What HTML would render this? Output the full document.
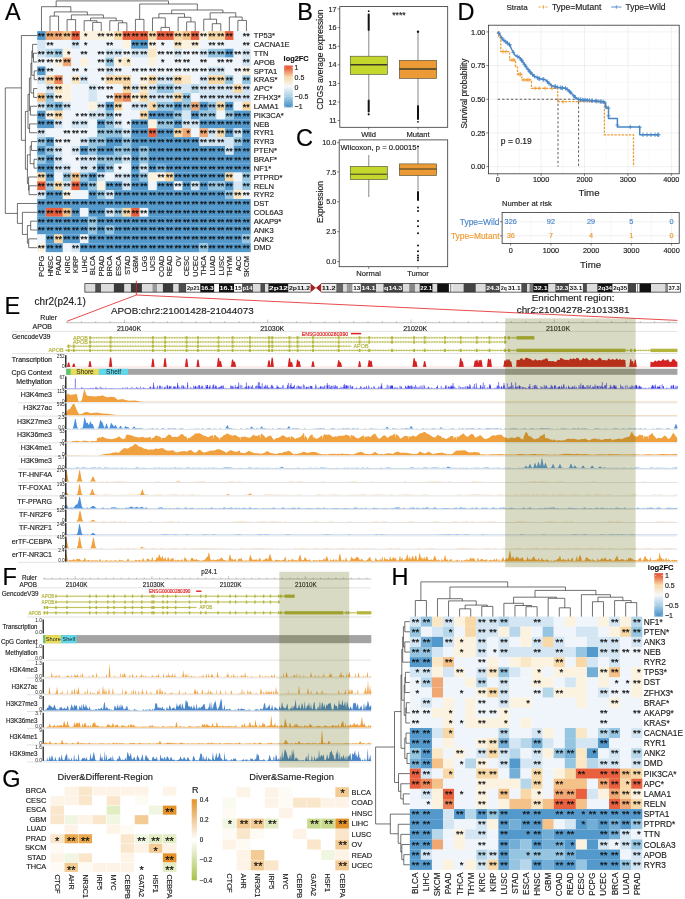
<!DOCTYPE html>
<html lang="en"><head><meta charset="utf-8"><title>Figure</title>
<style>html,body{margin:0;padding:0;background:#fff}svg{display:block}text{font-family:"Liberation Sans", Arial, sans-serif;stroke:#222;stroke-width:.16px}.st text{stroke:#111;stroke-width:.22px}.ns text,text.n{stroke:none}</style>
</head><body>
<svg width="685" height="899" viewBox="0 0 685 899" fill="#222">
<defs>
<linearGradient id="gRB" x1="0" y1="0" x2="0" y2="1"><stop offset="0" stop-color="#e8563a"/><stop offset="0.06" stop-color="#e9603f"/><stop offset="0.27" stop-color="#f7d8a6"/><stop offset="0.5" stop-color="#f6f8fb"/><stop offset="0.75" stop-color="#a6cde5"/><stop offset="0.96" stop-color="#5499cc"/><stop offset="1" stop-color="#4f95ca"/></linearGradient>
<linearGradient id="gOG" x1="0" y1="0" x2="0" y2="1"><stop offset="0" stop-color="#e3922a"/><stop offset="0.5" stop-color="#ffffff"/><stop offset="1" stop-color="#a8c24a"/></linearGradient>
</defs>
<rect x="0" y="0" width="685" height="899" fill="#fff"/>
<g id="pA">
<text x="5" y="19.8" font-size="23.5" fill="#000" style="stroke:#000">A</text>
<rect x="37.2" y="31.1" width="8.59" height="8.89" fill="#5499cc"/>
<rect x="45.74" y="31.1" width="17.13" height="8.89" fill="#f0a773"/>
<rect x="62.82" y="31.1" width="8.59" height="8.89" fill="#f4c189"/>
<rect x="71.36" y="31.1" width="8.59" height="8.89" fill="#e9603f"/>
<rect x="79.9" y="31.1" width="34.21" height="8.89" fill="#fbf3e0"/>
<rect x="114.06" y="31.1" width="8.59" height="8.89" fill="#f7d8a6"/>
<rect x="122.6" y="31.1" width="25.67" height="8.89" fill="#e9603f"/>
<rect x="148.22" y="31.1" width="8.59" height="8.89" fill="#f7d8a6"/>
<rect x="156.76" y="31.1" width="17.13" height="8.89" fill="#e9603f"/>
<rect x="173.84" y="31.1" width="8.59" height="8.89" fill="#f7d8a6"/>
<rect x="182.38" y="31.1" width="8.59" height="8.89" fill="#f4c189"/>
<rect x="190.92" y="31.1" width="8.59" height="8.89" fill="#e9603f"/>
<rect x="199.46" y="31.1" width="8.59" height="8.89" fill="#fbf3e0"/>
<rect x="208" y="31.1" width="17.13" height="8.89" fill="#f7d8a6"/>
<rect x="225.08" y="31.1" width="8.59" height="8.89" fill="#e9603f"/>
<rect x="233.62" y="31.1" width="17.13" height="8.89" fill="#eff5fa"/>
<rect x="37.2" y="39.94" width="8.59" height="8.89" fill="#d4e6f3"/>
<rect x="45.74" y="39.94" width="25.67" height="8.89" fill="#eff5fa"/>
<rect x="71.36" y="39.94" width="8.59" height="8.89" fill="#d4e6f3"/>
<rect x="79.9" y="39.94" width="42.75" height="8.89" fill="#eff5fa"/>
<rect x="122.6" y="39.94" width="8.59" height="8.89" fill="#fbf3e0"/>
<rect x="131.14" y="39.94" width="17.13" height="8.89" fill="#5499cc"/>
<rect x="148.22" y="39.94" width="8.59" height="8.89" fill="#fbf3e0"/>
<rect x="156.76" y="39.94" width="17.13" height="8.89" fill="#eff5fa"/>
<rect x="173.84" y="39.94" width="8.59" height="8.89" fill="#f9e7c6"/>
<rect x="182.38" y="39.94" width="17.13" height="8.89" fill="#fbf3e0"/>
<rect x="199.46" y="39.94" width="51.29" height="8.89" fill="#eff5fa"/>
<rect x="37.2" y="48.78" width="8.59" height="8.89" fill="#d4e6f3"/>
<rect x="45.74" y="48.78" width="8.59" height="8.89" fill="#b6d6ea"/>
<rect x="54.28" y="48.78" width="8.59" height="8.89" fill="#95c5e0"/>
<rect x="62.82" y="48.78" width="8.59" height="8.89" fill="#fbf3e0"/>
<rect x="71.36" y="48.78" width="34.21" height="8.89" fill="#eff5fa"/>
<rect x="105.52" y="48.78" width="17.13" height="8.89" fill="#d4e6f3"/>
<rect x="122.6" y="48.78" width="8.59" height="8.89" fill="#eff5fa"/>
<rect x="131.14" y="48.78" width="17.13" height="8.89" fill="#d4e6f3"/>
<rect x="148.22" y="48.78" width="8.59" height="8.89" fill="#f9e7c6"/>
<rect x="156.76" y="48.78" width="17.13" height="8.89" fill="#eff5fa"/>
<rect x="173.84" y="48.78" width="8.59" height="8.89" fill="#d4e6f3"/>
<rect x="182.38" y="48.78" width="17.13" height="8.89" fill="#eff5fa"/>
<rect x="199.46" y="48.78" width="8.59" height="8.89" fill="#d4e6f3"/>
<rect x="208" y="48.78" width="17.13" height="8.89" fill="#95c5e0"/>
<rect x="225.08" y="48.78" width="8.59" height="8.89" fill="#5499cc"/>
<rect x="233.62" y="48.78" width="8.59" height="8.89" fill="#eff5fa"/>
<rect x="242.16" y="48.78" width="8.59" height="8.89" fill="#d4e6f3"/>
<rect x="37.2" y="57.62" width="17.13" height="8.89" fill="#eff5fa"/>
<rect x="54.28" y="57.62" width="8.59" height="8.89" fill="#fbf3e0"/>
<rect x="62.82" y="57.62" width="8.59" height="8.89" fill="#f0a773"/>
<rect x="71.36" y="57.62" width="8.59" height="8.89" fill="#eff5fa"/>
<rect x="79.9" y="57.62" width="8.59" height="8.89" fill="#fbf3e0"/>
<rect x="88.44" y="57.62" width="17.13" height="8.89" fill="#eff5fa"/>
<rect x="105.52" y="57.62" width="8.59" height="8.89" fill="#95c5e0"/>
<rect x="114.06" y="57.62" width="8.59" height="8.89" fill="#fbf3e0"/>
<rect x="122.6" y="57.62" width="8.59" height="8.89" fill="#f9e7c6"/>
<rect x="131.14" y="57.62" width="17.13" height="8.89" fill="#eff5fa"/>
<rect x="148.22" y="57.62" width="8.59" height="8.89" fill="#fbf3e0"/>
<rect x="156.76" y="57.62" width="85.45" height="8.89" fill="#eff5fa"/>
<rect x="242.16" y="57.62" width="8.59" height="8.89" fill="#d4e6f3"/>
<rect x="37.2" y="66.46" width="8.59" height="8.89" fill="#5499cc"/>
<rect x="45.74" y="66.46" width="59.83" height="8.89" fill="#eff5fa"/>
<rect x="105.52" y="66.46" width="8.59" height="8.89" fill="#d4e6f3"/>
<rect x="114.06" y="66.46" width="93.99" height="8.89" fill="#eff5fa"/>
<rect x="208" y="66.46" width="17.13" height="8.89" fill="#d4e6f3"/>
<rect x="225.08" y="66.46" width="17.13" height="8.89" fill="#eff5fa"/>
<rect x="242.16" y="66.46" width="8.59" height="8.89" fill="#fbf3e0"/>
<rect x="37.2" y="75.3" width="8.59" height="8.89" fill="#d4e6f3"/>
<rect x="45.74" y="75.3" width="8.59" height="8.89" fill="#f7d8a6"/>
<rect x="54.28" y="75.3" width="8.59" height="8.89" fill="#ec8558"/>
<rect x="62.82" y="75.3" width="8.59" height="8.89" fill="#eff5fa"/>
<rect x="71.36" y="75.3" width="8.59" height="8.89" fill="#f9e7c6"/>
<rect x="79.9" y="75.3" width="8.59" height="8.89" fill="#d4e6f3"/>
<rect x="88.44" y="75.3" width="17.13" height="8.89" fill="#eff5fa"/>
<rect x="105.52" y="75.3" width="25.67" height="8.89" fill="#f7d8a6"/>
<rect x="131.14" y="75.3" width="8.59" height="8.89" fill="#eff5fa"/>
<rect x="139.68" y="75.3" width="8.59" height="8.89" fill="#fbf3e0"/>
<rect x="148.22" y="75.3" width="8.59" height="8.89" fill="#f7d8a6"/>
<rect x="156.76" y="75.3" width="17.13" height="8.89" fill="#d4e6f3"/>
<rect x="173.84" y="75.3" width="8.59" height="8.89" fill="#f7d8a6"/>
<rect x="182.38" y="75.3" width="8.59" height="8.89" fill="#f9e7c6"/>
<rect x="190.92" y="75.3" width="8.59" height="8.89" fill="#eff5fa"/>
<rect x="199.46" y="75.3" width="8.59" height="8.89" fill="#d4e6f3"/>
<rect x="208" y="75.3" width="17.13" height="8.89" fill="#f7d8a6"/>
<rect x="225.08" y="75.3" width="8.59" height="8.89" fill="#95c5e0"/>
<rect x="233.62" y="75.3" width="8.59" height="8.89" fill="#eff5fa"/>
<rect x="242.16" y="75.3" width="8.59" height="8.89" fill="#95c5e0"/>
<rect x="37.2" y="84.14" width="8.59" height="8.89" fill="#eff5fa"/>
<rect x="45.74" y="84.14" width="8.59" height="8.89" fill="#d4e6f3"/>
<rect x="54.28" y="84.14" width="8.59" height="8.89" fill="#f9e7c6"/>
<rect x="62.82" y="84.14" width="8.59" height="8.89" fill="#fbf3e0"/>
<rect x="71.36" y="84.14" width="17.13" height="8.89" fill="#eff5fa"/>
<rect x="88.44" y="84.14" width="8.59" height="8.89" fill="#d4e6f3"/>
<rect x="96.98" y="84.14" width="25.67" height="8.89" fill="#eff5fa"/>
<rect x="122.6" y="84.14" width="8.59" height="8.89" fill="#f7d8a6"/>
<rect x="131.14" y="84.14" width="8.59" height="8.89" fill="#d4e6f3"/>
<rect x="139.68" y="84.14" width="8.59" height="8.89" fill="#f9e7c6"/>
<rect x="148.22" y="84.14" width="8.59" height="8.89" fill="#d4e6f3"/>
<rect x="156.76" y="84.14" width="17.13" height="8.89" fill="#95c5e0"/>
<rect x="173.84" y="84.14" width="17.13" height="8.89" fill="#d4e6f3"/>
<rect x="190.92" y="84.14" width="8.59" height="8.89" fill="#b6d6ea"/>
<rect x="199.46" y="84.14" width="34.21" height="8.89" fill="#d4e6f3"/>
<rect x="233.62" y="84.14" width="8.59" height="8.89" fill="#f7d8a6"/>
<rect x="242.16" y="84.14" width="8.59" height="8.89" fill="#d4e6f3"/>
<rect x="37.2" y="92.98" width="8.59" height="8.89" fill="#f4c189"/>
<rect x="45.74" y="92.98" width="8.59" height="8.89" fill="#95c5e0"/>
<rect x="54.28" y="92.98" width="17.13" height="8.89" fill="#fbf3e0"/>
<rect x="71.36" y="92.98" width="17.13" height="8.89" fill="#eff5fa"/>
<rect x="88.44" y="92.98" width="8.59" height="8.89" fill="#d4e6f3"/>
<rect x="96.98" y="92.98" width="17.13" height="8.89" fill="#eff5fa"/>
<rect x="114.06" y="92.98" width="8.59" height="8.89" fill="#f0a773"/>
<rect x="122.6" y="92.98" width="8.59" height="8.89" fill="#ec8558"/>
<rect x="131.14" y="92.98" width="8.59" height="8.89" fill="#fbf3e0"/>
<rect x="139.68" y="92.98" width="8.59" height="8.89" fill="#f7d8a6"/>
<rect x="148.22" y="92.98" width="25.67" height="8.89" fill="#d4e6f3"/>
<rect x="173.84" y="92.98" width="8.59" height="8.89" fill="#f7d8a6"/>
<rect x="182.38" y="92.98" width="8.59" height="8.89" fill="#95c5e0"/>
<rect x="190.92" y="92.98" width="8.59" height="8.89" fill="#eff5fa"/>
<rect x="199.46" y="92.98" width="51.29" height="8.89" fill="#d4e6f3"/>
<rect x="37.2" y="101.82" width="8.59" height="8.89" fill="#d4e6f3"/>
<rect x="45.74" y="101.82" width="8.59" height="8.89" fill="#95c5e0"/>
<rect x="54.28" y="101.82" width="8.59" height="8.89" fill="#72aed6"/>
<rect x="62.82" y="101.82" width="8.59" height="8.89" fill="#d4e6f3"/>
<rect x="71.36" y="101.82" width="17.13" height="8.89" fill="#eff5fa"/>
<rect x="88.44" y="101.82" width="8.59" height="8.89" fill="#fbf3e0"/>
<rect x="96.98" y="101.82" width="8.59" height="8.89" fill="#d4e6f3"/>
<rect x="105.52" y="101.82" width="8.59" height="8.89" fill="#5499cc"/>
<rect x="114.06" y="101.82" width="8.59" height="8.89" fill="#f7d8a6"/>
<rect x="122.6" y="101.82" width="8.59" height="8.89" fill="#eff5fa"/>
<rect x="131.14" y="101.82" width="17.13" height="8.89" fill="#d4e6f3"/>
<rect x="148.22" y="101.82" width="8.59" height="8.89" fill="#f7d8a6"/>
<rect x="156.76" y="101.82" width="17.13" height="8.89" fill="#95c5e0"/>
<rect x="173.84" y="101.82" width="8.59" height="8.89" fill="#5499cc"/>
<rect x="182.38" y="101.82" width="8.59" height="8.89" fill="#95c5e0"/>
<rect x="190.92" y="101.82" width="8.59" height="8.89" fill="#f0a773"/>
<rect x="199.46" y="101.82" width="8.59" height="8.89" fill="#5499cc"/>
<rect x="208" y="101.82" width="8.59" height="8.89" fill="#95c5e0"/>
<rect x="216.54" y="101.82" width="8.59" height="8.89" fill="#f7d8a6"/>
<rect x="225.08" y="101.82" width="8.59" height="8.89" fill="#5499cc"/>
<rect x="233.62" y="101.82" width="8.59" height="8.89" fill="#eff5fa"/>
<rect x="242.16" y="101.82" width="8.59" height="8.89" fill="#f7d8a6"/>
<rect x="37.2" y="110.66" width="8.59" height="8.89" fill="#5499cc"/>
<rect x="45.74" y="110.66" width="8.59" height="8.89" fill="#fbf3e0"/>
<rect x="54.28" y="110.66" width="8.59" height="8.89" fill="#f7d8a6"/>
<rect x="62.82" y="110.66" width="25.67" height="8.89" fill="#eff5fa"/>
<rect x="88.44" y="110.66" width="17.13" height="8.89" fill="#d4e6f3"/>
<rect x="105.52" y="110.66" width="8.59" height="8.89" fill="#95c5e0"/>
<rect x="114.06" y="110.66" width="25.67" height="8.89" fill="#eff5fa"/>
<rect x="139.68" y="110.66" width="8.59" height="8.89" fill="#f7d8a6"/>
<rect x="148.22" y="110.66" width="25.67" height="8.89" fill="#5499cc"/>
<rect x="173.84" y="110.66" width="8.59" height="8.89" fill="#95c5e0"/>
<rect x="182.38" y="110.66" width="8.59" height="8.89" fill="#d4e6f3"/>
<rect x="190.92" y="110.66" width="8.59" height="8.89" fill="#5499cc"/>
<rect x="199.46" y="110.66" width="17.13" height="8.89" fill="#95c5e0"/>
<rect x="216.54" y="110.66" width="8.59" height="8.89" fill="#eff5fa"/>
<rect x="225.08" y="110.66" width="8.59" height="8.89" fill="#95c5e0"/>
<rect x="233.62" y="110.66" width="17.13" height="8.89" fill="#5499cc"/>
<rect x="37.2" y="119.5" width="17.13" height="8.89" fill="#5499cc"/>
<rect x="54.28" y="119.5" width="8.59" height="8.89" fill="#d4e6f3"/>
<rect x="62.82" y="119.5" width="8.59" height="8.89" fill="#eff5fa"/>
<rect x="71.36" y="119.5" width="17.13" height="8.89" fill="#d4e6f3"/>
<rect x="88.44" y="119.5" width="8.59" height="8.89" fill="#eff5fa"/>
<rect x="96.98" y="119.5" width="8.59" height="8.89" fill="#5499cc"/>
<rect x="105.52" y="119.5" width="8.59" height="8.89" fill="#95c5e0"/>
<rect x="114.06" y="119.5" width="8.59" height="8.89" fill="#d4e6f3"/>
<rect x="122.6" y="119.5" width="8.59" height="8.89" fill="#eff5fa"/>
<rect x="131.14" y="119.5" width="17.13" height="8.89" fill="#5499cc"/>
<rect x="148.22" y="119.5" width="8.59" height="8.89" fill="#fbf3e0"/>
<rect x="156.76" y="119.5" width="17.13" height="8.89" fill="#95c5e0"/>
<rect x="173.84" y="119.5" width="8.59" height="8.89" fill="#5499cc"/>
<rect x="182.38" y="119.5" width="17.13" height="8.89" fill="#d4e6f3"/>
<rect x="199.46" y="119.5" width="51.29" height="8.89" fill="#5499cc"/>
<rect x="37.2" y="128.34" width="8.59" height="8.89" fill="#d4e6f3"/>
<rect x="45.74" y="128.34" width="51.29" height="8.89" fill="#eff5fa"/>
<rect x="96.98" y="128.34" width="25.67" height="8.89" fill="#95c5e0"/>
<rect x="122.6" y="128.34" width="8.59" height="8.89" fill="#d4e6f3"/>
<rect x="131.14" y="128.34" width="17.13" height="8.89" fill="#5499cc"/>
<rect x="148.22" y="128.34" width="8.59" height="8.89" fill="#e9603f"/>
<rect x="156.76" y="128.34" width="17.13" height="8.89" fill="#5499cc"/>
<rect x="173.84" y="128.34" width="8.59" height="8.89" fill="#f7d8a6"/>
<rect x="182.38" y="128.34" width="8.59" height="8.89" fill="#f0a773"/>
<rect x="190.92" y="128.34" width="8.59" height="8.89" fill="#eff5fa"/>
<rect x="199.46" y="128.34" width="8.59" height="8.89" fill="#f0a773"/>
<rect x="208" y="128.34" width="8.59" height="8.89" fill="#d4e6f3"/>
<rect x="216.54" y="128.34" width="8.59" height="8.89" fill="#f7d8a6"/>
<rect x="225.08" y="128.34" width="8.59" height="8.89" fill="#5499cc"/>
<rect x="233.62" y="128.34" width="8.59" height="8.89" fill="#d4e6f3"/>
<rect x="242.16" y="128.34" width="8.59" height="8.89" fill="#5499cc"/>
<rect x="37.2" y="137.18" width="8.59" height="8.89" fill="#95c5e0"/>
<rect x="45.74" y="137.18" width="8.59" height="8.89" fill="#5499cc"/>
<rect x="54.28" y="137.18" width="25.67" height="8.89" fill="#eff5fa"/>
<rect x="79.9" y="137.18" width="8.59" height="8.89" fill="#d4e6f3"/>
<rect x="88.44" y="137.18" width="17.13" height="8.89" fill="#95c5e0"/>
<rect x="105.52" y="137.18" width="17.13" height="8.89" fill="#5499cc"/>
<rect x="122.6" y="137.18" width="8.59" height="8.89" fill="#95c5e0"/>
<rect x="131.14" y="137.18" width="68.37" height="8.89" fill="#5499cc"/>
<rect x="199.46" y="137.18" width="34.21" height="8.89" fill="#d4e6f3"/>
<rect x="233.62" y="137.18" width="8.59" height="8.89" fill="#95c5e0"/>
<rect x="242.16" y="137.18" width="8.59" height="8.89" fill="#5499cc"/>
<rect x="37.2" y="146.02" width="8.59" height="8.89" fill="#5499cc"/>
<rect x="45.74" y="146.02" width="8.59" height="8.89" fill="#95c5e0"/>
<rect x="54.28" y="146.02" width="8.59" height="8.89" fill="#d4e6f3"/>
<rect x="62.82" y="146.02" width="8.59" height="8.89" fill="#eff5fa"/>
<rect x="71.36" y="146.02" width="8.59" height="8.89" fill="#d4e6f3"/>
<rect x="79.9" y="146.02" width="8.59" height="8.89" fill="#5499cc"/>
<rect x="88.44" y="146.02" width="8.59" height="8.89" fill="#95c5e0"/>
<rect x="96.98" y="146.02" width="17.13" height="8.89" fill="#5499cc"/>
<rect x="114.06" y="146.02" width="17.13" height="8.89" fill="#95c5e0"/>
<rect x="131.14" y="146.02" width="8.59" height="8.89" fill="#5499cc"/>
<rect x="139.68" y="146.02" width="8.59" height="8.89" fill="#95c5e0"/>
<rect x="148.22" y="146.02" width="76.91" height="8.89" fill="#5499cc"/>
<rect x="225.08" y="146.02" width="8.59" height="8.89" fill="#d4e6f3"/>
<rect x="233.62" y="146.02" width="17.13" height="8.89" fill="#5499cc"/>
<rect x="37.2" y="154.86" width="8.59" height="8.89" fill="#95c5e0"/>
<rect x="45.74" y="154.86" width="8.59" height="8.89" fill="#5499cc"/>
<rect x="54.28" y="154.86" width="8.59" height="8.89" fill="#d4e6f3"/>
<rect x="62.82" y="154.86" width="17.13" height="8.89" fill="#eff5fa"/>
<rect x="79.9" y="154.86" width="17.13" height="8.89" fill="#d4e6f3"/>
<rect x="96.98" y="154.86" width="25.67" height="8.89" fill="#95c5e0"/>
<rect x="122.6" y="154.86" width="8.59" height="8.89" fill="#d4e6f3"/>
<rect x="131.14" y="154.86" width="8.59" height="8.89" fill="#5499cc"/>
<rect x="139.68" y="154.86" width="8.59" height="8.89" fill="#95c5e0"/>
<rect x="148.22" y="154.86" width="102.53" height="8.89" fill="#5499cc"/>
<rect x="37.2" y="163.7" width="17.13" height="8.89" fill="#5499cc"/>
<rect x="54.28" y="163.7" width="17.13" height="8.89" fill="#d4e6f3"/>
<rect x="71.36" y="163.7" width="8.59" height="8.89" fill="#eff5fa"/>
<rect x="79.9" y="163.7" width="17.13" height="8.89" fill="#d4e6f3"/>
<rect x="96.98" y="163.7" width="8.59" height="8.89" fill="#5499cc"/>
<rect x="105.52" y="163.7" width="8.59" height="8.89" fill="#95c5e0"/>
<rect x="114.06" y="163.7" width="17.13" height="8.89" fill="#eff5fa"/>
<rect x="131.14" y="163.7" width="8.59" height="8.89" fill="#5499cc"/>
<rect x="139.68" y="163.7" width="8.59" height="8.89" fill="#d4e6f3"/>
<rect x="148.22" y="163.7" width="8.59" height="8.89" fill="#5499cc"/>
<rect x="156.76" y="163.7" width="8.59" height="8.89" fill="#72aed6"/>
<rect x="165.3" y="163.7" width="85.45" height="8.89" fill="#5499cc"/>
<rect x="37.2" y="172.54" width="8.59" height="8.89" fill="#f7d8a6"/>
<rect x="45.74" y="172.54" width="8.59" height="8.89" fill="#5499cc"/>
<rect x="54.28" y="172.54" width="8.59" height="8.89" fill="#eff5fa"/>
<rect x="62.82" y="172.54" width="8.59" height="8.89" fill="#95c5e0"/>
<rect x="71.36" y="172.54" width="8.59" height="8.89" fill="#f4c189"/>
<rect x="79.9" y="172.54" width="8.59" height="8.89" fill="#95c5e0"/>
<rect x="88.44" y="172.54" width="8.59" height="8.89" fill="#5499cc"/>
<rect x="96.98" y="172.54" width="8.59" height="8.89" fill="#d4e6f3"/>
<rect x="105.52" y="172.54" width="8.59" height="8.89" fill="#eff5fa"/>
<rect x="114.06" y="172.54" width="17.13" height="8.89" fill="#d4e6f3"/>
<rect x="131.14" y="172.54" width="8.59" height="8.89" fill="#5499cc"/>
<rect x="139.68" y="172.54" width="8.59" height="8.89" fill="#95c5e0"/>
<rect x="148.22" y="172.54" width="17.13" height="8.89" fill="#fbf3e0"/>
<rect x="165.3" y="172.54" width="8.59" height="8.89" fill="#f7d8a6"/>
<rect x="173.84" y="172.54" width="51.29" height="8.89" fill="#5499cc"/>
<rect x="225.08" y="172.54" width="8.59" height="8.89" fill="#f7d8a6"/>
<rect x="233.62" y="172.54" width="8.59" height="8.89" fill="#eff5fa"/>
<rect x="242.16" y="172.54" width="8.59" height="8.89" fill="#95c5e0"/>
<rect x="37.2" y="181.38" width="8.59" height="8.89" fill="#e9603f"/>
<rect x="45.74" y="181.38" width="8.59" height="8.89" fill="#95c5e0"/>
<rect x="54.28" y="181.38" width="8.59" height="8.89" fill="#f7d8a6"/>
<rect x="62.82" y="181.38" width="8.59" height="8.89" fill="#d4e6f3"/>
<rect x="71.36" y="181.38" width="8.59" height="8.89" fill="#e9603f"/>
<rect x="79.9" y="181.38" width="8.59" height="8.89" fill="#5499cc"/>
<rect x="88.44" y="181.38" width="8.59" height="8.89" fill="#95c5e0"/>
<rect x="96.98" y="181.38" width="8.59" height="8.89" fill="#fbf3e0"/>
<rect x="105.52" y="181.38" width="17.13" height="8.89" fill="#5499cc"/>
<rect x="122.6" y="181.38" width="8.59" height="8.89" fill="#d4e6f3"/>
<rect x="131.14" y="181.38" width="17.13" height="8.89" fill="#5499cc"/>
<rect x="148.22" y="181.38" width="8.59" height="8.89" fill="#eff5fa"/>
<rect x="156.76" y="181.38" width="17.13" height="8.89" fill="#5499cc"/>
<rect x="173.84" y="181.38" width="8.59" height="8.89" fill="#eff5fa"/>
<rect x="182.38" y="181.38" width="8.59" height="8.89" fill="#5499cc"/>
<rect x="190.92" y="181.38" width="8.59" height="8.89" fill="#d4e6f3"/>
<rect x="199.46" y="181.38" width="8.59" height="8.89" fill="#5499cc"/>
<rect x="208" y="181.38" width="17.13" height="8.89" fill="#95c5e0"/>
<rect x="225.08" y="181.38" width="8.59" height="8.89" fill="#5499cc"/>
<rect x="233.62" y="181.38" width="8.59" height="8.89" fill="#d4e6f3"/>
<rect x="242.16" y="181.38" width="8.59" height="8.89" fill="#95c5e0"/>
<rect x="37.2" y="190.22" width="8.59" height="8.89" fill="#d4e6f3"/>
<rect x="45.74" y="190.22" width="17.13" height="8.89" fill="#5499cc"/>
<rect x="62.82" y="190.22" width="8.59" height="8.89" fill="#fbf3e0"/>
<rect x="71.36" y="190.22" width="17.13" height="8.89" fill="#eff5fa"/>
<rect x="88.44" y="190.22" width="8.59" height="8.89" fill="#5499cc"/>
<rect x="96.98" y="190.22" width="8.59" height="8.89" fill="#95c5e0"/>
<rect x="105.52" y="190.22" width="8.59" height="8.89" fill="#d4e6f3"/>
<rect x="114.06" y="190.22" width="111.07" height="8.89" fill="#5499cc"/>
<rect x="225.08" y="190.22" width="8.59" height="8.89" fill="#95c5e0"/>
<rect x="233.62" y="190.22" width="8.59" height="8.89" fill="#f9e7c6"/>
<rect x="242.16" y="190.22" width="8.59" height="8.89" fill="#eff5fa"/>
<rect x="37.2" y="199.06" width="213.55" height="8.89" fill="#5499cc"/>
<rect x="37.2" y="207.9" width="8.59" height="8.89" fill="#5499cc"/>
<rect x="45.74" y="207.9" width="17.13" height="8.89" fill="#e9603f"/>
<rect x="62.82" y="207.9" width="8.59" height="8.89" fill="#f4c189"/>
<rect x="71.36" y="207.9" width="8.59" height="8.89" fill="#5499cc"/>
<rect x="79.9" y="207.9" width="8.59" height="8.89" fill="#eff5fa"/>
<rect x="88.44" y="207.9" width="17.13" height="8.89" fill="#5499cc"/>
<rect x="105.52" y="207.9" width="8.59" height="8.89" fill="#d4e6f3"/>
<rect x="114.06" y="207.9" width="8.59" height="8.89" fill="#95c5e0"/>
<rect x="122.6" y="207.9" width="8.59" height="8.89" fill="#f7d8a6"/>
<rect x="131.14" y="207.9" width="8.59" height="8.89" fill="#e9603f"/>
<rect x="139.68" y="207.9" width="8.59" height="8.89" fill="#eff5fa"/>
<rect x="148.22" y="207.9" width="102.53" height="8.89" fill="#5499cc"/>
<rect x="37.2" y="216.74" width="51.29" height="8.89" fill="#5499cc"/>
<rect x="88.44" y="216.74" width="8.59" height="8.89" fill="#95c5e0"/>
<rect x="96.98" y="216.74" width="153.77" height="8.89" fill="#5499cc"/>
<rect x="37.2" y="225.58" width="51.29" height="8.89" fill="#5499cc"/>
<rect x="88.44" y="225.58" width="8.59" height="8.89" fill="#95c5e0"/>
<rect x="96.98" y="225.58" width="8.59" height="8.89" fill="#5499cc"/>
<rect x="105.52" y="225.58" width="8.59" height="8.89" fill="#95c5e0"/>
<rect x="114.06" y="225.58" width="136.69" height="8.89" fill="#5499cc"/>
<rect x="37.2" y="234.42" width="8.59" height="8.89" fill="#eff5fa"/>
<rect x="45.74" y="234.42" width="8.59" height="8.89" fill="#5499cc"/>
<rect x="54.28" y="234.42" width="8.59" height="8.89" fill="#f7d8a6"/>
<rect x="62.82" y="234.42" width="17.13" height="8.89" fill="#5499cc"/>
<rect x="79.9" y="234.42" width="8.59" height="8.89" fill="#eff5fa"/>
<rect x="88.44" y="234.42" width="153.77" height="8.89" fill="#5499cc"/>
<rect x="242.16" y="234.42" width="8.59" height="8.89" fill="#95c5e0"/>
<rect x="37.2" y="243.26" width="8.59" height="8.89" fill="#fbf3e0"/>
<rect x="45.74" y="243.26" width="17.13" height="8.89" fill="#5499cc"/>
<rect x="62.82" y="243.26" width="8.59" height="8.89" fill="#eff5fa"/>
<rect x="71.36" y="243.26" width="8.59" height="8.89" fill="#d4e6f3"/>
<rect x="79.9" y="243.26" width="119.61" height="8.89" fill="#5499cc"/>
<rect x="199.46" y="243.26" width="8.59" height="8.89" fill="#95c5e0"/>
<rect x="208" y="243.26" width="42.75" height="8.89" fill="#5499cc"/>
<g font-size="9" fill="#111" class="st">
<text y="38.9" x="37.8 41.3 46.4 49.9 54.9 58.4 63.5 67 72 75.5 84 97.6 101.1 106.2 109.7 114.7 118.2 123.2 126.7 131.8 135.3 140.3 143.8 148.9 152.4 157.4 160.9 165.9 169.4 174.5 178 183 186.5 191.6 195.1 200.1 203.6 208.6 212.1 217.2 220.7 225.7 229.2 242.8 246.3">*********************************************</text>
<text y="47.7" x="46.4 49.9 72 75.5 84 106.2 109.7 131.8 135.3 140.3 143.8 148.9 152.4 160.9 174.5 178 191.6 195.1 208.6 212.1 217.2 220.7 242.8 246.3">************************</text>
<text y="56.6" x="37.8 41.3 46.4 49.9 54.9 58.4 67 80.5 84 97.6 101.1 106.2 109.7 114.7 118.2 123.2 126.7 131.8 135.3 140.3 143.8 157.4 160.9 165.9 169.4 174.5 178 183 186.5 191.6 195.1 200.1 203.6 208.6 212.1 217.2 220.7 225.7 229.2 234.3 237.8 242.8 246.3">*******************************************</text>
<text y="65.4" x="37.8 41.3 46.4 49.9 54.9 58.4 63.5 67 97.6 101.1 106.2 109.7 118.2 126.7 160.9 174.5 178 183 186.5 200.1 203.6 217.2 220.7 225.7 229.2 242.8 246.3">***************************</text>
<text y="74.3" x="37.8 41.3 46.4 49.9 72 75.5 84 97.6 101.1 106.2 109.7 114.7 118.2 131.8 135.3 140.3 143.8 148.9 152.4 157.4 160.9 165.9 169.4 174.5 178 183 186.5 191.6 195.1 200.1 203.6 208.6 212.1 217.2 220.7 234.3 237.8 242.8 246.3">***************************************</text>
<text y="83.1" x="37.8 41.3 46.4 49.9 54.9 58.4 72 75.5 80.5 84 101.1 106.2 109.7 114.7 118.2 123.2 126.7 140.3 143.8 148.9 152.4 157.4 160.9 165.9 169.4 174.5 178 200.1 203.6 208.6 212.1 217.2 220.7 225.7 229.2 242.8 246.3">*************************************</text>
<text y="91.9" x="46.4 49.9 54.9 58.4 89.1 92.6 97.6 101.1 106.2 109.7 123.2 126.7 131.8 135.3 140.3 143.8 148.9 152.4 157.4 160.9 165.9 169.4 174.5 178 191.6 195.1 200.1 203.6 208.6 212.1 217.2 220.7 225.7 229.2 234.3 237.8 242.8 246.3">**************************************</text>
<text y="100.8" x="37.8 41.3 46.4 49.9 54.9 58.4 106.2 109.7 114.7 118.2 123.2 126.7 131.8 135.3 140.3 143.8 148.9 152.4 157.4 160.9 165.9 169.4 174.5 178 183 186.5 200.1 203.6 208.6 212.1 217.2 220.7 225.7 229.2 234.3 237.8 242.8 246.3">**************************************</text>
<text y="109.6" x="37.8 41.3 46.4 49.9 54.9 58.4 63.5 67 97.6 101.1 106.2 109.7 114.7 118.2 131.8 135.3 140.3 143.8 152.4 157.4 160.9 165.9 169.4 174.5 178 183 186.5 191.6 195.1 200.1 203.6 208.6 212.1 217.2 220.7 225.7 229.2 242.8 246.3">***************************************</text>
<text y="118.5" x="37.8 41.3 46.4 49.9 54.9 58.4 75.5 80.5 84 89.1 92.6 97.6 101.1 106.2 109.7 114.7 118.2 140.3 143.8 148.9 152.4 157.4 160.9 165.9 169.4 174.5 178 191.6 195.1 200.1 203.6 208.6 212.1 225.7 229.2 234.3 237.8 242.8 246.3">***************************************</text>
<text y="127.3" x="37.8 41.3 46.4 49.9 54.9 58.4 72 75.5 80.5 84 97.6 101.1 106.2 109.7 114.7 118.2 126.7 131.8 135.3 140.3 143.8 157.4 160.9 165.9 169.4 174.5 178 183 186.5 191.6 195.1 200.1 203.6 208.6 212.1 217.2 220.7 225.7 229.2 234.3 237.8 242.8 246.3">*******************************************</text>
<text y="136.1" x="37.8 41.3 63.5 67 72 75.5 80.5 84 97.6 101.1 106.2 109.7 114.7 118.2 123.2 126.7 131.8 135.3 140.3 143.8 148.9 152.4 157.4 160.9 165.9 169.4 174.5 178 186.5 200.1 203.6 208.6 212.1 217.2 220.7 225.7 229.2 234.3 237.8 242.8 246.3">*****************************************</text>
<text y="145" x="37.8 41.3 46.4 49.9 54.9 58.4 63.5 67 80.5 84 89.1 92.6 97.6 101.1 106.2 109.7 114.7 118.2 123.2 126.7 131.8 135.3 140.3 143.8 148.9 152.4 157.4 160.9 165.9 169.4 174.5 178 183 186.5 191.6 195.1 200.1 203.6 208.6 212.1 217.2 220.7 234.3 237.8 242.8 246.3">**********************************************</text>
<text y="153.8" x="37.8 41.3 46.4 49.9 54.9 58.4 72 75.5 80.5 84 89.1 92.6 97.6 101.1 106.2 109.7 114.7 118.2 123.2 126.7 131.8 135.3 140.3 143.8 148.9 152.4 157.4 160.9 165.9 169.4 174.5 178 183 186.5 191.6 195.1 200.1 203.6 208.6 212.1 217.2 220.7 225.7 229.2 234.3 237.8 242.8 246.3">************************************************</text>
<text y="162.7" x="37.8 41.3 46.4 49.9 54.9 58.4 75.5 80.5 84 89.1 92.6 97.6 101.1 106.2 109.7 114.7 118.2 123.2 126.7 131.8 135.3 140.3 143.8 148.9 152.4 157.4 160.9 165.9 169.4 174.5 178 183 186.5 191.6 195.1 200.1 203.6 208.6 212.1 217.2 220.7 225.7 229.2 234.3 237.8 242.8 246.3">***********************************************</text>
<text y="171.5" x="37.8 41.3 46.4 49.9 54.9 58.4 63.5 67 80.5 84 92.6 97.6 101.1 106.2 109.7 118.2 131.8 135.3 140.3 143.8 148.9 152.4 157.4 160.9 165.9 169.4 174.5 178 183 186.5 191.6 195.1 200.1 203.6 208.6 212.1 217.2 220.7 225.7 229.2 234.3 237.8 242.8 246.3">********************************************</text>
<text y="180.3" x="37.8 41.3 46.4 49.9 63.5 67 72 75.5 80.5 84 89.1 92.6 97.6 101.1 114.7 118.2 123.2 126.7 131.8 135.3 140.3 143.8 157.4 160.9 165.9 169.4 174.5 178 183 186.5 191.6 195.1 200.1 203.6 208.6 212.1 217.2 220.7 225.7 229.2 242.8 246.3">******************************************</text>
<text y="189.2" x="37.8 41.3 46.4 49.9 54.9 58.4 63.5 67 72 75.5 80.5 84 89.1 92.6 106.2 109.7 114.7 118.2 123.2 126.7 131.8 135.3 140.3 143.8 157.4 160.9 165.9 169.4 174.5 178 183 186.5 191.6 195.1 200.1 203.6 208.6 212.1 217.2 220.7 225.7 229.2 242.8 246.3">********************************************</text>
<text y="198" x="37.8 41.3 46.4 49.9 54.9 58.4 63.5 67 89.1 92.6 97.6 101.1 106.2 109.7 114.7 118.2 123.2 126.7 131.8 135.3 140.3 143.8 148.9 152.4 157.4 160.9 165.9 169.4 174.5 178 183 186.5 191.6 195.1 200.1 203.6 208.6 212.1 217.2 220.7 225.7 229.2 234.3 237.8 242.8 246.3">**********************************************</text>
<text y="206.9" x="37.8 41.3 46.4 49.9 54.9 58.4 63.5 67 72 75.5 80.5 84 89.1 92.6 97.6 101.1 106.2 109.7 114.7 118.2 123.2 126.7 131.8 135.3 140.3 143.8 148.9 152.4 157.4 160.9 165.9 169.4 174.5 178 183 186.5 191.6 195.1 200.1 203.6 208.6 212.1 217.2 220.7 225.7 229.2 234.3 237.8 242.8 246.3">**************************************************</text>
<text y="215.7" x="37.8 41.3 46.4 49.9 54.9 58.4 63.5 67 72 75.5 89.1 92.6 97.6 101.1 106.2 109.7 114.7 118.2 123.2 126.7 131.8 135.3 140.3 143.8 148.9 152.4 157.4 160.9 165.9 169.4 174.5 178 183 186.5 191.6 195.1 200.1 203.6 208.6 212.1 217.2 220.7 225.7 229.2 234.3 237.8 242.8 246.3">************************************************</text>
<text y="224.5" x="37.8 41.3 46.4 49.9 54.9 58.4 63.5 67 72 75.5 80.5 84 89.1 92.6 97.6 101.1 106.2 109.7 114.7 118.2 123.2 126.7 131.8 135.3 140.3 143.8 148.9 152.4 157.4 160.9 165.9 169.4 174.5 178 183 186.5 191.6 195.1 200.1 203.6 208.6 212.1 217.2 220.7 225.7 229.2 234.3 237.8 242.8 246.3">**************************************************</text>
<text y="233.4" x="37.8 41.3 46.4 49.9 54.9 58.4 63.5 67 72 75.5 80.5 84 89.1 92.6 97.6 101.1 106.2 109.7 114.7 118.2 123.2 126.7 131.8 135.3 140.3 143.8 148.9 152.4 157.4 160.9 165.9 169.4 174.5 178 183 186.5 191.6 195.1 200.1 203.6 208.6 212.1 217.2 220.7 225.7 229.2 234.3 237.8 242.8 246.3">**************************************************</text>
<text y="242.2" x="46.4 49.9 54.9 58.4 63.5 67 72 75.5 80.5 84 89.1 92.6 97.6 101.1 106.2 109.7 114.7 118.2 123.2 126.7 131.8 135.3 140.3 143.8 148.9 152.4 157.4 160.9 165.9 169.4 174.5 178 183 186.5 191.6 195.1 200.1 203.6 208.6 212.1 217.2 220.7 225.7 229.2 234.3 237.8 242.8 246.3">************************************************</text>
<text y="251.1" x="37.8 41.3 46.4 49.9 54.9 58.4 72 75.5 80.5 84 89.1 92.6 97.6 101.1 106.2 109.7 114.7 118.2 123.2 126.7 131.8 135.3 140.3 143.8 148.9 152.4 157.4 160.9 165.9 169.4 174.5 178 183 186.5 191.6 195.1 200.1 203.6 208.6 212.1 217.2 220.7 225.7 229.2 234.3 237.8 242.8 246.3">************************************************</text>
</g>
<path d="M50.01,31.1V16.1H58.55V31.1M67.09,31.1V19.6H75.63V31.1M92.71,31.1V22.4H101.25V31.1M84.17,31.1V20.7H96.98V22.4M118.33,31.1V22.8H126.87V31.1M109.79,31.1V20.7H122.6V22.8M90.57,20.7V18H116.19V20.7M71.36,19.6V14.9H103.38V18M54.28,16.1V11.9H87.37V14.9M41.47,31.1V6.7H70.83V11.9M135.41,31.1V19.4H143.95V31.1M161.03,31.1V27.4H169.57V31.1M152.49,31.1V17.9H165.3V27.4M186.65,31.1V21.9H195.19V31.1M178.11,31.1V17.3H190.92V21.9M158.89,17.9V13.7H184.51V17.3M212.27,31.1V23.7H220.81V31.1M203.73,31.1V19.2H216.54V23.7M237.89,31.1V20.4H246.43V31.1M229.35,31.1V17H242.16V20.4M210.13,19.2V12.8H235.75V17M171.7,13.7V10H222.94V12.8M139.68,19.4V4H197.32V10M56.15,6.7V0.9H168.5V4" stroke="#333" stroke-width="0.7" fill="none"/>
<path d="M37.2,53.2H33.5V62.04H37.2M37.2,44.36H32.6V57.62H33.5M37.2,70.88H34.2V79.72H37.2M32.6,50.99H31.8V75.3H34.2M37.2,88.56H33.6V97.4H37.2M31.8,63.14H30.9V92.98H33.6M37.2,106.24H30.4V115.08H37.2M30.9,78.06H29.4V110.66H30.4M37.2,123.92H29.6V132.76H37.2M29.4,94.36H28V128.34H29.6M37.2,141.6H31.4V150.44H37.2M37.2,159.28H34V168.12H37.2M31.4,146.02H30.2V163.7H34M37.2,185.8H29.1V194.64H37.2M37.2,176.96H28.6V190.22H29.1M30.2,154.86H27.4V183.59H28.6M28,111.35H25.4V169.22H27.4M37.2,35.52H21.4V140.29H25.4M37.2,221.16H30.7V230H37.2M37.2,238.84H28.7V247.68H37.2M30.7,225.58H27.4V243.26H28.7M37.2,212.32H22.4V234.42H27.4M37.2,203.48H17.4V223.37H22.4M21.4,87.9H5.3V213.43H17.4" stroke="#333" stroke-width="0.7" fill="none"/>
<g font-size="7.6">
<text x="253.8" y="38.22" font-size="7.6">TP53*</text>
<text x="253.8" y="47.06" font-size="7.6">CACNA1E</text>
<text x="253.8" y="55.9" font-size="7.6">TTN</text>
<text x="253.8" y="64.74" font-size="7.6">APOB</text>
<text x="253.8" y="73.58" font-size="7.6">SPTA1</text>
<text x="253.8" y="82.42" font-size="7.6">KRAS*</text>
<text x="253.8" y="91.26" font-size="7.6">APC*</text>
<text x="253.8" y="100.1" font-size="7.6">ZFHX3*</text>
<text x="253.8" y="108.94" font-size="7.6">LAMA1</text>
<text x="253.8" y="117.78" font-size="7.6">PIK3CA*</text>
<text x="253.8" y="126.62" font-size="7.6">NEB</text>
<text x="253.8" y="135.46" font-size="7.6">RYR1</text>
<text x="253.8" y="144.3" font-size="7.6">RYR3</text>
<text x="253.8" y="153.14" font-size="7.6">PTEN*</text>
<text x="253.8" y="161.98" font-size="7.6">BRAF*</text>
<text x="253.8" y="170.82" font-size="7.6">NF1*</text>
<text x="253.8" y="179.66" font-size="7.6">PTPRD*</text>
<text x="253.8" y="188.5" font-size="7.6">RELN</text>
<text x="253.8" y="197.34" font-size="7.6">RYR2</text>
<text x="253.8" y="206.18" font-size="7.6">DST</text>
<text x="253.8" y="215.02" font-size="7.6">COL6A3</text>
<text x="253.8" y="223.86" font-size="7.6">AKAP9*</text>
<text x="253.8" y="232.7" font-size="7.6">ANK3</text>
<text x="253.8" y="241.54" font-size="7.6">ANK2</text>
<text x="253.8" y="250.38" font-size="7.6">DMD</text>
</g>
<text x="44.17" y="255.8" font-size="7.35" text-anchor="end" transform="rotate(-90 44.17 255.8)">PCPG</text>
<text x="52.71" y="255.8" font-size="7.35" text-anchor="end" transform="rotate(-90 52.71 255.8)">HNSC</text>
<text x="61.25" y="255.8" font-size="7.35" text-anchor="end" transform="rotate(-90 61.25 255.8)">PAAD</text>
<text x="69.79" y="255.8" font-size="7.35" text-anchor="end" transform="rotate(-90 69.79 255.8)">KIRC</text>
<text x="78.33" y="255.8" font-size="7.35" text-anchor="end" transform="rotate(-90 78.33 255.8)">KIRP</text>
<text x="86.87" y="255.8" font-size="7.35" text-anchor="end" transform="rotate(-90 86.87 255.8)">LIHC</text>
<text x="95.41" y="255.8" font-size="7.35" text-anchor="end" transform="rotate(-90 95.41 255.8)">BLCA</text>
<text x="103.95" y="255.8" font-size="7.35" text-anchor="end" transform="rotate(-90 103.95 255.8)">PRAD</text>
<text x="112.49" y="255.8" font-size="7.35" text-anchor="end" transform="rotate(-90 112.49 255.8)">BRCA</text>
<text x="121.03" y="255.8" font-size="7.35" text-anchor="end" transform="rotate(-90 121.03 255.8)">ESCA</text>
<text x="129.57" y="255.8" font-size="7.35" text-anchor="end" transform="rotate(-90 129.57 255.8)">STAD</text>
<text x="138.11" y="255.8" font-size="7.35" text-anchor="end" transform="rotate(-90 138.11 255.8)">GBM</text>
<text x="146.65" y="255.8" font-size="7.35" text-anchor="end" transform="rotate(-90 146.65 255.8)">LGG</text>
<text x="155.19" y="255.8" font-size="7.35" text-anchor="end" transform="rotate(-90 155.19 255.8)">UCS</text>
<text x="163.73" y="255.8" font-size="7.35" text-anchor="end" transform="rotate(-90 163.73 255.8)">COAD</text>
<text x="172.27" y="255.8" font-size="7.35" text-anchor="end" transform="rotate(-90 172.27 255.8)">READ</text>
<text x="180.81" y="255.8" font-size="7.35" text-anchor="end" transform="rotate(-90 180.81 255.8)">OV</text>
<text x="189.35" y="255.8" font-size="7.35" text-anchor="end" transform="rotate(-90 189.35 255.8)">CESC</text>
<text x="197.89" y="255.8" font-size="7.35" text-anchor="end" transform="rotate(-90 197.89 255.8)">UCEC</text>
<text x="206.43" y="255.8" font-size="7.35" text-anchor="end" transform="rotate(-90 206.43 255.8)">THCA</text>
<text x="214.97" y="255.8" font-size="7.35" text-anchor="end" transform="rotate(-90 214.97 255.8)">LUAD</text>
<text x="223.51" y="255.8" font-size="7.35" text-anchor="end" transform="rotate(-90 223.51 255.8)">LUSC</text>
<text x="232.05" y="255.8" font-size="7.35" text-anchor="end" transform="rotate(-90 232.05 255.8)">THYM</text>
<text x="240.59" y="255.8" font-size="7.35" text-anchor="end" transform="rotate(-90 240.59 255.8)">ACC</text>
<text x="249.13" y="255.8" font-size="7.35" text-anchor="end" transform="rotate(-90 249.13 255.8)">SKCM</text>
<text x="283.6" y="60.6" font-size="7.4" font-weight="bold" fill="#111" style="stroke:#111">log2FC</text>
<rect x="284.1" y="65.5" width="8.7" height="41.9" fill="url(#gRB)"/>
<line x1="290.8" y1="67.3" x2="292.8" y2="67.3" stroke="#fff" stroke-width="0.4"/>
<line x1="284.1" y1="67.3" x2="286.1" y2="67.3" stroke="#fff" stroke-width="0.4"/>
<text x="294.6" y="69.8" font-size="7">1</text>
<line x1="290.8" y1="77.2" x2="292.8" y2="77.2" stroke="#fff" stroke-width="0.4"/>
<line x1="284.1" y1="77.2" x2="286.1" y2="77.2" stroke="#fff" stroke-width="0.4"/>
<text x="294.6" y="79.7" font-size="7">0.5</text>
<line x1="290.8" y1="87" x2="292.8" y2="87" stroke="#fff" stroke-width="0.4"/>
<line x1="284.1" y1="87" x2="286.1" y2="87" stroke="#fff" stroke-width="0.4"/>
<text x="294.6" y="89.5" font-size="7">0</text>
<line x1="290.8" y1="96.6" x2="292.8" y2="96.6" stroke="#fff" stroke-width="0.4"/>
<line x1="284.1" y1="96.6" x2="286.1" y2="96.6" stroke="#fff" stroke-width="0.4"/>
<text x="294.6" y="99.1" font-size="7">−0.5</text>
<line x1="290.8" y1="106.4" x2="292.8" y2="106.4" stroke="#fff" stroke-width="0.4"/>
<line x1="284.1" y1="106.4" x2="286.1" y2="106.4" stroke="#fff" stroke-width="0.4"/>
<text x="294.6" y="108.9" font-size="7">−1</text>
</g>
<g id="pB">
<text x="297.2" y="19.6" font-size="23.5" fill="#000" style="stroke:#000">B</text>
<rect x="339.8" y="6.6" width="107.9" height="120.7" fill="#fff" stroke="#333" stroke-width="0.8"/>
<line x1="337.6" y1="8.9" x2="339.8" y2="8.9" stroke="#333" stroke-width="0.6"/>
<text x="336.6" y="11.5" font-size="7.2" text-anchor="end">17</text>
<line x1="337.6" y1="27.6" x2="339.8" y2="27.6" stroke="#333" stroke-width="0.6"/>
<text x="336.6" y="30.2" font-size="7.2" text-anchor="end">16</text>
<line x1="337.6" y1="46.3" x2="339.8" y2="46.3" stroke="#333" stroke-width="0.6"/>
<text x="336.6" y="48.9" font-size="7.2" text-anchor="end">15</text>
<line x1="337.6" y1="64.8" x2="339.8" y2="64.8" stroke="#333" stroke-width="0.6"/>
<text x="336.6" y="67.4" font-size="7.2" text-anchor="end">14</text>
<line x1="337.6" y1="83.4" x2="339.8" y2="83.4" stroke="#333" stroke-width="0.6"/>
<text x="336.6" y="86" font-size="7.2" text-anchor="end">13</text>
<line x1="337.6" y1="102.1" x2="339.8" y2="102.1" stroke="#333" stroke-width="0.6"/>
<text x="336.6" y="104.7" font-size="7.2" text-anchor="end">12</text>
<line x1="337.6" y1="120.5" x2="339.8" y2="120.5" stroke="#333" stroke-width="0.6"/>
<text x="336.6" y="123.1" font-size="7.2" text-anchor="end">11</text>
<line x1="368.7" y1="14.5" x2="368.7" y2="30" stroke="#111" stroke-width="2" stroke-linecap="round"/>
<circle cx="368.7" cy="11.2" r="0.9" fill="#111"/>
<line x1="368.7" y1="100.6" x2="368.7" y2="111.5" stroke="#111" stroke-width="2" stroke-linecap="round"/>
<circle cx="368.7" cy="114.3" r="1.1" fill="#111"/>
<circle cx="418" cy="31.8" r="1.2" fill="#111"/>
<line x1="418" y1="106" x2="418" y2="119" stroke="#111" stroke-width="2" stroke-linecap="round"/>
<circle cx="418" cy="121.8" r="0.9" fill="#111"/>
<line x1="368.8" y1="30" x2="368.8" y2="101" stroke="#555" stroke-width="0.7"/>
<rect x="350.25" y="56.2" width="37.1" height="18.3" fill="#c3d72d" stroke="#4a4a3a" stroke-width="0.6"/>
<line x1="350.25" y1="64.8" x2="387.35" y2="64.8" stroke="#3c3c28" stroke-width="1.4"/>
<line x1="418" y1="33" x2="418" y2="106.5" stroke="#555" stroke-width="0.7"/>
<rect x="399.3" y="60.3" width="37.4" height="18.2" fill="#ec9a36" stroke="#4a4a3a" stroke-width="0.6"/>
<line x1="399.3" y1="69" x2="436.7" y2="69" stroke="#3c3c28" stroke-width="1.4"/>
<text x="398.9" y="17.6" font-size="8.6" text-anchor="middle">****</text>
<text x="368.6" y="137.2" font-size="7.6" text-anchor="middle">Wild</text>
<text x="418" y="137.2" font-size="7.6" text-anchor="middle">Mutant</text>
<line x1="368.7" y1="127.3" x2="368.7" y2="129.4" stroke="#333" stroke-width="0.6"/>
<line x1="418" y1="127.3" x2="418" y2="129.4" stroke="#333" stroke-width="0.6"/>
<text x="323.2" y="59.6" font-size="8.45" text-anchor="middle" transform="rotate(-90 323.2 59.6)">CDGS average expression</text>
</g>
<g id="pC">
<text x="296" y="145.6" font-size="23.5" fill="#000" style="stroke:#000">C</text>
<rect x="339.2" y="139.9" width="108.5" height="126.8" fill="#fff" stroke="#333" stroke-width="0.8"/>
<line x1="337" y1="142.7" x2="339.2" y2="142.7" stroke="#333" stroke-width="0.6"/>
<text x="336.2" y="145.3" font-size="7.2" text-anchor="end">10.0</text>
<line x1="337" y1="171.9" x2="339.2" y2="171.9" stroke="#333" stroke-width="0.6"/>
<text x="336.2" y="174.5" font-size="7.2" text-anchor="end">7.5</text>
<line x1="337" y1="201.8" x2="339.2" y2="201.8" stroke="#333" stroke-width="0.6"/>
<text x="336.2" y="204.4" font-size="7.2" text-anchor="end">5.0</text>
<line x1="337" y1="231.7" x2="339.2" y2="231.7" stroke="#333" stroke-width="0.6"/>
<text x="336.2" y="234.3" font-size="7.2" text-anchor="end">2.5</text>
<line x1="337" y1="261.6" x2="339.2" y2="261.6" stroke="#333" stroke-width="0.6"/>
<text x="336.2" y="264.2" font-size="7.2" text-anchor="end">0.0</text>
<line x1="418" y1="192" x2="418" y2="200" stroke="#111" stroke-width="2" stroke-linecap="round"/>
<circle cx="418" cy="146.4" r="1.0" fill="#111"/>
<circle cx="418" cy="207.6" r="1.0" fill="#111"/>
<circle cx="418" cy="211" r="1.0" fill="#111"/>
<circle cx="418" cy="221" r="1.0" fill="#111"/>
<circle cx="418" cy="226.3" r="1.0" fill="#111"/>
<circle cx="418" cy="233.3" r="1.0" fill="#111"/>
<circle cx="418" cy="245.4" r="1.0" fill="#111"/>
<circle cx="418" cy="251.3" r="1.0" fill="#111"/>
<circle cx="418" cy="255.5" r="1.0" fill="#111"/>
<circle cx="418" cy="257.8" r="1.0" fill="#111"/>
<circle cx="418" cy="260.2" r="1.0" fill="#111"/>
<line x1="368.8" y1="155" x2="368.8" y2="197.1" stroke="#555" stroke-width="0.7"/>
<rect x="350.25" y="166.3" width="37.1" height="13.3" fill="#c3d72d" stroke="#4a4a3a" stroke-width="0.6"/>
<line x1="350.25" y1="174.2" x2="387.35" y2="174.2" stroke="#3c3c28" stroke-width="1"/>
<line x1="418" y1="147.5" x2="418" y2="190.5" stroke="#555" stroke-width="0.7"/>
<rect x="399.3" y="163.9" width="37.4" height="11.7" fill="#ec9a36" stroke="#4a4a3a" stroke-width="0.6"/>
<line x1="399.3" y1="169" x2="436.7" y2="169" stroke="#3c3c28" stroke-width="1"/>
<text x="340.6" y="150.3" font-size="7.65">Wilcoxon, p = 0.00015</text>
<text x="368.6" y="276" font-size="7.6" text-anchor="middle">Normal</text>
<text x="418" y="276" font-size="7.6" text-anchor="middle">Tumor</text>
<line x1="368.7" y1="266.7" x2="368.7" y2="268.8" stroke="#333" stroke-width="0.6"/>
<line x1="418" y1="266.7" x2="418" y2="268.8" stroke="#333" stroke-width="0.6"/>
<text x="323.2" y="202" font-size="8.45" text-anchor="middle" transform="rotate(-90 323.2 202)">Expression</text>
</g>
<g id="pD">
<text x="457.6" y="19.9" font-size="23.5" fill="#000" style="stroke:#000">D</text>
<text x="506.4" y="9.8" font-size="8">Strata</text>
<line x1="538.5" y1="7" x2="548.8" y2="7" stroke="#ee9a30" stroke-width="0.9" stroke-dasharray="2.2 1.2"/>
<line x1="543.6" y1="5.2" x2="543.6" y2="8.8" stroke="#ee9a30" stroke-width="0.8"/>
<text x="551.9" y="9.9" font-size="8.5">Type=Mutant</text>
<line x1="611.2" y1="7" x2="621.5" y2="7" stroke="#4a86c6" stroke-width="0.9"/>
<line x1="616.3" y1="5.2" x2="616.3" y2="8.8" stroke="#4a86c6" stroke-width="0.8"/>
<text x="625.6" y="9.9" font-size="8.5">Type=Wild</text>
<rect x="488.5" y="25.2" width="190.7" height="148.6" fill="#fff"/>
<line x1="519.4" y1="25.2" x2="519.4" y2="173.8" stroke="#f0f0f0" stroke-width="0.4"/>
<line x1="562.8" y1="25.2" x2="562.8" y2="173.8" stroke="#f0f0f0" stroke-width="0.4"/>
<line x1="606.2" y1="25.2" x2="606.2" y2="173.8" stroke="#f0f0f0" stroke-width="0.4"/>
<line x1="649.6" y1="25.2" x2="649.6" y2="173.8" stroke="#f0f0f0" stroke-width="0.4"/>
<line x1="488.5" y1="149.76" x2="679.2" y2="149.76" stroke="#f0f0f0" stroke-width="0.4"/>
<line x1="488.5" y1="116.09" x2="679.2" y2="116.09" stroke="#f0f0f0" stroke-width="0.4"/>
<line x1="488.5" y1="82.41" x2="679.2" y2="82.41" stroke="#f0f0f0" stroke-width="0.4"/>
<line x1="488.5" y1="48.74" x2="679.2" y2="48.74" stroke="#f0f0f0" stroke-width="0.4"/>
<line x1="497.7" y1="25.2" x2="497.7" y2="173.8" stroke="#e6e6e6" stroke-width="0.6"/>
<line x1="497.7" y1="173.8" x2="497.7" y2="176" stroke="#333" stroke-width="0.6"/>
<text x="497.7" y="182.4" font-size="7.3" text-anchor="middle">0</text>
<line x1="541.1" y1="25.2" x2="541.1" y2="173.8" stroke="#e6e6e6" stroke-width="0.6"/>
<line x1="541.1" y1="173.8" x2="541.1" y2="176" stroke="#333" stroke-width="0.6"/>
<text x="541.1" y="182.4" font-size="7.3" text-anchor="middle">1000</text>
<line x1="584.5" y1="25.2" x2="584.5" y2="173.8" stroke="#e6e6e6" stroke-width="0.6"/>
<line x1="584.5" y1="173.8" x2="584.5" y2="176" stroke="#333" stroke-width="0.6"/>
<text x="584.5" y="182.4" font-size="7.3" text-anchor="middle">2000</text>
<line x1="627.9" y1="25.2" x2="627.9" y2="173.8" stroke="#e6e6e6" stroke-width="0.6"/>
<line x1="627.9" y1="173.8" x2="627.9" y2="176" stroke="#333" stroke-width="0.6"/>
<text x="627.9" y="182.4" font-size="7.3" text-anchor="middle">3000</text>
<line x1="671.3" y1="25.2" x2="671.3" y2="173.8" stroke="#e6e6e6" stroke-width="0.6"/>
<line x1="671.3" y1="173.8" x2="671.3" y2="176" stroke="#333" stroke-width="0.6"/>
<text x="671.3" y="182.4" font-size="7.3" text-anchor="middle">4000</text>
<line x1="488.5" y1="166.6" x2="679.2" y2="166.6" stroke="#e6e6e6" stroke-width="0.6"/>
<line x1="486.3" y1="166.6" x2="488.5" y2="166.6" stroke="#333" stroke-width="0.6"/>
<text x="485.3" y="169.2" font-size="7.3" text-anchor="end">0.00</text>
<line x1="488.5" y1="132.93" x2="679.2" y2="132.93" stroke="#e6e6e6" stroke-width="0.6"/>
<line x1="486.3" y1="132.93" x2="488.5" y2="132.93" stroke="#333" stroke-width="0.6"/>
<text x="485.3" y="135.53" font-size="7.3" text-anchor="end">0.25</text>
<line x1="488.5" y1="99.25" x2="679.2" y2="99.25" stroke="#e6e6e6" stroke-width="0.6"/>
<line x1="486.3" y1="99.25" x2="488.5" y2="99.25" stroke="#333" stroke-width="0.6"/>
<text x="485.3" y="101.85" font-size="7.3" text-anchor="end">0.50</text>
<line x1="488.5" y1="65.58" x2="679.2" y2="65.58" stroke="#e6e6e6" stroke-width="0.6"/>
<line x1="486.3" y1="65.58" x2="488.5" y2="65.58" stroke="#333" stroke-width="0.6"/>
<text x="485.3" y="68.17" font-size="7.3" text-anchor="end">0.75</text>
<line x1="488.5" y1="31.9" x2="679.2" y2="31.9" stroke="#e6e6e6" stroke-width="0.6"/>
<line x1="486.3" y1="31.9" x2="488.5" y2="31.9" stroke="#333" stroke-width="0.6"/>
<text x="485.3" y="34.5" font-size="7.3" text-anchor="end">1.00</text>
<rect x="488.5" y="25.2" width="190.7" height="148.6" fill="none" stroke="#333" stroke-width="0.8"/>
<path d="M497.7,99.25H578.6V166.6M558,99.25V166.6" stroke="#333" stroke-width="0.8" fill="none" stroke-dasharray="2.4 2"/>
<path d="M497.7,31.9L498.6,31.9L498.6,37.5L500.8,37.5L500.8,51.5L509.6,51.5L509.6,60L515.5,60L515.5,67L517.5,67L517.5,74.3L521.8,74.3L521.8,79.9L531.5,79.9L531.5,88.3L557.7,88.3L557.7,101.6L604.4,101.6L604.4,134.8L633.5,134.8L633.5,166.6" stroke="#ee9a30" stroke-width="1.25" fill="none" stroke-dasharray="2.4 1.2"/>
<path d="M498.6,31v4M496.8,33h3.6M503,49.5v4M501.2,51.5h3.6M506,49.5v4M504.2,51.5h3.6M512,58v4M510.2,60h3.6M514,58v4M512.2,60h3.6M519,72.3v4M517.2,74.3h3.6M520.5,72.3v4M518.7,74.3h3.6M524,77.9v4M522.2,79.9h3.6M527,77.9v4M525.2,79.9h3.6M529,77.9v4M527.2,79.9h3.6M535,86.3v4M533.2,88.3h3.6M539,86.3v4M537.2,88.3h3.6M545,86.3v4M543.2,88.3h3.6M552,86.3v4M550.2,88.3h3.6M563,99.6v4M561.2,101.6h3.6M600,99.6v4M598.2,101.6h3.6" stroke="#ee9a30" stroke-width="0.85" fill="none"/>
<path d="M497.7,31.9L499.5,34L502.6,39.3L506,42L509.6,44.8L512,50L514.8,55L517.5,56.6L520,58L523.5,63L527.1,68.2L530.5,72.5L534.1,76.1L539.3,78.7L545.5,79.8L548.5,82.8L551.6,85.7L558.6,87.5L565.6,88.3L568.4,90.2L572,94L576,98L578.6,99.6L590.7,100.5L604.4,101.9L605.5,104L606.1,108.1L608.5,108.1L608.5,118.4L617.4,118.4L617.4,126.9L639.7,126.9L639.7,134.8L658.6,134.8" stroke="#4a86c6" stroke-width="1.5" fill="none" stroke-linejoin="round"/>
<path d="M498.82,31.01v4.4M496.82,33.21h4M501.8,35.73v4.4M499.8,37.93h4M503.95,38.17v4.4M501.95,40.37h4M505.9,39.72v4.4M503.9,41.92h4M507.33,40.84v4.4M505.33,43.04h4M509.46,42.49v4.4M507.46,44.69h4M509.67,42.75v4.4M507.67,44.95h4M513.3,50.13v4.4M511.3,52.33h4M517.35,54.31v4.4M515.35,56.51h4M519.12,55.31v4.4M517.12,57.51h4M521.58,58.05v4.4M519.58,60.25h4M521.95,58.58v4.4M519.95,60.78h4M524.34,62.02v4.4M522.34,64.22h4M525.74,64.04v4.4M523.74,66.24h4M528.02,67.17v4.4M526.02,69.37h4M529.78,69.38v4.4M527.78,71.58h4M530.52,70.32v4.4M528.52,72.52h4M532.69,72.49v4.4M530.69,74.69h4M534.58,74.14v4.4M532.58,76.34h4M537.42,75.56v4.4M535.42,77.76h4M538.89,76.3v4.4M536.89,78.5h4M539.63,76.56v4.4M537.63,78.76h4M543.01,77.16v4.4M541.01,79.36h4M543.72,77.28v4.4M541.72,79.48h4M547.35,79.45v4.4M545.35,81.65h4M548.89,80.97v4.4M546.89,83.17h4M551.6,83.5v4.4M549.6,85.7h4M554.87,84.34v4.4M552.87,86.54h4M555.47,84.49v4.4M553.47,86.69h4M557.23,84.95v4.4M555.23,87.15h4M560.32,85.5v4.4M558.32,87.7h4M561.88,85.67v4.4M559.88,87.87h4M562.61,85.76v4.4M560.61,87.96h4M565.53,86.09v4.4M563.53,88.29h4M567.11,87.12v4.4M565.11,89.32h4M569.62,89.29v4.4M567.62,91.49h4M570.57,90.29v4.4M568.57,92.49h4M573.88,93.68v4.4M571.88,95.88h4M575.38,95.18v4.4M573.38,97.38h4M578.51,97.35v4.4M576.51,99.55h4M580.14,97.51v4.4M578.14,99.71h4M580.85,97.57v4.4M578.85,99.77h4M582.68,97.7v4.4M580.68,99.9h4M584.07,97.81v4.4M582.07,100.01h4M585.77,97.93v4.4M583.77,100.13h4M587.36,98.05v4.4M585.36,100.25h4M589.49,98.21v4.4M587.49,100.41h4M591.73,98.41v4.4M589.73,100.61h4M592.42,98.48v4.4M590.42,100.68h4M595.29,98.77v4.4M593.29,100.97h4M596.42,98.88v4.4M594.42,101.08h4M598.08,99.05v4.4M596.08,101.25h4M600.66,99.32v4.4M598.66,101.52h4M601.8,99.43v4.4M599.8,101.63h4M603.23,99.58v4.4M601.23,101.78h4M604.93,100.71v4.4M602.93,102.91h4M605.92,104.69v4.4M603.92,106.89h4M608.44,105.9v4.4M606.44,108.1h4M608.5,113.62v4.4M606.5,115.82h4M617.4,122.9v4.4M615.4,125.1h4M630.3,124.7v4.4M628.3,126.9h4M639.7,125.07v4.4M637.7,127.27h4M657.75,132.6v4.4M655.75,134.8h4M643,132.6v4.4M641,134.8h4M647,132.6v4.4M645,134.8h4M651,132.6v4.4M649,134.8h4M655,132.6v4.4M653,134.8h4M658.6,132.6v4.4M656.6,134.8h4" stroke="#4a86c6" stroke-width="0.85" fill="none"/>
<text x="500.8" y="143.6" font-size="8.5">p = 0.19</text>
<text x="467.4" y="93.5" font-size="8.35" text-anchor="middle" transform="rotate(-90 467.4 93.5)">Survival probability</text>
<text x="589" y="196" font-size="9.7" text-anchor="middle">Time</text>
<text x="502.1" y="205.6" font-size="7.65">Number at risk</text>
<rect x="502.1" y="212.5" width="177.1" height="30.9" fill="#fff"/>
<line x1="530.81" y1="212.5" x2="530.81" y2="243.4" stroke="#f0f0f0" stroke-width="0.4"/>
<line x1="571.03" y1="212.5" x2="571.03" y2="243.4" stroke="#f0f0f0" stroke-width="0.4"/>
<line x1="611.25" y1="212.5" x2="611.25" y2="243.4" stroke="#f0f0f0" stroke-width="0.4"/>
<line x1="651.47" y1="212.5" x2="651.47" y2="243.4" stroke="#f0f0f0" stroke-width="0.4"/>
<line x1="510.7" y1="212.5" x2="510.7" y2="243.4" stroke="#e6e6e6" stroke-width="0.6"/>
<line x1="510.7" y1="243.4" x2="510.7" y2="245.6" stroke="#333" stroke-width="0.6"/>
<text x="510.7" y="253" font-size="7.3" text-anchor="middle">0</text>
<line x1="550.92" y1="212.5" x2="550.92" y2="243.4" stroke="#e6e6e6" stroke-width="0.6"/>
<line x1="550.92" y1="243.4" x2="550.92" y2="245.6" stroke="#333" stroke-width="0.6"/>
<text x="550.92" y="253" font-size="7.3" text-anchor="middle">1000</text>
<line x1="591.14" y1="212.5" x2="591.14" y2="243.4" stroke="#e6e6e6" stroke-width="0.6"/>
<line x1="591.14" y1="243.4" x2="591.14" y2="245.6" stroke="#333" stroke-width="0.6"/>
<text x="591.14" y="253" font-size="7.3" text-anchor="middle">2000</text>
<line x1="631.36" y1="212.5" x2="631.36" y2="243.4" stroke="#e6e6e6" stroke-width="0.6"/>
<line x1="631.36" y1="243.4" x2="631.36" y2="245.6" stroke="#333" stroke-width="0.6"/>
<text x="631.36" y="253" font-size="7.3" text-anchor="middle">3000</text>
<line x1="671.58" y1="212.5" x2="671.58" y2="243.4" stroke="#e6e6e6" stroke-width="0.6"/>
<line x1="671.58" y1="243.4" x2="671.58" y2="245.6" stroke="#333" stroke-width="0.6"/>
<text x="671.58" y="253" font-size="7.3" text-anchor="middle">4000</text>
<line x1="502.1" y1="221.8" x2="679.2" y2="221.8" stroke="#e6e6e6" stroke-width="0.6"/>
<line x1="499.9" y1="221.8" x2="502.1" y2="221.8" stroke="#333" stroke-width="0.6"/>
<line x1="502.1" y1="235.8" x2="679.2" y2="235.8" stroke="#e6e6e6" stroke-width="0.6"/>
<line x1="499.9" y1="235.8" x2="502.1" y2="235.8" stroke="#333" stroke-width="0.6"/>
<rect x="502.1" y="212.5" width="177.1" height="30.9" fill="none" stroke="#333" stroke-width="0.8"/>
<text x="499.6" y="224.8" font-size="8.5" text-anchor="end" fill="#4a86c6" style="stroke:#4a86c6">Type=Wild</text>
<text x="499.6" y="238.8" font-size="8.4" text-anchor="end" fill="#ee9a30" style="stroke:#ee9a30">Type=Mutant</text>
<text x="510.7" y="224.4" font-size="7.3" text-anchor="middle" fill="#4a86c6" style="stroke:#4a86c6">326</text>
<text x="510.7" y="238.4" font-size="7.3" text-anchor="middle" fill="#ee9a30" style="stroke:#ee9a30">36</text>
<text x="550.92" y="224.4" font-size="7.3" text-anchor="middle" fill="#4a86c6" style="stroke:#4a86c6">92</text>
<text x="550.92" y="238.4" font-size="7.3" text-anchor="middle" fill="#ee9a30" style="stroke:#ee9a30">7</text>
<text x="591.14" y="224.4" font-size="7.3" text-anchor="middle" fill="#4a86c6" style="stroke:#4a86c6">29</text>
<text x="591.14" y="238.4" font-size="7.3" text-anchor="middle" fill="#ee9a30" style="stroke:#ee9a30">4</text>
<text x="631.36" y="224.4" font-size="7.3" text-anchor="middle" fill="#4a86c6" style="stroke:#4a86c6">5</text>
<text x="631.36" y="238.4" font-size="7.3" text-anchor="middle" fill="#ee9a30" style="stroke:#ee9a30">1</text>
<text x="671.58" y="224.4" font-size="7.3" text-anchor="middle" fill="#4a86c6" style="stroke:#4a86c6">0</text>
<text x="671.58" y="238.4" font-size="7.3" text-anchor="middle" fill="#ee9a30" style="stroke:#ee9a30">0</text>
<text x="590.6" y="267.8" font-size="9.7" text-anchor="middle">Time</text>
</g>
<g id="ideo">
<rect x="85" y="283.5" width="10.3" height="8.7" fill="#dcdcdc"/>
<rect x="95.2" y="283.5" width="5.9" height="8.7" fill="#4d4d4d"/>
<rect x="101" y="283.5" width="13" height="8.7" fill="#dcdcdc"/>
<rect x="113.9" y="283.5" width="10.6" height="8.7" fill="#3a3a3a"/>
<rect x="124.4" y="283.5" width="6.6" height="8.7" fill="#dcdcdc"/>
<rect x="130.9" y="283.5" width="11.1" height="8.7" fill="#3a3a3a"/>
<rect x="141.9" y="283.5" width="10.6" height="8.7" fill="#dcdcdc"/>
<rect x="152.4" y="283.5" width="4.8" height="8.7" fill="#999999"/>
<rect x="157.1" y="283.5" width="5.9" height="8.7" fill="#dcdcdc"/>
<rect x="162.9" y="283.5" width="10.6" height="8.7" fill="#3a3a3a"/>
<rect x="173.4" y="283.5" width="5.3" height="8.7" fill="#dcdcdc"/>
<rect x="178.6" y="283.5" width="7.8" height="8.7" fill="#4d4d4d"/>
<rect x="186.3" y="283.5" width="14.1" height="8.7" fill="#ffffff"/>
<rect x="200.3" y="283.5" width="14.1" height="8.7" fill="#111111"/>
<rect x="214.3" y="283.5" width="4.8" height="8.7" fill="#ffffff"/>
<rect x="219" y="283.5" width="15.3" height="8.7" fill="#111111"/>
<rect x="234.2" y="283.5" width="8" height="8.7" fill="#ffffff"/>
<rect x="242.1" y="283.5" width="10.9" height="8.7" fill="#4d4d4d"/>
<rect x="252.9" y="283.5" width="7.6" height="8.7" fill="#dcdcdc"/>
<rect x="260.4" y="283.5" width="4.7" height="8.7" fill="#4d4d4d"/>
<rect x="265" y="283.5" width="3.6" height="8.7" fill="#dcdcdc"/>
<rect x="268.5" y="283.5" width="20" height="8.7" fill="#111111"/>
<rect x="288.4" y="283.5" width="22.3" height="8.7" fill="#eeeeee"/>
<rect x="321.1" y="283.5" width="15.3" height="8.7" fill="#eeeeee"/>
<rect x="336.3" y="283.5" width="7.1" height="8.7" fill="#666"/>
<rect x="343.3" y="283.5" width="3.6" height="8.7" fill="#dcdcdc"/>
<rect x="346.8" y="283.5" width="5.9" height="8.7" fill="#999999"/>
<rect x="352.6" y="283.5" width="8.3" height="8.7" fill="#ffffff"/>
<rect x="360.8" y="283.5" width="15.3" height="8.7" fill="#4d4d4d"/>
<rect x="376" y="283.5" width="7.6" height="8.7" fill="#dcdcdc"/>
<rect x="383.5" y="283.5" width="19.5" height="8.7" fill="#444"/>
<rect x="402.9" y="283.5" width="6.4" height="8.7" fill="#dcdcdc"/>
<rect x="409.2" y="283.5" width="5.9" height="8.7" fill="#888"/>
<rect x="415" y="283.5" width="4.8" height="8.7" fill="#dcdcdc"/>
<rect x="419.7" y="283.5" width="13" height="8.7" fill="#111111"/>
<rect x="432.6" y="283.5" width="4.7" height="8.7" fill="#dcdcdc"/>
<rect x="437.2" y="283.5" width="11.8" height="8.7" fill="#111111"/>
<rect x="448.9" y="283.5" width="1.6" height="8.7" fill="#ffffff"/>
<rect x="450.4" y="283.5" width="1.1" height="8.7" fill="#4d4d4d"/>
<rect x="451.4" y="283.5" width="1.1" height="8.7" fill="#ffffff"/>
<rect x="452.4" y="283.5" width="11.3" height="8.7" fill="#dcdcdc"/>
<rect x="463.6" y="283.5" width="12.3" height="8.7" fill="#444"/>
<rect x="475.8" y="283.5" width="9.9" height="8.7" fill="#dcdcdc"/>
<rect x="485.6" y="283.5" width="14.8" height="8.7" fill="#4d4d4d"/>
<rect x="500.3" y="283.5" width="7.1" height="8.7" fill="#ffffff"/>
<rect x="507.3" y="283.5" width="14.1" height="8.7" fill="#ffffff"/>
<rect x="521.3" y="283.5" width="6" height="8.7" fill="#4d4d4d"/>
<rect x="527.2" y="283.5" width="2.4" height="8.7" fill="#dcdcdc"/>
<rect x="529.5" y="283.5" width="3.8" height="8.7" fill="#777"/>
<rect x="533.2" y="283.5" width="15.3" height="8.7" fill="#111111"/>
<rect x="548.4" y="283.5" width="7.1" height="8.7" fill="#dcdcdc"/>
<rect x="555.4" y="283.5" width="13.6" height="8.7" fill="#444"/>
<rect x="568.9" y="283.5" width="14.1" height="8.7" fill="#ffffff"/>
<rect x="582.9" y="283.5" width="4.1" height="8.7" fill="#4d4d4d"/>
<rect x="586.9" y="283.5" width="10.6" height="8.7" fill="#dcdcdc"/>
<rect x="597.4" y="283.5" width="15.3" height="8.7" fill="#111111"/>
<rect x="612.6" y="283.5" width="15.3" height="8.7" fill="#ffffff"/>
<rect x="627.8" y="283.5" width="8.3" height="8.7" fill="#444"/>
<rect x="636" y="283.5" width="1.5" height="8.7" fill="#ffffff"/>
<rect x="637.4" y="283.5" width="0.9" height="8.7" fill="#4d4d4d"/>
<rect x="638.2" y="283.5" width="1.4" height="8.7" fill="#ffffff"/>
<rect x="639.5" y="283.5" width="11.7" height="8.7" fill="#111111"/>
<rect x="651.1" y="283.5" width="14.2" height="8.7" fill="#dcdcdc"/>
<rect x="665.2" y="283.5" width="2.9" height="8.7" fill="#888"/>
<rect x="668" y="283.5" width="12.4" height="8.7" fill="#ffffff"/>
<path d="M310.6,283.5L321.1,292.2V283.5L310.6,292.2Z" stroke="none" stroke-width="0" fill="#a32020"/>
<path d="M84.7,283.5H310.6M321.1,283.5H680.6M84.7,292.2H310.6M321.1,292.2H680.6M84.8,283.5V292.2M680.5,283.5V292.2" stroke="#222" stroke-width="0.7" fill="none"/>
<g font-size="6" text-anchor="middle" font-weight="bold" class="ns">
<text x="193.3" y="290.1" fill="#111" textLength="12.8" lengthAdjust="spacingAndGlyphs">2p21</text>
<text x="207.3" y="290.1" fill="#fff" textLength="12.8" lengthAdjust="spacingAndGlyphs">16.3</text>
<text x="226.6" y="290.1" fill="#fff" textLength="14" lengthAdjust="spacingAndGlyphs">16.1</text>
<text x="238.15" y="290.1" fill="#111" textLength="6.7" lengthAdjust="spacingAndGlyphs">15</text>
<text x="247.5" y="290.1" fill="#fff" textLength="9.6" lengthAdjust="spacingAndGlyphs">p14</text>
<text x="278.45" y="290.1" fill="#fff" textLength="18.7" lengthAdjust="spacingAndGlyphs">2p12</text>
<text x="299.5" y="290.1" fill="#111" textLength="21" lengthAdjust="spacingAndGlyphs">2p11.2</text>
<text x="328.7" y="290.1" fill="#111" textLength="14" lengthAdjust="spacingAndGlyphs">11.2</text>
<text x="356.7" y="290.1" fill="#111" textLength="7" lengthAdjust="spacingAndGlyphs">13</text>
<text x="368.4" y="290.1" fill="#fff" textLength="14" lengthAdjust="spacingAndGlyphs">14.1</text>
<text x="393.2" y="290.1" fill="#fff" textLength="18.2" lengthAdjust="spacingAndGlyphs">q14.3</text>
<text x="426.15" y="290.1" fill="#fff" textLength="11.7" lengthAdjust="spacingAndGlyphs">22.1</text>
<text x="492.95" y="290.1" fill="#fff" textLength="13.5" lengthAdjust="spacingAndGlyphs">24.3</text>
<text x="503.8" y="290.1" fill="#111" textLength="5.8" lengthAdjust="spacingAndGlyphs">2q</text>
<text x="514.3" y="290.1" fill="#111" textLength="12.8" lengthAdjust="spacingAndGlyphs">31.1</text>
<text x="540.8" y="290.1" fill="#fff" textLength="14" lengthAdjust="spacingAndGlyphs">32.1</text>
<text x="562.15" y="290.1" fill="#fff" textLength="12.3" lengthAdjust="spacingAndGlyphs">32.3</text>
<text x="575.9" y="290.1" fill="#111" textLength="12.8" lengthAdjust="spacingAndGlyphs">33.1</text>
<text x="605" y="290.1" fill="#fff" textLength="14" lengthAdjust="spacingAndGlyphs">2q34</text>
<text x="620.2" y="290.1" fill="#111" textLength="14" lengthAdjust="spacingAndGlyphs">2q35</text>
<text x="674.15" y="290.1" fill="#111" textLength="11.1" lengthAdjust="spacingAndGlyphs">37.3</text>
</g>
<line x1="136.3" y1="280.8" x2="136.3" y2="295" stroke="#e02020" stroke-width="0.9"/>
<line x1="136.3" y1="295" x2="67.2" y2="321.2" stroke="#e02020" stroke-width="0.8"/>
<line x1="136.3" y1="295" x2="677.4" y2="320.4" stroke="#e02020" stroke-width="0.8"/>
</g>
<g id="pE">
<text x="4.6" y="314.3" font-size="23.5" fill="#000" style="stroke:#000">E</text>
<text x="34.6" y="305.3" font-size="10">chr2(p24.1)</text>
<text x="110.9" y="314.4" font-size="9.85">APOB:chr2:21001428-21044073</text>
<text x="573.1" y="301.1" font-size="9.85" text-anchor="middle">Enrichment region:</text>
<text x="573.1" y="312.7" font-size="9.85" text-anchor="middle">chr2:21004278-21013381</text>
<text x="57.1" y="320.3" font-size="7" text-anchor="end">Ruler</text>
<text x="52" y="328.7" font-size="7" text-anchor="end">APOB</text>
<line x1="66.2" y1="322.7" x2="677.4" y2="322.7" stroke="#999" stroke-width="0.6"/>
<path d="M67.08,322.7v-1.6M81.41,322.7v-1.6M95.74,322.7v-1.6M110.07,322.7v-1.6M124.4,322.7v-3.2M138.73,322.7v-1.6M153.06,322.7v-1.6M167.39,322.7v-1.6M181.72,322.7v-1.6M196.05,322.7v-1.6M210.38,322.7v-1.6M224.71,322.7v-1.6M239.04,322.7v-1.6M253.37,322.7v-1.6M267.7,322.7v-3.2M282.03,322.7v-1.6M296.36,322.7v-1.6M310.69,322.7v-1.6M325.02,322.7v-1.6M339.35,322.7v-1.6M353.68,322.7v-1.6M368.01,322.7v-1.6M382.34,322.7v-1.6M396.67,322.7v-1.6M411,322.7v-3.2M425.33,322.7v-1.6M439.66,322.7v-1.6M453.99,322.7v-1.6M468.32,322.7v-1.6M482.65,322.7v-1.6M496.98,322.7v-1.6M511.31,322.7v-1.6M525.64,322.7v-1.6M539.97,322.7v-1.6M554.3,322.7v-3.2M568.63,322.7v-1.6M582.96,322.7v-1.6M597.29,322.7v-1.6M611.62,322.7v-1.6M625.95,322.7v-1.6M640.28,322.7v-1.6M654.61,322.7v-1.6M668.94,322.7v-1.6" stroke="#888" stroke-width="0.5" fill="none"/>
<text x="129" y="330.6" font-size="7" text-anchor="middle">21040K</text>
<text x="272.2" y="330.6" font-size="7" text-anchor="middle">21030K</text>
<text x="415.2" y="330.6" font-size="7" text-anchor="middle">21020K</text>
<text x="558" y="330.6" font-size="7" text-anchor="middle">21010K</text>
<line x1="12" y1="331.4" x2="677.4" y2="331.4" stroke="#cfcfcf" stroke-width="0.6"/>
<text x="50.4" y="338.5" font-size="6.6" text-anchor="end">GencodeV39</text>
<line x1="90" y1="337.8" x2="534.3" y2="337.8" stroke="#b3b53c" stroke-width="0.8"/>
<path d="M92,337.8l-1.2,-1.1M92,337.8l-1.2,1.1M94.6,337.8l-1.2,-1.1M94.6,337.8l-1.2,1.1M97.2,337.8l-1.2,-1.1M97.2,337.8l-1.2,1.1M99.8,337.8l-1.2,-1.1M99.8,337.8l-1.2,1.1M102.4,337.8l-1.2,-1.1M102.4,337.8l-1.2,1.1M105,337.8l-1.2,-1.1M105,337.8l-1.2,1.1M107.6,337.8l-1.2,-1.1M107.6,337.8l-1.2,1.1M110.2,337.8l-1.2,-1.1M110.2,337.8l-1.2,1.1M112.8,337.8l-1.2,-1.1M112.8,337.8l-1.2,1.1M115.4,337.8l-1.2,-1.1M115.4,337.8l-1.2,1.1M118,337.8l-1.2,-1.1M118,337.8l-1.2,1.1M120.6,337.8l-1.2,-1.1M120.6,337.8l-1.2,1.1M123.2,337.8l-1.2,-1.1M123.2,337.8l-1.2,1.1M125.8,337.8l-1.2,-1.1M125.8,337.8l-1.2,1.1M128.4,337.8l-1.2,-1.1M128.4,337.8l-1.2,1.1M131,337.8l-1.2,-1.1M131,337.8l-1.2,1.1M133.6,337.8l-1.2,-1.1M133.6,337.8l-1.2,1.1M136.2,337.8l-1.2,-1.1M136.2,337.8l-1.2,1.1M138.8,337.8l-1.2,-1.1M138.8,337.8l-1.2,1.1M141.4,337.8l-1.2,-1.1M141.4,337.8l-1.2,1.1M144,337.8l-1.2,-1.1M144,337.8l-1.2,1.1M146.6,337.8l-1.2,-1.1M146.6,337.8l-1.2,1.1M149.2,337.8l-1.2,-1.1M149.2,337.8l-1.2,1.1M151.8,337.8l-1.2,-1.1M151.8,337.8l-1.2,1.1M154.4,337.8l-1.2,-1.1M154.4,337.8l-1.2,1.1M157,337.8l-1.2,-1.1M157,337.8l-1.2,1.1M159.6,337.8l-1.2,-1.1M159.6,337.8l-1.2,1.1M162.2,337.8l-1.2,-1.1M162.2,337.8l-1.2,1.1M164.8,337.8l-1.2,-1.1M164.8,337.8l-1.2,1.1M167.4,337.8l-1.2,-1.1M167.4,337.8l-1.2,1.1M170,337.8l-1.2,-1.1M170,337.8l-1.2,1.1M172.6,337.8l-1.2,-1.1M172.6,337.8l-1.2,1.1M175.2,337.8l-1.2,-1.1M175.2,337.8l-1.2,1.1M177.8,337.8l-1.2,-1.1M177.8,337.8l-1.2,1.1M180.4,337.8l-1.2,-1.1M180.4,337.8l-1.2,1.1M183,337.8l-1.2,-1.1M183,337.8l-1.2,1.1M185.6,337.8l-1.2,-1.1M185.6,337.8l-1.2,1.1M188.2,337.8l-1.2,-1.1M188.2,337.8l-1.2,1.1M190.8,337.8l-1.2,-1.1M190.8,337.8l-1.2,1.1M193.4,337.8l-1.2,-1.1M193.4,337.8l-1.2,1.1M196,337.8l-1.2,-1.1M196,337.8l-1.2,1.1M198.6,337.8l-1.2,-1.1M198.6,337.8l-1.2,1.1M201.2,337.8l-1.2,-1.1M201.2,337.8l-1.2,1.1M203.8,337.8l-1.2,-1.1M203.8,337.8l-1.2,1.1M206.4,337.8l-1.2,-1.1M206.4,337.8l-1.2,1.1M209,337.8l-1.2,-1.1M209,337.8l-1.2,1.1M211.6,337.8l-1.2,-1.1M211.6,337.8l-1.2,1.1M214.2,337.8l-1.2,-1.1M214.2,337.8l-1.2,1.1M216.8,337.8l-1.2,-1.1M216.8,337.8l-1.2,1.1M219.4,337.8l-1.2,-1.1M219.4,337.8l-1.2,1.1M222,337.8l-1.2,-1.1M222,337.8l-1.2,1.1M224.6,337.8l-1.2,-1.1M224.6,337.8l-1.2,1.1M227.2,337.8l-1.2,-1.1M227.2,337.8l-1.2,1.1M229.8,337.8l-1.2,-1.1M229.8,337.8l-1.2,1.1M232.4,337.8l-1.2,-1.1M232.4,337.8l-1.2,1.1M235,337.8l-1.2,-1.1M235,337.8l-1.2,1.1M237.6,337.8l-1.2,-1.1M237.6,337.8l-1.2,1.1M240.2,337.8l-1.2,-1.1M240.2,337.8l-1.2,1.1M242.8,337.8l-1.2,-1.1M242.8,337.8l-1.2,1.1M245.4,337.8l-1.2,-1.1M245.4,337.8l-1.2,1.1M248,337.8l-1.2,-1.1M248,337.8l-1.2,1.1M250.6,337.8l-1.2,-1.1M250.6,337.8l-1.2,1.1M253.2,337.8l-1.2,-1.1M253.2,337.8l-1.2,1.1M255.8,337.8l-1.2,-1.1M255.8,337.8l-1.2,1.1M258.4,337.8l-1.2,-1.1M258.4,337.8l-1.2,1.1M261,337.8l-1.2,-1.1M261,337.8l-1.2,1.1M263.6,337.8l-1.2,-1.1M263.6,337.8l-1.2,1.1M266.2,337.8l-1.2,-1.1M266.2,337.8l-1.2,1.1M268.8,337.8l-1.2,-1.1M268.8,337.8l-1.2,1.1M271.4,337.8l-1.2,-1.1M271.4,337.8l-1.2,1.1M274,337.8l-1.2,-1.1M274,337.8l-1.2,1.1M276.6,337.8l-1.2,-1.1M276.6,337.8l-1.2,1.1M279.2,337.8l-1.2,-1.1M279.2,337.8l-1.2,1.1M281.8,337.8l-1.2,-1.1M281.8,337.8l-1.2,1.1M284.4,337.8l-1.2,-1.1M284.4,337.8l-1.2,1.1M287,337.8l-1.2,-1.1M287,337.8l-1.2,1.1M289.6,337.8l-1.2,-1.1M289.6,337.8l-1.2,1.1M292.2,337.8l-1.2,-1.1M292.2,337.8l-1.2,1.1M294.8,337.8l-1.2,-1.1M294.8,337.8l-1.2,1.1M297.4,337.8l-1.2,-1.1M297.4,337.8l-1.2,1.1M300,337.8l-1.2,-1.1M300,337.8l-1.2,1.1M302.6,337.8l-1.2,-1.1M302.6,337.8l-1.2,1.1M305.2,337.8l-1.2,-1.1M305.2,337.8l-1.2,1.1M307.8,337.8l-1.2,-1.1M307.8,337.8l-1.2,1.1M310.4,337.8l-1.2,-1.1M310.4,337.8l-1.2,1.1M313,337.8l-1.2,-1.1M313,337.8l-1.2,1.1M315.6,337.8l-1.2,-1.1M315.6,337.8l-1.2,1.1M318.2,337.8l-1.2,-1.1M318.2,337.8l-1.2,1.1M320.8,337.8l-1.2,-1.1M320.8,337.8l-1.2,1.1M323.4,337.8l-1.2,-1.1M323.4,337.8l-1.2,1.1M326,337.8l-1.2,-1.1M326,337.8l-1.2,1.1M328.6,337.8l-1.2,-1.1M328.6,337.8l-1.2,1.1M331.2,337.8l-1.2,-1.1M331.2,337.8l-1.2,1.1M333.8,337.8l-1.2,-1.1M333.8,337.8l-1.2,1.1M336.4,337.8l-1.2,-1.1M336.4,337.8l-1.2,1.1M339,337.8l-1.2,-1.1M339,337.8l-1.2,1.1M341.6,337.8l-1.2,-1.1M341.6,337.8l-1.2,1.1M344.2,337.8l-1.2,-1.1M344.2,337.8l-1.2,1.1M346.8,337.8l-1.2,-1.1M346.8,337.8l-1.2,1.1M349.4,337.8l-1.2,-1.1M349.4,337.8l-1.2,1.1M352,337.8l-1.2,-1.1M352,337.8l-1.2,1.1M354.6,337.8l-1.2,-1.1M354.6,337.8l-1.2,1.1M357.2,337.8l-1.2,-1.1M357.2,337.8l-1.2,1.1M359.8,337.8l-1.2,-1.1M359.8,337.8l-1.2,1.1M362.4,337.8l-1.2,-1.1M362.4,337.8l-1.2,1.1M365,337.8l-1.2,-1.1M365,337.8l-1.2,1.1M367.6,337.8l-1.2,-1.1M367.6,337.8l-1.2,1.1M370.2,337.8l-1.2,-1.1M370.2,337.8l-1.2,1.1M372.8,337.8l-1.2,-1.1M372.8,337.8l-1.2,1.1M375.4,337.8l-1.2,-1.1M375.4,337.8l-1.2,1.1M378,337.8l-1.2,-1.1M378,337.8l-1.2,1.1M380.6,337.8l-1.2,-1.1M380.6,337.8l-1.2,1.1M383.2,337.8l-1.2,-1.1M383.2,337.8l-1.2,1.1M385.8,337.8l-1.2,-1.1M385.8,337.8l-1.2,1.1M388.4,337.8l-1.2,-1.1M388.4,337.8l-1.2,1.1M391,337.8l-1.2,-1.1M391,337.8l-1.2,1.1M393.6,337.8l-1.2,-1.1M393.6,337.8l-1.2,1.1M396.2,337.8l-1.2,-1.1M396.2,337.8l-1.2,1.1M398.8,337.8l-1.2,-1.1M398.8,337.8l-1.2,1.1M401.4,337.8l-1.2,-1.1M401.4,337.8l-1.2,1.1M404,337.8l-1.2,-1.1M404,337.8l-1.2,1.1M406.6,337.8l-1.2,-1.1M406.6,337.8l-1.2,1.1M409.2,337.8l-1.2,-1.1M409.2,337.8l-1.2,1.1M411.8,337.8l-1.2,-1.1M411.8,337.8l-1.2,1.1M414.4,337.8l-1.2,-1.1M414.4,337.8l-1.2,1.1M417,337.8l-1.2,-1.1M417,337.8l-1.2,1.1M419.6,337.8l-1.2,-1.1M419.6,337.8l-1.2,1.1M422.2,337.8l-1.2,-1.1M422.2,337.8l-1.2,1.1M424.8,337.8l-1.2,-1.1M424.8,337.8l-1.2,1.1M427.4,337.8l-1.2,-1.1M427.4,337.8l-1.2,1.1M430,337.8l-1.2,-1.1M430,337.8l-1.2,1.1M432.6,337.8l-1.2,-1.1M432.6,337.8l-1.2,1.1M435.2,337.8l-1.2,-1.1M435.2,337.8l-1.2,1.1M437.8,337.8l-1.2,-1.1M437.8,337.8l-1.2,1.1M440.4,337.8l-1.2,-1.1M440.4,337.8l-1.2,1.1M443,337.8l-1.2,-1.1M443,337.8l-1.2,1.1M445.6,337.8l-1.2,-1.1M445.6,337.8l-1.2,1.1M448.2,337.8l-1.2,-1.1M448.2,337.8l-1.2,1.1M450.8,337.8l-1.2,-1.1M450.8,337.8l-1.2,1.1M453.4,337.8l-1.2,-1.1M453.4,337.8l-1.2,1.1M456,337.8l-1.2,-1.1M456,337.8l-1.2,1.1M458.6,337.8l-1.2,-1.1M458.6,337.8l-1.2,1.1M461.2,337.8l-1.2,-1.1M461.2,337.8l-1.2,1.1M463.8,337.8l-1.2,-1.1M463.8,337.8l-1.2,1.1M466.4,337.8l-1.2,-1.1M466.4,337.8l-1.2,1.1M469,337.8l-1.2,-1.1M469,337.8l-1.2,1.1M471.6,337.8l-1.2,-1.1M471.6,337.8l-1.2,1.1M474.2,337.8l-1.2,-1.1M474.2,337.8l-1.2,1.1M476.8,337.8l-1.2,-1.1M476.8,337.8l-1.2,1.1M479.4,337.8l-1.2,-1.1M479.4,337.8l-1.2,1.1M482,337.8l-1.2,-1.1M482,337.8l-1.2,1.1M484.6,337.8l-1.2,-1.1M484.6,337.8l-1.2,1.1M487.2,337.8l-1.2,-1.1M487.2,337.8l-1.2,1.1M489.8,337.8l-1.2,-1.1M489.8,337.8l-1.2,1.1M492.4,337.8l-1.2,-1.1M492.4,337.8l-1.2,1.1M495,337.8l-1.2,-1.1M495,337.8l-1.2,1.1M497.6,337.8l-1.2,-1.1M497.6,337.8l-1.2,1.1M500.2,337.8l-1.2,-1.1M500.2,337.8l-1.2,1.1M502.8,337.8l-1.2,-1.1M502.8,337.8l-1.2,1.1M505.4,337.8l-1.2,-1.1M505.4,337.8l-1.2,1.1M508,337.8l-1.2,-1.1M508,337.8l-1.2,1.1M510.6,337.8l-1.2,-1.1M510.6,337.8l-1.2,1.1M513.2,337.8l-1.2,-1.1M513.2,337.8l-1.2,1.1M515.8,337.8l-1.2,-1.1M515.8,337.8l-1.2,1.1M518.4,337.8l-1.2,-1.1M518.4,337.8l-1.2,1.1M521,337.8l-1.2,-1.1M521,337.8l-1.2,1.1M523.6,337.8l-1.2,-1.1M523.6,337.8l-1.2,1.1M526.2,337.8l-1.2,-1.1M526.2,337.8l-1.2,1.1M528.8,337.8l-1.2,-1.1M528.8,337.8l-1.2,1.1M531.4,337.8l-1.2,-1.1M531.4,337.8l-1.2,1.1" stroke="#b3b53c" stroke-width="0.45" fill="none"/>
<rect x="89.1" y="336.2" width="1.8" height="3.2" fill="#b3b53c"/>
<rect x="109.7" y="336.2" width="1.8" height="3.2" fill="#b3b53c"/>
<rect x="152" y="336.2" width="1.8" height="3.2" fill="#b3b53c"/>
<rect x="164.2" y="336.2" width="1.8" height="3.2" fill="#b3b53c"/>
<rect x="185.7" y="336.2" width="1.8" height="3.2" fill="#b3b53c"/>
<rect x="197.1" y="336.2" width="1.8" height="3.2" fill="#b3b53c"/>
<rect x="217.6" y="336.2" width="1.8" height="3.2" fill="#b3b53c"/>
<rect x="231.7" y="336.2" width="1.8" height="3.2" fill="#b3b53c"/>
<rect x="249.1" y="336.2" width="1.8" height="3.2" fill="#b3b53c"/>
<rect x="268.1" y="336.2" width="1.8" height="3.2" fill="#b3b53c"/>
<rect x="271.3" y="336.2" width="1.8" height="3.2" fill="#b3b53c"/>
<rect x="288.6" y="336.2" width="1.8" height="3.2" fill="#b3b53c"/>
<rect x="296.7" y="336.2" width="1.8" height="3.2" fill="#b3b53c"/>
<rect x="312.1" y="336.2" width="1.8" height="3.2" fill="#b3b53c"/>
<rect x="337.8" y="336.2" width="1.8" height="3.2" fill="#b3b53c"/>
<rect x="358.7" y="336.2" width="1.8" height="3.2" fill="#b3b53c"/>
<rect x="368.3" y="336.2" width="1.8" height="3.2" fill="#b3b53c"/>
<rect x="391.1" y="336.2" width="1.8" height="3.2" fill="#b3b53c"/>
<rect x="413.2" y="336.2" width="1.8" height="3.2" fill="#b3b53c"/>
<rect x="423.8" y="336.2" width="1.8" height="3.2" fill="#b3b53c"/>
<rect x="444.1" y="336.2" width="1.8" height="3.2" fill="#b3b53c"/>
<rect x="459.8" y="336.2" width="1.8" height="3.2" fill="#b3b53c"/>
<rect x="475.9" y="336.2" width="1.8" height="3.2" fill="#b3b53c"/>
<rect x="488.6" y="336.2" width="1.8" height="3.2" fill="#b3b53c"/>
<rect x="504.1" y="336.2" width="1.8" height="3.2" fill="#b3b53c"/>
<rect x="508.1" y="336.2" width="1.8" height="3.2" fill="#b3b53c"/>
<rect x="516.5" y="336.1" width="17.8" height="3.4" fill="#b3b53c"/>
<line x1="90" y1="342" x2="507" y2="342" stroke="#b3b53c" stroke-width="0.8"/>
<path d="M92,342l-1.2,-1.1M92,342l-1.2,1.1M94.6,342l-1.2,-1.1M94.6,342l-1.2,1.1M97.2,342l-1.2,-1.1M97.2,342l-1.2,1.1M99.8,342l-1.2,-1.1M99.8,342l-1.2,1.1M102.4,342l-1.2,-1.1M102.4,342l-1.2,1.1M105,342l-1.2,-1.1M105,342l-1.2,1.1M107.6,342l-1.2,-1.1M107.6,342l-1.2,1.1M110.2,342l-1.2,-1.1M110.2,342l-1.2,1.1M112.8,342l-1.2,-1.1M112.8,342l-1.2,1.1M115.4,342l-1.2,-1.1M115.4,342l-1.2,1.1M118,342l-1.2,-1.1M118,342l-1.2,1.1M120.6,342l-1.2,-1.1M120.6,342l-1.2,1.1M123.2,342l-1.2,-1.1M123.2,342l-1.2,1.1M125.8,342l-1.2,-1.1M125.8,342l-1.2,1.1M128.4,342l-1.2,-1.1M128.4,342l-1.2,1.1M131,342l-1.2,-1.1M131,342l-1.2,1.1M133.6,342l-1.2,-1.1M133.6,342l-1.2,1.1M136.2,342l-1.2,-1.1M136.2,342l-1.2,1.1M138.8,342l-1.2,-1.1M138.8,342l-1.2,1.1M141.4,342l-1.2,-1.1M141.4,342l-1.2,1.1M144,342l-1.2,-1.1M144,342l-1.2,1.1M146.6,342l-1.2,-1.1M146.6,342l-1.2,1.1M149.2,342l-1.2,-1.1M149.2,342l-1.2,1.1M151.8,342l-1.2,-1.1M151.8,342l-1.2,1.1M154.4,342l-1.2,-1.1M154.4,342l-1.2,1.1M157,342l-1.2,-1.1M157,342l-1.2,1.1M159.6,342l-1.2,-1.1M159.6,342l-1.2,1.1M162.2,342l-1.2,-1.1M162.2,342l-1.2,1.1M164.8,342l-1.2,-1.1M164.8,342l-1.2,1.1M167.4,342l-1.2,-1.1M167.4,342l-1.2,1.1M170,342l-1.2,-1.1M170,342l-1.2,1.1M172.6,342l-1.2,-1.1M172.6,342l-1.2,1.1M175.2,342l-1.2,-1.1M175.2,342l-1.2,1.1M177.8,342l-1.2,-1.1M177.8,342l-1.2,1.1M180.4,342l-1.2,-1.1M180.4,342l-1.2,1.1M183,342l-1.2,-1.1M183,342l-1.2,1.1M185.6,342l-1.2,-1.1M185.6,342l-1.2,1.1M188.2,342l-1.2,-1.1M188.2,342l-1.2,1.1M190.8,342l-1.2,-1.1M190.8,342l-1.2,1.1M193.4,342l-1.2,-1.1M193.4,342l-1.2,1.1M196,342l-1.2,-1.1M196,342l-1.2,1.1M198.6,342l-1.2,-1.1M198.6,342l-1.2,1.1M201.2,342l-1.2,-1.1M201.2,342l-1.2,1.1M203.8,342l-1.2,-1.1M203.8,342l-1.2,1.1M206.4,342l-1.2,-1.1M206.4,342l-1.2,1.1M209,342l-1.2,-1.1M209,342l-1.2,1.1M211.6,342l-1.2,-1.1M211.6,342l-1.2,1.1M214.2,342l-1.2,-1.1M214.2,342l-1.2,1.1M216.8,342l-1.2,-1.1M216.8,342l-1.2,1.1M219.4,342l-1.2,-1.1M219.4,342l-1.2,1.1M222,342l-1.2,-1.1M222,342l-1.2,1.1M224.6,342l-1.2,-1.1M224.6,342l-1.2,1.1M227.2,342l-1.2,-1.1M227.2,342l-1.2,1.1M229.8,342l-1.2,-1.1M229.8,342l-1.2,1.1M232.4,342l-1.2,-1.1M232.4,342l-1.2,1.1M235,342l-1.2,-1.1M235,342l-1.2,1.1M237.6,342l-1.2,-1.1M237.6,342l-1.2,1.1M240.2,342l-1.2,-1.1M240.2,342l-1.2,1.1M242.8,342l-1.2,-1.1M242.8,342l-1.2,1.1M245.4,342l-1.2,-1.1M245.4,342l-1.2,1.1M248,342l-1.2,-1.1M248,342l-1.2,1.1M250.6,342l-1.2,-1.1M250.6,342l-1.2,1.1M253.2,342l-1.2,-1.1M253.2,342l-1.2,1.1M255.8,342l-1.2,-1.1M255.8,342l-1.2,1.1M258.4,342l-1.2,-1.1M258.4,342l-1.2,1.1M261,342l-1.2,-1.1M261,342l-1.2,1.1M263.6,342l-1.2,-1.1M263.6,342l-1.2,1.1M266.2,342l-1.2,-1.1M266.2,342l-1.2,1.1M268.8,342l-1.2,-1.1M268.8,342l-1.2,1.1M271.4,342l-1.2,-1.1M271.4,342l-1.2,1.1M274,342l-1.2,-1.1M274,342l-1.2,1.1M276.6,342l-1.2,-1.1M276.6,342l-1.2,1.1M279.2,342l-1.2,-1.1M279.2,342l-1.2,1.1M281.8,342l-1.2,-1.1M281.8,342l-1.2,1.1M284.4,342l-1.2,-1.1M284.4,342l-1.2,1.1M287,342l-1.2,-1.1M287,342l-1.2,1.1M289.6,342l-1.2,-1.1M289.6,342l-1.2,1.1M292.2,342l-1.2,-1.1M292.2,342l-1.2,1.1M294.8,342l-1.2,-1.1M294.8,342l-1.2,1.1M297.4,342l-1.2,-1.1M297.4,342l-1.2,1.1M300,342l-1.2,-1.1M300,342l-1.2,1.1M302.6,342l-1.2,-1.1M302.6,342l-1.2,1.1M305.2,342l-1.2,-1.1M305.2,342l-1.2,1.1M307.8,342l-1.2,-1.1M307.8,342l-1.2,1.1M310.4,342l-1.2,-1.1M310.4,342l-1.2,1.1M313,342l-1.2,-1.1M313,342l-1.2,1.1M315.6,342l-1.2,-1.1M315.6,342l-1.2,1.1M318.2,342l-1.2,-1.1M318.2,342l-1.2,1.1M320.8,342l-1.2,-1.1M320.8,342l-1.2,1.1M323.4,342l-1.2,-1.1M323.4,342l-1.2,1.1M326,342l-1.2,-1.1M326,342l-1.2,1.1M328.6,342l-1.2,-1.1M328.6,342l-1.2,1.1M331.2,342l-1.2,-1.1M331.2,342l-1.2,1.1M333.8,342l-1.2,-1.1M333.8,342l-1.2,1.1M336.4,342l-1.2,-1.1M336.4,342l-1.2,1.1M339,342l-1.2,-1.1M339,342l-1.2,1.1M341.6,342l-1.2,-1.1M341.6,342l-1.2,1.1M344.2,342l-1.2,-1.1M344.2,342l-1.2,1.1M346.8,342l-1.2,-1.1M346.8,342l-1.2,1.1M349.4,342l-1.2,-1.1M349.4,342l-1.2,1.1M352,342l-1.2,-1.1M352,342l-1.2,1.1M354.6,342l-1.2,-1.1M354.6,342l-1.2,1.1M357.2,342l-1.2,-1.1M357.2,342l-1.2,1.1M359.8,342l-1.2,-1.1M359.8,342l-1.2,1.1M362.4,342l-1.2,-1.1M362.4,342l-1.2,1.1M365,342l-1.2,-1.1M365,342l-1.2,1.1M367.6,342l-1.2,-1.1M367.6,342l-1.2,1.1M370.2,342l-1.2,-1.1M370.2,342l-1.2,1.1M372.8,342l-1.2,-1.1M372.8,342l-1.2,1.1M375.4,342l-1.2,-1.1M375.4,342l-1.2,1.1M378,342l-1.2,-1.1M378,342l-1.2,1.1M380.6,342l-1.2,-1.1M380.6,342l-1.2,1.1M383.2,342l-1.2,-1.1M383.2,342l-1.2,1.1M385.8,342l-1.2,-1.1M385.8,342l-1.2,1.1M388.4,342l-1.2,-1.1M388.4,342l-1.2,1.1M391,342l-1.2,-1.1M391,342l-1.2,1.1M393.6,342l-1.2,-1.1M393.6,342l-1.2,1.1M396.2,342l-1.2,-1.1M396.2,342l-1.2,1.1M398.8,342l-1.2,-1.1M398.8,342l-1.2,1.1M401.4,342l-1.2,-1.1M401.4,342l-1.2,1.1M404,342l-1.2,-1.1M404,342l-1.2,1.1M406.6,342l-1.2,-1.1M406.6,342l-1.2,1.1M409.2,342l-1.2,-1.1M409.2,342l-1.2,1.1M411.8,342l-1.2,-1.1M411.8,342l-1.2,1.1M414.4,342l-1.2,-1.1M414.4,342l-1.2,1.1M417,342l-1.2,-1.1M417,342l-1.2,1.1M419.6,342l-1.2,-1.1M419.6,342l-1.2,1.1M422.2,342l-1.2,-1.1M422.2,342l-1.2,1.1M424.8,342l-1.2,-1.1M424.8,342l-1.2,1.1M427.4,342l-1.2,-1.1M427.4,342l-1.2,1.1M430,342l-1.2,-1.1M430,342l-1.2,1.1M432.6,342l-1.2,-1.1M432.6,342l-1.2,1.1M435.2,342l-1.2,-1.1M435.2,342l-1.2,1.1M437.8,342l-1.2,-1.1M437.8,342l-1.2,1.1M440.4,342l-1.2,-1.1M440.4,342l-1.2,1.1M443,342l-1.2,-1.1M443,342l-1.2,1.1M445.6,342l-1.2,-1.1M445.6,342l-1.2,1.1M448.2,342l-1.2,-1.1M448.2,342l-1.2,1.1M450.8,342l-1.2,-1.1M450.8,342l-1.2,1.1M453.4,342l-1.2,-1.1M453.4,342l-1.2,1.1M456,342l-1.2,-1.1M456,342l-1.2,1.1M458.6,342l-1.2,-1.1M458.6,342l-1.2,1.1M461.2,342l-1.2,-1.1M461.2,342l-1.2,1.1M463.8,342l-1.2,-1.1M463.8,342l-1.2,1.1M466.4,342l-1.2,-1.1M466.4,342l-1.2,1.1M469,342l-1.2,-1.1M469,342l-1.2,1.1M471.6,342l-1.2,-1.1M471.6,342l-1.2,1.1M474.2,342l-1.2,-1.1M474.2,342l-1.2,1.1M476.8,342l-1.2,-1.1M476.8,342l-1.2,1.1M479.4,342l-1.2,-1.1M479.4,342l-1.2,1.1M482,342l-1.2,-1.1M482,342l-1.2,1.1M484.6,342l-1.2,-1.1M484.6,342l-1.2,1.1M487.2,342l-1.2,-1.1M487.2,342l-1.2,1.1M489.8,342l-1.2,-1.1M489.8,342l-1.2,1.1M492.4,342l-1.2,-1.1M492.4,342l-1.2,1.1M495,342l-1.2,-1.1M495,342l-1.2,1.1M497.6,342l-1.2,-1.1M497.6,342l-1.2,1.1M500.2,342l-1.2,-1.1M500.2,342l-1.2,1.1M502.8,342l-1.2,-1.1M502.8,342l-1.2,1.1M505.4,342l-1.2,-1.1M505.4,342l-1.2,1.1" stroke="#b3b53c" stroke-width="0.45" fill="none"/>
<rect x="89.1" y="340.4" width="1.8" height="3.2" fill="#b3b53c"/>
<rect x="109.7" y="340.4" width="1.8" height="3.2" fill="#b3b53c"/>
<rect x="152" y="340.4" width="1.8" height="3.2" fill="#b3b53c"/>
<rect x="164.2" y="340.4" width="1.8" height="3.2" fill="#b3b53c"/>
<rect x="185.7" y="340.4" width="1.8" height="3.2" fill="#b3b53c"/>
<rect x="197.1" y="340.4" width="1.8" height="3.2" fill="#b3b53c"/>
<rect x="217.6" y="340.4" width="1.8" height="3.2" fill="#b3b53c"/>
<rect x="231.7" y="340.4" width="1.8" height="3.2" fill="#b3b53c"/>
<rect x="249.1" y="340.4" width="1.8" height="3.2" fill="#b3b53c"/>
<rect x="268.1" y="340.4" width="1.8" height="3.2" fill="#b3b53c"/>
<rect x="271.3" y="340.4" width="1.8" height="3.2" fill="#b3b53c"/>
<rect x="288.6" y="340.4" width="1.8" height="3.2" fill="#b3b53c"/>
<rect x="296.7" y="340.4" width="1.8" height="3.2" fill="#b3b53c"/>
<rect x="312.1" y="340.4" width="1.8" height="3.2" fill="#b3b53c"/>
<rect x="337.8" y="340.4" width="1.8" height="3.2" fill="#b3b53c"/>
<rect x="358.7" y="340.4" width="1.8" height="3.2" fill="#b3b53c"/>
<rect x="368.3" y="340.4" width="1.8" height="3.2" fill="#b3b53c"/>
<rect x="391.1" y="340.4" width="1.8" height="3.2" fill="#b3b53c"/>
<rect x="413.2" y="340.4" width="1.8" height="3.2" fill="#b3b53c"/>
<rect x="423.8" y="340.4" width="1.8" height="3.2" fill="#b3b53c"/>
<rect x="444.1" y="340.4" width="1.8" height="3.2" fill="#b3b53c"/>
<rect x="459.8" y="340.4" width="1.8" height="3.2" fill="#b3b53c"/>
<rect x="475.9" y="340.4" width="1.8" height="3.2" fill="#b3b53c"/>
<rect x="488.6" y="340.4" width="1.8" height="3.2" fill="#b3b53c"/>
<rect x="504.1" y="340.4" width="1.8" height="3.2" fill="#b3b53c"/>
<line x1="66.7" y1="346.2" x2="351.5" y2="346.2" stroke="#b3b53c" stroke-width="0.8"/>
<path d="M68.7,346.2l-1.2,-1.1M68.7,346.2l-1.2,1.1M71.3,346.2l-1.2,-1.1M71.3,346.2l-1.2,1.1M73.9,346.2l-1.2,-1.1M73.9,346.2l-1.2,1.1M76.5,346.2l-1.2,-1.1M76.5,346.2l-1.2,1.1M79.1,346.2l-1.2,-1.1M79.1,346.2l-1.2,1.1M81.7,346.2l-1.2,-1.1M81.7,346.2l-1.2,1.1M84.3,346.2l-1.2,-1.1M84.3,346.2l-1.2,1.1M86.9,346.2l-1.2,-1.1M86.9,346.2l-1.2,1.1M89.5,346.2l-1.2,-1.1M89.5,346.2l-1.2,1.1M92.1,346.2l-1.2,-1.1M92.1,346.2l-1.2,1.1M94.7,346.2l-1.2,-1.1M94.7,346.2l-1.2,1.1M97.3,346.2l-1.2,-1.1M97.3,346.2l-1.2,1.1M99.9,346.2l-1.2,-1.1M99.9,346.2l-1.2,1.1M102.5,346.2l-1.2,-1.1M102.5,346.2l-1.2,1.1M105.1,346.2l-1.2,-1.1M105.1,346.2l-1.2,1.1M107.7,346.2l-1.2,-1.1M107.7,346.2l-1.2,1.1M110.3,346.2l-1.2,-1.1M110.3,346.2l-1.2,1.1M112.9,346.2l-1.2,-1.1M112.9,346.2l-1.2,1.1M115.5,346.2l-1.2,-1.1M115.5,346.2l-1.2,1.1M118.1,346.2l-1.2,-1.1M118.1,346.2l-1.2,1.1M120.7,346.2l-1.2,-1.1M120.7,346.2l-1.2,1.1M123.3,346.2l-1.2,-1.1M123.3,346.2l-1.2,1.1M125.9,346.2l-1.2,-1.1M125.9,346.2l-1.2,1.1M128.5,346.2l-1.2,-1.1M128.5,346.2l-1.2,1.1M131.1,346.2l-1.2,-1.1M131.1,346.2l-1.2,1.1M133.7,346.2l-1.2,-1.1M133.7,346.2l-1.2,1.1M136.3,346.2l-1.2,-1.1M136.3,346.2l-1.2,1.1M138.9,346.2l-1.2,-1.1M138.9,346.2l-1.2,1.1M141.5,346.2l-1.2,-1.1M141.5,346.2l-1.2,1.1M144.1,346.2l-1.2,-1.1M144.1,346.2l-1.2,1.1M146.7,346.2l-1.2,-1.1M146.7,346.2l-1.2,1.1M149.3,346.2l-1.2,-1.1M149.3,346.2l-1.2,1.1M151.9,346.2l-1.2,-1.1M151.9,346.2l-1.2,1.1M154.5,346.2l-1.2,-1.1M154.5,346.2l-1.2,1.1M157.1,346.2l-1.2,-1.1M157.1,346.2l-1.2,1.1M159.7,346.2l-1.2,-1.1M159.7,346.2l-1.2,1.1M162.3,346.2l-1.2,-1.1M162.3,346.2l-1.2,1.1M164.9,346.2l-1.2,-1.1M164.9,346.2l-1.2,1.1M167.5,346.2l-1.2,-1.1M167.5,346.2l-1.2,1.1M170.1,346.2l-1.2,-1.1M170.1,346.2l-1.2,1.1M172.7,346.2l-1.2,-1.1M172.7,346.2l-1.2,1.1M175.3,346.2l-1.2,-1.1M175.3,346.2l-1.2,1.1M177.9,346.2l-1.2,-1.1M177.9,346.2l-1.2,1.1M180.5,346.2l-1.2,-1.1M180.5,346.2l-1.2,1.1M183.1,346.2l-1.2,-1.1M183.1,346.2l-1.2,1.1M185.7,346.2l-1.2,-1.1M185.7,346.2l-1.2,1.1M188.3,346.2l-1.2,-1.1M188.3,346.2l-1.2,1.1M190.9,346.2l-1.2,-1.1M190.9,346.2l-1.2,1.1M193.5,346.2l-1.2,-1.1M193.5,346.2l-1.2,1.1M196.1,346.2l-1.2,-1.1M196.1,346.2l-1.2,1.1M198.7,346.2l-1.2,-1.1M198.7,346.2l-1.2,1.1M201.3,346.2l-1.2,-1.1M201.3,346.2l-1.2,1.1M203.9,346.2l-1.2,-1.1M203.9,346.2l-1.2,1.1M206.5,346.2l-1.2,-1.1M206.5,346.2l-1.2,1.1M209.1,346.2l-1.2,-1.1M209.1,346.2l-1.2,1.1M211.7,346.2l-1.2,-1.1M211.7,346.2l-1.2,1.1M214.3,346.2l-1.2,-1.1M214.3,346.2l-1.2,1.1M216.9,346.2l-1.2,-1.1M216.9,346.2l-1.2,1.1M219.5,346.2l-1.2,-1.1M219.5,346.2l-1.2,1.1M222.1,346.2l-1.2,-1.1M222.1,346.2l-1.2,1.1M224.7,346.2l-1.2,-1.1M224.7,346.2l-1.2,1.1M227.3,346.2l-1.2,-1.1M227.3,346.2l-1.2,1.1M229.9,346.2l-1.2,-1.1M229.9,346.2l-1.2,1.1M232.5,346.2l-1.2,-1.1M232.5,346.2l-1.2,1.1M235.1,346.2l-1.2,-1.1M235.1,346.2l-1.2,1.1M237.7,346.2l-1.2,-1.1M237.7,346.2l-1.2,1.1M240.3,346.2l-1.2,-1.1M240.3,346.2l-1.2,1.1M242.9,346.2l-1.2,-1.1M242.9,346.2l-1.2,1.1M245.5,346.2l-1.2,-1.1M245.5,346.2l-1.2,1.1M248.1,346.2l-1.2,-1.1M248.1,346.2l-1.2,1.1M250.7,346.2l-1.2,-1.1M250.7,346.2l-1.2,1.1M253.3,346.2l-1.2,-1.1M253.3,346.2l-1.2,1.1M255.9,346.2l-1.2,-1.1M255.9,346.2l-1.2,1.1M258.5,346.2l-1.2,-1.1M258.5,346.2l-1.2,1.1M261.1,346.2l-1.2,-1.1M261.1,346.2l-1.2,1.1M263.7,346.2l-1.2,-1.1M263.7,346.2l-1.2,1.1M266.3,346.2l-1.2,-1.1M266.3,346.2l-1.2,1.1M268.9,346.2l-1.2,-1.1M268.9,346.2l-1.2,1.1M271.5,346.2l-1.2,-1.1M271.5,346.2l-1.2,1.1M274.1,346.2l-1.2,-1.1M274.1,346.2l-1.2,1.1M276.7,346.2l-1.2,-1.1M276.7,346.2l-1.2,1.1M279.3,346.2l-1.2,-1.1M279.3,346.2l-1.2,1.1M281.9,346.2l-1.2,-1.1M281.9,346.2l-1.2,1.1M284.5,346.2l-1.2,-1.1M284.5,346.2l-1.2,1.1M287.1,346.2l-1.2,-1.1M287.1,346.2l-1.2,1.1M289.7,346.2l-1.2,-1.1M289.7,346.2l-1.2,1.1M292.3,346.2l-1.2,-1.1M292.3,346.2l-1.2,1.1M294.9,346.2l-1.2,-1.1M294.9,346.2l-1.2,1.1M297.5,346.2l-1.2,-1.1M297.5,346.2l-1.2,1.1M300.1,346.2l-1.2,-1.1M300.1,346.2l-1.2,1.1M302.7,346.2l-1.2,-1.1M302.7,346.2l-1.2,1.1M305.3,346.2l-1.2,-1.1M305.3,346.2l-1.2,1.1M307.9,346.2l-1.2,-1.1M307.9,346.2l-1.2,1.1M310.5,346.2l-1.2,-1.1M310.5,346.2l-1.2,1.1M313.1,346.2l-1.2,-1.1M313.1,346.2l-1.2,1.1M315.7,346.2l-1.2,-1.1M315.7,346.2l-1.2,1.1M318.3,346.2l-1.2,-1.1M318.3,346.2l-1.2,1.1M320.9,346.2l-1.2,-1.1M320.9,346.2l-1.2,1.1M323.5,346.2l-1.2,-1.1M323.5,346.2l-1.2,1.1M326.1,346.2l-1.2,-1.1M326.1,346.2l-1.2,1.1M328.7,346.2l-1.2,-1.1M328.7,346.2l-1.2,1.1M331.3,346.2l-1.2,-1.1M331.3,346.2l-1.2,1.1M333.9,346.2l-1.2,-1.1M333.9,346.2l-1.2,1.1M336.5,346.2l-1.2,-1.1M336.5,346.2l-1.2,1.1M339.1,346.2l-1.2,-1.1M339.1,346.2l-1.2,1.1M341.7,346.2l-1.2,-1.1M341.7,346.2l-1.2,1.1M344.3,346.2l-1.2,-1.1M344.3,346.2l-1.2,1.1M346.9,346.2l-1.2,-1.1M346.9,346.2l-1.2,1.1M349.5,346.2l-1.2,-1.1M349.5,346.2l-1.2,1.1" stroke="#b3b53c" stroke-width="0.45" fill="none"/>
<rect x="67.7" y="344.6" width="1.8" height="3.2" fill="#b3b53c"/>
<rect x="72.9" y="344.6" width="1.8" height="3.2" fill="#b3b53c"/>
<rect x="89.1" y="344.6" width="1.8" height="3.2" fill="#b3b53c"/>
<rect x="109.7" y="344.6" width="1.8" height="3.2" fill="#b3b53c"/>
<rect x="152" y="344.6" width="1.8" height="3.2" fill="#b3b53c"/>
<rect x="164.2" y="344.6" width="1.8" height="3.2" fill="#b3b53c"/>
<rect x="185.7" y="344.6" width="1.8" height="3.2" fill="#b3b53c"/>
<rect x="197.1" y="344.6" width="1.8" height="3.2" fill="#b3b53c"/>
<rect x="217.6" y="344.6" width="1.8" height="3.2" fill="#b3b53c"/>
<rect x="231.7" y="344.6" width="1.8" height="3.2" fill="#b3b53c"/>
<rect x="249.1" y="344.6" width="1.8" height="3.2" fill="#b3b53c"/>
<rect x="268.1" y="344.6" width="1.8" height="3.2" fill="#b3b53c"/>
<rect x="271.3" y="344.6" width="1.8" height="3.2" fill="#b3b53c"/>
<rect x="288.6" y="344.6" width="1.8" height="3.2" fill="#b3b53c"/>
<rect x="296.7" y="344.6" width="1.8" height="3.2" fill="#b3b53c"/>
<rect x="312.1" y="344.6" width="1.8" height="3.2" fill="#b3b53c"/>
<rect x="337.8" y="344.6" width="1.8" height="3.2" fill="#b3b53c"/>
<line x1="65" y1="350.4" x2="677.4" y2="350.4" stroke="#b3b53c" stroke-width="0.8"/>
<path d="M67,350.4l-1.2,-1.1M67,350.4l-1.2,1.1M69.6,350.4l-1.2,-1.1M69.6,350.4l-1.2,1.1M72.2,350.4l-1.2,-1.1M72.2,350.4l-1.2,1.1M74.8,350.4l-1.2,-1.1M74.8,350.4l-1.2,1.1M77.4,350.4l-1.2,-1.1M77.4,350.4l-1.2,1.1M80,350.4l-1.2,-1.1M80,350.4l-1.2,1.1M82.6,350.4l-1.2,-1.1M82.6,350.4l-1.2,1.1M85.2,350.4l-1.2,-1.1M85.2,350.4l-1.2,1.1M87.8,350.4l-1.2,-1.1M87.8,350.4l-1.2,1.1M90.4,350.4l-1.2,-1.1M90.4,350.4l-1.2,1.1M93,350.4l-1.2,-1.1M93,350.4l-1.2,1.1M95.6,350.4l-1.2,-1.1M95.6,350.4l-1.2,1.1M98.2,350.4l-1.2,-1.1M98.2,350.4l-1.2,1.1M100.8,350.4l-1.2,-1.1M100.8,350.4l-1.2,1.1M103.4,350.4l-1.2,-1.1M103.4,350.4l-1.2,1.1M106,350.4l-1.2,-1.1M106,350.4l-1.2,1.1M108.6,350.4l-1.2,-1.1M108.6,350.4l-1.2,1.1M111.2,350.4l-1.2,-1.1M111.2,350.4l-1.2,1.1M113.8,350.4l-1.2,-1.1M113.8,350.4l-1.2,1.1M116.4,350.4l-1.2,-1.1M116.4,350.4l-1.2,1.1M119,350.4l-1.2,-1.1M119,350.4l-1.2,1.1M121.6,350.4l-1.2,-1.1M121.6,350.4l-1.2,1.1M124.2,350.4l-1.2,-1.1M124.2,350.4l-1.2,1.1M126.8,350.4l-1.2,-1.1M126.8,350.4l-1.2,1.1M129.4,350.4l-1.2,-1.1M129.4,350.4l-1.2,1.1M132,350.4l-1.2,-1.1M132,350.4l-1.2,1.1M134.6,350.4l-1.2,-1.1M134.6,350.4l-1.2,1.1M137.2,350.4l-1.2,-1.1M137.2,350.4l-1.2,1.1M139.8,350.4l-1.2,-1.1M139.8,350.4l-1.2,1.1M142.4,350.4l-1.2,-1.1M142.4,350.4l-1.2,1.1M145,350.4l-1.2,-1.1M145,350.4l-1.2,1.1M147.6,350.4l-1.2,-1.1M147.6,350.4l-1.2,1.1M150.2,350.4l-1.2,-1.1M150.2,350.4l-1.2,1.1M152.8,350.4l-1.2,-1.1M152.8,350.4l-1.2,1.1M155.4,350.4l-1.2,-1.1M155.4,350.4l-1.2,1.1M158,350.4l-1.2,-1.1M158,350.4l-1.2,1.1M160.6,350.4l-1.2,-1.1M160.6,350.4l-1.2,1.1M163.2,350.4l-1.2,-1.1M163.2,350.4l-1.2,1.1M165.8,350.4l-1.2,-1.1M165.8,350.4l-1.2,1.1M168.4,350.4l-1.2,-1.1M168.4,350.4l-1.2,1.1M171,350.4l-1.2,-1.1M171,350.4l-1.2,1.1M173.6,350.4l-1.2,-1.1M173.6,350.4l-1.2,1.1M176.2,350.4l-1.2,-1.1M176.2,350.4l-1.2,1.1M178.8,350.4l-1.2,-1.1M178.8,350.4l-1.2,1.1M181.4,350.4l-1.2,-1.1M181.4,350.4l-1.2,1.1M184,350.4l-1.2,-1.1M184,350.4l-1.2,1.1M186.6,350.4l-1.2,-1.1M186.6,350.4l-1.2,1.1M189.2,350.4l-1.2,-1.1M189.2,350.4l-1.2,1.1M191.8,350.4l-1.2,-1.1M191.8,350.4l-1.2,1.1M194.4,350.4l-1.2,-1.1M194.4,350.4l-1.2,1.1M197,350.4l-1.2,-1.1M197,350.4l-1.2,1.1M199.6,350.4l-1.2,-1.1M199.6,350.4l-1.2,1.1M202.2,350.4l-1.2,-1.1M202.2,350.4l-1.2,1.1M204.8,350.4l-1.2,-1.1M204.8,350.4l-1.2,1.1M207.4,350.4l-1.2,-1.1M207.4,350.4l-1.2,1.1M210,350.4l-1.2,-1.1M210,350.4l-1.2,1.1M212.6,350.4l-1.2,-1.1M212.6,350.4l-1.2,1.1M215.2,350.4l-1.2,-1.1M215.2,350.4l-1.2,1.1M217.8,350.4l-1.2,-1.1M217.8,350.4l-1.2,1.1M220.4,350.4l-1.2,-1.1M220.4,350.4l-1.2,1.1M223,350.4l-1.2,-1.1M223,350.4l-1.2,1.1M225.6,350.4l-1.2,-1.1M225.6,350.4l-1.2,1.1M228.2,350.4l-1.2,-1.1M228.2,350.4l-1.2,1.1M230.8,350.4l-1.2,-1.1M230.8,350.4l-1.2,1.1M233.4,350.4l-1.2,-1.1M233.4,350.4l-1.2,1.1M236,350.4l-1.2,-1.1M236,350.4l-1.2,1.1M238.6,350.4l-1.2,-1.1M238.6,350.4l-1.2,1.1M241.2,350.4l-1.2,-1.1M241.2,350.4l-1.2,1.1M243.8,350.4l-1.2,-1.1M243.8,350.4l-1.2,1.1M246.4,350.4l-1.2,-1.1M246.4,350.4l-1.2,1.1M249,350.4l-1.2,-1.1M249,350.4l-1.2,1.1M251.6,350.4l-1.2,-1.1M251.6,350.4l-1.2,1.1M254.2,350.4l-1.2,-1.1M254.2,350.4l-1.2,1.1M256.8,350.4l-1.2,-1.1M256.8,350.4l-1.2,1.1M259.4,350.4l-1.2,-1.1M259.4,350.4l-1.2,1.1M262,350.4l-1.2,-1.1M262,350.4l-1.2,1.1M264.6,350.4l-1.2,-1.1M264.6,350.4l-1.2,1.1M267.2,350.4l-1.2,-1.1M267.2,350.4l-1.2,1.1M269.8,350.4l-1.2,-1.1M269.8,350.4l-1.2,1.1M272.4,350.4l-1.2,-1.1M272.4,350.4l-1.2,1.1M275,350.4l-1.2,-1.1M275,350.4l-1.2,1.1M277.6,350.4l-1.2,-1.1M277.6,350.4l-1.2,1.1M280.2,350.4l-1.2,-1.1M280.2,350.4l-1.2,1.1M282.8,350.4l-1.2,-1.1M282.8,350.4l-1.2,1.1M285.4,350.4l-1.2,-1.1M285.4,350.4l-1.2,1.1M288,350.4l-1.2,-1.1M288,350.4l-1.2,1.1M290.6,350.4l-1.2,-1.1M290.6,350.4l-1.2,1.1M293.2,350.4l-1.2,-1.1M293.2,350.4l-1.2,1.1M295.8,350.4l-1.2,-1.1M295.8,350.4l-1.2,1.1M298.4,350.4l-1.2,-1.1M298.4,350.4l-1.2,1.1M301,350.4l-1.2,-1.1M301,350.4l-1.2,1.1M303.6,350.4l-1.2,-1.1M303.6,350.4l-1.2,1.1M306.2,350.4l-1.2,-1.1M306.2,350.4l-1.2,1.1M308.8,350.4l-1.2,-1.1M308.8,350.4l-1.2,1.1M311.4,350.4l-1.2,-1.1M311.4,350.4l-1.2,1.1M314,350.4l-1.2,-1.1M314,350.4l-1.2,1.1M316.6,350.4l-1.2,-1.1M316.6,350.4l-1.2,1.1M319.2,350.4l-1.2,-1.1M319.2,350.4l-1.2,1.1M321.8,350.4l-1.2,-1.1M321.8,350.4l-1.2,1.1M324.4,350.4l-1.2,-1.1M324.4,350.4l-1.2,1.1M327,350.4l-1.2,-1.1M327,350.4l-1.2,1.1M329.6,350.4l-1.2,-1.1M329.6,350.4l-1.2,1.1M332.2,350.4l-1.2,-1.1M332.2,350.4l-1.2,1.1M334.8,350.4l-1.2,-1.1M334.8,350.4l-1.2,1.1M337.4,350.4l-1.2,-1.1M337.4,350.4l-1.2,1.1M340,350.4l-1.2,-1.1M340,350.4l-1.2,1.1M342.6,350.4l-1.2,-1.1M342.6,350.4l-1.2,1.1M345.2,350.4l-1.2,-1.1M345.2,350.4l-1.2,1.1M347.8,350.4l-1.2,-1.1M347.8,350.4l-1.2,1.1M350.4,350.4l-1.2,-1.1M350.4,350.4l-1.2,1.1M353,350.4l-1.2,-1.1M353,350.4l-1.2,1.1M355.6,350.4l-1.2,-1.1M355.6,350.4l-1.2,1.1M358.2,350.4l-1.2,-1.1M358.2,350.4l-1.2,1.1M360.8,350.4l-1.2,-1.1M360.8,350.4l-1.2,1.1M363.4,350.4l-1.2,-1.1M363.4,350.4l-1.2,1.1M366,350.4l-1.2,-1.1M366,350.4l-1.2,1.1M368.6,350.4l-1.2,-1.1M368.6,350.4l-1.2,1.1M371.2,350.4l-1.2,-1.1M371.2,350.4l-1.2,1.1M373.8,350.4l-1.2,-1.1M373.8,350.4l-1.2,1.1M376.4,350.4l-1.2,-1.1M376.4,350.4l-1.2,1.1M379,350.4l-1.2,-1.1M379,350.4l-1.2,1.1M381.6,350.4l-1.2,-1.1M381.6,350.4l-1.2,1.1M384.2,350.4l-1.2,-1.1M384.2,350.4l-1.2,1.1M386.8,350.4l-1.2,-1.1M386.8,350.4l-1.2,1.1M389.4,350.4l-1.2,-1.1M389.4,350.4l-1.2,1.1M392,350.4l-1.2,-1.1M392,350.4l-1.2,1.1M394.6,350.4l-1.2,-1.1M394.6,350.4l-1.2,1.1M397.2,350.4l-1.2,-1.1M397.2,350.4l-1.2,1.1M399.8,350.4l-1.2,-1.1M399.8,350.4l-1.2,1.1M402.4,350.4l-1.2,-1.1M402.4,350.4l-1.2,1.1M405,350.4l-1.2,-1.1M405,350.4l-1.2,1.1M407.6,350.4l-1.2,-1.1M407.6,350.4l-1.2,1.1M410.2,350.4l-1.2,-1.1M410.2,350.4l-1.2,1.1M412.8,350.4l-1.2,-1.1M412.8,350.4l-1.2,1.1M415.4,350.4l-1.2,-1.1M415.4,350.4l-1.2,1.1M418,350.4l-1.2,-1.1M418,350.4l-1.2,1.1M420.6,350.4l-1.2,-1.1M420.6,350.4l-1.2,1.1M423.2,350.4l-1.2,-1.1M423.2,350.4l-1.2,1.1M425.8,350.4l-1.2,-1.1M425.8,350.4l-1.2,1.1M428.4,350.4l-1.2,-1.1M428.4,350.4l-1.2,1.1M431,350.4l-1.2,-1.1M431,350.4l-1.2,1.1M433.6,350.4l-1.2,-1.1M433.6,350.4l-1.2,1.1M436.2,350.4l-1.2,-1.1M436.2,350.4l-1.2,1.1M438.8,350.4l-1.2,-1.1M438.8,350.4l-1.2,1.1M441.4,350.4l-1.2,-1.1M441.4,350.4l-1.2,1.1M444,350.4l-1.2,-1.1M444,350.4l-1.2,1.1M446.6,350.4l-1.2,-1.1M446.6,350.4l-1.2,1.1M449.2,350.4l-1.2,-1.1M449.2,350.4l-1.2,1.1M451.8,350.4l-1.2,-1.1M451.8,350.4l-1.2,1.1M454.4,350.4l-1.2,-1.1M454.4,350.4l-1.2,1.1M457,350.4l-1.2,-1.1M457,350.4l-1.2,1.1M459.6,350.4l-1.2,-1.1M459.6,350.4l-1.2,1.1M462.2,350.4l-1.2,-1.1M462.2,350.4l-1.2,1.1M464.8,350.4l-1.2,-1.1M464.8,350.4l-1.2,1.1M467.4,350.4l-1.2,-1.1M467.4,350.4l-1.2,1.1M470,350.4l-1.2,-1.1M470,350.4l-1.2,1.1M472.6,350.4l-1.2,-1.1M472.6,350.4l-1.2,1.1M475.2,350.4l-1.2,-1.1M475.2,350.4l-1.2,1.1M477.8,350.4l-1.2,-1.1M477.8,350.4l-1.2,1.1M480.4,350.4l-1.2,-1.1M480.4,350.4l-1.2,1.1M483,350.4l-1.2,-1.1M483,350.4l-1.2,1.1M485.6,350.4l-1.2,-1.1M485.6,350.4l-1.2,1.1M488.2,350.4l-1.2,-1.1M488.2,350.4l-1.2,1.1M490.8,350.4l-1.2,-1.1M490.8,350.4l-1.2,1.1M493.4,350.4l-1.2,-1.1M493.4,350.4l-1.2,1.1M496,350.4l-1.2,-1.1M496,350.4l-1.2,1.1M498.6,350.4l-1.2,-1.1M498.6,350.4l-1.2,1.1M501.2,350.4l-1.2,-1.1M501.2,350.4l-1.2,1.1M503.8,350.4l-1.2,-1.1M503.8,350.4l-1.2,1.1M506.4,350.4l-1.2,-1.1M506.4,350.4l-1.2,1.1M509,350.4l-1.2,-1.1M509,350.4l-1.2,1.1M511.6,350.4l-1.2,-1.1M511.6,350.4l-1.2,1.1M514.2,350.4l-1.2,-1.1M514.2,350.4l-1.2,1.1M516.8,350.4l-1.2,-1.1M516.8,350.4l-1.2,1.1M519.4,350.4l-1.2,-1.1M519.4,350.4l-1.2,1.1M522,350.4l-1.2,-1.1M522,350.4l-1.2,1.1M524.6,350.4l-1.2,-1.1M524.6,350.4l-1.2,1.1M527.2,350.4l-1.2,-1.1M527.2,350.4l-1.2,1.1M529.8,350.4l-1.2,-1.1M529.8,350.4l-1.2,1.1M532.4,350.4l-1.2,-1.1M532.4,350.4l-1.2,1.1M535,350.4l-1.2,-1.1M535,350.4l-1.2,1.1M537.6,350.4l-1.2,-1.1M537.6,350.4l-1.2,1.1M540.2,350.4l-1.2,-1.1M540.2,350.4l-1.2,1.1M542.8,350.4l-1.2,-1.1M542.8,350.4l-1.2,1.1M545.4,350.4l-1.2,-1.1M545.4,350.4l-1.2,1.1M548,350.4l-1.2,-1.1M548,350.4l-1.2,1.1M550.6,350.4l-1.2,-1.1M550.6,350.4l-1.2,1.1M553.2,350.4l-1.2,-1.1M553.2,350.4l-1.2,1.1M555.8,350.4l-1.2,-1.1M555.8,350.4l-1.2,1.1M558.4,350.4l-1.2,-1.1M558.4,350.4l-1.2,1.1M561,350.4l-1.2,-1.1M561,350.4l-1.2,1.1M563.6,350.4l-1.2,-1.1M563.6,350.4l-1.2,1.1M566.2,350.4l-1.2,-1.1M566.2,350.4l-1.2,1.1M568.8,350.4l-1.2,-1.1M568.8,350.4l-1.2,1.1M571.4,350.4l-1.2,-1.1M571.4,350.4l-1.2,1.1M574,350.4l-1.2,-1.1M574,350.4l-1.2,1.1M576.6,350.4l-1.2,-1.1M576.6,350.4l-1.2,1.1M579.2,350.4l-1.2,-1.1M579.2,350.4l-1.2,1.1M581.8,350.4l-1.2,-1.1M581.8,350.4l-1.2,1.1M584.4,350.4l-1.2,-1.1M584.4,350.4l-1.2,1.1M587,350.4l-1.2,-1.1M587,350.4l-1.2,1.1M589.6,350.4l-1.2,-1.1M589.6,350.4l-1.2,1.1M592.2,350.4l-1.2,-1.1M592.2,350.4l-1.2,1.1M594.8,350.4l-1.2,-1.1M594.8,350.4l-1.2,1.1M597.4,350.4l-1.2,-1.1M597.4,350.4l-1.2,1.1M600,350.4l-1.2,-1.1M600,350.4l-1.2,1.1M602.6,350.4l-1.2,-1.1M602.6,350.4l-1.2,1.1M605.2,350.4l-1.2,-1.1M605.2,350.4l-1.2,1.1M607.8,350.4l-1.2,-1.1M607.8,350.4l-1.2,1.1M610.4,350.4l-1.2,-1.1M610.4,350.4l-1.2,1.1M613,350.4l-1.2,-1.1M613,350.4l-1.2,1.1M615.6,350.4l-1.2,-1.1M615.6,350.4l-1.2,1.1M618.2,350.4l-1.2,-1.1M618.2,350.4l-1.2,1.1M620.8,350.4l-1.2,-1.1M620.8,350.4l-1.2,1.1M623.4,350.4l-1.2,-1.1M623.4,350.4l-1.2,1.1M626,350.4l-1.2,-1.1M626,350.4l-1.2,1.1M628.6,350.4l-1.2,-1.1M628.6,350.4l-1.2,1.1M631.2,350.4l-1.2,-1.1M631.2,350.4l-1.2,1.1M633.8,350.4l-1.2,-1.1M633.8,350.4l-1.2,1.1M636.4,350.4l-1.2,-1.1M636.4,350.4l-1.2,1.1M639,350.4l-1.2,-1.1M639,350.4l-1.2,1.1M641.6,350.4l-1.2,-1.1M641.6,350.4l-1.2,1.1M644.2,350.4l-1.2,-1.1M644.2,350.4l-1.2,1.1M646.8,350.4l-1.2,-1.1M646.8,350.4l-1.2,1.1M649.4,350.4l-1.2,-1.1M649.4,350.4l-1.2,1.1M652,350.4l-1.2,-1.1M652,350.4l-1.2,1.1M654.6,350.4l-1.2,-1.1M654.6,350.4l-1.2,1.1M657.2,350.4l-1.2,-1.1M657.2,350.4l-1.2,1.1M659.8,350.4l-1.2,-1.1M659.8,350.4l-1.2,1.1M662.4,350.4l-1.2,-1.1M662.4,350.4l-1.2,1.1M665,350.4l-1.2,-1.1M665,350.4l-1.2,1.1M667.6,350.4l-1.2,-1.1M667.6,350.4l-1.2,1.1M670.2,350.4l-1.2,-1.1M670.2,350.4l-1.2,1.1M672.8,350.4l-1.2,-1.1M672.8,350.4l-1.2,1.1M675.4,350.4l-1.2,-1.1M675.4,350.4l-1.2,1.1" stroke="#b3b53c" stroke-width="0.45" fill="none"/>
<rect x="67.7" y="348.8" width="1.8" height="3.2" fill="#b3b53c"/>
<rect x="72.9" y="348.8" width="1.8" height="3.2" fill="#b3b53c"/>
<rect x="89.1" y="348.8" width="1.8" height="3.2" fill="#b3b53c"/>
<rect x="109.7" y="348.8" width="1.8" height="3.2" fill="#b3b53c"/>
<rect x="152" y="348.8" width="1.8" height="3.2" fill="#b3b53c"/>
<rect x="164.2" y="348.8" width="1.8" height="3.2" fill="#b3b53c"/>
<rect x="185.7" y="348.8" width="1.8" height="3.2" fill="#b3b53c"/>
<rect x="197.1" y="348.8" width="1.8" height="3.2" fill="#b3b53c"/>
<rect x="217.6" y="348.8" width="1.8" height="3.2" fill="#b3b53c"/>
<rect x="231.7" y="348.8" width="1.8" height="3.2" fill="#b3b53c"/>
<rect x="249.1" y="348.8" width="1.8" height="3.2" fill="#b3b53c"/>
<rect x="268.1" y="348.8" width="1.8" height="3.2" fill="#b3b53c"/>
<rect x="271.3" y="348.8" width="1.8" height="3.2" fill="#b3b53c"/>
<rect x="288.6" y="348.8" width="1.8" height="3.2" fill="#b3b53c"/>
<rect x="296.7" y="348.8" width="1.8" height="3.2" fill="#b3b53c"/>
<rect x="312.1" y="348.8" width="1.8" height="3.2" fill="#b3b53c"/>
<rect x="337.8" y="348.8" width="1.8" height="3.2" fill="#b3b53c"/>
<rect x="358.7" y="348.8" width="1.8" height="3.2" fill="#b3b53c"/>
<rect x="368.3" y="348.8" width="1.8" height="3.2" fill="#b3b53c"/>
<rect x="391.1" y="348.8" width="1.8" height="3.2" fill="#b3b53c"/>
<rect x="413.2" y="348.8" width="1.8" height="3.2" fill="#b3b53c"/>
<rect x="423.8" y="348.8" width="1.8" height="3.2" fill="#b3b53c"/>
<rect x="444.1" y="348.8" width="1.8" height="3.2" fill="#b3b53c"/>
<rect x="459.8" y="348.8" width="1.8" height="3.2" fill="#b3b53c"/>
<rect x="475.9" y="348.8" width="1.8" height="3.2" fill="#b3b53c"/>
<rect x="488.6" y="348.8" width="1.8" height="3.2" fill="#b3b53c"/>
<rect x="504.1" y="348.8" width="1.8" height="3.2" fill="#b3b53c"/>
<rect x="508.1" y="348.8" width="1.8" height="3.2" fill="#b3b53c"/>
<rect x="630.1" y="348.8" width="1.8" height="3.2" fill="#b3b53c"/>
<rect x="634.1" y="348.8" width="1.8" height="3.2" fill="#b3b53c"/>
<rect x="516.5" y="348.7" width="108.9" height="3.4" fill="#b3b53c"/>
<rect x="650.5" y="348.7" width="26.9" height="3.4" fill="#b3b53c"/>
<text x="72.9" y="339.7" font-size="5.4" fill="#b3b53c" style="stroke:#b3b53c">APOB</text>
<text x="72.9" y="343.9" font-size="5.4" fill="#b3b53c" style="stroke:#b3b53c">APOB</text>
<text x="353.5" y="348.1" font-size="5.4" fill="#b3b53c" style="stroke:#b3b53c">APOB</text>
<text x="48.5" y="352.3" font-size="5.4" fill="#b3b53c" style="stroke:#b3b53c">APOB</text>
<text x="301.7" y="336.1" font-size="5.2" fill="#e02020" style="stroke:#e02020" textLength="46.5" lengthAdjust="spacingAndGlyphs">ENSG00000280390</text>
<line x1="350.9" y1="333.6" x2="361.2" y2="333.6" stroke="#e02020" stroke-width="1.5"/>
<line x1="12" y1="353.6" x2="677.4" y2="353.6" stroke="#cfcfcf" stroke-width="0.6"/>
<text x="52" y="362.2" font-size="7" text-anchor="end">Transcription</text>
<text x="64.7" y="357.9" font-size="4.7" text-anchor="end" class="n">252</text>
<text x="64.7" y="367.7" font-size="4.7" text-anchor="end" class="n">0</text>
<path d="M66.2 367.1l0 0 0.4 0 0.4-0.3 0.8-3.6 0.4-0.7 0.4 0 0.4 0 0.4 0.7 0.8 3.6 0.4 0.3 1.2 0 0.4-0.3 0.8-2.8 0.4-0.6 0.4 0 0.4 0 0.4 0.6 0.8 2.8 0.4 0.3 12.4-0.1 0.4-1.2 0.8-4.5 0.4-0.3 0.4 0 0.4 0.3 0.8 4.5 0.4 1.2 16.8 0.1 0.4-0.7 0.8-7.6 0.4-1.4 0.4-0.1 0.4 0.1 0.4 1.4 0.8 7.6 0.4 0.7 0.4 0 38 0 0.4-1.1 0.8-6.7 0.4-0.8 0.4 0 0.4 0.2 0.4 1.8 0.8 6.3 0.4 0.3 8 0 0.4-0.3 0.8-6.7 0.4-2 0.4-0.2 0.4 0 0.4 0.9 0.8 7.1 0.4 1.2 0.4 0 17.2 0 0.4-0.6 0.8-6.7 0.4-1.2 0.4-0.1 0.4 0.1 0.4 1.2 0.8 6.7 0.4 0.6 7.6-0.1 0.4-1.5 0.8-5.7 0.4-0.4 0.4 0 0.4 0.4 0.8 5.7 0.4 1.5 16.8 0.1 0.4-1.2 0.8-7.1 0.4-0.9 0.4 0 0.4 0.2 0.8 3.6 0.4-0.6 0.8 0.2 1.2 5.6 0.4 0.2 8 0 0.4-0.5 0.8-6 0.4-1.1 0.4-0.1 0.4 0.1 0.8 2.6 0.4-0.5 0.8 0.1 1.2 5.2 0.4 0.2 30.4 0 0.4-0.5 0.8-5.4 0.4-1 0.4-0.1 0.4 0.1 0.4 1 0.8 5.3 0.8-7.4 0.4-1.4 0.4-0.1 0.4 0.1 0.4 1.4 0.8 7.4 0.4 0.6 0.4 0 12.8 0 0.4-0.3 0.8-6.6 0.4-1.9 0.4-0.2 0.4 0 0.4 0.8 0.4 3.3 1.2-0.1 0.4 0.5 0.8 3.9 0.4 0.6 0.4 0 2-0.1 0.4-1.5 0.8-5.5 0.4-0.4 0.4 0 0.4 0.4 0.4 1.4 0.4-0.3 0.4 0 0.4 0.3 0.8 4.5 0.4 1.1 0.4 0.1 9.6 0 0.4-0.4 0.8-4.7 0.4-0.8 0.4-0.1 0.4 0.1 0.4 0.8 0.8 4.7 0.4 0.4 21.6 0 0.4-0.2 1.2-6.6 0.4-0.2 0.4 0 0.4 0.7 0.4 1.6 0.4-0.3 0.8 0.3 0.8 3.7 0.4 0.9 0.4 0.1 15.2-0.1 0.4-1.1 0.8-4.5 0.4-0.3 0.4 0 0.4 0.3 0.8 4.5 0.4 1.1 6 0 0.4-1.4 0.8-5.1 0.4-0.4 0.4 0 0.4 0.4 0.4 1.1 0.4-0.9 0.8 0 0.4 0.9 0.8 5.1 0.4 0.4 38.8 0 0.4 0 0.4-1.1 0.8-7.1 0.4-0.8 0.4 0 0.4 0.2 0.8 2.9 0.8 0 0.4 0.8 0.8 4.7 0.4 0.4 0.4 0 4.4 0 0.4-0.2 0.8-4.4 0.4-1.2 0.4-0.2 0.4 0 0.4 0.6 0.8 4.6 0.4 0.8 32 0 0.4-0.3 0.8-6.6 0.4-1.9 0.4-0.2 0.4 0 0.4 0.8 0.4 2.3 0.8 0 0.4 0.8 0.8 4.7 0.4 0.4 0.4 0 8.8-0.1 0.4-1.2 0.8-4.9 0.4-0.3 0.4 0 0.4 0.3 0.4-0.1 0.4-1.1 0.4-0.1 0.4 0.1 0.4 1.1 0.4 2.5 0.4-2.5 0.4-0.7 0.8 0.2 0.4 0.5 0.4-1.1 0.8 0 0.4 1.1 0.8 5.8 0.4 0.5 3.6 0 0.4-0.6 0.8-6.6 0.4-1.2 0.4-0.1 0.4 0.1 0.4 1.2 0.4-0.6 0.4-0.2 0.4 0 0.4 0.7 0.8 6.3 0.4 1 10.8 0 0.4-0.5 0.8-5.4 0.4-1 0.8 0 0.4 1 0.8-2 0.8 0 0.4 1.1 0.4 0 0.4-1.1 0.4-0.1 0.4 0.1 0.8 2 0.8 0 0.4 0.8 0.8 4.7 0.4 0.4 3.6 0 0.4-7 1.2-0.3 1.2 0.4 0.4-0.1 1.2-1.7 0.4-0.2 1.2 0.3 0.4 0.3 1.2 1.4 0.4-0.1 1.2-2.1 0.4-0.3 1.2 0 2 1 1.2 0 2 1.5 1.2 0.3 0.4-0.1 1.2-1.2 0.4 0 1.2 1 0.4 0.2 2.8-0.5 1.6 0.5 0.4-0.1 1.2-0.9 1.6-0.1 1.6-1.1 0.4 0 1.2 0.7 0.4 2.3 1.2-0.3 2 0.3 1.6-0.3 2.8 1 0.4-0.2 1.2-1.6 0.4-0.3 2 0.2 0.4-2.1 2 0.5 2 1.3 1.6 0.2 1.2-0.1 1.6 0.5 0.4-0.2 1.2-1.5 0.4-0.2 1.2 0.9 0.4-0.1 1.2-1 0.4 0 1.2 1.1 0.4-0.1 1.2-1.3 0.4-0.1 1.2 0.2 1.6 2.3 0.4 0.2 1.6-0.8 1.2-1.6 0.4-0.1 1.2 1 0.4 0 1.2-1.1 0.4 0 1.6 1.6 1.2 0.8 0.4-0.1 1.6-1.5 1.2-0.4 0.4 0.2 1.6 1.4 1.6 0.3 1.2-0.5 1.6-1.8 0.4-0.1 1.2 0.4 1.6 1.8 0.4 0.2 1.6-0.3 2.8 0.5 0.4-0.3 1.2-1.6 0.4-0.1 1.2 1.4 0.4 0.1 1.6-0.9 1.6 0.4 1.2 0.5 0.4-0.1 1.2-1.2 0.4 0 1.2 1.4 0.4 0 1.2-1.1 0.4 0 1.2 1.2 0.4 0 1.2-0.6 0.4-0.1 1.2 0.5 0.8 0 0.4 7.2 3.2-0.1 0.4-1.6 0.8-5.9 0.4-0.4 0.4 0 0.4 0.4 0.4 2.2 0.4-0.6 0.8 0.2 0.4 1.2 0.4 2.7 0.8-5.2 0.4-0.4 0.4 0 0.4 0.4 0.8 5.5 0.4 1.5 0.4 0.1 12.8 0 0.4-5.6 1.6 0.8 1.2-0.1 1.6-1.7 0.4-0.1 1.2 1.1 0.4-0.1 1.2-1 0.4-0.1 1.6 0.8 1.2-0.3 0.4-0.3 1.2-1.5 0.4 0 1.2 1.4 0.4 0.2 1.6-0.4 1.2-0.9 0.4 0.2 1.2 2 0.4 0.4 1.2 0.1 0.4-0.4 1.2-2.3 0.4-0.3 1.2 0.3 2 2.3 1.2 0.2V367.1Z" fill="#d42222"/>
<line x1="66.2" y1="367" x2="677.4" y2="367" stroke="#f0a0a0" stroke-width="0.4"/>
<line x1="65.8" y1="355.2" x2="65.8" y2="367.4" stroke="#111" stroke-width="1.3"/>
<text x="52" y="374.7" font-size="7" text-anchor="end">CpG Context</text>
<rect x="66.2" y="368.8" width="611.2" height="6" fill="#a3a3a3"/>
<rect x="66.2" y="368.8" width="4.5" height="6" fill="#5cc86a"/>
<rect x="70.7" y="368.8" width="28.2" height="6" fill="#e8dc5a"/>
<rect x="98.9" y="368.8" width="29.1" height="6" fill="#5fd8ea"/>
<text x="85" y="374.1" font-size="6.6" text-anchor="middle" class="n">Shore</text>
<text x="113.6" y="374.1" font-size="6.6" text-anchor="middle" class="n">Shelf</text>
<text x="52" y="383.7" font-size="7" text-anchor="end">Methylation</text>
<text x="64.7" y="379.2" font-size="4.7" text-anchor="end" class="n">67</text>
<text x="64.7" y="389.1" font-size="4.7" text-anchor="end" class="n">0</text>
<line x1="18" y1="389.4" x2="677.4" y2="389.4" stroke="#cfcfcf" stroke-width="0.6"/>
<text x="52" y="397.1" font-size="7" text-anchor="end">H3K4me3</text>
<text x="64.7" y="392.6" font-size="4.7" text-anchor="end" class="n">113</text>
<text x="64.7" y="402.5" font-size="4.7" text-anchor="end" class="n">0</text>
<line x1="18" y1="402.8" x2="677.4" y2="402.8" stroke="#cfcfcf" stroke-width="0.6"/>
<text x="52" y="410.4" font-size="7" text-anchor="end">H3K27ac</text>
<text x="64.7" y="405.9" font-size="4.7" text-anchor="end" class="n">595</text>
<text x="64.7" y="415.8" font-size="4.7" text-anchor="end" class="n">0</text>
<line x1="18" y1="416.1" x2="677.4" y2="416.1" stroke="#cfcfcf" stroke-width="0.6"/>
<text x="52" y="423.8" font-size="7" text-anchor="end">H3K27me3</text>
<text x="64.7" y="419.3" font-size="4.7" text-anchor="end" class="n">2.3</text>
<text x="64.7" y="429.2" font-size="4.7" text-anchor="end" class="n">0.0</text>
<line x1="18" y1="429.5" x2="677.4" y2="429.5" stroke="#cfcfcf" stroke-width="0.6"/>
<text x="52" y="437.1" font-size="7" text-anchor="end">H3K36me3</text>
<text x="64.7" y="432.6" font-size="4.7" text-anchor="end" class="n">53</text>
<text x="64.7" y="442.5" font-size="4.7" text-anchor="end" class="n">0</text>
<line x1="18" y1="442.8" x2="677.4" y2="442.8" stroke="#cfcfcf" stroke-width="0.6"/>
<text x="52" y="450.4" font-size="7" text-anchor="end">H3K4me1</text>
<text x="64.7" y="445.9" font-size="4.7" text-anchor="end" class="n">74</text>
<text x="64.7" y="455.8" font-size="4.7" text-anchor="end" class="n">0</text>
<line x1="18" y1="456.1" x2="677.4" y2="456.1" stroke="#cfcfcf" stroke-width="0.6"/>
<text x="52" y="463.4" font-size="7" text-anchor="end">H3K9me3</text>
<text x="64.7" y="458.9" font-size="4.7" text-anchor="end" class="n">5.7</text>
<text x="64.7" y="468.8" font-size="4.7" text-anchor="end" class="n">0.0</text>
<line x1="18" y1="469.1" x2="677.4" y2="469.1" stroke="#cfcfcf" stroke-width="0.6"/>
<text x="52" y="476.8" font-size="7" text-anchor="end">TF-HNF4A</text>
<text x="64.7" y="472.3" font-size="4.7" text-anchor="end" class="n">270</text>
<text x="64.7" y="482.2" font-size="4.7" text-anchor="end" class="n">0</text>
<line x1="18" y1="482.5" x2="677.4" y2="482.5" stroke="#cfcfcf" stroke-width="0.6"/>
<text x="52" y="490.2" font-size="7" text-anchor="end">TF-FOXA1</text>
<text x="64.7" y="485.7" font-size="4.7" text-anchor="end" class="n">193</text>
<text x="64.7" y="495.6" font-size="4.7" text-anchor="end" class="n">0</text>
<line x1="18" y1="495.9" x2="677.4" y2="495.9" stroke="#cfcfcf" stroke-width="0.6"/>
<text x="52" y="503.6" font-size="7" text-anchor="end">TF-PPARG</text>
<text x="64.7" y="499.1" font-size="4.7" text-anchor="end" class="n">98</text>
<text x="64.7" y="509" font-size="4.7" text-anchor="end" class="n">0</text>
<line x1="18" y1="509.3" x2="677.4" y2="509.3" stroke="#cfcfcf" stroke-width="0.6"/>
<text x="52" y="516.8" font-size="7" text-anchor="end">TF-NR2F6</text>
<text x="64.7" y="512.3" font-size="4.7" text-anchor="end" class="n">526</text>
<text x="64.7" y="522.2" font-size="4.7" text-anchor="end" class="n">0</text>
<line x1="18" y1="522.5" x2="677.4" y2="522.5" stroke="#cfcfcf" stroke-width="0.6"/>
<text x="52" y="530.1" font-size="7" text-anchor="end">TF-NR2F1</text>
<text x="64.7" y="525.6" font-size="4.7" text-anchor="end" class="n">248</text>
<text x="64.7" y="535.5" font-size="4.7" text-anchor="end" class="n">0</text>
<line x1="18" y1="535.8" x2="677.4" y2="535.8" stroke="#cfcfcf" stroke-width="0.6"/>
<text x="52" y="543.5" font-size="7" text-anchor="end">erTF-CEBPA</text>
<text x="64.7" y="539" font-size="4.7" text-anchor="end" class="n">416</text>
<text x="64.7" y="548.9" font-size="4.7" text-anchor="end" class="n">0</text>
<line x1="18" y1="549.2" x2="677.4" y2="549.2" stroke="#cfcfcf" stroke-width="0.6"/>
<text x="52" y="556.6" font-size="7" text-anchor="end">erTF-NR3C1</text>
<text x="64.7" y="552.1" font-size="4.7" text-anchor="end" class="n">2.4</text>
<text x="64.7" y="562" font-size="4.7" text-anchor="end" class="n">0.0</text>
<line x1="18" y1="562.3" x2="677.4" y2="562.3" stroke="#cfcfcf" stroke-width="0.6"/>
<path d="M81.75,388.5v-1.47M82.9,388.5v-0.48M83.04,388.5v-0.3M87.15,388.5v-0.34M88.68,388.5v-0.35M90.85,388.5v-0.74M91.28,388.5v-0.32M92.87,388.5v-0.3M93.2,388.5v-0.67M95.59,388.5v-0.77M96,388.5v-1.59M96.28,388.5v-0.3M96.68,388.5v-0.51M96.75,388.5v-0.32M97.33,388.5v-0.7M97.51,388.5v-0.43M100.28,388.5v-1.82M101.61,388.5v-0.94M102.71,388.5v-0.31M102.76,388.5v-0.3M105.77,388.5v-0.96M109.88,388.5v-0.3M111.15,388.5v-0.56M112.78,388.5v-0.39M121.97,388.5v-0.3M122.96,388.5v-1.05M125.84,388.5v-1.05M127.36,388.5v-1.2M130.44,388.5v-0.42M131.89,388.5v-1.53M134.45,388.5v-0.48M136.4,388.5v-1.41M137.46,388.5v-0.79M138.07,388.5v-0.71M139.24,388.5v-0.3M140.52,388.5v-1.87M143.16,388.5v-1.02M143.78,388.5v-1.04M144.87,388.5v-0.51M147.14,388.5v-0.3M148.88,388.5v-0.3M150.03,388.5v-1.24M150.23,388.5v-2.06M150.76,388.5v-1.71M152.7,388.5v-0.71M152.71,388.5v-0.79M153.59,388.5v-0.63M153.73,388.5v-3.13M154.56,388.5v-1.12M156.27,388.5v-0.84M157.11,388.5v-0.63M157.55,388.5v-2.58M159.43,388.5v-2.98M159.81,388.5v-1.59M160.1,388.5v-0.56M160.63,388.5v-2.74M162.08,388.5v-2.12M164.39,388.5v-0.75M164.53,388.5v-1.15M164.78,388.5v-0.65M165.19,388.5v-1.75M165.71,388.5v-0.82M167.12,388.5v-3.59M167.58,388.5v-0.52M167.6,388.5v-2.94M167.64,388.5v-2.11M168.29,388.5v-0.81M169.49,388.5v-0.5M169.6,388.5v-1.16M169.62,388.5v-2.7M169.83,388.5v-0.56M169.87,388.5v-1.77M170.32,388.5v-1.77M171.14,388.5v-2.59M173.59,388.5v-2M173.76,388.5v-1.22M173.91,388.5v-0.5M174.4,388.5v-2.13M174.56,388.5v-0.74M174.88,388.5v-2.06M175.45,388.5v-1.71M176.53,388.5v-1M177.74,388.5v-3.13M177.81,388.5v-3.28M178.8,388.5v-0.55M179.26,388.5v-1.75M181.11,388.5v-0.95M181.76,388.5v-2.97M182.99,388.5v-3.35M183.47,388.5v-1.86M183.64,388.5v-2.17M184.95,388.5v-1.82M185.93,388.5v-0.65M187.7,388.5v-3.58M190.61,388.5v-1.42M191.82,388.5v-0.83M193.67,388.5v-2.84M194,388.5v-0.52M194.44,388.5v-1.47M195.57,388.5v-1.26M195.59,388.5v-2.6M195.64,388.5v-2.55M195.79,388.5v-0.86M196.98,388.5v-0.56M197.1,388.5v-1.35M198.09,388.5v-2.76M198.99,388.5v-3.36M199.52,388.5v-3.38M199.58,388.5v-0.66M200.16,388.5v-0.77M201.16,388.5v-1.81M201.73,388.5v-2.78M202.36,388.5v-0.81M202.73,388.5v-2.79M204.51,388.5v-0.64M205.97,388.5v-3.5M206.54,388.5v-1.55M206.72,388.5v-1.42M207.25,388.5v-1.67M207.28,388.5v-3.51M207.83,388.5v-1.01M209.08,388.5v-1.51M209.6,388.5v-2.03M209.65,388.5v-1.43M210.06,388.5v-3.43M212.04,388.5v-0.73M212.53,388.5v-0.55M212.97,388.5v-2.63M214.74,388.5v-1.23M215.03,388.5v-0.62M215.77,388.5v-3.24M215.88,388.5v-2.44M215.9,388.5v-0.62M216.1,388.5v-2.01M216.4,388.5v-0.9M217.14,388.5v-0.54M218.15,388.5v-0.55M218.7,388.5v-0.7M218.87,388.5v-1.4M219.31,388.5v-0.95M219.72,388.5v-1.4M219.85,388.5v-0.63M220.62,388.5v-1.8M221.2,388.5v-2.82M221.93,388.5v-2.85M222.13,388.5v-2.26M223.41,388.5v-3.11M223.71,388.5v-0.82M225.68,388.5v-0.65M230.61,388.5v-3.02M230.72,388.5v-0.68M231.71,388.5v-0.72M231.79,388.5v-2.72M232.21,388.5v-2.5M232.32,388.5v-1.02M233.21,388.5v-0.5M233.38,388.5v-1.99M235.24,388.5v-3.5M235.34,388.5v-1.32M236.43,388.5v-1.31M237.32,388.5v-0.61M237.38,388.5v-0.54M237.4,388.5v-1.47M237.96,388.5v-1.54M238.08,388.5v-0.61M238.26,388.5v-2.76M241.82,388.5v-3.25M241.9,388.5v-0.51M244.23,388.5v-1.18M245.34,388.5v-0.84M245.83,388.5v-1.35M246.26,388.5v-1.66M246.27,388.5v-2.07M247.7,388.5v-0.61M248.16,388.5v-2.25M248.56,388.5v-0.62M248.7,388.5v-1.34M248.72,388.5v-3.05M249.96,388.5v-2.09M251.48,388.5v-1.77M251.88,388.5v-1.65M252.41,388.5v-3.59M253.67,388.5v-0.71M255.54,388.5v-2.27M256.69,388.5v-2.62M257.09,388.5v-3.07M258.72,388.5v-2.04M259.84,388.5v-2.37M260.24,388.5v-2.17M260.3,388.5v-0.87M260.79,388.5v-0.5M261.13,388.5v-1.81M261.88,388.5v-0.67M264.1,388.5v-1.92M264.42,388.5v-1.89M265.07,388.5v-1.41M265.45,388.5v-3.7M266.24,388.5v-2.07M267.34,388.5v-3.57M267.36,388.5v-1.71M268.39,388.5v-0.71M268.79,388.5v-0.51M268.96,388.5v-0.95M269.04,388.5v-0.7M270.85,388.5v-1.47M271.4,388.5v-3.49M272.04,388.5v-3.67M272.83,388.5v-2.6M272.89,388.5v-1.64M273.98,388.5v-0.51M276.03,388.5v-0.58M276.52,388.5v-0.59M277.05,388.5v-1.7M277.09,388.5v-3.36M277.51,388.5v-1.39M278.21,388.5v-0.93M278.47,388.5v-1.87M279.1,388.5v-0.76M280.07,388.5v-0.78M280.09,388.5v-0.69M280.12,388.5v-0.58M281.2,388.5v-0.99M282.95,388.5v-2.29M282.99,388.5v-3.63M285.22,388.5v-0.52M287.03,388.5v-1.09M287.53,388.5v-3.53M287.74,388.5v-1.38M289.87,388.5v-2.17M290.36,388.5v-3.57M291.67,388.5v-1.67M291.76,388.5v-1.75M292.23,388.5v-0.63M292.27,388.5v-1.39M292.37,388.5v-1.13M293.22,388.5v-1.16M293.45,388.5v-1.58M293.87,388.5v-2.44M294.45,388.5v-3.68M296.8,388.5v-2.23M297.01,388.5v-0.54M298.73,388.5v-2.47M299.48,388.5v-0.91M299.72,388.5v-2M300.36,388.5v-1.62M301.14,388.5v-2.32M301.3,388.5v-0.7M304.3,388.5v-3.18M305.92,388.5v-0.5M305.97,388.5v-0.73M306.39,388.5v-1.74M306.48,388.5v-1.44M306.53,388.5v-0.52M307.4,388.5v-1.47M308.17,388.5v-0.95M308.67,388.5v-0.64M308.99,388.5v-2.28M310.4,388.5v-0.52M310.49,388.5v-2.6M311.25,388.5v-2.39M311.43,388.5v-1.08M311.66,388.5v-2.6M312.01,388.5v-1.87M315.5,388.5v-0.84M316.11,388.5v-2.28M318.06,388.5v-1.09M318.41,388.5v-0.53M320.01,388.5v-0.52M320.08,388.5v-1.52M320.59,388.5v-2M320.86,388.5v-2.42M320.93,388.5v-0.65M321.76,388.5v-0.52M322.04,388.5v-2.18M322.95,388.5v-0.76M323.07,388.5v-0.91M324.06,388.5v-0.93M324.16,388.5v-2.11M324.81,388.5v-3.2M326.97,388.5v-3.17M327.41,388.5v-2.56M327.69,388.5v-0.82M328.09,388.5v-3.3M329.82,388.5v-0.7M330.16,388.5v-0.93M330.51,388.5v-1M330.89,388.5v-0.62M331.53,388.5v-2.53M332.12,388.5v-2.74M332.76,388.5v-0.6M333.86,388.5v-2.98M334.11,388.5v-0.5M334.67,388.5v-1.45M335.31,388.5v-3.49M336.12,388.5v-2.57M336.17,388.5v-1.46M337.37,388.5v-0.52M337.43,388.5v-2.24M339.2,388.5v-0.52M339.97,388.5v-0.57M341.02,388.5v-1.85M341.24,388.5v-0.66M342.35,388.5v-1.37M343.47,388.5v-1M343.78,388.5v-3.5M344.64,388.5v-1.28M345.24,388.5v-2.16M346.18,388.5v-3.18M346.59,388.5v-2.68M347.44,388.5v-2.83M348.7,388.5v-2.72M350.38,388.5v-3.44M351.17,388.5v-1.38M352.12,388.5v-2.56M352.55,388.5v-1.07M352.67,388.5v-2.26M356.29,388.5v-0.95M356.43,388.5v-0.63M356.86,388.5v-0.77M359.55,388.5v-0.51M359.83,388.5v-0.54M360.64,388.5v-2.43M360.79,388.5v-0.51M361.26,388.5v-1.59M363.11,388.5v-0.5M363.19,388.5v-0.61M363.38,388.5v-0.68M364.36,388.5v-1.63M364.55,388.5v-0.61M364.8,388.5v-0.6M365.89,388.5v-0.81M366.51,388.5v-2.64M367.01,388.5v-0.72M368.69,388.5v-3.17M369.01,388.5v-1.46M371.43,388.5v-1.25M371.62,388.5v-0.51M373.89,388.5v-2.56M374.26,388.5v-1.39M374.82,388.5v-0.74M378.38,388.5v-1.88M378.59,388.5v-0.5M379.08,388.5v-0.94M380.31,388.5v-2.13M381.03,388.5v-0.58M381.16,388.5v-0.83M381.39,388.5v-2.92M381.95,388.5v-1.8M385.78,388.5v-0.73M386.37,388.5v-0.57M387.5,388.5v-0.5M388.82,388.5v-2.79M390.15,388.5v-0.52M390.39,388.5v-2.14M390.47,388.5v-1.24M390.96,388.5v-3.42M391.64,388.5v-2.85M391.92,388.5v-2.49M392.33,388.5v-3.19M392.4,388.5v-2.69M392.58,388.5v-1.44M393.16,388.5v-0.58M394.53,388.5v-0.81M394.82,388.5v-0.52M395.1,388.5v-1.2M396.06,388.5v-0.91M396.96,388.5v-0.54M397.34,388.5v-1.18M399.96,388.5v-2.7M400.78,388.5v-0.5M401.14,388.5v-2.11M401.35,388.5v-1.52M401.82,388.5v-0.5M405.5,388.5v-2.55M405.68,388.5v-1.71M405.94,388.5v-0.95M406.54,388.5v-0.78M406.86,388.5v-0.99M407.7,388.5v-0.71M407.87,388.5v-2.21M408.18,388.5v-3.36M408.82,388.5v-2.18M409.13,388.5v-2.69M409.2,388.5v-0.56M409.28,388.5v-1.97M410.23,388.5v-0.6M410.62,388.5v-2.74M411.31,388.5v-0.53M411.51,388.5v-0.58M411.61,388.5v-1.03M411.67,388.5v-3.21M412.1,388.5v-1.34M412.9,388.5v-2.38M414.23,388.5v-0.98M414.53,388.5v-1.04M414.55,388.5v-1.01M415.47,388.5v-3.59M416.67,388.5v-1.89M417.39,388.5v-0.5M417.7,388.5v-0.87M418.51,388.5v-0.54M418.88,388.5v-1.33M420.07,388.5v-2.68M420.8,388.5v-0.58M421.92,388.5v-3.11M422.53,388.5v-0.9M423.06,388.5v-0.56M424.02,388.5v-3.62M424.58,388.5v-2.14M425.97,388.5v-0.62M428.2,388.5v-1.76M428.37,388.5v-0.52M428.59,388.5v-1.56M429.5,388.5v-0.85M431.54,388.5v-0.92M432.02,388.5v-0.55M434.81,388.5v-0.56M436.62,388.5v-1.44M437.25,388.5v-1.5M437.49,388.5v-3.15M441.21,388.5v-2.64M441.92,388.5v-0.55M443.26,388.5v-0.77M445.01,388.5v-0.69M445.66,388.5v-2.71M445.82,388.5v-1.46M445.88,388.5v-0.5M446.04,388.5v-3.62M448.19,388.5v-1.89M448.47,388.5v-1.94M449.5,388.5v-0.97M450.19,388.5v-2.57M450.21,388.5v-0.63M450.69,388.5v-0.57M451.07,388.5v-1.54M451.21,388.5v-1.36M451.45,388.5v-1.53M451.76,388.5v-1.82M451.79,388.5v-1.94M451.91,388.5v-3.45M452.62,388.5v-1.21M453.02,388.5v-1.75M453.92,388.5v-2.34M454.99,388.5v-1.26M459.01,388.5v-2.75M460.5,388.5v-1.04M460.94,388.5v-1.53M462.75,388.5v-1.39M463.32,388.5v-1.1M465.13,388.5v-0.83M465.17,388.5v-2.18M466.94,388.5v-2.21M467.64,388.5v-2.31M467.92,388.5v-1.63M467.98,388.5v-0.55M468.43,388.5v-1.31M468.82,388.5v-0.51M469.73,388.5v-1.39M469.94,388.5v-0.8M470.33,388.5v-0.68M470.39,388.5v-3.16M473,388.5v-1.92M474.55,388.5v-1.07M475.81,388.5v-0.66M476.86,388.5v-1.53M478.66,388.5v-0.53M479.87,388.5v-0.55M480.46,388.5v-3.39M480.46,388.5v-0.69M480.74,388.5v-0.84M480.79,388.5v-3.06M482.09,388.5v-1M482.42,388.5v-1.6M482.46,388.5v-0.5M484.22,388.5v-0.8M484.75,388.5v-3.29M487.66,388.5v-1.21M487.84,388.5v-0.78M489.81,388.5v-3.07M489.98,388.5v-2.75M490.31,388.5v-1.21M490.46,388.5v-2.98M494.6,388.5v-0.63M495.37,388.5v-0.62M497,388.5v-0.51M497.09,388.5v-2.19M497.38,388.5v-3.09M498.94,388.5v-2.13M499.05,388.5v-2.05M501.19,388.5v-1.13M501.25,388.5v-0.66M501.49,388.5v-2.12M501.64,388.5v-0.6M501.81,388.5v-1.91M502.86,388.5v-0.94M503.58,388.5v-3M504.17,388.5v-0.67M504.41,388.5v-3.25M505.15,388.5v-0.75M505.83,388.5v-0.53M508.54,388.5v-1.12M509.05,388.5v-1.4M509.08,388.5v-1.65M509.3,388.5v-0.7M510.38,388.5v-0.52M510.61,388.5v-2.33M510.8,388.5v-0.75M511.32,388.5v-0.61M512.84,388.5v-3.62M512.86,388.5v-1.18M513.79,388.5v-0.97M515.55,388.5v-1.3M515.69,388.5v-1.49M516.38,388.5v-0.91M517.09,388.5v-2.46M517.58,388.5v-1.32M518.82,388.5v-2M519.31,388.5v-3.4M519.44,388.5v-2.45M519.56,388.5v-1.68M519.74,388.5v-1.12M520.73,388.5v-2.48M521.77,388.5v-0.68M522.22,388.5v-0.66M522.8,388.5v-1.3M522.82,388.5v-1.64M523.66,388.5v-1.55M525.03,388.5v-0.6M525.14,388.5v-0.5M525.6,388.5v-1.1M525.99,388.5v-0.72M527.06,388.5v-0.52M528.64,388.5v-1.54M529.16,388.5v-2.51M529.35,388.5v-0.57M529.59,388.5v-0.51M529.85,388.5v-1.73M530.34,388.5v-0.72M530.94,388.5v-0.53M532.08,388.5v-0.59M532.28,388.5v-0.58M533.06,388.5v-2.71M534.09,388.5v-0.51M534.44,388.5v-0.92M534.6,388.5v-3.51M534.63,388.5v-1.27M535.59,388.5v-3.61M535.69,388.5v-1.16M536.6,388.5v-0.5M536.79,388.5v-3.04M536.89,388.5v-0.99M537.12,388.5v-1.08M537.18,388.5v-0.5M540.88,388.5v-2.36M541.76,388.5v-0.67M541.96,388.5v-1.47M542.14,388.5v-1.18M543.94,388.5v-0.92M544.21,388.5v-3.58M544.84,388.5v-0.51M545.18,388.5v-1.85M545.22,388.5v-0.88M546.02,388.5v-2.89M546.61,388.5v-3.01M547.02,388.5v-0.99M548.26,388.5v-0.96M549.27,388.5v-0.65M549.56,388.5v-0.61M550.09,388.5v-0.59M550.24,388.5v-0.65M550.66,388.5v-0.8M551.06,388.5v-3.66M551.81,388.5v-2.88M551.97,388.5v-0.97M552.02,388.5v-2.03M552.32,388.5v-0.74M552.33,388.5v-0.61M552.53,388.5v-0.99M554.25,388.5v-2.14M554.46,388.5v-0.92M554.57,388.5v-3.31M554.86,388.5v-2.38M555.72,388.5v-3.13M555.73,388.5v-0.83M556.06,388.5v-0.52M557.49,388.5v-0.84M558.47,388.5v-1.36M558.5,388.5v-1M558.69,388.5v-0.51M558.8,388.5v-1.63M558.82,388.5v-0.81M559.18,388.5v-1.45M559.28,388.5v-2.1M559.48,388.5v-2.18M560.21,388.5v-0.57M560.37,388.5v-0.75M561.2,388.5v-1.03M561.52,388.5v-2.9M561.7,388.5v-0.77M561.98,388.5v-0.65M562.01,388.5v-0.5M562.67,388.5v-1.52M563.77,388.5v-3.55M564.01,388.5v-1.94M565.68,388.5v-0.65M566.46,388.5v-1.92M568.53,388.5v-2.91M568.71,388.5v-1.78M568.77,388.5v-1.09M569.11,388.5v-0.51M569.43,388.5v-0.84M569.89,388.5v-0.75M570,388.5v-1.02M570.43,388.5v-0.59M571.16,388.5v-0.68M571.23,388.5v-0.87M571.59,388.5v-0.57M572.17,388.5v-2.07M572.71,388.5v-2.07M572.73,388.5v-0.99M573.03,388.5v-0.51M573.37,388.5v-0.51M573.83,388.5v-1.6M574.25,388.5v-0.84M574.45,388.5v-0.5M574.73,388.5v-3.04M575.29,388.5v-0.72M576.02,388.5v-0.61M576.44,388.5v-1.71M578.51,388.5v-0.92M579.08,388.5v-3.34M580.06,388.5v-1.76M580.71,388.5v-1.04M581.07,388.5v-0.74M582.25,388.5v-2.98M582.57,388.5v-3.15M582.59,388.5v-0.56M583.07,388.5v-0.8M583.36,388.5v-3.55M583.47,388.5v-0.62M583.65,388.5v-1.98M583.82,388.5v-0.5M584.35,388.5v-1M584.53,388.5v-1.28M585.23,388.5v-1.46M585.88,388.5v-1.51M587.07,388.5v-3.5M587.34,388.5v-0.88M588.79,388.5v-0.81M589.63,388.5v-2.05M590.4,388.5v-3.47M591.56,388.5v-0.58M592.21,388.5v-1.27M592.76,388.5v-0.94M592.99,388.5v-2.3M593.49,388.5v-0.68M593.69,388.5v-0.84M593.82,388.5v-1.34M593.91,388.5v-0.51M593.95,388.5v-0.53M594.77,388.5v-0.54M595.17,388.5v-2.41M595.6,388.5v-0.58M596.95,388.5v-2.92M596.98,388.5v-0.71M597.45,388.5v-2.53M597.79,388.5v-2.14M597.98,388.5v-2.14M598.24,388.5v-0.86M599.19,388.5v-2.77M600.37,388.5v-1.53M600.73,388.5v-2.1M601.38,388.5v-2.71M602.46,388.5v-0.55M602.77,388.5v-1.93M602.95,388.5v-0.61M602.96,388.5v-1.6M604.85,388.5v-3.51M604.94,388.5v-2.01M605.3,388.5v-1.78M605.64,388.5v-3.29M608.64,388.5v-0.51M609.47,388.5v-0.54M609.5,388.5v-0.76M610.37,388.5v-3.66M610.46,388.5v-0.85M610.48,388.5v-1.44M610.92,388.5v-0.95M611.16,388.5v-2.55M612.38,388.5v-0.76M612.71,388.5v-1.72M613.68,388.5v-3.58M614.01,388.5v-2.04M614.53,388.5v-2.55M614.64,388.5v-0.6M614.71,388.5v-3.29M614.91,388.5v-1.26M614.99,388.5v-0.84M615.01,388.5v-1.52M615.11,388.5v-1.75M615.32,388.5v-0.67M615.76,388.5v-0.93M615.96,388.5v-0.51M616.01,388.5v-3.05M616.25,388.5v-0.52M616.39,388.5v-1.25M620.3,388.5v-0.63M621.64,388.5v-1.25M622,388.5v-2.58M622.33,388.5v-0.51M622.87,388.5v-1.88M623.52,388.5v-0.75M625.38,388.5v-2.89M628.83,388.5v-1.13M630.02,388.5v-2.18M630.15,388.5v-0.5M630.27,388.5v-0.55M630.33,388.5v-0.91M631.26,388.5v-0.81M631.74,388.5v-0.5M631.9,388.5v-3.44M631.91,388.5v-1.39M633.01,388.5v-2.51M633.9,388.5v-1.01M634.98,388.5v-2.69M635.96,388.5v-3.61M636.03,388.5v-3.39M636.37,388.5v-2.09M636.56,388.5v-3.15M636.58,388.5v-1.56M636.75,388.5v-0.98M637.06,388.5v-1.88M638.17,388.5v-0.93M638.84,388.5v-0.9M639.06,388.5v-3.12M639.32,388.5v-0.53M639.59,388.5v-2.26M639.75,388.5v-2.27M640.28,388.5v-1.98M640.41,388.5v-0.54M640.51,388.5v-0.89M640.89,388.5v-0.5M641.35,388.5v-1.02M641.61,388.5v-1.42M643.64,388.5v-0.63M645.06,388.5v-0.83M645.99,388.5v-0.54M648.91,388.5v-1.09M651.1,388.5v-0.65M651.45,388.5v-2.1M651.58,388.5v-0.74M652.34,388.5v-3.37M652.6,388.5v-0.61M652.89,388.5v-3.63M653,388.5v-1.79M653.32,388.5v-1.83M653.47,388.5v-1.72M654.93,388.5v-2.85M655.59,388.5v-1.32M656.15,388.5v-0.54M657.36,388.5v-2.02M657.77,388.5v-1.92M658.13,388.5v-0.97M658.3,388.5v-1.65M658.87,388.5v-1.35M658.89,388.5v-1.76M659.29,388.5v-1.63M659.89,388.5v-3.28M660,388.5v-1.2M663.29,388.5v-2.24M663.54,388.5v-2.24M666.58,388.5v-1.02M667.92,388.5v-0.55M671,388.5v-1.27M671.18,388.5v-2.76M671.87,388.5v-3.31M673.05,388.5v-2.54M673.53,388.5v-3.66M673.58,388.5v-2.92M674.4,388.5v-0.7M675.5,388.5v-1.16M676.01,388.5v-2.9M676.16,388.5v-0.75M676.85,388.5v-0.52M677.39,388.5v-2.48" stroke="#1a1aee" stroke-width="0.6" fill="none"/>
<path d="M153.46,388.5v-5.8M177.6,388.5v-5.7M187.56,388.5v-6.17M207.48,388.5v-3.53M213.17,388.5v-3.35M213.64,388.5v-4.21M238.66,388.5v-5.92M240.22,388.5v-3.64M246.37,388.5v-5.97M258.37,388.5v-6.16M259.3,388.5v-6.46M262.2,388.5v-5.2M288.35,388.5v-5.55M291.09,388.5v-5.34M298.14,388.5v-3.05M303.32,388.5v-4.1M315.74,388.5v-3.97M327.29,388.5v-5.43M329.78,388.5v-3.45M344.57,388.5v-4.63M346.3,388.5v-3.41M381.68,388.5v-5.14M387.21,388.5v-3.69M453.04,388.5v-5.42M469.7,388.5v-4.26M474.35,388.5v-4.43M476.32,388.5v-5.21M483.24,388.5v-5.87M489.81,388.5v-4.6M498.64,388.5v-6.3M503.95,388.5v-5.46M507.3,388.5v-5.03M511.49,388.5v-6.05M515.71,388.5v-5.99M529.83,388.5v-4.59M563.74,388.5v-4.36M580.74,388.5v-5.1M588.18,388.5v-3.22M594.97,388.5v-3.98M602.24,388.5v-6.34M606.57,388.5v-5.43M620.51,388.5v-3.86M627.13,388.5v-3.46M655.35,388.5v-3.88M662.17,388.5v-4.2" stroke="#1a1aee" stroke-width="0.6" fill="none"/>
<line x1="75.3" y1="388.5" x2="75.3" y2="378.5" stroke="#1a1aee" stroke-width="0.6"/>
<line x1="66.2" y1="388.5" x2="677.4" y2="388.5" stroke="#7a7af0" stroke-width="0.5"/>
<path d="M66.2 401.9l0-4.6 0.5-2.1 1-1.6 0.5-0.1 1.5 1.3 0.5 0.2 2-0.5 2-0.1 2-0.6 0.5 0.5 0.5 1.3 1 5.1 0.5 0.8 0.5 0.2 1.5-0.2 0.5-0.5 0.5-0.9 0.5-1.5 1.5-7.3 0.5-1.6 0.5 0.2 1.5 4.6 0.5 0.7 0.5 0.5 1.5 0.4 7.5 0.3 2-0.5 2 0 2-0.5 1 0.2 1.5 0.8 3 0.8 0.5 0.1 2-0.6 4 0.4 1 0.4 2 1.9 1 0.4 2.5-0.5 2.5-0.1 1 0.2 2 0.8 3.5 0.5 5.5-0.1 5 0.9 4 0.3 533 0V401.9Z" fill="#f0a03c"/>
<path d="M66.2 415.2l0-2.6 1.5-2.7 0.5-0.5 1.5-0.3 0.5-0.3 2.5-4.5 0.5-0.5 0.5-0.1 0.5 0.3 0.5 0.7 2.5 6.2 1 1.9 1 1.1 1 0.4 1.5-0.2 3-1.8 1.5-0.4 1 0.2 3.5 1.1 6-0.6 5.5 1 5.5 0.2 6.5 1 4.5 0.3 558.5 0V415.2Z" fill="#f0a03c"/>
<path d="M66.2 428.6l0-0.6 1.2 0.3 3.6 0.1 1.2 0 0.4-0.2 0.4-0.5 0.8-2.2 1.2-6.5 0.4-0.6 0.4 1.3 1.2 6.5 0.4 1.2 0.8 0.8 0.8 0.2 0.8 0 1.2-0.4 0.8 0.2 0.4-0.1 0.4-0.5 0.4-1.2 1.2-7.6 0.4-1.4 0.4 0.4 1.2 5.3 0.4 0.1 0.4-0.6 0.4-0.1 0.4 0.4 0.8 1.8 0.4 0.2 1.2-3.3 0.4 0 0.8 1.9 0.4 0.4 0.8 0.2 0.4 0.7 1.2 3.1 0.4 0.4 1.2 0.1 1.6-0.1 0.8-0.6 0.8-2.3 1.2-5.2 0.4-0.2 0.8 1.5 1.2 1.2 1.6 4.8 0.4 0.3 0.4-0.3 1.2-3.7 0.4-0.3 1.2 3.6 0.4 0.8 0.4 0.3 0.4 0.1 0.4-0.3 0.4-0.7 1.2-4.4 0.4-0.1 0.8 1.6 0.8 0.6 0.8 1.4 0.4 0.4 1.2-1.9 0.4 0.3 1.2 2.4 0.4 0.5 0.8 0.2 0.8-0.2 1.2-2.1 0.4-0.3 0.4 0.4 0.8 1.7 0.8 0.5 1.2-0.1 0.4-0.2 1.2-1.8 0.4-0.1 0.8 1 0.4 0.2 0.8-0.4 0.4 0 1.2 1.3 0.8 0.2 2-0.1 0.8-0.7 0.8-1.1 0.4 0 1.2 1.2 0.4 0.2 6.4 0.1 1.6 0.4 7.6-0.2 1.6-0.2 1.6 0.4 2.8-0.4 1.2 0.4 2 0 1.6-0.4 1.2 0 1.6 0.4 2 0 1.2-0.3 2.8 0.2 4.4-0.2 1.2 0.3 1.6 0 3.2-0.5 3.2 0.5 4.4 0 1.6-0.2 1.2 0.2 6.4-0.2 2.8 0.2 1.6-0.3 1.6 0.3 5.6-0.3 2 0.3 2.8-0.2 4.4 0.2 1.6-0.3 1.2 0.3 2.8 0 1.2-0.3 1.6-3.1 0.4 0.4 0.8 2 0.4 0.5 0.4 0.2 1.6 0 2.8 0.3 1.6-0.2 1.6 0.2 2.8 0 1.6-0.4 1.6 0.4 1.6 0 2.8-0.5 2 0.5 0.8-0.3 1.2-1.5 0.4 0 1.2 1.3 1.2 0.4 0.8 0.1 1.6-0.3 2.8 0.3 0.8-0.3 1.2-1.5 0.4 0 1.2 1.4 0.8 0.3 1.6-0.2 1.6 0.3 1.6-0.1 2.8 0.1 1.6-0.4 1.2 0.4 1.6 0 3.2-0.5 1.6 0.1 1.2 0.4 1.6-0.4 1.6 0.4 2.4-0.4 1.6-1.9 1.2 2 0.8 0.3 2.8-0.4 1.6 0.2 1.6-0.2 1.6 0.3 2.8 0.1 1.6 0 1.6-0.4 1.2 0.4 4.8 0 10.4-0.3 1.6 0.2 1.2-0.3 1.6 0.4 3.2 0 4.4-0.4 3.2 0.4 2.8-0.1 1.6 0.1 2.8-0.5 1.6 0.4 2.8-0.2 3.2 0.3 1.6-0.4 1.2-0.1 1.6 0.5 1.6-0.3 2.8 0.3 3.2 0 1.6-0.2 2.8 0.2 1.6 0 1.6-0.3 1.2 0.2 9.6 0.1 4-0.2 1.6-1.5 1.6 1.4 1.2 0.3 1.6 0 1.6-0.4 2.8 0.3 4.4 0.1 2-0.3 1.2 0.3 1.6-0.4 2.8 0 1.2 0.3 0.4 0 0.4-0.3 1.2-2.3 1.2 1.9 0.8 0.5 0.8 0.3 1.6 0 1.6-0.2 1.2 0.2 3.2 0 1.6-0.4 2 0.4 2.4-0.2 1.6 0.2 2.8-0.1 1.6-0.3 1.6 0.3 3.2 0.1 1.2-0.2 1.6-1 1.6 1 4.4 0.2 4.4-0.2 1.6-0.3 1.6 0.5 3.2 0 1.2-0.3 1.6 0.3 1.6-0.3 2.8 0.3 1.6-0.4 2.8 0.3 3.2-0.3 1.6 0.3 2.8 0.1 1.6-0.3 1.6 0.2 4 0.1 2-0.3 2.8-0.2 3.2 0.3 5.6-0.1 1.6 0.3 1.6-0.3 1.2 0.3 1.6 0 1.6-0.4 1.6 0.4 8.8-0.4 2.8 0.4 2-0.2 1.6 0.2 1.6-0.5 4 0.5 4.8-0.5 2.8 0.5 1.6-0.2 1.6 0.2 1.6-0.4 4.4 0 1.2 0.2 1.6-0.2 2.4 0.3 5.2 0.1 1.6 0 1.2-0.2 1.6 0.2 3.2-0.3 7.2 0.3 4.8-0.4 1.6 0.4 1.2-0.4 1.6 0 1.6 0.4 1.6-0.4 1.2 0.2 1.6-0.3 3.2 0.5 5.6 0 1.6-0.3 2.8 0.2 1.6-0.1 2 0.2 2.8-0.1 6 0.1 2.8-0.1 1.6-0.3 2.8 0.3 3.2 0.1 2.8-0.4 1.6 0.4 4.4-0.3 3.2 0.1 1.6-0.2 1.2 0 1.6 0.4 3.2-0.5 2.8 0.5 1.6-0.3 1.6 0.3 4.4 0 1.6-0.2 2.8 0.2 1.6-0.3 7.6 0.3 3.2-0.4 1.2 0 1.2 0.4 2 0 1.2 0 0.8-0.5 1.6-4 0.4 0 1.2 3.4V428.6Z" fill="#4a8fdc"/>
<path d="M66.2 441.9l0-0.2 5.5 0 0.5-0.7 0.5-0.1 1.5 0.4 1.5-0.5 2.5 0.1 1.5 0.4 1 0.1 1.5-0.2 1.5-0.6 1.5 0.3 1.5-0.1 1.5 0.5 2.5 0.1 1.5-0.6 1.5 0.5 1.5-0.2 1.5-0.2 0.5-2.8 1-0.1 1-0.6 0.5-0.6 0.5 1.1 2-1.2 1 0.3 3 1.4 5.5 0.8 3-0.6 1.5-0.5 1-0.4 1.5-1.5 4 3.1 0.5 0 1.5-1.3 0.5 1.6 0.5-3.9 1.5-1.2 3 0.4 4 1.7 3 0.7 2.5 0.2 3-0.7 1.5 0.8 1 0.1 1.5-0.3 1.5 0.3 1.5-0.8 1 0.4 0.5 2.9 0.5-2.4 0.5 0.3 0.5 0 1-0.4 1.5-1.6 1.5-0.6 1.5 0.7 2.5 0.7 0.5 3.1 0.5-2.6 2 0.5 1 0 0.5-0.2 2.5-2.4 1.5-1 1.5 0.9 1.5 1.8 1 0.3 1.5-0.9 1.5 0.5 1.5-0.1 1.5-0.8 1.5-1.6 1-0.3 1.5 0.3 1.5 2.2 1-0.2 0.5 0.1 0.5 0.6 0.5 3.1 0.5-2.3 2.5-0.2 1.5-1.5 1.5-0.7 1.5-1.8 1-0.5 1.5 0.5 1.5-0.6 2.5 1 2 1.3 2.5 0.6 1.5 1.1 1 0.1 0.5-0.2 2.5-1.5 1.5 0.1 0.5-0.2 0.5 3.8 0.5-4.1 1-0.2 0.5 0.4 1 1.3 1.5 0.9 1 0.2 0.5 2.6 0.5-2.6 2-0.8 1.5-1.9 1.5-0.1 1.5-1.4 1.5 0.2 1 0.9 0.5 0.2 1 0 1.5 1.2 1.5-0.8 2.5 0 2 1.7 1 0.4 0.5-0.2 0.5 2.8 0.5-3.1 1.5 0.3 2.5-0.7 3 1.2 1.5 0.2 1-0.2 1.5-1.1 1.5-2.1 1.5 1.4 1.5 0 1 0.4 0.5-0.2 1-1.1 1 0.1 0.5 4.2 0.5-4.8 1-1 1.5 1.8 1 0.6 1.5 2.1 0.5-0.2 1-1.1 1.5-0.1 1-0.9 0.5-0.2 1 0.7 1.5 2.4 1.5 1.4 1.5-1.6 3-0.6 4-2.5 1.5 0.6 1 0.9 1.5 0.8 1.5-0.2 2-0.9 0.5 3.2 0.5-3.4 1.5 0.6 2.5 2.3 1.5-1 1.5-0.3 2.5-1.1 1.5-1.4 1-1.9 0.5-0.6 0.5 1 0.5 5.2 0.5-3.4 2 2.7 0.5 2.4 0.5-2.2 2.5-3.6 1-0.5 0.5 0.1 0.5 0.6 0.5 4.3 0.5-3.1 1 1.3 1.5 1.4 3-1.5 2.5-2.1 0.5 0 0.5 4 0.5-3.7 1.5-1.6 1.5 1 2.5-0.6 0.5 0.1 1 0.4 1.5 1.3 1.5 0.7 2.5-0.7 1.5 0.4 1.5-1.3 1.5 0.6 1-0.2 3-0.1 1.5-1.3 2.5 1.1 1.5 0.2 0.5 3.6 0.5-4.1 0.5-0.3 1.5 0.8 1-0.1 0.5 0.3 1.5 1.8 2.5 0.9 2.5-1.5 1.5-1.2 1.5-0.4 0.5 3.9 0.5-3.3 0.5 0.3 1 0.3 0.5 0 1.5-0.4 2.5 0.6 1.5-1.6 2.5-1.7 0.5 0.1 2.5 4 1.5 1.1 1.5-0.8 1.5-1.6 1.5-1 1-0.1 3 2.6 2.5-2.2 0.5-0.2 1 0.2 3-1.9 0.5 0 0.5 4.8 0.5-4.7 2.5 2.2 1.5 2.7 3-1.8 1-0.9 0.5-0.2 3 0.1 0.5 3.5 0.5-3.6 1.5 0.9 1-0.3 1.5-0.9 0.5 0.1 1 0.2 1.5 0.9 4-3.3 1.5-0.3 3-1.1 1 0 1.5 1.4 3 1.3 3 2.3 2.5 0.4 2.5-2.7 0.5-0.1 1 1.1 0.5 0.2 1 0 1.5 1.9 1.5-0.2 1.5 1.1 1 0.3 0.5-0.2 1-0.9 1.5-0.5 1.5-1.4 1.5-0.2 1 0.1 0.5 3.6 0.5-2.9 0.5 0.5 1-0.1 0.5 2.8 0.5-3.1 1-0.4 1 0.4 0.5-0.1 1-1.4 0.5-0.4 1-0.1 1.5-1.6 2.5 2.5 1.5 1.1 0.5 0 1-0.7 1.5-1.4 1-0.6 0.5-0.2 1 0.3 0.5 0.4 2.5 3.5 1.5-1.6 1.5-0.3 1-1 0.5-0.1 4 3.6 1.5 0.3 1.5-0.4 2-0.9 0.5-0.2 1.5-1.5 1.5-0.6 1.5-0.1 1 0.5 0.5-0.1 2.5-1.3 1.5 0.7 1-0.6 0.5 0 2.5 2.6 3 1 1-0.4 0.5 2.5 0.5-2.4 1 0.2 2.5-0.8 1.5 1 2.5-0.6 1.5-1 1.5 0.5 2.5 2.1 0.5-0.1 0.5-0.5 0.5 1.6 0.5-3.4 1.5-3.6 0.5-0.9 0.5-0.2 0.5 0.2 0.5 0.6 1.5 3 0.5 0.5 1-0.3 0.5 0.2 1 1.1 3 2 1.5-0.8 1 0.1 0.5-0.1 1-0.7 1.5-1.6 1.5-0.7 3-1.9 0.5 4.5 2-0.2 1.5 0.8 3 0.9 0.5 1.3 0.5-1.2 1.5-0.2 1.5 0.6 0.5 1 0.5-1.2 0.5 1.1 0.5-1.1 3.5 0.6 1.5-0.3 1 0.1 4.5-1.8 1.5 0.4 3-0.3 2.5 0.4 1.5 0.5 1.5 0.2 4-0.9 1.5 0.1 1-0.4 0.5 0 1.5 0.9 2.5 0.9 1.5-0.6 1.5-1 1 0.1 1.5-0.3 1.5 0.2 0.5-0.2 0.5 1.9 0.5-2.1 1.5 0.9 2.5 0.7 3-1 4-0.1 1.5-0.4 1.5 0.9 0.5 1.6 0.5-1.3 7-1.1 2 0.9 0.5-1.4 0.5 0.8 0.5-0.2 1-1 1.5 0.1 1.5-0.9 2-0.3 0.5-0.3 1.5-3.8 0.5-0.4 0.5 0.2 0.5 0.6 1.5 2.8 0.5 0.4 1.5 0.5 0.5 0.2 1.5-0.7 1.5-1.7 1.5 0.8 1-0.1 1 0.4 0.5 4 0.5-3.5 1 0.6 1 0.1 0.5-0.1 1-0.6 0.5 3.4 0.5-3.9 2-1 1.5-1.8 1.5 2.9 1.5 1.4 1 1.7 0.5 0.1 1-0.8 0.5-0.1 1-0.1 1.5 0.5 1-0.3 3-2.6 1.5 1.1 1.5 2.1 1 0.2 0.5-0.1 1.5-1.5 2.5-4.4 1.5 1.8 1.5 2.3 1 0.6V441.9Z" fill="#f0a03c"/>
<path d="M66.2 455.2l0-0.1 32 0.1 8.5-1.5 3 0 2.5-0.9 2.5-0.2 1-0.3 3 0.4 1-0.6 1.5-1.8 1-0.6 1-1.1 0.5-0.3 2.5-0.1 1.5 0.5 2.5-1.8 1-0.1 1.5-0.9 1.5-1.4 1-0.7 0.5 0.1 1.5 1.1 2 1.8 1.5 0 3.5 2 0.5 0.1 1-0.3 1.5 1 2.5 0.2 1.5-0.6 1 0.5 0.5 0 2.5-1 1-0.1 2.5 0.5 1.5-0.9 2.5 0 1 0.3 1.5 1.4 1.5 0.3 1.5 0.7 1-0.3 2.5-0.2 1-0.4 0.5 0.2 1 1 1.5 1 1.5 0.4 4-1.4 1 0.4 1.5-0.5 1 0 1.5 0.6 1-0.1 1.5-1 2-0.7 0.5 0.2 1.5 1.4 2 1.2 0.5 0 1.5-0.7 1.5-1.6 1-0.6 0.5-0.1 3 2.3 1 0.5 0.5 0 4-0.9 1.5-0.9 4-0.3 1 0.1 2.5-1.3 0.5-0.1 1 0.3 1-0.1 0.5 0.1 1 0.7 1.5 0.7 1 0.2 2.5 1.8 0.5-0.1 1-1 3-1.6 1 0.5 1.5 0.3 2.5 1.2 2.5-0.9 1.5-0.9 0.5 2.2 3 0.4 1 0.4 0.5 0 1-0.7 1.5-0.6 1.5-1.2 0.5 0.1 0.5 0.4 3.5 1.5 1.5 0.4 2.5 0.1 4 0.5 3-0.9 3-1.9 2 1.3 2.5 1 4.5 0.6 2-0.3 1.5-0.9 2.5 0.2 1.5-0.9 1.5 0.1 1-0.5 1.5-0.3 1-0.6 0.5 0 1.5 1.4 3 2.2 0.5 0.1 1-0.6 1.5 0.1 1-0.3 1.5 0 2.5-0.9 1.5-0.9 2.5 0.5 1.5 0.6 1 0.2 1.5-0.8 1 0 1.5-0.4 2.5 0.2 2 0.4 2 1.1 2.5 0.7 1.5-0.4 1 0.5 1.5-0.4 1.5 0.4 1 0 1.5-0.6 1 0.3 3-0.4 3.5 0.3 1.5-0.2 1.5 0.2 2.5-0.4 1.5 0.3 2.5 0.1 1-0.2 2.5 0.5 1.5-0.1 1 0.3 0.5 0 1-0.5 1.5-0.2 2.5-1.2 4-0.8 1 0.8 1.5 0.6 1.5 0.9 1-0.3 3.5 0.5 3-1 1.5-1.5 0.5 0.2 1 0.8 2.5 1.4 1 0 1.5-0.4 1 0.4 1.5 0.1 2.5-0.8 2.5-0.3 1.5 0 2.5 0.7 2.5-1.4 2.5-1.1 1.5 0.9 1.5 0.4 5 0.1 4.5 0.8 2 0.1 1.5 0.5 3.5-0.5 0.5-0.3 1.5-1.5 1-0.4 1.5 1 3 0.9 2-0.6 2-1 0.5 0.1 4 2.3 1.5-0.6 2.5-0.3 1-0.3 1.5 0.1 2.5-0.5 1.5 0.6 1 0.1 2.5 0.9 1.5-0.1 1.5 0.2 2.5-0.5 3-2.8 0.5-0.3 1.5-0.2 3 0.1 3.5-0.4 1 0.2 4 2.2 0.5 0 1-0.4 1.5 0.2 2-0.4 2 0.3 1-0.1 1.5 0.2 1 0.5 0.5 1.5 2.5-0.1 5 0.4 2.5-0.5 6.5 0.1 4-0.3 4.5 0.6 7.5-0.1 2 0.2 4-0.7 4 0.1 1.5 0.3 1.5-0.1 1 0.2 6.5-0.5 2.5 0.1 1.5 0.3 3.5-0.1 11 0.5 3.5-0.2 1.5 0.2 3.5-0.2 3-0.6 2.5-0.2 6.5 0.3 1.5 0.2 3.5-0.5 2.5 0.4 5.5-0.1 6.5 0.6 9.5-0.5 5 0.2 3.5-0.3 3 0.2 5-0.1 4 0.4 3.5-0.1 1.5-0.3 1.5 0.2 3.5 0.1 3-0.2 6.5 0.5 6.5-0.6 2 0 4.5 0.4 2.5-0.1 5.5-0.6 7.5 0.4 7.5-0.3V455.2Z" fill="#f0a03c"/>
<path d="M66.2 468.2l0-0.2 1.6 0 1.2-0.3 1.6 0.4 4.4-0.1 1.6-0.4 4.4 0.4 1.6-0.4 6 0.5 6-0.5 2.8 0.4 1.6-0.4 3.2 0.5 1.6-0.1 1.2-0.4 6 0.5 1.6-0.4 1.6 0.3 1.2-0.2 4.4 0.1 2-0.2 2.8 0.3 1.2-0.2 1.6 0.3 7.6 0 1.6-0.5 4.4 0.5 3.2-0.3 1.6 0.2 4-0.1 1.6 0.2 4.4-0.3 1.6 0.2 1.6-0.4 1.2 0.4 1.6-0.2 1.6 0.3 1.6-0.4 2.8 0.4 3.2-0.4 1.6 0.4 2.8-0.5 1.6 0.4 1.6-0.2 6 0.2 4.4-0.4 1.2 0.5 3.2-0.3 2.8 0.3 2-0.4 4.4 0.3 2.8-0.2 1.6 0.3 1.6-0.3 2.8 0.2 1.6-0.4 1.6 0.3 1.2-0.2 2 0.4 4-0.1 3.2-0.4 4.4 0 4.8 0.5 4.4 0 1.6-0.4 1.6 0.3 5.6 0 1.6-0.4 4.8 0.5 2.8-0.3 6 0.2 1.2-0.3 1.6 0.4 3.2-0.3 1.6 0.2 4.4 0 1.2-0.2 1.6 0.3 2.8-0.3 1.6-1 0.4 0 0.8 0.6 1.2 0.5 4 0.2 4.4-0.2 3.2 0.2 2.8-0.4 1.6 0.3 2.8-0.1 4.4 0.2 3.2-0.4 2.8 0.2 2.8-0.2 2 0.3 1.6 0 1.2-0.4 7.2 0.5 7.6-0.2 1.6-0.2 1.2 0.4 3.6 0 2.8-0.4 1.2 0.2 1.6-0.1 1.6 0.3 3.2-0.3 1.2 0.2 2-0.2 4.4 0.3 1.6-0.1 1.2-0.4 1.6 0.4 1.6 0 1.2-0.4 1.6 0.3 10.4 0.2 1.6-0.3 2.8 0.3 1.6-0.1 1.6-0.4 6 0.5 16.4 0 1.6-0.5 1.6 0 1.2 0.1 1.6 0.4 1.6 0 1.6-0.4 1.6 0.4 1.6-0.1 2.8-0.4 2.8 0.1 1.6 0.3 2.8-0.3 3.2-0.1 6 0.4 2.8-0.3 2 0.2 0.8-0.2 1.2-1.1 0.4 0 1.6 1 3.2 0.4 1.6-0.3 2.8 0.3 3.2-0.2 1.2 0.3 1.6-0.4 1.6 0.3 1.6-0.2 1.6 0.3 10.4-0.4 1.6 0.4 7.2-0.5 3.2 0.3 8.8-0.2 1.2 0.3 1.6 0.1 3.2-0.3 1.6 0.3 1.6-0.4 2.8 0.4 3.2-0.2 2.8 0.2 1.6-0.4 1.6 0.3 1.6-0.3 2 0 0.4-0.2 1.2-1.7 0.4 0 1.2 1.5 0.4 0.2 0.4-0.1 1.6-3.5 0.4 0 1.6 3.7 0.8 0.3 0.8-0.7 1.2-3.7 0.4-0.6 0.4 0.4 0.8 2.6 0.4 0.7 0.4-0.1 1.2-4.4 0.4-0.4 1.2 3.9 0.4 0.2 0.4-1.2 1.2-6.5 0.4 0.1 1.2 6.5 0.4 1.2 0.4-0.1 1.2-3.1 0.4 0.3 1.2 3.9 0.4 0.7 0.8 0.3 2.8-0.1 0.4-0.4 1.2-3 0.4-0.5 0.4 0.3 1.2 3 0.4 0.5 0.4 0.1 2 0.2 0.8-0.4 1.6-3.6 0.4 0 1.2 2.9 0.4 0.6 0.4 0.2 1.6 0.4 4.8-0.2 0.8-0.7 1.2-3.1 0.4-0.4 0.4 0.4 1.2 3.2 0.4 0.3 0.4-0.1 1.2-1.9 0.4-0.2 1.6 2.1 0.4 0.2 3.2 0.4 0.8-0.2 0.4-0.3 1.2-1.9 0.4-0.2 0.4 0.3 1.2 1.8 1.2 0.3 4 0 0.8-0.5 1.2-1.7 0.4-0.1 1.6 2 1.6 0.5 2.4-0.2 0.8-0.4 1.2-1 0.4 0 1.6 1.2 2.8-0.1 2.8 0.4 1.6-0.2 1.6 0.1 1.2-0.2 1.6 0.2 3.2-0.1 2.8 0.3 6-0.3 1.6 0.3 2.8-0.1 1.6-0.3 1.6 0.3 1.6 0 1.6-0.4 2.8 0.1 2.8 0.4 3.2 0 4.4-0.1 1.6-0.4 3.2 0.5 2.8-0.3 13.6 0.2 6-0.4 0.8 0.1V468.2Z" fill="#5a9adf"/>
<path d="M66.2 481.6l0-11.4 0.4 0 1.6 9.6 0.4 1 0.4 0.5 0.8 0.2 1.2-0.1 4.4 0.1 0.8-0.1 0.8-0.6 0.8-2.2 1.6-8.7 0.4 0 0.4 1.5 1.2 7.2 0.8 2.3 0.8 0.5 2.4 0.1 3.6 0 1.2-0.3 0.8-0.8 1.6-3.7 0.4-0.3 0.4 0.2 0.4 0.8 1.2 2.9 0.8 0.9 0.8 0.2 3.2 0.1 2-0.2 2.8 0.2 2-0.2 2.8 0.2 10-0.2 9.2 0.2 14.8-0.1 10.8 0.1 3.6-0.2 2.8 0.2 2-0.1 8 0.1 4.8-0.1 2.8-0.7 2.8 0.7 8.8 0.1 14-0.2 2 0.2 8 0 1.6-0.1 11.2 0.1 4.8-0.2 5.2 0.2 2.8-0.2 2.8 0.2 22.4 0 1.6-0.1 2 0.1 8-0.1 9.2 0.1 6.4-0.2 2 0.2 6.4-0.2 4.8 0.2 8-0.1 7.6 0.1 2-0.2 4.4 0.2 19.6 0 9.2-0.2 1.6 0.2 4.8 0 8 0 1.6-0.2 3.2 0.2 9.6-0.1 2 0.1 8 0 1.6-0.1 6.4 0.1 2.8-0.2 2 0.2 6.4-0.1 3.2 0.1 2.8-0.1 2 0.1 12.8-0.2 12.4 0.2 2-0.2 3.2 0.2 8-0.1 10.8 0.1 2-0.2 12.4 0.2 6.8 0 1.6-0.1 9.2 0.1 1.6-0.1 3.2 0.1 2-0.1 2.8 0.1 11.2-0.1 2 0.1 9.2-0.2 3.2 0.2 2-0.2 14 0.2 6.8-0.2 3.2 0.2 2.8-0.1 2 0.1 1.6-0.1 3.2 0.1 11.2-0.1 6 0.1 2-0.2 4.4 0.2 2-0.1 1.6 0.1 11.2 0 3.2-0.1 2.8 0.1 8.4-0.1 7.6 0.1 2-0.1 4.4 0.1 3.2-0.2 3.2 0.2 10-0.1 20.4 0.1V481.6Z" fill="#f0a03c"/>
<path d="M66.2 495l0-3 0.4 0 1.2 2.1 0.8 0.7 6 0.1 2-0.2 0.8-0.9 0.4-1.1 1.2-7 0.4-1.6 0.4 0 1.6 8.6 0.4 1.2 0.8 0.9 1.2 0.1 4.8 0 1.2-0.4 0.8-1.2 1.2-3.5 0.4-0.8 0.4 0 1.6 4.4 0.8 1.1 0.8 0.3 5.6 0.1 3.2-0.1 11.2 0.1 23.6-0.1 0.8-0.3 0.4-0.4 1.6-4.9 0.4 0 1.2 4.2 0.8 1.2 0.8 0.2 2.4-0.1 2 0.2 9.6-0.2 4.4 0.2 11.2-0.1 4.8 0.1 2-0.2 4.4 0.2 6.4-0.2 4.8 0.2 2-0.1 1.6 0.1 24.8 0 0.8-0.2 1.2-0.7 0.4 0 1.2 0.7 1.2 0.2 12 0 5.6-0.2 1.6-1.1 0.4 0 1.6 1.2 1.6 0.1 10 0 1.6-0.2 30 0.2 3.2-0.2 4.8 0.2 11.6 0 3.2-0.2 9.2 0.2 6.8-0.2 9.2 0.2 20.8-0.1 4.8 0.1 10-0.1 9.6 0.1 3.2-0.2 3.2 0.2 11.2-0.2 14 0.2 6.4-0.1 1.6 0.1 27.6 0 3.2-0.2 4.4 0.2 11.6-0.1 22 0.1 2-0.1 11.2 0.1 4.8 0 1.6-0.2 2.8 0.2 6.4-0.1 4.8 0.1 3.2-0.1 2 0.1 1.6-0.2 2.8 0.2 1.6-0.1 10 0.1 1.6-0.1 4.4 0.1 2-0.2 9.2 0.2 6.8-0.2 4.8 0.2 4.8 0 1.6-0.2 6 0.2 3.2-0.1 8 0.1 6.4-0.1 2 0.1 17.2 0 5.2-0.2 4.4 0.2 12.8 0 2-0.2 4.4 0.2 2-0.2 4.4 0.2 8.4 0 4.4-0.2V495Z" fill="#f0a03c"/>
<path d="M66.2 508.4l0-3.3 0.4-0.3 0.4 0.3 0.8 1.9 0.8 0.9 2.4-0.4 1.6 0.3 0.8-0.1 0.8-0.7 1.6-2.2 0.4-0.2 0.8 0 0.4-0.4 0.8-2.4 1.2-5.1 0.4 0 0.4 1.4 1.6 8.1 0.4 0.8 0.8 0.8 0.8 0.3 1.6 0.2 0.8-0.2 0.8-0.5 0.4 0 1.2 0.6 1.2-0.2 0.8-0.4 1.6-1.4 1.2-0.4 0.4 0.1 2.4 2 0.8 0.3 1.6 0.1 2-0.1 2.4-0.6 1.6 0.7 3.2-0.4 2 0.4 1.6-0.8 0.8 0.1 2-0.4 1.6 0.2 2 0.6 1.2 0 1.6 0.3 2-0.2 1.6 0.2 1.6-0.6 3.2 0 1.6-1 0.8-0.2 2.4 1.2 1.2-0.1 2-0.9 2 1.2 0.8-0.4 1.2-0.2 0.8-0.5 0.4 0 1.6 1.2 0.8 0.1 1.6-0.6 2 0.7 2.8 0.1 6.4 0 2-0.7 1.6-0.2 1.2 0.1 1.2 0.6 0.8 0.2 1.2-0.3 1.6 0.3 3.2-0.2 1.6 0.1 1.6-0.3 2 0.4 1.6-0.5 2.8 0.2 2 0.3 1.6 0 1.6-0.6 1.2-0.2 1.6 0.7 4.8-0.5 1.6 0.6 3.2 0 2-0.3 1.2 0.2 1.6-0.2 1.6 0.3 2-0.3 1.6 0.3 2.8-0.3 1.6-0.4 1.6 0.7 1.6-0.4 1.6 0.4 2 0 1.2-0.3 2 0.3 1.6-0.6 1.2-0.1 2 0.7 1.6-0.4 1.6 0 1.2-0.3 1.6 0.5 1.6 0.1 1.6-0.5 1.6 0.5 1.6-0.5 2 0.5 1.6-0.1 1.6-0.4 3.2 0.6 2.8-0.8 2 0.7 4.4-0.3 1.6 0.3 3.2 0.1 2-0.3 1.6 0.2 1.2-0.3 1.6 0.4 2-0.4 1.6 0.4 1.6-0.6 1.2 0 2 0.5 1.6 0.1 3.2 0 1.6-0.8 3.2 0.8 6-0.2 2-0.4 1.2 0 1.2 0.5 0.8 0.1 1.6-0.7 1.2 0.5 3.2 0.2 6.4-0.2 6.4 0.2 2-0.6 1.2 0.4 3.6 0.2 1.2-0.7 0.4 0.1 1.2 0.6 2-0.4 1.6 0.4 6.4-0.4 2.8 0 2 0.4 4.8-0.2 7.6 0.2 3.2-0.7 3.2 0.7 2-0.3 3.2 0.2 1.2-0.4 1.6 0.4 3.6 0.1 1.6-0.1 1.6-0.5 1.6 0.4 1.6-0.2 2.8 0.4 6.4-0.2 2 0.2 6-0.2 2-0.5 2.8 0 2 0.6 1.6 0 1.2-0.4 1.6 0.5 3.2 0 2-0.5 1.6 0 1.2-0.2 1.2 0.5 0.8 0.2 1.6-0.6 4.4 0.5 1.6-0.4 2 0.3 1.6-0.6 1.2 0.1 2 0.6 3.2-0.1 1.6-0.5 1.2 0.1 2 0.5 2.8 0 2-0.3 4.4 0.2 1.6-0.1 2 0.3 6-0.5 2 0.5 1.6-0.7 1.2-0.1 1.6 0.4 1.6-0.1 2 0.5 3.2 0 2.8-0.6 2 0.5 1.6-0.6 1.2 0.1 1.2 0.5 0.8 0.1 1.6 0 1.6-0.7 1.2 0.5 3.2-0.4 1.6 0.5 1.6 0.1 0.8-0.1 1.2-0.5 1.2-0.1 1.6 0.5 1.6-0.1 1.6 0.3 0.8-0.1 1.2-0.6 1.6 0.4 1.6-0.5 2.4 0.6 2 0.2 3.6-0.6 1.2 0.3 3.2 0.3 5.2-0.1 1.6-0.1 1.2-0.5 1.6 0.6 1.6 0.1 3.2-0.7 2 0.7 6 0 2-0.2 2.8 0.2 2-0.5 1.6 0.3 7.6-0.6 1.6 0.8 1.6-0.4 2 0.4 7.6 0 2-0.5 3.2 0.3 3.2-0.2 2.8 0.4 3.6 0 1.6-0.2 1.2-0.5 2 0.7 4.4-0.3 2 0.2 2.8-0.1 1.6-0.5 1.6 0.7 0.8-0.1 1.2-0.5 1.6 0.3 1.2-0.3 1.6 0.5 1.6-0.2 2 0.3 3.2-0.3 1.2 0.2 1.2 0 2.4-0.6 1.2 0.4 2 0 2.8 0.3 2-0.7 1.2 0.6 1.6 0.1 2-0.1 6.4 0.1 1.6-0.7 1.2 0.4 1.6 0.3 3.2-0.3 2 0.2 1.6-0.4 1.6 0.3 1.6-0.5 2.8 0.3 1.6 0.4 3.6-0.8 3.2 0.8 3.2 0 2.8-0.6 4.8 0.4 1.6-0.2 2 0.1 1.2-0.2V508.4Z" fill="#4a8fdc"/>
<path d="M66.2 521.6l0-0.1 9.6 0 1.2-0.4 0.8-1.6 0.4-1.5 1.2-6.2 0.4-1.1 0.4 0 0.4 1.1 1.6 7.7 0.8 1.5 1.2 0.5 6-0.2 0.8-0.3 1.2-0.9 0.8-0.3 0.8 0.3 1.6 1.1 3.2 0.3 6-0.2 2 0.2 7.6-0.2 3.2 0.2 3.2-0.2 1.6 0.2 2-0.2 2.8 0.2 8 0 2-0.1 10.8 0.1 2-0.2 2.8 0.2 2-0.1 9.2 0.1 8-0.2 4.8 0.2 2-0.2 1.6 0.2 2.8-0.1 2 0.1 20.8 0 4.4-0.1 2 0.1 2.8-0.1 1.6 0.1 11.6 0 14-0.2 11.2 0.2 11.2-0.2 3.6 0.2 4.4-0.2 11.2 0.2 1.6-0.2 2 0.2 4.8-0.1 14 0.1 3.2-0.1 3.2 0.1 2-0.2 6 0.2 2-0.1 2.8 0.1 6.4-0.2 2 0.2 9.2-0.1 3.2 0.1 3.2-0.2 3.6 0.2 17.6 0 6-0.2 3.2 0.2 5.2-0.2 3.2 0.2 18.8 0 3.6-0.2 6.4 0.2 6-0.1 8.4 0.1 4.8-0.2 4.4 0.2 9.6 0 5.2-0.2 4.8 0.2 6-0.2 3.2 0.2 3.2-0.2 2 0.2 20.4-0.2 2 0.2 18.8 0 2-0.2 14 0.2 1.6-0.1 2 0.1 6-0.1 2 0.1 8-0.2 3.2 0.2 1.2-0.2 1.6 0.2 5.2 0 3.2-0.2 2.8 0.2 2-0.2 3.2 0.2 20.4 0 2-0.1 1.6 0.1 8 0 4.4-0.2 4.8 0.2 2-0.2 6.4 0.2 31.6 0 2-0.2 20.4 0.2V521.6Z" fill="#f0a03c"/>
<path d="M66.2 534.9l0-0.3 3.2 0.2 7.2-0.3 0.8-1 0.4-1.3 1.2-6.8 0.4-1.4 0.4 0 2 9.5 0.8 1.1 2.8 0.2 2-0.2 1.6 0.2 1.2-0.1 0.8-0.3 1.2-1.2 0.8-0.4 2.4 1.8 1.6 0.2 4.8-0.1 9.2 0.1 3.2-0.1 10 0.1 2.8-0.1 1.6 0.1 2-0.1 2.8 0.1 6.8-0.1 2.8 0.1 2-0.1 14 0.1 6.4-0.2 6.4 0.2 3.6-0.2 3.2 0.2 6 0 2-0.2 4.4 0.2 5.2-0.1 5.2 0.1 2.8-0.2 6.4 0.2 3.2-0.2 2.8 0.2 4.8-0.1 11.6 0.1 6-0.2 3.2 0.2 6.8 0 12.4-0.2 2 0.2 2.8-0.2 4.8 0.2 2-0.1 12.4 0.1 2-0.2 4.4 0.2 19.6 0 1.6-0.1 10.4 0.1 2.4-0.2 6.4 0.2 3.2-0.1 12.4 0.1 1.6-0.2 2 0.2 15.6-0.1 6.8 0.1 2.8-0.2 2 0.2 2.8-0.2 4.8 0.2 3.2-0.1 6.8 0.1 14.4-0.1 3.2 0.1 6-0.1 3.2 0.1 8.4 0 1.6-0.1 1.6 0.1 15.6-0.2 2 0.2 4.8-0.2 4.4 0.2 6.4-0.2 2 0.2 6-0.1 5.2 0.1 1.6-0.2 3.2 0.2 12.4-0.1 20.8 0.1 2-0.2 4.8 0.2 15.6 0 2-0.2 3.2 0.2 12.8 0 2.8-0.1 1.6 0.1 3.2-0.1 3.2 0.1 3.6-0.2 5.6 0.2 5.6-0.2 2.8 0.2 11.2 0 2-0.2 4.4 0.2 8-0.2 2 0.2 2.8-0.2 2 0.2 1.6-0.2 4.8 0.2 6.4-0.2 1.6 0.2 28.4 0 2-0.1 1.6 0.1 10.8 0V534.9Z" fill="#4a8fdc"/>
<path d="M66.2 548.3l0-9.8 0.4 0 1.6 8.5 0.4 0.8 0.4 0.3 0.8 0.1 2.8-0.1 3.2 0.1 0.8-0.2 0.4-0.4 0.8-2.3 1.2-7.1 0.4-1.5 0.4 0 2 10.2 0.8 1.1 0.8 0.2 5.6 0 0.8-0.1 0.8-0.4 0.8-1.5 1.6-8.3 0.4-0.7 0.4 0.8 1.6 8.4 0.8 1.5 1.2 0.3 4-0.2 1.6 0.2 11.2 0 2-0.1 1.6 0.1 2.8-0.2 1.6 0.2 6.4-0.1 2 0.1 3.2-0.2 4.8 0.2 1.6-0.2 1.6-1.2 0.4 0 1.2 1 0.8 0.3 5.6 0.1 3.2-0.1 6.4 0.1 1.6-0.2 6.4 0.2 6-0.2 8 0.2 3.2-0.2 3.6 0.2 7.6-0.2 2 0.2 1.6-0.1 39.6 0.1 3.6-0.2 3.2 0.2 10.8-0.1 19.2 0.1 1.6-0.1 1.6 0.1 14.4 0 1.6-0.2 2 0.2 4.4-0.2 9.6 0.2 5.2-0.2 4.4 0.2 5.2-0.1 9.2 0.1 6.8-0.1 8 0.1 3.2-0.2 2.8 0.2 3.6-0.2 3.2 0.2 1.6-0.1 8 0.1 1.6-0.2 2.8 0.2 9.6 0 4.8-0.1 2 0.1 4.8-0.2 3.2 0.2 15.6 0 2-0.1 2.8 0.1 11.6-0.2 3.2 0.2 17.2 0 8-0.2 19.2 0.2 8.4-0.2 2.8 0.2 3.2-0.2 1.6 0.2 4.8 0 2-0.2 4.4 0.2 12.8-0.2 2 0.2 14.4-0.1 4.4 0.1 3.2-0.2 10 0.2 3.2-0.2 4.8 0.2 7.6-0.2 2 0.2 4.8-0.2 6.4 0.2 7.6-0.1 4.8 0.1 2-0.1 9.2 0.1 2-0.2 9.2 0.2 18-0.1 3.2 0.1 10.8-0.1 2 0.1 17.2-0.2 8 0.2V548.3Z" fill="#f0a03c"/>
<path d="M66.2 561.4l0-6.5 0.4-2.2 0.8 5.6 0.8 2.4 0.4 0 1.2-0.9 0.8 0.4 1.2 0.1 0.4-0.1 1.2-0.9 0.8-0.1 1.2 1.5 0.4-0.1 0.8-1.9 0.4 0 2 0.6 0.8-0.5 0.8 1.4 0.4 0.3 1.2 0 1.2-0.3 0.4-0.3 0.8-1.9 0.4-0.3 1.2 3.1 0.4 0.2 1.2-1 0.8-0.3 1.2 1 1.2-0.1 0.8-0.4 0.8 0.1 0.8 0.4 0.8-0.4 1.6 0.2 1.6-0.3 0.8 0.8 0.4 0 0.4-0.4 0.8-1.4 0.4-0.1 0.8 1.4 0.4 0.4 0.4 0 0.8-0.3 2 0.5 1.6-1 0.8 0.5 0.8 0 1.2 0.4 0.8-0.2 0.8-0.6 2 0.8 1.2-0.6 0.8 0.4 0.8-0.6 0.4-0.1 0.4 0.2 0.8 0.8 0.4 0 0.8-0.2 1.2-1.3 0.8 0.7 1.2-0.1 1.6 0.2 2 0.7 0.8-0.1 1.2-0.8 0.8-1.7 0.4-0.1 1.2 2.3 0.4 0.2 1.2-0.1 0.4-0.3 0.4 0 0.8 0.6 0.4-0.1 1.2-0.3 1.6-0.9 1.6 0.7 0.8 0.1 0.8-0.8 0.4-0.1 1.6 1.1 0.4 0 0.4-0.2 0.4-0.7 0.8-2 0.4 0.5 0.8 2.1 1.6 0.6 0.4-0.4 0.8-2.1 1.2 0.4 0.8 0 0.8 1.4 0.4 0 1.2-0.4 0.8-3 0.4 0.2 0.8 3.8 0.4 0 0.8-1.1 1.2 0.2 0.8-2.4 0.4-0.6 0.8 1 0.4-0.7 0.8-2.9 0.4 0.1 0.8 1.4 0.8 2.5 0.4 0 0.8-2.6 0.4 0.4 1.2 3.2 0.4 0 0.8-2 0.4-0.4 0.8 2.8 0.4 0.7 0.4-0.4 0.8-3 0.8 0.2 1.2 3.2 0.4-0.3 0.8-1.7 0.4-0.2 0.8 0.4 0.8-0.7 0.4 0.4 0.8 2.3 0.4 0.1 0.8-1.4 0.8 1.1 0.4-0.1 0.8-0.8 0.4-0.1 0.4 0.5 0.4 0.1 0.4-0.1 0.8 0.5 0.4 0 2-1.3 0.8 1.6 0.4 0 0.4-0.6 0.8-3 0.4-0.5 0.8 2.3 0.4 0.3 0.4-0.3 1.2 1.9 0.4-0.2 0.4-1 0.4 0.3 0.4 0.8 0.4 0.2 0.4-0.3 0.8-2.5 0.8-0.4 0.8 0.1 0.4 0.3 0.8 1.4 0.8-0.1 0.8 0.3 0.8-0.9 0.4 0 0.8 1.1 0.8-0.1 0.8 0.4 0.8-0.2 0.8 0.7 0.4 0 0.8-0.7 0.8 0.2 1.6-0.3 0.4-0.2 0.8-1 0.4-0.1 1.2-2.2 0.8 0.2 0.8-3.8 0.4-0.7 0.4 1.3 0.8 5.2 0.4 0.8 0.8 0.3 0.4 0.7 0.4-0.2 0.8-0.8 0.4 0 0.4 0 0.8 0.8 0.8-0.4 1.2 0 0.8-1.1 1.2 0.9 1.6-1.1 1.2-1.2 0.4 0 1.2 1.4 0.8 1.4 0.4 0 0.8-0.6 0.8 0.8 2.4 0.3 0.4-0.7 0.8-4.3 0.4-1.2 0.4 0.2 1.2 4.1 0.4 0.3 0.8-0.3 1.2 1.4 1.2-1.5 0.4 0.3 1.2 1.8 0.4 0.2 0.4-0.2 0.8-1.5 1.2-1.2 0.8 1 0.4-0.1 0.8-1.3 1.2 2.7 1.6 0.2 2.8-0.4 0.8 0.7 0.4 0 0.8-1.2 1.2-5.6 0.8 2.6 1.2 2.7 0.4 0.2 1.6 0.1 0.4-0.3 1.2 0.2 1.2-0.4 0.8 1.1 0.4 0.1 1.2-2.2 0.4-0.5 0.4 0 0.4 1.7 0.4 0.8 0.4 0.4 1.2-0.3 0.8-0.6 1.2 0 1.2-1.5 1.2 0.1 0.8 1.3 0.4-0.5 1.6-5 0.4-0.2 1.6 5.4 0.8 1.3 0.4 0.1 0.4-0.4 0.8 0.5 0.4-0.1 0.8-1 1.2 0 1.6 0.5 0.8 0 0.8-0.3 1.2 0.8 1.2-0.8 0.8-0.2 0.8 0.2 0.4-0.7 0.8-2.8 0.4 0.5 0.8 3.1 0.4 0.7 0.4 0.3 0.8-0.3 0.8-1.1 0.4-0.2 0.4 0.2 0.8 1.1 2-1.9 1.2 0.6 0.8 0.9 0.4 0.1 0.8-0.4 1.2-0.1 0.8 0.8 0.4-0.1 1.2-2.8 0.8-2.8 0.4-0.6 0.4 0.9 0.8 4 0.4 0.8 1.6-0.1 0.4-0.2 0.8-2.3 0.4-0.5 1.6 2.4 0.4 0.4 0.8 0.2 0.8 0.5 1.2-1.6 0.8 1.4 0.4 0.4 0.4 0.1 1.2-0.1 1.2-0.7 0.4 0 1.2 0.5 2-0.4 0.8 0.5 0.4-0.1 0.8-1.2 1.2 1 0.8-0.6 0.4 0 0.4 0.5 0.4 0.1 0.4-0.2 0.8-1.8 0.4 0.1 0.8 1.5 0.8-1.6 0.4-1.5 0.8-1 1.2 4.1 0.4 0.8 0.8 0.2 0.4-0.3 0.8-1.7 0.8 1.5 0.4-0.1 1.6-0.9 0.4-0.6 0.8 1.8 0.4 0.3 0.8-1.7 0.4-0.4 0.4 1.1 0.4 0.4 1.2 0.2 0.4-0.9 0.8-5.3 0.4-0.7 0.4 0.2 1.2 6.2 0.4 0.6 1.2-0.1 0.8-1.4 0.8 1.6 0.4 0.1 0.8-3.1 0.4-0.7 0.8 3.3 0.4 0.2 0.8-0.1 0.8 0.5 0.4 0 1.2-1.5 0.8-2.4 0.4-0.4 1.2 2.3 0.4 0.2 0.4-0.7 0.8 0.8 1.2-1.5 1.2-1.1 1.2 0.5 0.8 1.8 1.2 1.2 0.4-0.1 0.8-1.2 0.8 0.2 0.8 0.9 2 0.9 0.8-0.3 0.8-0.7 0.8-0.2 2-2.4 0.8-0.5 0.8 3.2 0.4 0.5 0.4-0.2 0.8 0.6 0.4 0.1 0.8-0.1 0.8 0.1 1.2-3.7 0.8 2.1 0.8 0.8 0.8-0.4 0.8 1.1 1.2-2.3 0.8 2 0.4-0.5 0.8-4.1 0.8 3.9 0.4 1 0.4-0.5 0.8-3.9 0.8 2.7 0.8 0.3 0.8-0.5 0.4 0 0.8 0.9 0.8 0.3 0.8-2.9 0.4-0.8 0.8 2.7 0.4 0.3 0.8-0.4 0.8-1.8 0.4-0.3 0.8 1.4 0.4 0.1 0.8-0.9 1.2 3 1.2-0.1 0.4 0.1 0.4-0.1 0.4-1 0.8-3.6 0.4 0.3 0.8 3.3 0.4-0.2 0.8-2.2 0.8 3 0.4 0.4 0.4 0.1 1.2-1.6 0.8 0 0.4-0.9 0.8-3.6 0.4-0.2 1.2 5 0.4-0.3 0.8-2.8 1.2 3.9 1.2-3.5 0.4-0.5 0.4 0 0.8 3 0.4 0.6 1.2-4.2 0.4 0.5 0.4 0 1.2 4.5 0.4-0.2 0.8-2.1 1.2-6 1.2 6.4 0.4-0.3 0.4-1.5 0.8 2.4 0.4 0.6 1.2-3.2 0.8 2.6 0.4 0 0.8-2.4 0.4-0.2 0.8 0.4 0.8 2.6 0.4 0.4 1.6-0.1 0.4-0.5 1.2 0.2 0.8 0.6 0.4-0.1 1.2-3.7 0.4-0.5 0.4-0.2 1.6 4.2 0.4 0.5 0.4 0.2 0.8-1 0.4-0.1 1.2 1.1 0.8 0.3 1.2-2.1 0.8 1.4 0.4 0.4 0.4 0 0.4-0.6 1.2-5.2 0.4 1 0.8 3.7 0.4 0.4 0.4-0.6 0.4 0 0.8 1.3 0.4 0.1 0.4-0.2 0.8-0.8 0.4 0.1 0.8-0.8 0.4-0.1 0.8 1.6 0.4 0.5 0.4 0.1 1.6-0.7 0.8 0.3 0.8-0.1 0.4-0.3 0.4-0.9 0.4 0 0.8 1.3 1.2-0.4 0.8 0.7 0.8-0.3 0.4-0.7 0.4 0.1 0.4 0.5 0.8 0.1 0.4 0 0.8-0.9 1.6 0.6 0.4-0.4 0.8-1.6 0.8 1.9 0.4 0.1 1.6-1.2 0.4-1.2 0.4-0.5 0.4 0.1 0.8 1.9 0.4-0.4 0.4-1.2 0.8 0.1 2.4 2.9 0.8 0.1 0.4-0.3 0.8-3.3 0.4 0.3 0.8 2.8 0.4 0.2 0.4-0.4 0.4-0.9 0.8 0 0.8-0.6 1.2 0.6 0.8 0.8 0.4 0 0.8-0.5 0.8 0.2 0.8-0.8 0.4 0.4 0.8 1.5 1.2-0.4 1.2-1.2 0.8 0.9 0.4 0.1 0.8-0.5 0.4 0 0.8 0.6 1.2-2 0.8 1.9 0.4 0.1 0.8-2.4 1.2 2.8 0.4-0.1 0.8-2 0.8 2.1 0.4 0.2 0.8-0.4 0.8-1.1 0.4-0.3 0.8-2 0.4-0.4 0.8 3.3 0.4 0.2 0.8-0.7 1.2-2 0.8 1.5 0.4-0.2 0.8-1.9 1.2-6.7 0.4 0 1.2 7.3 0.4 0.9 1.2-2.5 1.2 2.6 0.4 0.3 0.8-0.6 0.8-1.6 0.4-0.2 0.4 0.5 0.8 0.1 0.4 0.5 0.8 0.4 0.8 1.2 0.4-0.3 0.4-0.7 0.4-0.2 0.4 0.1 0.8-1.1 0.4 0.3 1.2 2.6 0.8 0.8 0.4-0.1 0.8-0.9 0.4 0.1 0.4-0.5 0.8-2.8 1.2 3.4 1.2-1.8 0.8 1.9 0.4-0.1 2-2.8 0.8-0.8 0.4 0.1 0.8 2.4 0.4 0.5 0.8-0.1 1.2 1.4 1.2-3.2 0.8 2.2 0.4 0.7 0.4 0.2 0.4-0.1 0.4-0.4 0.8-2.6 1.2 2.4 0.4 0.1 0.4-0.2 1.2 1 0.4-0.3 0.8-1.3 0.4 0.3 1.6 0.5 1.2 0.7 0.8 0.2 0.4-0.1 0.4-0.5 0.4 0 0.4 0.4 0.8 0.4 0.4-0.1 0.8-0.8 0.8 0.1 0.4-0.1 0.8 0.4 0.4 0 1.2-1.7 0.8 0 0.4-0.3 0.4-0.6 0.8-2.2 0.4 0.2 0.8 3.2 0.4 0.7 0.4 0.3 0.4-0.1 0.8-1.2 0.8-0.1 0.4 0.9 0.4 0.3 0.4-0.1 0.4-0.4 0.4 0 0.8 1.2 0.4-0.3 1.2-2.4 0.8 1.6 1.2 1.2 0.4-0.2 0.8-1.9 1.2-1.1 0.8 2.7 0.4 0.6 0.8 0.2 0.4 0 0.4-0.5 1.6-4.5 0.8 4.3 0.4-0.1 1.2-4.8 0.4-0.2 0.8 0.8 0.8 2 0.4 1.9 0.4 0.9 0.4 0.2 0.4-0.1 0.8-0.8 0.4 0.1 0.4 0.4 0.4-0.2 0.8-3.1 1.2-0.2 2 2.2 0.4 0.1 0.8-0.5 0.8 1.8 0.4 0.1 0.8-2.1 0.4 0.1 0.8 1.7 0.8 0 0.8-0.5 0.4 0.2 0.4 0.6 0.8 0.2 0.4-0.3 0.8-3.1 0.8 2.4 0.4 0.5 0.8-0.4 2.4-2.2 0.4 0.3 0.8 1.5 1.2-1.7 0.8-0.5 1.2 2.1 0.4 0 0.8 0.6 0.8-0.5 1.2-1.1 0.8 0.6 0.4-0.2 0.8 1.4 0.4 0.3 1.2 0 1.2-0.7 2.4-4.7 0.4 0.7 0.8 2.9 0.4 0.6 0.8 0.7 1.2-0.5 0.4-1.1 1.2 0.9 0.8-0.6 0.4 0.2 0.8 1.2 0.8-0.1 0.4 0.4 0.4-0.4 0.8-1.6 0.8 1.9 0.4-0.5 0.8-2.7 0.4 0 0.8 1 1.2-0.7 0.8 1.4 0.4 0.2 0.8-0.5 0.8 1.4 0.4 0.2 1.2-0.5 0.8 0.6 0.8-0.2 0.8 0.3 0.4-0.4 0.4-1.1 0.4 0 0.8-1.4 0.4-0.3 0.4 0.4 0.8 2.3 0.4 0.6 1.2-0.4 0.4-0.6 0.8-2.4 0.8-1.4 0.4 0.2 0.8 2.1 1.2 0.7 0.8 1.6 0.4 0.1 1.2-1.1 0.8-2.2 0.8 2.8 0.4 0.7 1.2-0.9 0.4 0.5 0.4 0.1 0.8-0.7 1.6 0.8 1.2-2.1 0.8 1.3 0.4-0.8 0.8-5.9 0.4 0 0.8 4.1 0.4 0.8 0.4 0.3 0.4 0 1.2 1.8 0.8-1.6 0.8 2 0.4 0.2 0.8-2.7 0.4-0.7 0.8 3.2 0.4 0.1 0.8-1.6 0.8 0.8 2 1.1 0.8-0.9 0.4-0.2 1.2 0.6 0.4-0.6 2 0.4 0.8-0.3 0.4 0.1 0.4 0.4V561.4Z" fill="#f0a03c"/>
<line x1="65.8" y1="376.6" x2="65.8" y2="388.8" stroke="#111" stroke-width="1.3"/>
<line x1="65.8" y1="390" x2="65.8" y2="402.2" stroke="#111" stroke-width="1.3"/>
<line x1="65.8" y1="403.3" x2="65.8" y2="415.5" stroke="#111" stroke-width="1.3"/>
<line x1="65.8" y1="416.7" x2="65.8" y2="428.9" stroke="#111" stroke-width="1.3"/>
<line x1="65.8" y1="430" x2="65.8" y2="442.2" stroke="#111" stroke-width="1.3"/>
<line x1="65.8" y1="443.3" x2="65.8" y2="455.5" stroke="#111" stroke-width="1.3"/>
<line x1="65.8" y1="456.3" x2="65.8" y2="468.5" stroke="#111" stroke-width="1.3"/>
<line x1="65.8" y1="469.7" x2="65.8" y2="481.9" stroke="#111" stroke-width="1.3"/>
<line x1="65.8" y1="483.1" x2="65.8" y2="495.3" stroke="#111" stroke-width="1.3"/>
<line x1="65.8" y1="496.5" x2="65.8" y2="508.7" stroke="#111" stroke-width="1.3"/>
<line x1="65.8" y1="509.7" x2="65.8" y2="521.9" stroke="#111" stroke-width="1.3"/>
<line x1="65.8" y1="523" x2="65.8" y2="535.2" stroke="#111" stroke-width="1.3"/>
<line x1="65.8" y1="536.4" x2="65.8" y2="548.6" stroke="#111" stroke-width="1.3"/>
<line x1="65.8" y1="549.5" x2="65.8" y2="561.7" stroke="#111" stroke-width="1.3"/>
<rect x="505.2" y="318.4" width="130.4" height="248.8" fill="rgb(90,102,5)" fill-opacity="0.24"/>
</g>
<g id="pF">
<text x="2.4" y="585" font-size="23.5" fill="#000" style="stroke:#000">F</text>
<text x="0" y="0" font-size="7" transform="translate(209.2 573.9) scale(0.9 1)" text-anchor="middle">p24.1</text>
<text x="0" y="0" font-size="7" transform="translate(36.9 579.9) scale(0.9 1)" text-anchor="end">Ruler</text>
<text x="0" y="0" font-size="7" transform="translate(36.9 586.6) scale(0.9 1)" text-anchor="end">APOB</text>
<line x1="43.2" y1="579" x2="371.3" y2="579" stroke="#999" stroke-width="0.6"/>
<path d="M44.52,579v-1.4M52.19,579v-1.4M59.86,579v-1.4M67.53,579v-1.4M75.2,579v-2.8M82.87,579v-1.4M90.54,579v-1.4M98.21,579v-1.4M105.88,579v-1.4M113.55,579v-1.4M121.22,579v-1.4M128.89,579v-1.4M136.56,579v-1.4M144.23,579v-1.4M151.9,579v-2.8M159.57,579v-1.4M167.24,579v-1.4M174.91,579v-1.4M182.58,579v-1.4M190.25,579v-1.4M197.92,579v-1.4M205.59,579v-1.4M213.26,579v-1.4M220.93,579v-1.4M228.6,579v-2.8M236.27,579v-1.4M243.94,579v-1.4M251.61,579v-1.4M259.28,579v-1.4M266.95,579v-1.4M274.62,579v-1.4M282.29,579v-1.4M289.96,579v-1.4M297.63,579v-1.4M305.3,579v-2.8M312.97,579v-1.4M320.64,579v-1.4M328.31,579v-1.4M335.98,579v-1.4M343.65,579v-1.4M351.32,579v-1.4M358.99,579v-1.4M366.66,579v-1.4" stroke="#888" stroke-width="0.5" fill="none"/>
<text x="0" y="0" font-size="7" transform="translate(76.6 586.5) scale(0.9 1)" text-anchor="middle">21040K</text>
<text x="0" y="0" font-size="7" transform="translate(153.6 586.5) scale(0.9 1)" text-anchor="middle">21030K</text>
<text x="0" y="0" font-size="7" transform="translate(230.6 586.5) scale(0.9 1)" text-anchor="middle">21020K</text>
<text x="0" y="0" font-size="7" transform="translate(305.8 586.5) scale(0.9 1)" text-anchor="middle">21010K</text>
<line x1="27" y1="587.9" x2="371.3" y2="587.9" stroke="#cfcfcf" stroke-width="0.6"/>
<text x="0" y="0" font-size="7" transform="translate(38.4 595.9) scale(0.9 1)" text-anchor="end">GencodeV39</text>
<line x1="55" y1="596.2" x2="294.6" y2="596.2" stroke="#b3b53c" stroke-width="0.8"/>
<path d="M56.5,596.2l-0.9,-0.9M56.5,596.2l-0.9,0.9M58.5,596.2l-0.9,-0.9M58.5,596.2l-0.9,0.9M60.5,596.2l-0.9,-0.9M60.5,596.2l-0.9,0.9M62.5,596.2l-0.9,-0.9M62.5,596.2l-0.9,0.9M64.5,596.2l-0.9,-0.9M64.5,596.2l-0.9,0.9M66.5,596.2l-0.9,-0.9M66.5,596.2l-0.9,0.9M68.5,596.2l-0.9,-0.9M68.5,596.2l-0.9,0.9M70.5,596.2l-0.9,-0.9M70.5,596.2l-0.9,0.9M72.5,596.2l-0.9,-0.9M72.5,596.2l-0.9,0.9M74.5,596.2l-0.9,-0.9M74.5,596.2l-0.9,0.9M76.5,596.2l-0.9,-0.9M76.5,596.2l-0.9,0.9M78.5,596.2l-0.9,-0.9M78.5,596.2l-0.9,0.9M80.5,596.2l-0.9,-0.9M80.5,596.2l-0.9,0.9M82.5,596.2l-0.9,-0.9M82.5,596.2l-0.9,0.9M84.5,596.2l-0.9,-0.9M84.5,596.2l-0.9,0.9M86.5,596.2l-0.9,-0.9M86.5,596.2l-0.9,0.9M88.5,596.2l-0.9,-0.9M88.5,596.2l-0.9,0.9M90.5,596.2l-0.9,-0.9M90.5,596.2l-0.9,0.9M92.5,596.2l-0.9,-0.9M92.5,596.2l-0.9,0.9M94.5,596.2l-0.9,-0.9M94.5,596.2l-0.9,0.9M96.5,596.2l-0.9,-0.9M96.5,596.2l-0.9,0.9M98.5,596.2l-0.9,-0.9M98.5,596.2l-0.9,0.9M100.5,596.2l-0.9,-0.9M100.5,596.2l-0.9,0.9M102.5,596.2l-0.9,-0.9M102.5,596.2l-0.9,0.9M104.5,596.2l-0.9,-0.9M104.5,596.2l-0.9,0.9M106.5,596.2l-0.9,-0.9M106.5,596.2l-0.9,0.9M108.5,596.2l-0.9,-0.9M108.5,596.2l-0.9,0.9M110.5,596.2l-0.9,-0.9M110.5,596.2l-0.9,0.9M112.5,596.2l-0.9,-0.9M112.5,596.2l-0.9,0.9M114.5,596.2l-0.9,-0.9M114.5,596.2l-0.9,0.9M116.5,596.2l-0.9,-0.9M116.5,596.2l-0.9,0.9M118.5,596.2l-0.9,-0.9M118.5,596.2l-0.9,0.9M120.5,596.2l-0.9,-0.9M120.5,596.2l-0.9,0.9M122.5,596.2l-0.9,-0.9M122.5,596.2l-0.9,0.9M124.5,596.2l-0.9,-0.9M124.5,596.2l-0.9,0.9M126.5,596.2l-0.9,-0.9M126.5,596.2l-0.9,0.9M128.5,596.2l-0.9,-0.9M128.5,596.2l-0.9,0.9M130.5,596.2l-0.9,-0.9M130.5,596.2l-0.9,0.9M132.5,596.2l-0.9,-0.9M132.5,596.2l-0.9,0.9M134.5,596.2l-0.9,-0.9M134.5,596.2l-0.9,0.9M136.5,596.2l-0.9,-0.9M136.5,596.2l-0.9,0.9M138.5,596.2l-0.9,-0.9M138.5,596.2l-0.9,0.9M140.5,596.2l-0.9,-0.9M140.5,596.2l-0.9,0.9M142.5,596.2l-0.9,-0.9M142.5,596.2l-0.9,0.9M144.5,596.2l-0.9,-0.9M144.5,596.2l-0.9,0.9M146.5,596.2l-0.9,-0.9M146.5,596.2l-0.9,0.9M148.5,596.2l-0.9,-0.9M148.5,596.2l-0.9,0.9M150.5,596.2l-0.9,-0.9M150.5,596.2l-0.9,0.9M152.5,596.2l-0.9,-0.9M152.5,596.2l-0.9,0.9M154.5,596.2l-0.9,-0.9M154.5,596.2l-0.9,0.9M156.5,596.2l-0.9,-0.9M156.5,596.2l-0.9,0.9M158.5,596.2l-0.9,-0.9M158.5,596.2l-0.9,0.9M160.5,596.2l-0.9,-0.9M160.5,596.2l-0.9,0.9M162.5,596.2l-0.9,-0.9M162.5,596.2l-0.9,0.9M164.5,596.2l-0.9,-0.9M164.5,596.2l-0.9,0.9M166.5,596.2l-0.9,-0.9M166.5,596.2l-0.9,0.9M168.5,596.2l-0.9,-0.9M168.5,596.2l-0.9,0.9M170.5,596.2l-0.9,-0.9M170.5,596.2l-0.9,0.9M172.5,596.2l-0.9,-0.9M172.5,596.2l-0.9,0.9M174.5,596.2l-0.9,-0.9M174.5,596.2l-0.9,0.9M176.5,596.2l-0.9,-0.9M176.5,596.2l-0.9,0.9M178.5,596.2l-0.9,-0.9M178.5,596.2l-0.9,0.9M180.5,596.2l-0.9,-0.9M180.5,596.2l-0.9,0.9M182.5,596.2l-0.9,-0.9M182.5,596.2l-0.9,0.9M184.5,596.2l-0.9,-0.9M184.5,596.2l-0.9,0.9M186.5,596.2l-0.9,-0.9M186.5,596.2l-0.9,0.9M188.5,596.2l-0.9,-0.9M188.5,596.2l-0.9,0.9M190.5,596.2l-0.9,-0.9M190.5,596.2l-0.9,0.9M192.5,596.2l-0.9,-0.9M192.5,596.2l-0.9,0.9M194.5,596.2l-0.9,-0.9M194.5,596.2l-0.9,0.9M196.5,596.2l-0.9,-0.9M196.5,596.2l-0.9,0.9M198.5,596.2l-0.9,-0.9M198.5,596.2l-0.9,0.9M200.5,596.2l-0.9,-0.9M200.5,596.2l-0.9,0.9M202.5,596.2l-0.9,-0.9M202.5,596.2l-0.9,0.9M204.5,596.2l-0.9,-0.9M204.5,596.2l-0.9,0.9M206.5,596.2l-0.9,-0.9M206.5,596.2l-0.9,0.9M208.5,596.2l-0.9,-0.9M208.5,596.2l-0.9,0.9M210.5,596.2l-0.9,-0.9M210.5,596.2l-0.9,0.9M212.5,596.2l-0.9,-0.9M212.5,596.2l-0.9,0.9M214.5,596.2l-0.9,-0.9M214.5,596.2l-0.9,0.9M216.5,596.2l-0.9,-0.9M216.5,596.2l-0.9,0.9M218.5,596.2l-0.9,-0.9M218.5,596.2l-0.9,0.9M220.5,596.2l-0.9,-0.9M220.5,596.2l-0.9,0.9M222.5,596.2l-0.9,-0.9M222.5,596.2l-0.9,0.9M224.5,596.2l-0.9,-0.9M224.5,596.2l-0.9,0.9M226.5,596.2l-0.9,-0.9M226.5,596.2l-0.9,0.9M228.5,596.2l-0.9,-0.9M228.5,596.2l-0.9,0.9M230.5,596.2l-0.9,-0.9M230.5,596.2l-0.9,0.9M232.5,596.2l-0.9,-0.9M232.5,596.2l-0.9,0.9M234.5,596.2l-0.9,-0.9M234.5,596.2l-0.9,0.9M236.5,596.2l-0.9,-0.9M236.5,596.2l-0.9,0.9M238.5,596.2l-0.9,-0.9M238.5,596.2l-0.9,0.9M240.5,596.2l-0.9,-0.9M240.5,596.2l-0.9,0.9M242.5,596.2l-0.9,-0.9M242.5,596.2l-0.9,0.9M244.5,596.2l-0.9,-0.9M244.5,596.2l-0.9,0.9M246.5,596.2l-0.9,-0.9M246.5,596.2l-0.9,0.9M248.5,596.2l-0.9,-0.9M248.5,596.2l-0.9,0.9M250.5,596.2l-0.9,-0.9M250.5,596.2l-0.9,0.9M252.5,596.2l-0.9,-0.9M252.5,596.2l-0.9,0.9M254.5,596.2l-0.9,-0.9M254.5,596.2l-0.9,0.9M256.5,596.2l-0.9,-0.9M256.5,596.2l-0.9,0.9M258.5,596.2l-0.9,-0.9M258.5,596.2l-0.9,0.9M260.5,596.2l-0.9,-0.9M260.5,596.2l-0.9,0.9M262.5,596.2l-0.9,-0.9M262.5,596.2l-0.9,0.9M264.5,596.2l-0.9,-0.9M264.5,596.2l-0.9,0.9M266.5,596.2l-0.9,-0.9M266.5,596.2l-0.9,0.9M268.5,596.2l-0.9,-0.9M268.5,596.2l-0.9,0.9M270.5,596.2l-0.9,-0.9M270.5,596.2l-0.9,0.9M272.5,596.2l-0.9,-0.9M272.5,596.2l-0.9,0.9M274.5,596.2l-0.9,-0.9M274.5,596.2l-0.9,0.9M276.5,596.2l-0.9,-0.9M276.5,596.2l-0.9,0.9M278.5,596.2l-0.9,-0.9M278.5,596.2l-0.9,0.9M280.5,596.2l-0.9,-0.9M280.5,596.2l-0.9,0.9M282.5,596.2l-0.9,-0.9M282.5,596.2l-0.9,0.9M284.5,596.2l-0.9,-0.9M284.5,596.2l-0.9,0.9M286.5,596.2l-0.9,-0.9M286.5,596.2l-0.9,0.9M288.5,596.2l-0.9,-0.9M288.5,596.2l-0.9,0.9M290.5,596.2l-0.9,-0.9M290.5,596.2l-0.9,0.9M292.5,596.2l-0.9,-0.9M292.5,596.2l-0.9,0.9" stroke="#b3b53c" stroke-width="0.4" fill="none"/>
<rect x="55.28" y="594.7" width="1.4" height="3" fill="#b3b53c"/>
<rect x="66.33" y="594.7" width="1.4" height="3" fill="#b3b53c"/>
<rect x="89.04" y="594.7" width="1.4" height="3" fill="#b3b53c"/>
<rect x="95.59" y="594.7" width="1.4" height="3" fill="#b3b53c"/>
<rect x="107.13" y="594.7" width="1.4" height="3" fill="#b3b53c"/>
<rect x="113.25" y="594.7" width="1.4" height="3" fill="#b3b53c"/>
<rect x="124.26" y="594.7" width="1.4" height="3" fill="#b3b53c"/>
<rect x="131.83" y="594.7" width="1.4" height="3" fill="#b3b53c"/>
<rect x="141.17" y="594.7" width="1.4" height="3" fill="#b3b53c"/>
<rect x="151.37" y="594.7" width="1.4" height="3" fill="#b3b53c"/>
<rect x="153.08" y="594.7" width="1.4" height="3" fill="#b3b53c"/>
<rect x="162.37" y="594.7" width="1.4" height="3" fill="#b3b53c"/>
<rect x="166.72" y="594.7" width="1.4" height="3" fill="#b3b53c"/>
<rect x="174.99" y="594.7" width="1.4" height="3" fill="#b3b53c"/>
<rect x="188.78" y="594.7" width="1.4" height="3" fill="#b3b53c"/>
<rect x="200" y="594.7" width="1.4" height="3" fill="#b3b53c"/>
<rect x="205.15" y="594.7" width="1.4" height="3" fill="#b3b53c"/>
<rect x="217.39" y="594.7" width="1.4" height="3" fill="#b3b53c"/>
<rect x="229.26" y="594.7" width="1.4" height="3" fill="#b3b53c"/>
<rect x="234.95" y="594.7" width="1.4" height="3" fill="#b3b53c"/>
<rect x="245.84" y="594.7" width="1.4" height="3" fill="#b3b53c"/>
<rect x="254.27" y="594.7" width="1.4" height="3" fill="#b3b53c"/>
<rect x="262.92" y="594.7" width="1.4" height="3" fill="#b3b53c"/>
<rect x="269.73" y="594.7" width="1.4" height="3" fill="#b3b53c"/>
<rect x="278.05" y="594.7" width="1.4" height="3" fill="#b3b53c"/>
<rect x="280.2" y="594.7" width="1.4" height="3" fill="#b3b53c"/>
<rect x="284.6" y="594.6" width="10" height="3.2" fill="#b3b53c"/>
<line x1="55" y1="602" x2="280" y2="602" stroke="#b3b53c" stroke-width="0.8"/>
<path d="M56.5,602l-0.9,-0.9M56.5,602l-0.9,0.9M58.5,602l-0.9,-0.9M58.5,602l-0.9,0.9M60.5,602l-0.9,-0.9M60.5,602l-0.9,0.9M62.5,602l-0.9,-0.9M62.5,602l-0.9,0.9M64.5,602l-0.9,-0.9M64.5,602l-0.9,0.9M66.5,602l-0.9,-0.9M66.5,602l-0.9,0.9M68.5,602l-0.9,-0.9M68.5,602l-0.9,0.9M70.5,602l-0.9,-0.9M70.5,602l-0.9,0.9M72.5,602l-0.9,-0.9M72.5,602l-0.9,0.9M74.5,602l-0.9,-0.9M74.5,602l-0.9,0.9M76.5,602l-0.9,-0.9M76.5,602l-0.9,0.9M78.5,602l-0.9,-0.9M78.5,602l-0.9,0.9M80.5,602l-0.9,-0.9M80.5,602l-0.9,0.9M82.5,602l-0.9,-0.9M82.5,602l-0.9,0.9M84.5,602l-0.9,-0.9M84.5,602l-0.9,0.9M86.5,602l-0.9,-0.9M86.5,602l-0.9,0.9M88.5,602l-0.9,-0.9M88.5,602l-0.9,0.9M90.5,602l-0.9,-0.9M90.5,602l-0.9,0.9M92.5,602l-0.9,-0.9M92.5,602l-0.9,0.9M94.5,602l-0.9,-0.9M94.5,602l-0.9,0.9M96.5,602l-0.9,-0.9M96.5,602l-0.9,0.9M98.5,602l-0.9,-0.9M98.5,602l-0.9,0.9M100.5,602l-0.9,-0.9M100.5,602l-0.9,0.9M102.5,602l-0.9,-0.9M102.5,602l-0.9,0.9M104.5,602l-0.9,-0.9M104.5,602l-0.9,0.9M106.5,602l-0.9,-0.9M106.5,602l-0.9,0.9M108.5,602l-0.9,-0.9M108.5,602l-0.9,0.9M110.5,602l-0.9,-0.9M110.5,602l-0.9,0.9M112.5,602l-0.9,-0.9M112.5,602l-0.9,0.9M114.5,602l-0.9,-0.9M114.5,602l-0.9,0.9M116.5,602l-0.9,-0.9M116.5,602l-0.9,0.9M118.5,602l-0.9,-0.9M118.5,602l-0.9,0.9M120.5,602l-0.9,-0.9M120.5,602l-0.9,0.9M122.5,602l-0.9,-0.9M122.5,602l-0.9,0.9M124.5,602l-0.9,-0.9M124.5,602l-0.9,0.9M126.5,602l-0.9,-0.9M126.5,602l-0.9,0.9M128.5,602l-0.9,-0.9M128.5,602l-0.9,0.9M130.5,602l-0.9,-0.9M130.5,602l-0.9,0.9M132.5,602l-0.9,-0.9M132.5,602l-0.9,0.9M134.5,602l-0.9,-0.9M134.5,602l-0.9,0.9M136.5,602l-0.9,-0.9M136.5,602l-0.9,0.9M138.5,602l-0.9,-0.9M138.5,602l-0.9,0.9M140.5,602l-0.9,-0.9M140.5,602l-0.9,0.9M142.5,602l-0.9,-0.9M142.5,602l-0.9,0.9M144.5,602l-0.9,-0.9M144.5,602l-0.9,0.9M146.5,602l-0.9,-0.9M146.5,602l-0.9,0.9M148.5,602l-0.9,-0.9M148.5,602l-0.9,0.9M150.5,602l-0.9,-0.9M150.5,602l-0.9,0.9M152.5,602l-0.9,-0.9M152.5,602l-0.9,0.9M154.5,602l-0.9,-0.9M154.5,602l-0.9,0.9M156.5,602l-0.9,-0.9M156.5,602l-0.9,0.9M158.5,602l-0.9,-0.9M158.5,602l-0.9,0.9M160.5,602l-0.9,-0.9M160.5,602l-0.9,0.9M162.5,602l-0.9,-0.9M162.5,602l-0.9,0.9M164.5,602l-0.9,-0.9M164.5,602l-0.9,0.9M166.5,602l-0.9,-0.9M166.5,602l-0.9,0.9M168.5,602l-0.9,-0.9M168.5,602l-0.9,0.9M170.5,602l-0.9,-0.9M170.5,602l-0.9,0.9M172.5,602l-0.9,-0.9M172.5,602l-0.9,0.9M174.5,602l-0.9,-0.9M174.5,602l-0.9,0.9M176.5,602l-0.9,-0.9M176.5,602l-0.9,0.9M178.5,602l-0.9,-0.9M178.5,602l-0.9,0.9M180.5,602l-0.9,-0.9M180.5,602l-0.9,0.9M182.5,602l-0.9,-0.9M182.5,602l-0.9,0.9M184.5,602l-0.9,-0.9M184.5,602l-0.9,0.9M186.5,602l-0.9,-0.9M186.5,602l-0.9,0.9M188.5,602l-0.9,-0.9M188.5,602l-0.9,0.9M190.5,602l-0.9,-0.9M190.5,602l-0.9,0.9M192.5,602l-0.9,-0.9M192.5,602l-0.9,0.9M194.5,602l-0.9,-0.9M194.5,602l-0.9,0.9M196.5,602l-0.9,-0.9M196.5,602l-0.9,0.9M198.5,602l-0.9,-0.9M198.5,602l-0.9,0.9M200.5,602l-0.9,-0.9M200.5,602l-0.9,0.9M202.5,602l-0.9,-0.9M202.5,602l-0.9,0.9M204.5,602l-0.9,-0.9M204.5,602l-0.9,0.9M206.5,602l-0.9,-0.9M206.5,602l-0.9,0.9M208.5,602l-0.9,-0.9M208.5,602l-0.9,0.9M210.5,602l-0.9,-0.9M210.5,602l-0.9,0.9M212.5,602l-0.9,-0.9M212.5,602l-0.9,0.9M214.5,602l-0.9,-0.9M214.5,602l-0.9,0.9M216.5,602l-0.9,-0.9M216.5,602l-0.9,0.9M218.5,602l-0.9,-0.9M218.5,602l-0.9,0.9M220.5,602l-0.9,-0.9M220.5,602l-0.9,0.9M222.5,602l-0.9,-0.9M222.5,602l-0.9,0.9M224.5,602l-0.9,-0.9M224.5,602l-0.9,0.9M226.5,602l-0.9,-0.9M226.5,602l-0.9,0.9M228.5,602l-0.9,-0.9M228.5,602l-0.9,0.9M230.5,602l-0.9,-0.9M230.5,602l-0.9,0.9M232.5,602l-0.9,-0.9M232.5,602l-0.9,0.9M234.5,602l-0.9,-0.9M234.5,602l-0.9,0.9M236.5,602l-0.9,-0.9M236.5,602l-0.9,0.9M238.5,602l-0.9,-0.9M238.5,602l-0.9,0.9M240.5,602l-0.9,-0.9M240.5,602l-0.9,0.9M242.5,602l-0.9,-0.9M242.5,602l-0.9,0.9M244.5,602l-0.9,-0.9M244.5,602l-0.9,0.9M246.5,602l-0.9,-0.9M246.5,602l-0.9,0.9M248.5,602l-0.9,-0.9M248.5,602l-0.9,0.9M250.5,602l-0.9,-0.9M250.5,602l-0.9,0.9M252.5,602l-0.9,-0.9M252.5,602l-0.9,0.9M254.5,602l-0.9,-0.9M254.5,602l-0.9,0.9M256.5,602l-0.9,-0.9M256.5,602l-0.9,0.9M258.5,602l-0.9,-0.9M258.5,602l-0.9,0.9M260.5,602l-0.9,-0.9M260.5,602l-0.9,0.9M262.5,602l-0.9,-0.9M262.5,602l-0.9,0.9M264.5,602l-0.9,-0.9M264.5,602l-0.9,0.9M266.5,602l-0.9,-0.9M266.5,602l-0.9,0.9M268.5,602l-0.9,-0.9M268.5,602l-0.9,0.9M270.5,602l-0.9,-0.9M270.5,602l-0.9,0.9M272.5,602l-0.9,-0.9M272.5,602l-0.9,0.9M274.5,602l-0.9,-0.9M274.5,602l-0.9,0.9M276.5,602l-0.9,-0.9M276.5,602l-0.9,0.9M278.5,602l-0.9,-0.9M278.5,602l-0.9,0.9" stroke="#b3b53c" stroke-width="0.4" fill="none"/>
<rect x="55.28" y="600.5" width="1.4" height="3" fill="#b3b53c"/>
<rect x="66.33" y="600.5" width="1.4" height="3" fill="#b3b53c"/>
<rect x="89.04" y="600.5" width="1.4" height="3" fill="#b3b53c"/>
<rect x="95.59" y="600.5" width="1.4" height="3" fill="#b3b53c"/>
<rect x="107.13" y="600.5" width="1.4" height="3" fill="#b3b53c"/>
<rect x="113.25" y="600.5" width="1.4" height="3" fill="#b3b53c"/>
<rect x="124.26" y="600.5" width="1.4" height="3" fill="#b3b53c"/>
<rect x="131.83" y="600.5" width="1.4" height="3" fill="#b3b53c"/>
<rect x="141.17" y="600.5" width="1.4" height="3" fill="#b3b53c"/>
<rect x="151.37" y="600.5" width="1.4" height="3" fill="#b3b53c"/>
<rect x="153.08" y="600.5" width="1.4" height="3" fill="#b3b53c"/>
<rect x="162.37" y="600.5" width="1.4" height="3" fill="#b3b53c"/>
<rect x="166.72" y="600.5" width="1.4" height="3" fill="#b3b53c"/>
<rect x="174.99" y="600.5" width="1.4" height="3" fill="#b3b53c"/>
<rect x="188.78" y="600.5" width="1.4" height="3" fill="#b3b53c"/>
<rect x="200" y="600.5" width="1.4" height="3" fill="#b3b53c"/>
<rect x="205.15" y="600.5" width="1.4" height="3" fill="#b3b53c"/>
<rect x="217.39" y="600.5" width="1.4" height="3" fill="#b3b53c"/>
<rect x="229.26" y="600.5" width="1.4" height="3" fill="#b3b53c"/>
<rect x="234.95" y="600.5" width="1.4" height="3" fill="#b3b53c"/>
<rect x="245.84" y="600.5" width="1.4" height="3" fill="#b3b53c"/>
<rect x="254.27" y="600.5" width="1.4" height="3" fill="#b3b53c"/>
<rect x="262.92" y="600.5" width="1.4" height="3" fill="#b3b53c"/>
<rect x="269.73" y="600.5" width="1.4" height="3" fill="#b3b53c"/>
<rect x="278.05" y="600.5" width="1.4" height="3" fill="#b3b53c"/>
<line x1="44.4" y1="607.5" x2="196.5" y2="607.5" stroke="#b3b53c" stroke-width="0.8"/>
<path d="M45.9,607.5l-0.9,-0.9M45.9,607.5l-0.9,0.9M47.9,607.5l-0.9,-0.9M47.9,607.5l-0.9,0.9M49.9,607.5l-0.9,-0.9M49.9,607.5l-0.9,0.9M51.9,607.5l-0.9,-0.9M51.9,607.5l-0.9,0.9M53.9,607.5l-0.9,-0.9M53.9,607.5l-0.9,0.9M55.9,607.5l-0.9,-0.9M55.9,607.5l-0.9,0.9M57.9,607.5l-0.9,-0.9M57.9,607.5l-0.9,0.9M59.9,607.5l-0.9,-0.9M59.9,607.5l-0.9,0.9M61.9,607.5l-0.9,-0.9M61.9,607.5l-0.9,0.9M63.9,607.5l-0.9,-0.9M63.9,607.5l-0.9,0.9M65.9,607.5l-0.9,-0.9M65.9,607.5l-0.9,0.9M67.9,607.5l-0.9,-0.9M67.9,607.5l-0.9,0.9M69.9,607.5l-0.9,-0.9M69.9,607.5l-0.9,0.9M71.9,607.5l-0.9,-0.9M71.9,607.5l-0.9,0.9M73.9,607.5l-0.9,-0.9M73.9,607.5l-0.9,0.9M75.9,607.5l-0.9,-0.9M75.9,607.5l-0.9,0.9M77.9,607.5l-0.9,-0.9M77.9,607.5l-0.9,0.9M79.9,607.5l-0.9,-0.9M79.9,607.5l-0.9,0.9M81.9,607.5l-0.9,-0.9M81.9,607.5l-0.9,0.9M83.9,607.5l-0.9,-0.9M83.9,607.5l-0.9,0.9M85.9,607.5l-0.9,-0.9M85.9,607.5l-0.9,0.9M87.9,607.5l-0.9,-0.9M87.9,607.5l-0.9,0.9M89.9,607.5l-0.9,-0.9M89.9,607.5l-0.9,0.9M91.9,607.5l-0.9,-0.9M91.9,607.5l-0.9,0.9M93.9,607.5l-0.9,-0.9M93.9,607.5l-0.9,0.9M95.9,607.5l-0.9,-0.9M95.9,607.5l-0.9,0.9M97.9,607.5l-0.9,-0.9M97.9,607.5l-0.9,0.9M99.9,607.5l-0.9,-0.9M99.9,607.5l-0.9,0.9M101.9,607.5l-0.9,-0.9M101.9,607.5l-0.9,0.9M103.9,607.5l-0.9,-0.9M103.9,607.5l-0.9,0.9M105.9,607.5l-0.9,-0.9M105.9,607.5l-0.9,0.9M107.9,607.5l-0.9,-0.9M107.9,607.5l-0.9,0.9M109.9,607.5l-0.9,-0.9M109.9,607.5l-0.9,0.9M111.9,607.5l-0.9,-0.9M111.9,607.5l-0.9,0.9M113.9,607.5l-0.9,-0.9M113.9,607.5l-0.9,0.9M115.9,607.5l-0.9,-0.9M115.9,607.5l-0.9,0.9M117.9,607.5l-0.9,-0.9M117.9,607.5l-0.9,0.9M119.9,607.5l-0.9,-0.9M119.9,607.5l-0.9,0.9M121.9,607.5l-0.9,-0.9M121.9,607.5l-0.9,0.9M123.9,607.5l-0.9,-0.9M123.9,607.5l-0.9,0.9M125.9,607.5l-0.9,-0.9M125.9,607.5l-0.9,0.9M127.9,607.5l-0.9,-0.9M127.9,607.5l-0.9,0.9M129.9,607.5l-0.9,-0.9M129.9,607.5l-0.9,0.9M131.9,607.5l-0.9,-0.9M131.9,607.5l-0.9,0.9M133.9,607.5l-0.9,-0.9M133.9,607.5l-0.9,0.9M135.9,607.5l-0.9,-0.9M135.9,607.5l-0.9,0.9M137.9,607.5l-0.9,-0.9M137.9,607.5l-0.9,0.9M139.9,607.5l-0.9,-0.9M139.9,607.5l-0.9,0.9M141.9,607.5l-0.9,-0.9M141.9,607.5l-0.9,0.9M143.9,607.5l-0.9,-0.9M143.9,607.5l-0.9,0.9M145.9,607.5l-0.9,-0.9M145.9,607.5l-0.9,0.9M147.9,607.5l-0.9,-0.9M147.9,607.5l-0.9,0.9M149.9,607.5l-0.9,-0.9M149.9,607.5l-0.9,0.9M151.9,607.5l-0.9,-0.9M151.9,607.5l-0.9,0.9M153.9,607.5l-0.9,-0.9M153.9,607.5l-0.9,0.9M155.9,607.5l-0.9,-0.9M155.9,607.5l-0.9,0.9M157.9,607.5l-0.9,-0.9M157.9,607.5l-0.9,0.9M159.9,607.5l-0.9,-0.9M159.9,607.5l-0.9,0.9M161.9,607.5l-0.9,-0.9M161.9,607.5l-0.9,0.9M163.9,607.5l-0.9,-0.9M163.9,607.5l-0.9,0.9M165.9,607.5l-0.9,-0.9M165.9,607.5l-0.9,0.9M167.9,607.5l-0.9,-0.9M167.9,607.5l-0.9,0.9M169.9,607.5l-0.9,-0.9M169.9,607.5l-0.9,0.9M171.9,607.5l-0.9,-0.9M171.9,607.5l-0.9,0.9M173.9,607.5l-0.9,-0.9M173.9,607.5l-0.9,0.9M175.9,607.5l-0.9,-0.9M175.9,607.5l-0.9,0.9M177.9,607.5l-0.9,-0.9M177.9,607.5l-0.9,0.9M179.9,607.5l-0.9,-0.9M179.9,607.5l-0.9,0.9M181.9,607.5l-0.9,-0.9M181.9,607.5l-0.9,0.9M183.9,607.5l-0.9,-0.9M183.9,607.5l-0.9,0.9M185.9,607.5l-0.9,-0.9M185.9,607.5l-0.9,0.9M187.9,607.5l-0.9,-0.9M187.9,607.5l-0.9,0.9M189.9,607.5l-0.9,-0.9M189.9,607.5l-0.9,0.9M191.9,607.5l-0.9,-0.9M191.9,607.5l-0.9,0.9M193.9,607.5l-0.9,-0.9M193.9,607.5l-0.9,0.9M195.9,607.5l-0.9,-0.9M195.9,607.5l-0.9,0.9" stroke="#b3b53c" stroke-width="0.4" fill="none"/>
<rect x="43.79" y="606" width="1.4" height="3" fill="#b3b53c"/>
<rect x="46.58" y="606" width="1.4" height="3" fill="#b3b53c"/>
<rect x="55.28" y="606" width="1.4" height="3" fill="#b3b53c"/>
<rect x="66.33" y="606" width="1.4" height="3" fill="#b3b53c"/>
<rect x="89.04" y="606" width="1.4" height="3" fill="#b3b53c"/>
<rect x="95.59" y="606" width="1.4" height="3" fill="#b3b53c"/>
<rect x="107.13" y="606" width="1.4" height="3" fill="#b3b53c"/>
<rect x="113.25" y="606" width="1.4" height="3" fill="#b3b53c"/>
<rect x="124.26" y="606" width="1.4" height="3" fill="#b3b53c"/>
<rect x="131.83" y="606" width="1.4" height="3" fill="#b3b53c"/>
<rect x="141.17" y="606" width="1.4" height="3" fill="#b3b53c"/>
<rect x="151.37" y="606" width="1.4" height="3" fill="#b3b53c"/>
<rect x="153.08" y="606" width="1.4" height="3" fill="#b3b53c"/>
<rect x="162.37" y="606" width="1.4" height="3" fill="#b3b53c"/>
<rect x="166.72" y="606" width="1.4" height="3" fill="#b3b53c"/>
<rect x="174.99" y="606" width="1.4" height="3" fill="#b3b53c"/>
<rect x="188.78" y="606" width="1.4" height="3" fill="#b3b53c"/>
<line x1="43" y1="612.8" x2="371.3" y2="612.8" stroke="#b3b53c" stroke-width="0.8"/>
<path d="M44.5,612.8l-0.9,-0.9M44.5,612.8l-0.9,0.9M46.5,612.8l-0.9,-0.9M46.5,612.8l-0.9,0.9M48.5,612.8l-0.9,-0.9M48.5,612.8l-0.9,0.9M50.5,612.8l-0.9,-0.9M50.5,612.8l-0.9,0.9M52.5,612.8l-0.9,-0.9M52.5,612.8l-0.9,0.9M54.5,612.8l-0.9,-0.9M54.5,612.8l-0.9,0.9M56.5,612.8l-0.9,-0.9M56.5,612.8l-0.9,0.9M58.5,612.8l-0.9,-0.9M58.5,612.8l-0.9,0.9M60.5,612.8l-0.9,-0.9M60.5,612.8l-0.9,0.9M62.5,612.8l-0.9,-0.9M62.5,612.8l-0.9,0.9M64.5,612.8l-0.9,-0.9M64.5,612.8l-0.9,0.9M66.5,612.8l-0.9,-0.9M66.5,612.8l-0.9,0.9M68.5,612.8l-0.9,-0.9M68.5,612.8l-0.9,0.9M70.5,612.8l-0.9,-0.9M70.5,612.8l-0.9,0.9M72.5,612.8l-0.9,-0.9M72.5,612.8l-0.9,0.9M74.5,612.8l-0.9,-0.9M74.5,612.8l-0.9,0.9M76.5,612.8l-0.9,-0.9M76.5,612.8l-0.9,0.9M78.5,612.8l-0.9,-0.9M78.5,612.8l-0.9,0.9M80.5,612.8l-0.9,-0.9M80.5,612.8l-0.9,0.9M82.5,612.8l-0.9,-0.9M82.5,612.8l-0.9,0.9M84.5,612.8l-0.9,-0.9M84.5,612.8l-0.9,0.9M86.5,612.8l-0.9,-0.9M86.5,612.8l-0.9,0.9M88.5,612.8l-0.9,-0.9M88.5,612.8l-0.9,0.9M90.5,612.8l-0.9,-0.9M90.5,612.8l-0.9,0.9M92.5,612.8l-0.9,-0.9M92.5,612.8l-0.9,0.9M94.5,612.8l-0.9,-0.9M94.5,612.8l-0.9,0.9M96.5,612.8l-0.9,-0.9M96.5,612.8l-0.9,0.9M98.5,612.8l-0.9,-0.9M98.5,612.8l-0.9,0.9M100.5,612.8l-0.9,-0.9M100.5,612.8l-0.9,0.9M102.5,612.8l-0.9,-0.9M102.5,612.8l-0.9,0.9M104.5,612.8l-0.9,-0.9M104.5,612.8l-0.9,0.9M106.5,612.8l-0.9,-0.9M106.5,612.8l-0.9,0.9M108.5,612.8l-0.9,-0.9M108.5,612.8l-0.9,0.9M110.5,612.8l-0.9,-0.9M110.5,612.8l-0.9,0.9M112.5,612.8l-0.9,-0.9M112.5,612.8l-0.9,0.9M114.5,612.8l-0.9,-0.9M114.5,612.8l-0.9,0.9M116.5,612.8l-0.9,-0.9M116.5,612.8l-0.9,0.9M118.5,612.8l-0.9,-0.9M118.5,612.8l-0.9,0.9M120.5,612.8l-0.9,-0.9M120.5,612.8l-0.9,0.9M122.5,612.8l-0.9,-0.9M122.5,612.8l-0.9,0.9M124.5,612.8l-0.9,-0.9M124.5,612.8l-0.9,0.9M126.5,612.8l-0.9,-0.9M126.5,612.8l-0.9,0.9M128.5,612.8l-0.9,-0.9M128.5,612.8l-0.9,0.9M130.5,612.8l-0.9,-0.9M130.5,612.8l-0.9,0.9M132.5,612.8l-0.9,-0.9M132.5,612.8l-0.9,0.9M134.5,612.8l-0.9,-0.9M134.5,612.8l-0.9,0.9M136.5,612.8l-0.9,-0.9M136.5,612.8l-0.9,0.9M138.5,612.8l-0.9,-0.9M138.5,612.8l-0.9,0.9M140.5,612.8l-0.9,-0.9M140.5,612.8l-0.9,0.9M142.5,612.8l-0.9,-0.9M142.5,612.8l-0.9,0.9M144.5,612.8l-0.9,-0.9M144.5,612.8l-0.9,0.9M146.5,612.8l-0.9,-0.9M146.5,612.8l-0.9,0.9M148.5,612.8l-0.9,-0.9M148.5,612.8l-0.9,0.9M150.5,612.8l-0.9,-0.9M150.5,612.8l-0.9,0.9M152.5,612.8l-0.9,-0.9M152.5,612.8l-0.9,0.9M154.5,612.8l-0.9,-0.9M154.5,612.8l-0.9,0.9M156.5,612.8l-0.9,-0.9M156.5,612.8l-0.9,0.9M158.5,612.8l-0.9,-0.9M158.5,612.8l-0.9,0.9M160.5,612.8l-0.9,-0.9M160.5,612.8l-0.9,0.9M162.5,612.8l-0.9,-0.9M162.5,612.8l-0.9,0.9M164.5,612.8l-0.9,-0.9M164.5,612.8l-0.9,0.9M166.5,612.8l-0.9,-0.9M166.5,612.8l-0.9,0.9M168.5,612.8l-0.9,-0.9M168.5,612.8l-0.9,0.9M170.5,612.8l-0.9,-0.9M170.5,612.8l-0.9,0.9M172.5,612.8l-0.9,-0.9M172.5,612.8l-0.9,0.9M174.5,612.8l-0.9,-0.9M174.5,612.8l-0.9,0.9M176.5,612.8l-0.9,-0.9M176.5,612.8l-0.9,0.9M178.5,612.8l-0.9,-0.9M178.5,612.8l-0.9,0.9M180.5,612.8l-0.9,-0.9M180.5,612.8l-0.9,0.9M182.5,612.8l-0.9,-0.9M182.5,612.8l-0.9,0.9M184.5,612.8l-0.9,-0.9M184.5,612.8l-0.9,0.9M186.5,612.8l-0.9,-0.9M186.5,612.8l-0.9,0.9M188.5,612.8l-0.9,-0.9M188.5,612.8l-0.9,0.9M190.5,612.8l-0.9,-0.9M190.5,612.8l-0.9,0.9M192.5,612.8l-0.9,-0.9M192.5,612.8l-0.9,0.9M194.5,612.8l-0.9,-0.9M194.5,612.8l-0.9,0.9M196.5,612.8l-0.9,-0.9M196.5,612.8l-0.9,0.9M198.5,612.8l-0.9,-0.9M198.5,612.8l-0.9,0.9M200.5,612.8l-0.9,-0.9M200.5,612.8l-0.9,0.9M202.5,612.8l-0.9,-0.9M202.5,612.8l-0.9,0.9M204.5,612.8l-0.9,-0.9M204.5,612.8l-0.9,0.9M206.5,612.8l-0.9,-0.9M206.5,612.8l-0.9,0.9M208.5,612.8l-0.9,-0.9M208.5,612.8l-0.9,0.9M210.5,612.8l-0.9,-0.9M210.5,612.8l-0.9,0.9M212.5,612.8l-0.9,-0.9M212.5,612.8l-0.9,0.9M214.5,612.8l-0.9,-0.9M214.5,612.8l-0.9,0.9M216.5,612.8l-0.9,-0.9M216.5,612.8l-0.9,0.9M218.5,612.8l-0.9,-0.9M218.5,612.8l-0.9,0.9M220.5,612.8l-0.9,-0.9M220.5,612.8l-0.9,0.9M222.5,612.8l-0.9,-0.9M222.5,612.8l-0.9,0.9M224.5,612.8l-0.9,-0.9M224.5,612.8l-0.9,0.9M226.5,612.8l-0.9,-0.9M226.5,612.8l-0.9,0.9M228.5,612.8l-0.9,-0.9M228.5,612.8l-0.9,0.9M230.5,612.8l-0.9,-0.9M230.5,612.8l-0.9,0.9M232.5,612.8l-0.9,-0.9M232.5,612.8l-0.9,0.9M234.5,612.8l-0.9,-0.9M234.5,612.8l-0.9,0.9M236.5,612.8l-0.9,-0.9M236.5,612.8l-0.9,0.9M238.5,612.8l-0.9,-0.9M238.5,612.8l-0.9,0.9M240.5,612.8l-0.9,-0.9M240.5,612.8l-0.9,0.9M242.5,612.8l-0.9,-0.9M242.5,612.8l-0.9,0.9M244.5,612.8l-0.9,-0.9M244.5,612.8l-0.9,0.9M246.5,612.8l-0.9,-0.9M246.5,612.8l-0.9,0.9M248.5,612.8l-0.9,-0.9M248.5,612.8l-0.9,0.9M250.5,612.8l-0.9,-0.9M250.5,612.8l-0.9,0.9M252.5,612.8l-0.9,-0.9M252.5,612.8l-0.9,0.9M254.5,612.8l-0.9,-0.9M254.5,612.8l-0.9,0.9M256.5,612.8l-0.9,-0.9M256.5,612.8l-0.9,0.9M258.5,612.8l-0.9,-0.9M258.5,612.8l-0.9,0.9M260.5,612.8l-0.9,-0.9M260.5,612.8l-0.9,0.9M262.5,612.8l-0.9,-0.9M262.5,612.8l-0.9,0.9M264.5,612.8l-0.9,-0.9M264.5,612.8l-0.9,0.9M266.5,612.8l-0.9,-0.9M266.5,612.8l-0.9,0.9M268.5,612.8l-0.9,-0.9M268.5,612.8l-0.9,0.9M270.5,612.8l-0.9,-0.9M270.5,612.8l-0.9,0.9M272.5,612.8l-0.9,-0.9M272.5,612.8l-0.9,0.9M274.5,612.8l-0.9,-0.9M274.5,612.8l-0.9,0.9M276.5,612.8l-0.9,-0.9M276.5,612.8l-0.9,0.9M278.5,612.8l-0.9,-0.9M278.5,612.8l-0.9,0.9M280.5,612.8l-0.9,-0.9M280.5,612.8l-0.9,0.9M282.5,612.8l-0.9,-0.9M282.5,612.8l-0.9,0.9M284.5,612.8l-0.9,-0.9M284.5,612.8l-0.9,0.9M286.5,612.8l-0.9,-0.9M286.5,612.8l-0.9,0.9M288.5,612.8l-0.9,-0.9M288.5,612.8l-0.9,0.9M290.5,612.8l-0.9,-0.9M290.5,612.8l-0.9,0.9M292.5,612.8l-0.9,-0.9M292.5,612.8l-0.9,0.9M294.5,612.8l-0.9,-0.9M294.5,612.8l-0.9,0.9M296.5,612.8l-0.9,-0.9M296.5,612.8l-0.9,0.9M298.5,612.8l-0.9,-0.9M298.5,612.8l-0.9,0.9M300.5,612.8l-0.9,-0.9M300.5,612.8l-0.9,0.9M302.5,612.8l-0.9,-0.9M302.5,612.8l-0.9,0.9M304.5,612.8l-0.9,-0.9M304.5,612.8l-0.9,0.9M306.5,612.8l-0.9,-0.9M306.5,612.8l-0.9,0.9M308.5,612.8l-0.9,-0.9M308.5,612.8l-0.9,0.9M310.5,612.8l-0.9,-0.9M310.5,612.8l-0.9,0.9M312.5,612.8l-0.9,-0.9M312.5,612.8l-0.9,0.9M314.5,612.8l-0.9,-0.9M314.5,612.8l-0.9,0.9M316.5,612.8l-0.9,-0.9M316.5,612.8l-0.9,0.9M318.5,612.8l-0.9,-0.9M318.5,612.8l-0.9,0.9M320.5,612.8l-0.9,-0.9M320.5,612.8l-0.9,0.9M322.5,612.8l-0.9,-0.9M322.5,612.8l-0.9,0.9M324.5,612.8l-0.9,-0.9M324.5,612.8l-0.9,0.9M326.5,612.8l-0.9,-0.9M326.5,612.8l-0.9,0.9M328.5,612.8l-0.9,-0.9M328.5,612.8l-0.9,0.9M330.5,612.8l-0.9,-0.9M330.5,612.8l-0.9,0.9M332.5,612.8l-0.9,-0.9M332.5,612.8l-0.9,0.9M334.5,612.8l-0.9,-0.9M334.5,612.8l-0.9,0.9M336.5,612.8l-0.9,-0.9M336.5,612.8l-0.9,0.9M338.5,612.8l-0.9,-0.9M338.5,612.8l-0.9,0.9M340.5,612.8l-0.9,-0.9M340.5,612.8l-0.9,0.9M342.5,612.8l-0.9,-0.9M342.5,612.8l-0.9,0.9M344.5,612.8l-0.9,-0.9M344.5,612.8l-0.9,0.9M346.5,612.8l-0.9,-0.9M346.5,612.8l-0.9,0.9M348.5,612.8l-0.9,-0.9M348.5,612.8l-0.9,0.9M350.5,612.8l-0.9,-0.9M350.5,612.8l-0.9,0.9M352.5,612.8l-0.9,-0.9M352.5,612.8l-0.9,0.9M354.5,612.8l-0.9,-0.9M354.5,612.8l-0.9,0.9M356.5,612.8l-0.9,-0.9M356.5,612.8l-0.9,0.9M358.5,612.8l-0.9,-0.9M358.5,612.8l-0.9,0.9M360.5,612.8l-0.9,-0.9M360.5,612.8l-0.9,0.9M362.5,612.8l-0.9,-0.9M362.5,612.8l-0.9,0.9M364.5,612.8l-0.9,-0.9M364.5,612.8l-0.9,0.9M366.5,612.8l-0.9,-0.9M366.5,612.8l-0.9,0.9M368.5,612.8l-0.9,-0.9M368.5,612.8l-0.9,0.9M370.5,612.8l-0.9,-0.9M370.5,612.8l-0.9,0.9" stroke="#b3b53c" stroke-width="0.4" fill="none"/>
<rect x="43.79" y="611.3" width="1.4" height="3" fill="#b3b53c"/>
<rect x="46.58" y="611.3" width="1.4" height="3" fill="#b3b53c"/>
<rect x="55.28" y="611.3" width="1.4" height="3" fill="#b3b53c"/>
<rect x="66.33" y="611.3" width="1.4" height="3" fill="#b3b53c"/>
<rect x="89.04" y="611.3" width="1.4" height="3" fill="#b3b53c"/>
<rect x="95.59" y="611.3" width="1.4" height="3" fill="#b3b53c"/>
<rect x="107.13" y="611.3" width="1.4" height="3" fill="#b3b53c"/>
<rect x="113.25" y="611.3" width="1.4" height="3" fill="#b3b53c"/>
<rect x="124.26" y="611.3" width="1.4" height="3" fill="#b3b53c"/>
<rect x="131.83" y="611.3" width="1.4" height="3" fill="#b3b53c"/>
<rect x="141.17" y="611.3" width="1.4" height="3" fill="#b3b53c"/>
<rect x="151.37" y="611.3" width="1.4" height="3" fill="#b3b53c"/>
<rect x="153.08" y="611.3" width="1.4" height="3" fill="#b3b53c"/>
<rect x="162.37" y="611.3" width="1.4" height="3" fill="#b3b53c"/>
<rect x="166.72" y="611.3" width="1.4" height="3" fill="#b3b53c"/>
<rect x="174.99" y="611.3" width="1.4" height="3" fill="#b3b53c"/>
<rect x="188.78" y="611.3" width="1.4" height="3" fill="#b3b53c"/>
<rect x="200" y="611.3" width="1.4" height="3" fill="#b3b53c"/>
<rect x="205.15" y="611.3" width="1.4" height="3" fill="#b3b53c"/>
<rect x="217.39" y="611.3" width="1.4" height="3" fill="#b3b53c"/>
<rect x="229.26" y="611.3" width="1.4" height="3" fill="#b3b53c"/>
<rect x="234.95" y="611.3" width="1.4" height="3" fill="#b3b53c"/>
<rect x="245.84" y="611.3" width="1.4" height="3" fill="#b3b53c"/>
<rect x="254.27" y="611.3" width="1.4" height="3" fill="#b3b53c"/>
<rect x="262.92" y="611.3" width="1.4" height="3" fill="#b3b53c"/>
<rect x="269.73" y="611.3" width="1.4" height="3" fill="#b3b53c"/>
<rect x="278.05" y="611.3" width="1.4" height="3" fill="#b3b53c"/>
<rect x="280.2" y="611.3" width="1.4" height="3" fill="#b3b53c"/>
<rect x="345.69" y="611.3" width="1.4" height="3" fill="#b3b53c"/>
<rect x="347.84" y="611.3" width="1.4" height="3" fill="#b3b53c"/>
<rect x="284.6" y="611.2" width="58.6" height="3.2" fill="#b3b53c"/>
<rect x="357" y="611.2" width="14.3" height="3.2" fill="#b3b53c"/>
<text x="41.6" y="597.9" font-size="4.6" fill="#b3b53c" style="stroke:#b3b53c">APOB</text>
<text x="41.6" y="603.7" font-size="4.6" fill="#b3b53c" style="stroke:#b3b53c">APOB</text>
<text x="199.5" y="609.2" font-size="4.6" fill="#b3b53c" style="stroke:#b3b53c">APOB</text>
<text x="28.4" y="614.5" font-size="4.6" fill="#b3b53c" style="stroke:#b3b53c">APOB</text>
<text x="148.9" y="593" font-size="4.6" fill="#e02020" style="stroke:#e02020" textLength="41.5" lengthAdjust="spacingAndGlyphs">ENSG00000280390</text>
<line x1="196.2" y1="591.2" x2="201.5" y2="591.2" stroke="#e02020" stroke-width="1.4"/>
<line x1="27" y1="617" x2="371.3" y2="617" stroke="#cfcfcf" stroke-width="0.6"/>
<text x="0" y="0" font-size="7" transform="translate(37.4 629.4) scale(0.87 1)" text-anchor="end">Transcription</text>
<line x1="43.2" y1="619.6" x2="43.2" y2="633.6" stroke="#111" stroke-width="1.2"/>
<text x="41.9" y="622.2" font-size="4.8" text-anchor="end" class="n">1.0</text>
<text x="41.9" y="634.2" font-size="4.8" text-anchor="end" class="n">0.0</text>
<text x="0" y="0" font-size="7" transform="translate(37.4 644) scale(0.9 1)" text-anchor="end">CpG Context</text>
<rect x="43.2" y="635.1" width="328.1" height="8.1" fill="#a3a3a3"/>
<rect x="43.3" y="635.1" width="2" height="8.1" fill="#5cc86a"/>
<rect x="45.3" y="635.1" width="16" height="8.1" fill="#e8dc5a"/>
<rect x="61.3" y="635.1" width="15.2" height="8.1" fill="#5fd8ea"/>
<text x="53.3" y="641.3" font-size="5.6" text-anchor="middle" class="n">Shore</text>
<text x="68.9" y="641.3" font-size="5.6" text-anchor="middle" class="n">Shelf</text>
<text x="0" y="0" font-size="7" transform="translate(37.4 654.5) scale(0.9 1)" text-anchor="end">Methylation</text>
<line x1="43.2" y1="645.3" x2="43.2" y2="659" stroke="#111" stroke-width="1.2"/>
<text x="41.9" y="647.9" font-size="4.8" text-anchor="end" class="n">1.0</text>
<text x="41.9" y="659.6" font-size="4.8" text-anchor="end" class="n">0.0</text>
<line x1="27" y1="660.2" x2="371.3" y2="660.2" stroke="#cfcfcf" stroke-width="0.6"/>
<text x="0" y="0" font-size="7" transform="translate(37.4 672.1) scale(0.9 1)" text-anchor="end">H3K4me3</text>
<text x="41.9" y="664.9" font-size="4.8" text-anchor="end" class="n">1.3</text>
<text x="41.9" y="677.5" font-size="4.8" text-anchor="end" class="n">0.0</text>
<line x1="27" y1="677.9" x2="371.3" y2="677.9" stroke="#cfcfcf" stroke-width="0.6"/>
<line x1="43.2" y1="662.3" x2="43.2" y2="676.9" stroke="#111" stroke-width="1.2"/>
<text x="0" y="0" font-size="7" transform="translate(37.4 689) scale(0.9 1)" text-anchor="end">H3K27ac</text>
<text x="41.9" y="681.8" font-size="4.8" text-anchor="end" class="n">0.9</text>
<text x="41.9" y="694.4" font-size="4.8" text-anchor="end" class="n">0.0</text>
<line x1="27" y1="694.8" x2="371.3" y2="694.8" stroke="#cfcfcf" stroke-width="0.6"/>
<line x1="43.2" y1="679.2" x2="43.2" y2="693.8" stroke="#111" stroke-width="1.2"/>
<text x="0" y="0" font-size="7" transform="translate(37.4 705.7) scale(0.9 1)" text-anchor="end">H3K27me3</text>
<text x="41.9" y="698.5" font-size="4.8" text-anchor="end" class="n">8</text>
<text x="41.9" y="711.1" font-size="4.8" text-anchor="end" class="n">0</text>
<line x1="27" y1="711.5" x2="371.3" y2="711.5" stroke="#cfcfcf" stroke-width="0.6"/>
<line x1="43.2" y1="695.9" x2="43.2" y2="710.5" stroke="#111" stroke-width="1.2"/>
<text x="0" y="0" font-size="7" transform="translate(37.4 722.6) scale(0.9 1)" text-anchor="end">H3K36me3</text>
<text x="41.9" y="715.4" font-size="4.8" text-anchor="end" class="n">3.7</text>
<text x="41.9" y="728" font-size="4.8" text-anchor="end" class="n">0.0</text>
<line x1="27" y1="728.4" x2="371.3" y2="728.4" stroke="#cfcfcf" stroke-width="0.6"/>
<line x1="43.2" y1="712.8" x2="43.2" y2="727.4" stroke="#111" stroke-width="1.2"/>
<text x="0" y="0" font-size="7" transform="translate(37.4 739.2) scale(0.9 1)" text-anchor="end">H3K4me1</text>
<text x="41.9" y="732" font-size="4.8" text-anchor="end" class="n">9</text>
<text x="41.9" y="744.6" font-size="4.8" text-anchor="end" class="n">0</text>
<line x1="27" y1="745" x2="371.3" y2="745" stroke="#cfcfcf" stroke-width="0.6"/>
<line x1="43.2" y1="729.4" x2="43.2" y2="744" stroke="#111" stroke-width="1.2"/>
<text x="0" y="0" font-size="7" transform="translate(37.4 756.2) scale(0.9 1)" text-anchor="end">H3K9me3</text>
<text x="41.9" y="749" font-size="4.8" text-anchor="end" class="n">1.6</text>
<text x="41.9" y="761.6" font-size="4.8" text-anchor="end" class="n">0.0</text>
<line x1="27" y1="762" x2="371.3" y2="762" stroke="#cfcfcf" stroke-width="0.6"/>
<line x1="43.2" y1="746.4" x2="43.2" y2="761" stroke="#111" stroke-width="1.2"/>
<line x1="43.2" y1="676.9" x2="371.3" y2="676.9" stroke="#f6cf9a" stroke-width="0.5"/>
<path d="M50.91,676.9L51.75,671.9L52.6,676.9ZM51.33,676.9L51.95,674.65L52.56,676.9ZM53.13,676.9L53.62,676.32L54.12,676.9ZM54.3,676.9L54.93,676.16L55.56,676.9ZM54.23,676.9L54.99,676.36L55.74,676.9ZM55.43,676.9L56.2,675.09L56.97,676.9ZM56.4,676.9L57.19,676.38L57.98,676.9ZM58.46,676.9L59.17,674.24L59.88,676.9ZM66.23,676.9L67.01,675.74L67.79,676.9ZM67.31,676.9L68.04,674.76L68.77,676.9ZM68.24,676.9L68.88,676.36L69.51,676.9ZM71.06,676.9L71.69,674.66L72.31,676.9ZM73.48,676.9L73.97,676.23L74.46,676.9ZM74.34,676.9L74.84,673.07L75.34,676.9ZM74.69,676.9L75.11,676.35L75.53,676.9ZM75.02,676.9L75.83,674.76L76.64,676.9ZM76.18,676.9L76.72,675.72L77.26,676.9ZM76.85,676.9L77.53,673.38L78.2,676.9ZM77.4,676.9L78.19,676.34L78.98,676.9ZM80.4,676.9L80.92,672.97L81.44,676.9ZM81.98,676.9L82.67,672.18L83.37,676.9ZM88.25,676.9L89.14,676.26L90.02,676.9ZM88.85,676.9L89.27,675.53L89.68,676.9ZM92.06,676.9L92.95,674.04L93.84,676.9ZM95.91,676.9L96.58,671.9L97.25,676.9ZM105.88,676.9L106.45,673.59L107.03,676.9ZM114.1,676.9L114.6,675.69L115.09,676.9ZM114.27,676.9L114.77,675.31L115.27,676.9ZM120.29,676.9L120.8,671.88L121.31,676.9ZM120.56,676.9L121.04,675L121.53,676.9ZM122.26,676.9L122.78,673.1L123.31,676.9ZM123.38,676.9L124,672.34L124.62,676.9ZM124.13,676.9L124.93,672.42L125.74,676.9ZM129.34,676.9L129.95,674.04L130.55,676.9ZM131.85,676.9L132.57,672.96L133.29,676.9ZM132.57,676.9L133.18,675.96L133.78,676.9ZM135.78,676.9L136.46,674.85L137.13,676.9ZM139.64,676.9L140.35,676.34L141.07,676.9ZM140.43,676.9L141.25,674.84L142.07,676.9ZM141.44,676.9L141.88,671.87L142.32,676.9ZM143.2,676.9L143.72,674.93L144.24,676.9ZM144.92,676.9L145.55,675.29L146.17,676.9ZM147.77,676.9L148.36,676.4L148.95,676.9ZM150.95,676.9L151.78,676.3L152.62,676.9ZM151.8,676.9L152.29,674.08L152.78,676.9ZM153.18,676.9L153.62,675.51L154.06,676.9ZM155.54,676.9L156.29,675.25L157.03,676.9ZM157.35,676.9L158.01,674.86L158.67,676.9ZM158.35,676.9L158.8,672.36L159.24,676.9ZM162.8,676.9L163.45,672.67L164.09,676.9ZM166.08,676.9L166.78,674.13L167.48,676.9ZM166.97,676.9L167.55,675.89L168.12,676.9ZM167.78,676.9L168.35,671.79L168.92,676.9ZM168.63,676.9L169.44,675.52L170.24,676.9ZM170.35,676.9L170.88,674.87L171.41,676.9ZM171.09,676.9L171.6,676.36L172.11,676.9ZM171.63,676.9L172.28,672.77L172.94,676.9ZM172.08,676.9L172.54,675.33L173,676.9ZM173.57,676.9L174.4,675.42L175.23,676.9ZM174.54,676.9L175.07,672.78L175.59,676.9ZM183.65,676.9L184.07,674.39L184.49,676.9ZM187.15,676.9L187.73,676.02L188.31,676.9ZM187.64,676.9L188.08,672.89L188.53,676.9ZM190.32,676.9L191.06,675.62L191.8,676.9ZM190.97,676.9L191.83,676.37L192.69,676.9ZM193.31,676.9L194.19,676.26L195.08,676.9ZM199.18,676.9L199.59,676.23L200,676.9ZM200.92,676.9L201.69,676.3L202.45,676.9ZM202.41,676.9L203.09,673.89L203.78,676.9ZM205.67,676.9L206.37,673.02L207.07,676.9ZM207.89,676.9L208.36,675.87L208.82,676.9ZM208.07,676.9L208.57,672.73L209.07,676.9ZM209.1,676.9L209.81,675.9L210.52,676.9ZM210.88,676.9L211.5,672.71L212.12,676.9ZM211.73,676.9L212.5,674.28L213.27,676.9ZM217.43,676.9L218.27,675.91L219.11,676.9ZM226.66,676.9L227.13,671.57L227.59,676.9ZM227.37,676.9L228.19,673.4L229.01,676.9ZM227.52,676.9L228.28,675.62L229.04,676.9ZM230.93,676.9L231.44,674.97L231.94,676.9ZM232.04,676.9L232.6,676.38L233.15,676.9ZM233.14,676.9L233.83,673.01L234.53,676.9ZM234.47,676.9L235.02,676.1L235.58,676.9ZM237.01,676.9L237.49,675.41L237.98,676.9ZM240.44,676.9L241.32,674.74L242.21,676.9ZM242.42,676.9L243.03,674.46L243.65,676.9ZM244.23,676.9L245.12,672.18L246.01,676.9ZM247.09,676.9L247.52,675.47L247.95,676.9ZM251,676.9L251.59,675.63L252.19,676.9ZM251.13,676.9L251.73,676.39L252.32,676.9ZM259.14,676.9L259.9,673.66L260.65,676.9ZM261.87,676.9L262.35,676.03L262.84,676.9ZM263.71,676.9L264.4,676.38L265.1,676.9ZM265.55,676.9L266.01,674.93L266.47,676.9ZM265.69,676.9L266.16,675.28L266.64,676.9ZM267.73,676.9L268.44,675.92L269.15,676.9ZM270.86,676.9L271.52,674.56L272.19,676.9ZM271.12,676.9L272.01,675.8L272.9,676.9ZM272.06,676.9L272.71,676L273.35,676.9ZM273.91,676.9L274.46,673.27L275.01,676.9ZM280.98,676.9L281.78,676.4L282.57,676.9ZM283.18,676.9L283.65,672.34L284.13,676.9ZM285.52,676.9L286.25,671.91L286.98,676.9ZM285.63,676.9L286.51,672.16L287.4,676.9ZM286.34,676.9L286.78,672.98L287.22,676.9ZM286.2,676.9L286.96,673.24L287.72,676.9ZM293.31,676.9L293.97,674.4L294.62,676.9ZM293.78,676.9L294.67,674.76L295.57,676.9ZM296.48,676.9L296.98,672.57L297.48,676.9ZM299.5,676.9L299.93,673.72L300.37,676.9ZM303.24,676.9L303.75,676.24L304.26,676.9ZM303.42,676.9L303.89,674.2L304.36,676.9ZM311.34,676.9L312.15,676.4L312.95,676.9ZM314.63,676.9L315.31,674.78L316,676.9ZM318.4,676.9L318.87,674.38L319.34,676.9ZM321.72,676.9L322.41,675.77L323.1,676.9ZM323.4,676.9L324,672.31L324.61,676.9ZM327.71,676.9L328.27,676.37L328.83,676.9ZM329.92,676.9L330.74,674.53L331.55,676.9ZM330.46,676.9L331.26,673.17L332.05,676.9ZM330.91,676.9L331.6,676.3L332.29,676.9ZM339.24,676.9L339.85,674.52L340.47,676.9ZM340.76,676.9L341.42,673.12L342.09,676.9ZM342.27,676.9L343.13,674.64L344,676.9ZM346.18,676.9L346.72,672.88L347.25,676.9ZM347.99,676.9L348.75,673.01L349.51,676.9ZM355.03,676.9L355.49,672.21L355.96,676.9ZM356.57,676.9L357.07,675.76L357.57,676.9ZM357.83,676.9L358.61,671.56L359.4,676.9ZM358.26,676.9L358.84,676.09L359.43,676.9ZM363.17,676.9L363.65,675.34L364.13,676.9ZM365.01,676.9L365.43,676.09L365.85,676.9ZM366.64,676.9L367.42,671.49L368.21,676.9ZM369.71,676.9L370.39,676.28L371.07,676.9Z" fill="#f0a03c"/>
<path d="M108.6,676.9L109.5,662.5L110.4,676.9Z" stroke="none" stroke-width="0" fill="#f0a03c"/>
<path d="M182.3,676.9L183.2,669.9L184.1,676.9Z" stroke="none" stroke-width="0" fill="#f0a03c"/>
<path d="M185.1,676.9L186,672.9L186.9,676.9Z" stroke="none" stroke-width="0" fill="#f0a03c"/>
<path d="M216.6,676.9L217.5,671.4L218.4,676.9Z" stroke="none" stroke-width="0" fill="#f0a03c"/>
<path d="M310.1,676.9L311,671.9L311.9,676.9Z" stroke="none" stroke-width="0" fill="#f0a03c"/>
<path d="M329.1,676.9L330,672.4L330.9,676.9Z" stroke="none" stroke-width="0" fill="#f0a03c"/>
<path d="M340.1,676.9L341,671.4L341.9,676.9Z" stroke="none" stroke-width="0" fill="#f0a03c"/>
<path d="M348.6,676.9L349.5,670.9L350.4,676.9Z" stroke="none" stroke-width="0" fill="#f0a03c"/>
<line x1="43.2" y1="693.8" x2="371.3" y2="693.8" stroke="#f6cf9a" stroke-width="0.5"/>
<path d="M48.96,693.8L49.39,691.89L49.82,693.8ZM54.87,693.8L55.64,692.75L56.41,693.8ZM56.56,693.8L57.13,689.47L57.7,693.8ZM56.72,693.8L57.36,692L58,693.8ZM60.37,693.8L61.11,692.13L61.84,693.8ZM61.74,693.8L62.23,689.87L62.72,693.8ZM66.87,693.8L67.28,687.89L67.69,693.8ZM71.19,693.8L71.93,689.48L72.68,693.8ZM71.41,693.8L72.2,689.87L72.99,693.8ZM73.67,693.8L74.54,687.69L75.42,693.8ZM76.46,693.8L76.93,688.09L77.41,693.8ZM77.12,693.8L77.78,691.39L78.44,693.8ZM84.34,693.8L85.05,690.64L85.76,693.8ZM86.76,693.8L87.36,687.87L87.96,693.8ZM89.96,693.8L90.56,690.91L91.16,693.8ZM91.14,693.8L91.55,693.09L91.95,693.8ZM92.08,693.8L92.52,692.61L92.96,693.8ZM93.24,693.8L94.11,692.39L94.97,693.8ZM96.89,693.8L97.72,690.42L98.54,693.8ZM97.78,693.8L98.48,693.18L99.19,693.8ZM98.48,693.8L99.1,687.46L99.71,693.8ZM103.82,693.8L104.27,692.82L104.72,693.8ZM106.09,693.8L106.62,690.2L107.15,693.8ZM112.1,693.8L112.84,687.59L113.59,693.8ZM121.85,693.8L122.32,687.48L122.8,693.8ZM124.68,693.8L125.44,689.76L126.21,693.8ZM125.74,693.8L126.43,691.3L127.12,693.8ZM130.36,693.8L130.95,693.27L131.53,693.8ZM131.39,693.8L131.85,689.36L132.31,693.8ZM131.54,693.8L132,693.18L132.46,693.8ZM132.78,693.8L133.36,688.67L133.94,693.8ZM133.05,693.8L133.61,690.38L134.18,693.8ZM135,693.8L135.63,689.75L136.26,693.8ZM137.95,693.8L138.77,690.77L139.6,693.8ZM141.42,693.8L142.2,688.32L142.97,693.8ZM142.2,693.8L142.99,691.55L143.77,693.8ZM145.82,693.8L146.64,689.89L147.46,693.8ZM150.07,693.8L150.79,691.31L151.51,693.8ZM150.13,693.8L150.89,691.71L151.66,693.8ZM156.1,693.8L156.72,688.84L157.34,693.8ZM156.61,693.8L157.34,688.48L158.07,693.8ZM157.01,693.8L157.85,693.28L158.69,693.8ZM159,693.8L159.89,693.19L160.79,693.8ZM161.2,693.8L162,689.65L162.8,693.8ZM162.22,693.8L162.71,691.44L163.19,693.8ZM164.17,693.8L164.96,691.96L165.76,693.8ZM164.66,693.8L165.26,692.95L165.85,693.8ZM164.38,693.8L165.26,692.11L166.14,693.8ZM169.22,693.8L170.04,693.03L170.86,693.8ZM169.93,693.8L170.65,692.84L171.37,693.8ZM171.03,693.8L171.48,692.97L171.92,693.8ZM171.08,693.8L171.94,692.99L172.8,693.8ZM171.54,693.8L172.04,691.32L172.55,693.8ZM174.49,693.8L175.07,693.3L175.66,693.8ZM177.66,693.8L178.26,693.29L178.87,693.8ZM178.49,693.8L179.2,691.67L179.91,693.8ZM178.86,693.8L179.4,688.67L179.93,693.8ZM182.47,693.8L182.92,693.14L183.37,693.8ZM182.91,693.8L183.43,693.23L183.96,693.8ZM182.96,693.8L183.79,693.23L184.62,693.8ZM184.93,693.8L185.58,691.6L186.23,693.8ZM189.12,693.8L189.54,693.28L189.96,693.8ZM191.5,693.8L192.15,693.3L192.81,693.8ZM194.09,693.8L194.49,688.83L194.89,693.8ZM195.02,693.8L195.71,692.56L196.4,693.8ZM194.91,693.8L195.79,689.69L196.67,693.8ZM196.87,693.8L197.69,690.41L198.5,693.8ZM201.46,693.8L202.11,689.11L202.75,693.8ZM201.5,693.8L202.32,689.33L203.15,693.8ZM204.31,693.8L205.2,692.55L206.09,693.8ZM206.73,693.8L207.52,692.56L208.31,693.8ZM207.27,693.8L208.12,692.84L208.98,693.8ZM207.66,693.8L208.26,688.63L208.86,693.8ZM209.43,693.8L210.28,690.22L211.13,693.8ZM210.21,693.8L210.87,693.22L211.53,693.8ZM211.02,693.8L211.47,692.02L211.93,693.8ZM211.27,693.8L211.7,691.14L212.13,693.8ZM211.99,693.8L212.44,692.21L212.89,693.8ZM215.92,693.8L216.34,688.32L216.75,693.8ZM219.49,693.8L220.25,693.04L221.02,693.8ZM219.53,693.8L220.4,689.76L221.27,693.8ZM220.54,693.8L221.11,693.07L221.69,693.8ZM225.31,693.8L225.79,689.46L226.27,693.8ZM230.44,693.8L231.32,689.82L232.2,693.8ZM239.13,693.8L239.89,693.08L240.66,693.8ZM239.28,693.8L239.95,692.99L240.62,693.8ZM240.01,693.8L240.58,692.91L241.16,693.8ZM241.36,693.8L242.05,688.16L242.74,693.8ZM243.49,693.8L243.98,689.98L244.48,693.8ZM247.05,693.8L247.85,689.61L248.66,693.8ZM248.84,693.8L249.28,691.31L249.72,693.8ZM249.86,693.8L250.74,690.58L251.61,693.8ZM255.35,693.8L256.13,692.44L256.91,693.8ZM260.01,693.8L260.75,687.71L261.49,693.8ZM261.29,693.8L261.7,688.6L262.11,693.8ZM262.85,693.8L263.69,691.83L264.54,693.8ZM265.52,693.8L266,692.97L266.49,693.8ZM265.3,693.8L266.09,689.71L266.88,693.8ZM266.53,693.8L267.2,692.9L267.88,693.8ZM267.15,693.8L267.72,691.41L268.29,693.8ZM268.11,693.8L268.64,690.21L269.16,693.8ZM268.73,693.8L269.6,691.16L270.47,693.8ZM269.45,693.8L269.98,692.59L270.52,693.8ZM270.07,693.8L270.88,691.65L271.69,693.8ZM270.74,693.8L271.36,689.99L271.98,693.8ZM272.68,693.8L273.38,691.56L274.08,693.8ZM273.25,693.8L273.85,690.79L274.45,693.8ZM276.9,693.8L277.5,690.94L278.11,693.8ZM287.45,693.8L287.85,693.03L288.26,693.8ZM287.72,693.8L288.17,690.22L288.61,693.8ZM290.78,693.8L291.33,693.22L291.88,693.8ZM293.03,693.8L293.65,693.29L294.27,693.8ZM310.48,693.8L311.07,689.91L311.67,693.8ZM315.96,693.8L316.76,691.12L317.57,693.8ZM317.02,693.8L317.77,692.24L318.52,693.8ZM320.7,693.8L321.17,690.2L321.65,693.8ZM321.96,693.8L322.48,692.54L322.99,693.8ZM322.3,693.8L322.77,689.74L323.24,693.8ZM323.06,693.8L323.81,693.3L324.56,693.8ZM325.27,693.8L326.15,693.24L327.02,693.8ZM337.96,693.8L338.76,689.72L339.56,693.8ZM341.12,693.8L341.65,693.29L342.19,693.8ZM341.58,693.8L342.3,693.29L343.02,693.8ZM343.65,693.8L344.43,692.34L345.2,693.8ZM344.6,693.8L345.06,692.69L345.52,693.8ZM345.06,693.8L345.7,688.81L346.35,693.8ZM348.14,693.8L348.88,688.65L349.61,693.8ZM349.51,693.8L349.95,687.65L350.39,693.8ZM350.47,693.8L351.21,688.48L351.96,693.8ZM351.47,693.8L352.25,689.04L353.03,693.8ZM354.57,693.8L355.31,692.74L356.05,693.8ZM357.2,693.8L357.85,688.92L358.51,693.8ZM363.66,693.8L364.16,689.98L364.67,693.8ZM365.51,693.8L366.22,692.98L366.93,693.8ZM366.58,693.8L367.15,687.32L367.73,693.8ZM370.28,693.8L370.87,688.95L371.46,693.8Z" fill="#f0a03c"/>
<path d="M48.6,693.8L49.5,686.8L50.4,693.8Z" stroke="none" stroke-width="0" fill="#f0a03c"/>
<path d="M56.1,693.8L57,686.3L57.9,693.8Z" stroke="none" stroke-width="0" fill="#f0a03c"/>
<path d="M77.6,693.8L78.5,686.8L79.4,693.8Z" stroke="none" stroke-width="0" fill="#f0a03c"/>
<path d="M102.1,693.8L103,685.3L103.9,693.8Z" stroke="none" stroke-width="0" fill="#f0a03c"/>
<path d="M104.1,693.8L105,688.8L105.9,693.8Z" stroke="none" stroke-width="0" fill="#f0a03c"/>
<path d="M108.1,693.8L109,687.8L109.9,693.8Z" stroke="none" stroke-width="0" fill="#f0a03c"/>
<path d="M159.1,693.8L160,686.3L160.9,693.8Z" stroke="none" stroke-width="0" fill="#f0a03c"/>
<path d="M194.1,693.8L195,687.8L195.9,693.8Z" stroke="none" stroke-width="0" fill="#f0a03c"/>
<path d="M275.1,693.8L276,686.8L276.9,693.8Z" stroke="none" stroke-width="0" fill="#f0a03c"/>
<path d="M298.1,693.8L299,685.3L299.9,693.8Z" stroke="none" stroke-width="0" fill="#f0a03c"/>
<path d="M307.1,693.8L308,687.8L308.9,693.8Z" stroke="none" stroke-width="0" fill="#f0a03c"/>
<path d="M367.1,693.8L368,679.8L368.9,693.8Z" stroke="none" stroke-width="0" fill="#f0a03c"/>
<path d="M364.6,693.8L365.5,686.8L366.4,693.8Z" stroke="none" stroke-width="0" fill="#f0a03c"/>
<path d="M369.1,693.8L370,684.8L370.9,693.8Z" stroke="none" stroke-width="0" fill="#f0a03c"/>
<path d="M43.2 710.5l0-1.1 1.4 0.8 0.7-0.8 1.4 0.2 0.4-2 1 0.5 0.7-2.9 0.4-0.8 0.7 1.5 1-0.1 0.7 1.1 1.1 0.9 0.7-0.3 1-3.3 1.8 5.3 1-0.7 0.7 0.7 1.1 0 1-1.9 0.7-0.1 0.7-0.5 0.4 0.3 0.7 1.7 1-0.2 0.7-1.2 1.1 1.2 0.7 0.2 0.3-0.3 0.7-1.2 0.7-1.9 0.4 0.6 0.7 3.6 1 0.1 0.7-1.5 1-4.1 1.8 4.5 0.7-3.6 0.3-0.8 0.7 2.2 1.1-1 0.7-0.3 0.7 3.9 0.3 0.8 0.7-0.3 0.4-0.7 0.7-3.7 0.7 2.6 0.3 0 0.7-3.8 0.7 4.9 0.4 0.6 0.7-5.5 0.3-0.2 0.7 2.5 0.7 1.4 0.4-0.5 0.7-3.2 1 3.4 0.7 0.5 0.7 1.3 0.4 0.1 0.7-3.1 1 3.5 0.7-0.3 1.1 0.5 1 0.1 0.7-0.5 1.1 0.5 0.7-1.2 0.3-0.1 0.7 0.4 0.7 0.8 0.4-0.1 0.7-1.7 0.7 0.8 1 0.3 1.1-2 1.4 2.3 0.3 0.1 1.1-7.1 0.7 0 0.7 5.8 0.3 0.6 0.7-2.1 0.7 0.5 1.1 2 0.3-0.1 0.7-0.9 0.7 1.1 0.4 0.2 0.7 0.1 0.7-0.4 1 0.8 0.7-0.2 0.4-0.5 0.7-3.5 0.3-0.4 0.7 1.2 0.7 2 0.4-0.5 0.7-4.6 0.7 4.4 0.3 0.4 0.7-3.7 0.7 3 0.4 0.6 0.7-4.5 0.3 0.8 0.7 3 0.7-2.9 1.1 5 1-1 0.7 0.2 1.1-2.7 0.7-0.3 0.7 3.2 0.3 0.8 0.7-0.6 1.4 0.7 2.5 0.1 1.7-0.9 0.4-0.8 0.3 1.3 2.1 0.2 0.7 0.3 4.2 0 0.4-0.1 0.7-0.9 0.3-0.1 0.7 1.1 1.1-0.5 0.7 0.3 1-1.2 0.7 1.3 0.4 0 1.4-1.2 0.3 0 1.1 0.9 0.7 0.2 0.7-1.4 0.7 1.3 0.3 0.3 0.7-1.4 0.4-0.4 0.3 0.2 0.4-4.9 0.7-0.5 0.3-0.1 0.7 0.4 0.7 3.9 0.4 0.9 0.7-1.5 1 1.1 0.7-0.5 1.1 1.3 0.7-2.4 0.3 0 0.7 2.8 0.7-0.7 0.4 0 0.7 1.5 0.7 0.1 0.3 0 0.7-2.8 0.4-0.2 0.7 2.2 0.7-0.1 0.3-0.6 0.7-3.5 0.7 1.1 1.1 3.4 0.3-0.2 0.7-1.5 0.7 0.2 1.1-0.9 0.7 1.7 0.3 0.3 0.7-0.1 1.1-6 0.7 2.9 0.3 0.4 0.4 0.1 0.3 0 1.1-2 0.7-0.9 0.7 4.8 0.3 0.1 0.7-5.5 1.8 6 0.3-0.1 0.7-1.2 0.7-6.8 0.4-1.2 0.7 2.2 0.7-0.3 0.3 1 0.7 4.1 0.7-0.6 0.4 0 0.7 1.9 0.3-0.5 0.7-2 0.7 1.7 1.1 1.7 0.7-3.7 0.3-0.6 0.7 3.3 0.4-0.1 0.3 1.3 0.4 0.3 0.7-6.4 1 6.5 0.7-0.9 1.1-1.9 0.7 1.8 0.3 0.1 0.7-1.7 1.1-0.1 1.7-2.7 0.7-0.4 1.1 5.9 1-0.8 0.7 0.6 1.8-2.7 1-5.3 0.7 7.8 0.4-0.3 0.7-7.7 0.3 5.6 0.4 2 0.3 0.2 0.7-4.2 1.8-4.4 1.4 7.6 0.3 1.4 0.4 0.1 1.7-3.1 1.8-7.7 0.7 1.5 0.7 7.7 0.3 1.7 0.7-0.2 0.4-0.7 0.7-4.1 0.7 5.3 0.3 0 0.7-0.8 1.8 0.2 1 0.5 0.7-1.4 0.4 0.2 0.7 1.4 0.7-0.1 1 0.3 1.1-0.2 0.7 0.2 1-0.9 0.7 1 0.7-0.1 0.4-0.1 1-1.4 0.7-0.2 0.7 1.1 0.4 0.3 0.7-0.9 1-0.4 1.1 0.5 0.7 0.1 0.7-0.4 0.3 0.1 0.7 1 0.4 0 2.4 0.2 1.1-0.6 0.7-0.1 1 0.8 3.5 0 1.8-1.2 1 0.6 0.7-0.3 1.8 0.9 0.3-0.2 0.7-1.5 0.7-0.1 0.7 1.3 1.1-1.2 0.3-0.9 0.7-3.8 0.7-0.9 0.4 0.8 0.7 5 0.3 0.1 0.7-1.3 0.7 0.2 0.4-0.3 0.7-1.1 0.7-2.3 0.3 0.9 0.7 4.5 0.7-0.6 0.4-0.7 0.7-3.6 1 5.2 0.7 0.1 0.4-0.5 0.7-2.9 1.7 2.1 1.1 0.4 0.7 1.1 0.3-0.3 0.7-4.3 0.7 2.9 0.4 0.2 0.7-1.1 0.7-4.6 0.3-0.5 0.7 4.3 1.1 1.2 1.4 0.6 0.3 0.1 1.1-3.6 0.7-1.1 0.7 5 0.3 0.8 0.7 0.1 0.4-0.3 0.7-1.7 0.7 1.4 0.3-0.7 0.7-3 0.7 3.4 0.4-0.1 0.7-2.6 0.7 0.2 0.3-0.9 0.7-6.4 1.1 9 0.7 0.4 1-0.9 0.7-3.2 0.4 0.6 0.7 3.6 0.7 0 0.3-0.7 0.7-4.9 0.8 1.7 1 4.7 0.4-1.2 0.7-7.3 0.7 7.6 0.3 0.6 0.7-1 0.7-2.2 0.4-0.5 0.7 0.9 0.7-3.1 0.3-0.3 0.7 5.9 0.4-0.6 0.7-4.2 0.7 4.5 0.3 0.6 0.7 0.3 1.1-6.6 0.7-1 0.7 6.4 0.3 1.3 0.7 0.2 0.4-0.1 0.7-0.8 0.7-2.9 0.3 0.7 0.7 3.1 0.7-7.1 0.4-0.7 0.7 7.8 0.3-1 0.7-5.6 0.7-0.5 1.1 5 0.7-3.8 0.3 1 0.7 4.6 1.1-5 0.7 1.9 1-2.8 0.7 0.3 0.7-0.1 0.4-0.1 0.7-1.1 1 6.4 0.4 0.5 0.7 0.4 0.7-0.5 1-6.2 0.7 2.5 0.4 0.3 1.4 0.2 1 3.6 1.1-10.1 0.7 4.8 0.3 0.3 0.7-0.1 0.7 1 1.1-6.1 0.7 5.5 0.3 0.8 0.7-0.7 0.7-3.4 0.4 0.9 0.7 6.3 1-8.1 1.4 6 0.7 1.8 0.4 0.5 0.3-0.3 0.7-2.6 1.1 2.7 0.7 1 0.3-1.2 0.7-5.9 0.7 1.1 1.1-1.6 0.7 1.5 1 4.1 0.7-4.4 0.4 0 0.7 5.4 0.3 0.2 0.7-0.3 1.8-3.4 0.7 3.9 0.3 0.5 0.7 0.1 0.7-5.7 0.4-0.6 0.7 6.2 0.3-0.8 0.7-4.5 0.7 2.5 0.4-1.2 0.7-4.8 0.7 1.2 1 5.1 1.1-1.1 0.7-1.4V710.5Z" fill="#4a86c8"/>
<path d="M43.2 727.4l0-0.2 3.5 0 0.4-0.4 1-0.3 0.7 0.2 0.7-2.9 0.4-0.1 1 2.7 0.4 0.4 2.1-0.8 1-1.4 0.7 1.9 1.1-0.4 0.7 0.4 0.7-1.5 0.7 1 0.3 0 0.7-0.8 0.7 0.5 1.4-1 1.1 1.5 0.3-0.3 0.4-0.8 0.7-3.7 0.3-0.3 1.1 3.5 1 1.2 0.4-0.9 0.7-4.1 0.3 0.1 0.7 3.9 0.4 1 1.7 1.1 2.1-0.1 0.7-0.3 0.3-0.6 0.7-4.3 0.7 3.7 0.4-0.1 0.7-2.9 0.7 1.8 0.7-1.9 0.7 1.7 0.3 0.2 0.7-2.2 0.7 1.4 0.7 3.4 0.7 0.2 0.4-0.1 0.3-1.3 0.4-3.1 0.7 3.7 0.3-0.1 1.4-2.9 0.7 0 0.7 2.4 0.7 0.9 0.4 0 1.4-1.1 0.7 1.4 0.3 0 0.7-2.2 0.4 1.7 0.3 0.7 0.7-0.5 1.1-3.2 0.7-0.5 1.4-0.2 1 3.1 0.7 0.2 1.4-0.2 1.1 1.1 1.4-0.5 1 0.7 0.7-0.8 0.7 0.7 1.1-0.3 0.7 0.4 1-0.2 1.1-0.9 1-1.8 0.7 0.8 1.1-0.1 0.7 1.5 1.4-0.6 0.3-0.4 0.7-2.2 0.7 1 0.7 2.8 0.4 0 0.7-1.5 0.7-0.1 1-0.6 0.4 0 1 1.9 2.5 0.2 0.7-1.6 0.7 0.4 0.7-0.3 1 1.4 0.7-1.3 0.7 1.5 0.4 0 0.7-0.7 0.7 0.5 0.7 0 0.7-2.1 0.3 0.1 0.4 1.8 0.3 0.5 0.4-0.8 0.3-2 0.7 1 0.4-0.1 0.3-0.8 0.4-0.1 0.7 2.3 0.7-1.8 1 1.3 0.4 0 0.3 0.7 0.7 0 0.7 0.2 1.1-0.2 1.4 0.3 1-0.3 0.7 0.3 0.7-0.6 0.7 0.5 1.1-0.4 0.7 0.4 0.7-0.2 1 0.1 0.7-0.2 0.7 0.3 1.4 0 0.4-0.1 0.7-1.2 0.7 0.1 0.7 0.9 0.3 0 0.7-1.2 0.7 0 0.7 1.4 0.4 0.1 0.7-0.5 0.7 0.5 2.4 0 0.7-0.4 0.7 0.4 1.8 0.1 0.7-0.1 1-0.6 0.7 0.5 0.7-1.1 0.7 1.2 0.4 0.1 2.1-0.3 1.4 0.1 1-0.4 1.8 0.5 0.7-0.7 0.7 0.6 1.7 0.1 0.7-0.4 0.4-0.5 0.7-3.4 0.3-0.8 1.1 4.8 0.7 0.4 1-0.1 0.7-0.6 0.7-0.2 1.1 0.8 1.4 0.1 0.7-0.9 0.7 0.8 1.7 0.1 1.8-0.2 0.7-0.8 0.7 0.1 1 0.6 0.7-0.3 1.4 0.4 1.1-0.2 0.7 0.4 1-0.1 0.7-0.5 0.7 0.3 2.5-0.4 0.7 0.6 1-0.1 0.7-0.5 0.7-2.6 0.7 2 0.7-1.1 0.4-0.3 0.3-0.1 0.4 0.4 0.7 1.8 0.7-1.7 0.7-0.6 0.3 0.2 0.7 1.4 0.7-0.1 1.4 0.3 1.1 0.9 1.4-3.4 0.3 0.4 0.7 2.8 0.7-0.6 1.4 0.4 0.4-0.3 0.7-4.2 0.7 1.9 0.7 2.9 0.3 0.2 0.7-1.2 0.7 0.7 0.7 0 1.1 0.5 0.7-1.2 0.7 0.8 0.7-0.6 0.3 0.2 0.7 0.8 0.7-0.6 0.7 0.1 0.7-0.4 0.4 0.1 0.7 0.9 0.3-0.4 0.4-1 0.3-0.1 1.1 1.1 1 0.3 0.7-1.3 0.4 0.3 0.3 0.9 0.4 0.2 0.7-1 0.7 0.7 0.7 0 0.3-0.3 0.7-1.7 0.7 2.2 1.8 0.1 0.7-0.3 0.7 0.3 0.7 0 0.3-0.1 0.4-0.5 1-2.6 0.7 2.8 0.4 0.1 0.7-1.6 0.7-2.6 0.7 4.1 0.3 0.2 0.7-0.1 0.7-1.1 0.7 1.4 0.4-0.4 1.4-4 0.7-0.3 0.7 4.4 0.3-0.1 0.7-1.4 1.4 0.6 0.7 0.8 0.4-0.7 0.7-6 0.3 0.8 0.7 4.7 0.4-0.6 0.7 1.9 0.3 0.3 0.7 0 0.4-0.9 0.3-2.1 0.7 2.1 0.4 0.3 1.7-0.6 1.1-3.9 0.7 2.9 1-1 0.7 2.6 0.4 0.3 1.4 0 0.7-1 0.3-0.1 0.7 0.4 1.1-0.4 0.3-0.9 0.7-7.3 0.4-1.5 0.7 8.2 0.3 1.5 0.4 0.3 1.4-0.6 1-2.2 0.7 3.7 1.4-1.4 0.4 0.1 0.7 1.4 0.7-0.6 1 0.2 1.4-2.1 0.7 2 0.4 0.1 0.7-0.5 0.3 0.3 0.4-0.3 1-6.7 0.4-0.1 1.7 7.1 1.4 0.5 0.4-0.1 0.7-3.2 0.7-0.3 0.7 3.5 0.3 0.2 0.7-0.8 1.4 0.6 0.4-0.2 0.7-1.6 0.7-1 0.7 2.3 1-2.9 0.7 2.2 0.7 1.2 0.7-1.2 1.1 1.4 1.4-1.1 0.7 0.9 1.1 0.2 0.7-0.4 0.7-1.7 1 2 1.4-1.2 0.7 1.1 0.4 0.1 0.7-0.5 0.7-2.3 0.3-0.1 1.4 1.7 0.7-0.4 0.7 1.8 1.8-0.4 0.7 0.4 1.4-0.9 1-0.2 1.4 0.5 1.1-0.5 0.7 1 2.4-0.1 0.7-1.1 0.7 0.6 0.4 0.1 0.7-1.2 0.7 1.2 0.7 0.2 1-0.4 0.7 0.8 0.7-0.6 1.1 0.1 0.7-0.4 0.7 0.2 0.7-1 0.3-0.3 0.4 0 1 2 0.4-0.3 0.3-0.8 0.4-0.2 1.4 0.5 0.7 0.6 0.7-2.6 0.3 0.3 0.4 1.7 0.3 0.6 1.4-0.4 0.7-3 0.4-0.9 0.3 0.8 0.7-2.5 0.4 0.3 0.7 4.3 0.3 0.9 0.4 0.2 0.3-0.3 0.7-3.2 0.4 2.8 0.3 1.1 0.7-0.1 0.4-0.4 0.7-1.9 0.7 2.4 0.3-0.3 1.1-2.4 0.3-0.2 0.7 2 0.7-1 0.7 0.4 0.4-0.1 0.7-1.9 0.7-0.6 0.7 2.2 0.3 0.2 0.7-0.6 0.7 0.1 0.7-0.8 0.7 1.8 0.4 0.3 0.7-1 0.7 1.1 1-3.6 0.7-4.8 0.4 0 0.7 5.9 0.3 1.5 0.4-0.3 0.3-1.2 0.4-0.4 1.4 3.5 0.7-0.5 1 0.8 0.7-0.3 0.7-1.8 0.7 1.7 0.4 0.1 0.7-1.1 0.7-0.7V727.4Z" fill="#f0a03c"/>
<line x1="43.2" y1="744" x2="371.3" y2="744" stroke="#f6cf9a" stroke-width="0.5"/>
<path d="M43.2 744l0-0.5 2.8-1.2 1.1 1 1.4 0.3 0.3-0.2 0.4-0.6 0.7-1.9 0.3 0 0.7 2 0.4 0.6 0.3 0.1 0.7-0.2 1.4 0.3 0.7 0 0.7-1 0.7 0.4 1.1 0.1 1 0.5 2.5-0.2 0.3-0.1 0.4-0.7 0.7-2.8 0.3-0.4 1.1 3.3 0.3 0.4 1.4 0.5 0.4-0.1 0.7-1.3 0.7 1.2 0.3 0.2 1.1-0.2 1.4 0.2 1.3 0 0.7-0.2 1.4-0.8 1.1 1 1 0 1.1-0.3 0.3 0.2 0.4-0.1 0.3-0.6 0.7-1.7 0.4 0.1 0.7 1.7 0.3 0.5 0.4 0 0.7-0.3 1.4-0.2 1.4 0.7 1-0.6 1.4 0.6 0.7 0 0.7-0.5 1.1 0.5 0.3-0.1 0.7-1.2 0.7 0.4 0.7 0.8 0.4 0.1 0.7 0 0.7-0.4 1.4 0.4 2.4-0.2 0.7 0.2 1.1 0 0.7-0.1 0.3-0.3 1.1 0.4 0.7-0.3 0.3-0.6 1.1 0.9 1-0.4 1.4 0.4 1.1 0 0.7-0.3 1 0.3 1.8-0.5 1.7 0.5 1.1 0 0.7-0.1 0.7-0.8 0.7-0.2 1 1.1 1.1-0.3 1-0.9 0.4 0.8 0.7 0.4 1.7-0.6 2.1 0.3 1.1-0.4 1 0.7 4.9 0 0.7-0.3 0.4-0.6 1 0.5 2.8-0.2 1.4 0.5 2.8 0.1 0.4-0.1 0.7-1.2 1 0.9 2.8 0.3 1.1-0.1 1 0.2 1.1-0.4 1 0.4 1.1 0 0.3-0.2 0.4-0.8 0.3 0.1 0.7 0.7 0.7 0.2 3.2-0.1 1.4 0.1 1.7-0.4 1.4 0 0.4-0.1 1-2.2 0.4-0.2 1 2.3 0.7 0.6 0.7 0 1.8 0 0.7-0.8 0.3 0.4 0.7 0.4 1.1-1.1 1 0.5 1.1-0.3 0.7-0.4 1 0.9 1.1 0 1-0.4 1.8 0.7 1-0.3 1.1 0.4 0.7-0.2 0.3-0.4 0.7 0.6 0.7 0 0.7-1.2 1.1 0.7 0.7-0.6 0.3 0 0.7 0.6 1.1 0.4 3.1 0.1 1.1-0.7 0.3 0.5 0.7 0.2 1.8 0 1-0.4 1.1 0.3 1 0.1 1.1-0.2 1.7 0.2 0.7-0.2 0.4-0.4 1 0.5 1.1-0.4 0.3 0.4 0.7 0.1 0.4-0.1 0.7-1 0.3 0.8 0.7 0.3 0.7-0.1 2.1 0.1 1.1-0.7 1 0.5 0.7-0.8 0.4-0.1 0.3 0.8 0.7 0.3 1.1-1 0.7-0.1 1 1.1 0.7-0.5 0.4-0.7 0.3 0.7 0.7 0.5 1.1-0.4 1 0.4 1.8-0.3 1-0.6 1.1 0.9 2.1 0 1-0.5 0.7 0.4 2.1-0.3 1.1 0.3 1-0.9 0.4 0.5 0.7 0.4 1-0.1 0.7-0.6 0.7 0.7 0.4 0.1 1 0 1.1-0.4 2.8 0.3 0.3-0.1 1.1-0.9 0.7 0 0.7 0.9 0.3 0.2 4.9 0 1.1-0.4 0.7 0.4 0.7 0 0.7-0.1 1-0.7 0.7 0.8 1.1 0 2.1-0.2 1-1 0.7 1.1 0.4 0.1 2.1-0.3 2.1-0.9 0.7 0.1 0.7 1 0.3 0.1 3.2 0 2.8-0.3 1-0.9 0.7 1.1 0.4 0.1 0.3-0.1 0.7-1.2 1.8 1.3 1-0.3 1.1 0.3 1.4 0 0.7-0.4 1 0.4 1.1-0.4 1 0.3 0.7-0.2 1.1 0.3 1-0.3 0.7 0.1 0.4-0.3 0.3-0.4 0.7-2.1 0.7-0.7 0.4 0.1 1.4 2.3 1.4 1.3 0.7-0.1 0.3-0.2 1.1 0.3 0.3-0.1 0.7-1.1 0.4 0.9 0.3 0.3 1.4 0 1.1-0.9 0.7 0.4 1.4 0.3 0.3-0.2 1.1-1.9 0.3-0.3 0.7 0.8 0.7 1.4 0.7 0.4 1.1-0.6 1.8 0.6 1-0.2 1.1 0.1 1-0.6 1.1 0.4 1-0.5 2.8 0.8 0.4-0.1 0.7-1.3 0.3 0.8 0.7 0.6 1.8-0.8 1 0.8 1.1 0 0.7-0.2 0.3-0.5 1.1 0.2 0.3 0.3 0.4-0.4 0.3-1.9 0.7-9.9 0.4-0.5 0.7 9.6 0.3 2.3 0.4 0.6 0.3 0.1 1.1-0.6 1 0.8 1.1 0.1 0.7-0.8 1-2.2 0.4 0 1 2.5 0.4 0.4 0.7 0.1 3.8-0.1 1.8 0.1 1-0.4 1.1 0.4 0.7-0.2 0.3-0.4 0.7 0.6 4.2-0.1 1.1-0.5 1 0.5 1.1-0.7 0.7 0.8 1.4-0.2 1.4 0.2 0.7-0.1 0.7-0.9 0.7 0.9 1.4 0.1 0.3-0.1 0.7-1 0.4 0.9 0.7 0.2 1.4-0.3 1.4-2 0.3 0 0.7 0.7 0.4 1 0.7 0.6 0.3-0.1 0.7-1 1.8 1.1 2.1 0 1-0.7 0.7-0.2 0.4 0 0.3 0.6 0.7 0.3 1.1-0.9V744Z" fill="#f0a03c"/>
<path d="M43.2 761l0-0.2 3.5 0 0.4-3.7 0.7 3.1 0.3 0.5 0.4-0.3 1.4-4.6 0.7 3.7 0.3 0.5 0.7-4.2 0.4-0.4 0.7 1.8 0.7 3.1 0.3 0.2 0.7 0 0.7-3 0.4-0.6 0.7 3.2 0.7 0.5 1 0.1 0.4-0.2 0.7-3.4 0.7-0.2 1 3.6 0.7-4.8 0.4-1.2 0.7 5 0.7 0.6 1 0.1 0.4-0.6 0.7-3.1 1.7-3.1 0.4 4.6 0.3 2.2 0.4 0.3 0.7-3 1 2.5 0.7 0.6 0.3-0.3 0.7-3 0.7 3 0.4 0.3 0.7 0.1 0.3-1.5 0.4-4 0.3-0.7 0.4 4.4 0.3 1.7 0.4-0.2 0.7-1.6 1.4 1.4 0.3 0.1 0.7-6.6 0.4 1.1 0.3 4.4 0.4 1.5 1-0.1 0.4-0.2 1.4-2.3 0.7 0.3 1-1 0.7 1.1 1.1 1.1 0.7-2.9 0.3 0.5 0.4 2.4 0.3 1 1.1-0.7 0.7 0.3 0.3-0.7 0.7-6.7 0.7 5.2 0.4 0.8 0.7-0.1 1.7-7.1 1.4 8.1 0.4 0.9 3.5 0.1 0.3-0.3 0.4-2.4 0.3-5.4 0.7 5.3 0.4 1.1 0.7-3.1 1 4.3 0.7 0.1 0.4-0.8 0.7-8.7 0.7 9.2 0.3 0.3 0.7-6.4 0.7 6.1 0.4 0.6 0.7-1.6 0.3-0.3 0.7 0.2 1.1-1.3 0.7-0.5 0.7 3.2 0.3 0 0.7-5.3 0.7 4.7 0.4 0.7 0.7-0.1 1 0.4 0.7-0.2 0.4-0.3 0.7-1.6 0.7 0.7 0.3-0.3 0.7-3.5 0.7 1 1.1 3.3 0.3 0.3 0.7 0 0.7-0.8 0.4 0.1 0.7 0.8 0.7-0.3 0.3-0.4 0.7-2.1 0.7 2.4 0.4 0.2 0.7-6.6 0.3-1.4 0.7 1 0.7 3 0.4 0.5 0.7-0.4 0.7-3.3 0.3 0.6 0.7 5.4 0.4 0.4 0.7 0.2 1-2 0.7-0.6 0.7 2.4 0.4 0.7 0.7 0.6 1-6.1 0.7 2.6 0.7 0.3 1.1 3.3 0.3-0.1 0.4-0.4 1-2.2 1.1-4.2 0.7 5.5 0.3 0.9 0.7 0.5 0.4-0.6 0.7-4.1 0.7-1.5 1 3.9 0.7-1.2 1.1 2.9 0.7 0.1 1 0.5 1.1 0 1-3.9 0.7-0.2 0.7 1.8 0.4 0.4 1.4 0.2 0.3-0.3 0.7-2.4 0.7 4 0.4 0.4 1.7-0.1 0.7-5.5 0.4-0.3 0.7 4.4 0.7-1.3 0.3 0.2 0.7 2.1 1.1-3.2 0.7 0.5 0.7 2 0.3 0.5 0.7-2.9 0.4-0.7 0.7 0.5 1.7 3.5 0.4-0.6 0.7-2.5 0.7-0.2 1 2.6 0.7 0.6 0.4-0.1 0.7-0.8 1 1.1 1.1 0.2 3.1-1.2 0.4-0.6 0.7-2.9 0.7 2 1 1.7 0.7-0.2 0.4-0.3 0.7-2.2 0.3 0.1 1.4 2.4 1.1 0.5 1-2.8 0.7 0.7 1.1 2.3 0.7 0.4 1.7 0.2 0.4-0.2 0.3-1.1 0.4-2.4 0.7-1.1 0.3 0.3 1.4 4.3 0.4 0.2 0.7-0.6 0.3 0 1.4 0.5 0.4-0.1 0.3-0.8 1.1-3.1 0.3-3 1.4 0.5 0.4 1.1 0.7 4.7 0.3-0.5 0.7-3.7 0.7 3.8 0.4 0.4 0.7-0.3 0.7-3.6 0.3 0.5 0.4 3.1 0.3 1.1 0.4-0.4 0.7-3.1 0.7 2.4 0.3-0.1 0.7-0.8 0.7 1.4 1.1 0.3 1-8.3 0.7 6.2 0.7 1.7 0.4 0.1 0.3-1.2 1.4-6.3 0.7 5 0.4 0.5 0.7-0.8 1-3.7 0.7-0.9 0.7 4.8 0.4 1.2 0.7-0.8 0.7 2.1 0.3 0.5 0.7 0 0.4-0.7 0.3-2.9 0.4-5.1 0.7 7.6 0.3 0.7 0.7-1.7 0.7 1.6 0.4 0.4 0.7 0.2 1.7-0.4 1.1 0.4 0.7-1.5 0.3-0.1 0.7 1.5 0.4-0.4 0.7-1.8 0.7 0.9 1-1.3 1.1 2.4 0.7 0.4 4.2-0.1 0.7-0.4 1.4-1.3 0.7 1.5 0.3 0.1 0.7-0.3 0.7-1 0.4-0.1 0.7 1.5 0.3-0.1 0.7-1.2 0.7 1.3 1.1 0.1 0.3-0.4 0.7-2.4 0.7 1.2 0.7-0.4 0.4 0 0.7 1.4 1 0.4 0.7-1.7 0.4-0.2 0.7 1.4 1-7.4 0.7 2.8 0.7-0.6 0.4 0.9 0.7 4.6 0.3 0.1 0.7-0.5 0.7 0.1 1.1 0.6 1-1 0.7-0.3 1.1 1.1 1.4 0.3 1-0.2 1.1-1.2 1-4.8 1.4 5.3 0.4 0.5 1.7 0 0.7-4.2 0.4 1 0.3 2.8 0.4 0.8 0.3-0.9 0.7-5.6 0.7 1.6 0.7 3.6 0.4 0.6 0.7-1.4 1 1.9 0.7-4.4 0.4 0.6 0.3 2.7 0.4 1.2 1-10 0.7 7.9 0.4-0.5 0.3-1.2 1.1-7.1 0.3-0.4 1.4 2.9 1.8 6.6 0.3 0.2 0.4-0.6 1-3.4 0.4-0.3 0.7 4.6 0.3-1.4 0.7-8.6 0.7 5.7 0.4-0.4 0.7-5.9 0.7 10.8 0.3 0.7 0.7-2.4 0.7-0.4 0.4 0.3 0.7 1.8 0.3-0.4 0.4-1.1 0.3 2.2 2.5 0.4 1-0.3 1.1 0.2 0.4-0.8 0.7 0.7 0.7 0.3 0.3-0.5 1.4-4.5 0.7 4.4 0.4 0 0.7-7.9 0.7 7.3 0.3 1.1 1.8 0 0.3-1.4 0.4-3.8 0.3 0.2 0.7 4.8 0.7 0.2 0.4-0.2 0.7-4.9 0.7 3.7 0.3 0.8 0.7-0.6 1.1-2.6 0.7 2.6 0.3-0.9 0.7-9.2 0.7 7.7 0.4 1 0.7-2.5 0.7-0.5 0.3 0.2 0.7 1.6 1.1-2.6 0.7 5 0.3 0.8 0.7 0.5 0.7-1.3 0.4-1.2 0.7-4.3 1 4.9 0.7 0 0.4-1.4 0.7-5.3 0.7 0.7 0.3-0.4 0.7-2.2 1.1 4.9 0.7 0.4 1 3.7 0.7 1 0.4-1.2 0.7-7.6 0.7 3.6 0.3-0.6 0.7-5.5 0.7 10.3 0.4 0.5 0.7-7.8 0.7 7.4 0.3 1 0.7-4.1 0.4 0.4 0.7 2.4 0.7-3.7 0.3-0.2 1.4 4.7 0.4-0.1 0.7-4.5 0.7 4.6 0.3 0.6 0.7-3.8 0.4-0.4 0.7 0.8 1.7-3.8 0.7 6.9 0.4 0.2 0.7-6.7 0.3-0.1 0.7 1.3 0.7-0.7 1.1-3.3 0.7 5.5 0.3 0.3 0.7-2.5 0.7 3.5 0.4-0.2 0.7-6.6 1 7.4 0.7-0.4 0.7 2.8 0.4 0.3 0.3-0.3 0.4-1 0.3 0 0.7 1.2 1.1 0 0.3-0.8 0.4-2.1 0.7 2.6 0.3 0.4 0.7-0.1 0.4-1.3 0.7-11.2 0.7 11.2 0.3 0.7 0.7-0.7 0.7-4.3 0.4 0.6 0.3 3.7 0.4 1.4V761Z" fill="#4a86c8"/>
<rect x="279.3" y="571.8" width="69.9" height="195.8" fill="rgb(90,102,5)" fill-opacity="0.24"/>
</g>
<g id="pG">
<text x="2.2" y="787.2" font-size="23.5" fill="#000" style="stroke:#000">G</text>
<text x="105.3" y="780" font-size="9.3" text-anchor="middle">Diver&amp;Different-Region</text>
<text x="291.6" y="780" font-size="9.3" text-anchor="middle">Diver&amp;Same-Region</text>
<rect x="64.5" y="786.55" width="13.55" height="9.04" fill="#fdf3e6"/>
<rect x="78.55" y="786.55" width="13.55" height="9.04" fill="#fae6cb"/>
<rect x="92.6" y="786.55" width="13.55" height="9.04" fill="#fdf3e6"/>
<rect x="106.65" y="786.55" width="13.55" height="9.04" fill="#fdf3e6"/>
<rect x="120.7" y="786.55" width="13.55" height="9.04" fill="#fdf3e6"/>
<rect x="134.75" y="786.55" width="13.55" height="9.04" fill="#fdf3e6"/>
<rect x="162.85" y="786.55" width="13.55" height="9.04" fill="#fdf3e6"/>
<rect x="50.45" y="796.09" width="13.55" height="9.04" fill="#fdf3e6"/>
<rect x="64.5" y="796.09" width="13.55" height="9.04" fill="#fdf3e6"/>
<rect x="78.55" y="796.09" width="13.55" height="9.04" fill="#fae6cb"/>
<rect x="106.65" y="796.09" width="13.55" height="9.04" fill="#fae6cb"/>
<rect x="134.75" y="796.09" width="13.55" height="9.04" fill="#fefaf4"/>
<rect x="50.45" y="805.63" width="13.55" height="9.04" fill="#fae6cb"/>
<rect x="106.65" y="805.63" width="13.55" height="9.04" fill="#e3edc4"/>
<rect x="148.8" y="805.63" width="13.55" height="9.04" fill="#f1f6e2"/>
<rect x="162.85" y="805.63" width="13.55" height="9.04" fill="#e3922a"/>
<rect x="50.45" y="815.17" width="13.55" height="9.04" fill="#fae6cb"/>
<rect x="64.5" y="815.17" width="13.55" height="9.04" fill="#f1f6e2"/>
<rect x="78.55" y="815.17" width="13.55" height="9.04" fill="#fdf3e6"/>
<rect x="92.6" y="815.17" width="13.55" height="9.04" fill="#fae6cb"/>
<rect x="106.65" y="815.17" width="13.55" height="9.04" fill="#f1f6e2"/>
<rect x="134.75" y="815.17" width="13.55" height="9.04" fill="#f3cb94"/>
<rect x="64.5" y="824.71" width="13.55" height="9.04" fill="#fdf3e6"/>
<rect x="106.65" y="824.71" width="13.55" height="9.04" fill="#fdf3e6"/>
<rect x="120.7" y="824.71" width="13.55" height="9.04" fill="#fefaf4"/>
<rect x="50.45" y="834.25" width="13.55" height="9.04" fill="#fae6cb"/>
<rect x="64.5" y="834.25" width="13.55" height="9.04" fill="#eaa84e"/>
<rect x="78.55" y="834.25" width="13.55" height="9.04" fill="#eaa84e"/>
<rect x="120.7" y="834.25" width="13.55" height="9.04" fill="#fae6cb"/>
<rect x="134.75" y="834.25" width="13.55" height="9.04" fill="#f1f6e2"/>
<rect x="148.8" y="834.25" width="13.55" height="9.04" fill="#e3edc4"/>
<rect x="162.85" y="834.25" width="13.55" height="9.04" fill="#e3edc4"/>
<rect x="50.45" y="843.79" width="13.55" height="9.04" fill="#fefaf4"/>
<rect x="120.7" y="843.79" width="13.55" height="9.04" fill="#fae6cb"/>
<rect x="134.75" y="843.79" width="13.55" height="9.04" fill="#fdf3e6"/>
<rect x="148.8" y="843.79" width="13.55" height="9.04" fill="#f3cb94"/>
<rect x="162.85" y="843.79" width="13.55" height="9.04" fill="#fdf3e6"/>
<rect x="50.45" y="853.33" width="13.55" height="9.04" fill="#fdf3e6"/>
<rect x="64.5" y="853.33" width="13.55" height="9.04" fill="#f1f6e2"/>
<rect x="78.55" y="853.33" width="13.55" height="9.04" fill="#fae6cb"/>
<rect x="120.7" y="853.33" width="13.55" height="9.04" fill="#fdf3e6"/>
<rect x="162.85" y="853.33" width="13.55" height="9.04" fill="#e3922a"/>
<rect x="50.45" y="862.87" width="13.55" height="9.04" fill="#fefaf4"/>
<rect x="64.5" y="862.87" width="13.55" height="9.04" fill="#f3cb94"/>
<rect x="78.55" y="862.87" width="13.55" height="9.04" fill="#fefaf4"/>
<rect x="92.6" y="862.87" width="13.55" height="9.04" fill="#fdf3e6"/>
<rect x="106.65" y="862.87" width="13.55" height="9.04" fill="#fdf3e6"/>
<rect x="120.7" y="862.87" width="13.55" height="9.04" fill="#fdf3e6"/>
<rect x="162.85" y="862.87" width="13.55" height="9.04" fill="#e3edc4"/>
<g font-size="11" fill="#111" text-anchor="middle" class="st">
<text x="169.62" y="816.35">**</text>
<text x="57.23" y="844.97">*</text>
<text x="71.28" y="844.97">**</text>
<text x="85.33" y="844.97">**</text>
<text x="141.53" y="844.97">**</text>
<text x="155.57" y="844.97">**</text>
<text x="169.62" y="844.97">**</text>
<text x="155.57" y="854.51">*</text>
<text x="169.62" y="864.05">**</text>
<text x="71.28" y="873.59">**</text>
<text x="141.53" y="873.59">*</text>
<text x="169.62" y="873.59">**</text>
</g>
<text x="46.3" y="792.97" font-size="7.4" text-anchor="end">BRCA</text>
<text x="46.3" y="802.51" font-size="7.4" text-anchor="end">CESC</text>
<text x="46.3" y="812.05" font-size="7.4" text-anchor="end">ESCA</text>
<text x="46.3" y="821.59" font-size="7.4" text-anchor="end">GBM</text>
<text x="46.3" y="831.13" font-size="7.4" text-anchor="end">LUAD</text>
<text x="46.3" y="840.67" font-size="7.4" text-anchor="end">PRAD</text>
<text x="46.3" y="850.21" font-size="7.4" text-anchor="end">SKCM</text>
<text x="46.3" y="859.75" font-size="7.4" text-anchor="end">STAD</text>
<text x="46.3" y="869.29" font-size="7.4" text-anchor="end">THCA</text>
<text x="54.62" y="874.4" font-size="7.2" transform="rotate(90 54.62 874.4)">CTCF</text>
<text x="68.68" y="874.4" font-size="7.2" transform="rotate(90 68.68 874.4)">AHR</text>
<text x="82.73" y="874.4" font-size="7.2" transform="rotate(90 82.73 874.4)">NR3C1</text>
<text x="96.78" y="874.4" font-size="7.2" transform="rotate(90 96.78 874.4)">IRF5</text>
<text x="110.83" y="874.4" font-size="7.2" transform="rotate(90 110.83 874.4)">MYC</text>
<text x="124.88" y="874.4" font-size="7.2" transform="rotate(90 124.88 874.4)">CEBPB</text>
<text x="138.93" y="874.4" font-size="7.2" transform="rotate(90 138.93 874.4)">GATA2</text>
<text x="152.97" y="874.4" font-size="7.2" transform="rotate(90 152.97 874.4)">HSF1</text>
<text x="167.03" y="874.4" font-size="7.2" transform="rotate(90 167.03 874.4)">CEBPA</text>
<rect x="236.65" y="787.25" width="13.6" height="9.95" fill="#fdf3e6"/>
<rect x="264.85" y="787.25" width="13.6" height="9.95" fill="#fdf3e6"/>
<rect x="278.95" y="787.25" width="13.6" height="9.95" fill="#fefaf4"/>
<rect x="335.35" y="787.25" width="13.6" height="9.95" fill="#f3cb94"/>
<rect x="222.55" y="797.7" width="13.6" height="9.95" fill="#f9fbf0"/>
<rect x="264.85" y="797.7" width="13.6" height="9.95" fill="#fdf3e6"/>
<rect x="278.95" y="797.7" width="13.6" height="9.95" fill="#fefaf4"/>
<rect x="293.05" y="797.7" width="13.6" height="9.95" fill="#fae6cb"/>
<rect x="307.15" y="797.7" width="13.6" height="9.95" fill="#fae6cb"/>
<rect x="321.25" y="797.7" width="13.6" height="9.95" fill="#fdf3e6"/>
<rect x="335.35" y="797.7" width="13.6" height="9.95" fill="#fdf3e6"/>
<rect x="222.55" y="808.15" width="13.6" height="9.95" fill="#fefaf4"/>
<rect x="278.95" y="808.15" width="13.6" height="9.95" fill="#fdf3e6"/>
<rect x="222.55" y="818.6" width="13.6" height="9.95" fill="#f1f6e2"/>
<rect x="236.65" y="818.6" width="13.6" height="9.95" fill="#f3cb94"/>
<rect x="250.75" y="818.6" width="13.6" height="9.95" fill="#f3cb94"/>
<rect x="264.85" y="818.6" width="13.6" height="9.95" fill="#e3edc4"/>
<rect x="307.15" y="818.6" width="13.6" height="9.95" fill="#c9da8f"/>
<rect x="321.25" y="818.6" width="13.6" height="9.95" fill="#c9da8f"/>
<rect x="335.35" y="818.6" width="13.6" height="9.95" fill="#e3922a"/>
<rect x="222.55" y="829.05" width="13.6" height="9.95" fill="#fefaf4"/>
<rect x="236.65" y="829.05" width="13.6" height="9.95" fill="#fae6cb"/>
<rect x="250.75" y="829.05" width="13.6" height="9.95" fill="#fefaf4"/>
<rect x="293.05" y="829.05" width="13.6" height="9.95" fill="#fdf3e6"/>
<rect x="335.35" y="829.05" width="13.6" height="9.95" fill="#fae6cb"/>
<rect x="222.55" y="839.5" width="13.6" height="9.95" fill="#fdf3e6"/>
<rect x="236.65" y="839.5" width="13.6" height="9.95" fill="#fefaf4"/>
<rect x="307.15" y="839.5" width="13.6" height="9.95" fill="#fae6cb"/>
<rect x="335.35" y="839.5" width="13.6" height="9.95" fill="#f3cb94"/>
<rect x="236.65" y="849.95" width="13.6" height="9.95" fill="#fdf3e6"/>
<rect x="250.75" y="849.95" width="13.6" height="9.95" fill="#f3cb94"/>
<rect x="321.25" y="849.95" width="13.6" height="9.95" fill="#f1f6e2"/>
<rect x="335.35" y="849.95" width="13.6" height="9.95" fill="#fdf3e6"/>
<rect x="236.65" y="860.4" width="13.6" height="9.95" fill="#fdf3e6"/>
<rect x="250.75" y="860.4" width="13.6" height="9.95" fill="#f3cb94"/>
<rect x="264.85" y="860.4" width="13.6" height="9.95" fill="#fae6cb"/>
<rect x="335.35" y="860.4" width="13.6" height="9.95" fill="#f3cb94"/>
<g font-size="11" fill="#111" text-anchor="middle" class="st">
<text x="342.75" y="796.83">*</text>
<text x="229.95" y="828.18">*</text>
<text x="244.05" y="828.18">**</text>
<text x="258.15" y="828.18">**</text>
<text x="272.25" y="828.18">**</text>
<text x="314.55" y="828.18">**</text>
<text x="328.65" y="828.18">**</text>
<text x="342.75" y="828.18">**</text>
<text x="342.75" y="849.08">**</text>
<text x="258.15" y="869.98">**</text>
<text x="342.75" y="869.98">**</text>
</g>
<text x="351.6" y="794.93" font-size="7.4">BLCA</text>
<text x="351.6" y="805.38" font-size="7.4">COAD</text>
<text x="351.6" y="815.83" font-size="7.4">HNSC</text>
<text x="351.6" y="826.28" font-size="7.4">LIHC</text>
<text x="351.6" y="836.73" font-size="7.4">LUSC</text>
<text x="351.6" y="847.18" font-size="7.4">OV</text>
<text x="351.6" y="857.62" font-size="7.4">READ</text>
<text x="351.6" y="868.08" font-size="7.4">UCEC</text>
<text x="226.75" y="873.6" font-size="7.2" transform="rotate(90 226.75 873.6)">CTCF</text>
<text x="240.85" y="873.6" font-size="7.2" transform="rotate(90 240.85 873.6)">AHR</text>
<text x="254.95" y="873.6" font-size="7.2" transform="rotate(90 254.95 873.6)">NR3C1</text>
<text x="269.05" y="873.6" font-size="7.2" transform="rotate(90 269.05 873.6)">IRF5</text>
<text x="283.15" y="873.6" font-size="7.2" transform="rotate(90 283.15 873.6)">MYC</text>
<text x="297.25" y="873.6" font-size="7.2" transform="rotate(90 297.25 873.6)">CEBPB</text>
<text x="311.35" y="873.6" font-size="7.2" transform="rotate(90 311.35 873.6)">GATA2</text>
<text x="325.45" y="873.6" font-size="7.2" transform="rotate(90 325.45 873.6)">HSF1</text>
<text x="339.55" y="873.6" font-size="7.2" transform="rotate(90 339.55 873.6)">CEBPA</text>
<text x="192" y="793" font-size="9">R</text>
<rect x="191.7" y="799.2" width="5.2" height="81.1" fill="url(#gOG)"/>
<text x="199.8" y="801.5" font-size="6.3">0.4</text>
<text x="199.8" y="821.9" font-size="6.3">0.2</text>
<text x="199.8" y="841.8" font-size="6.3">0</text>
<text x="199.8" y="862.2" font-size="6.3">−0.2</text>
<text x="199.8" y="882.6" font-size="6.3">−0.4</text>
</g>
<g id="pH">
<text x="391.5" y="585.2" font-size="23.5" fill="#000" style="stroke:#000">H</text>
<rect x="409.8" y="616.6" width="11.12" height="10.18" fill="#d4e6f3"/>
<rect x="420.87" y="616.6" width="11.12" height="10.18" fill="#95c5e0"/>
<rect x="431.94" y="616.6" width="11.12" height="10.18" fill="#f9e7c6"/>
<rect x="443.01" y="616.6" width="11.12" height="10.18" fill="#d4e6f3"/>
<rect x="454.08" y="616.6" width="11.12" height="10.18" fill="#fbf3e0"/>
<rect x="465.15" y="616.6" width="11.12" height="10.18" fill="#f7d8a6"/>
<rect x="476.22" y="616.6" width="22.19" height="10.18" fill="#d4e6f3"/>
<rect x="498.36" y="616.6" width="11.12" height="10.18" fill="#b6d6ea"/>
<rect x="509.43" y="616.6" width="44.33" height="10.18" fill="#d4e6f3"/>
<rect x="553.71" y="616.6" width="11.12" height="10.18" fill="#eff5fa"/>
<rect x="564.78" y="616.6" width="11.12" height="10.18" fill="#fbf3e0"/>
<rect x="575.85" y="616.6" width="22.19" height="10.18" fill="#eff5fa"/>
<rect x="597.99" y="616.6" width="11.12" height="10.18" fill="#fbf3e0"/>
<rect x="609.06" y="616.6" width="11.12" height="10.18" fill="#d4e6f3"/>
<rect x="620.13" y="616.6" width="11.12" height="10.18" fill="#fbf3e0"/>
<rect x="631.2" y="616.6" width="11.12" height="10.18" fill="#b6d6ea"/>
<rect x="409.8" y="626.73" width="11.12" height="10.18" fill="#95c5e0"/>
<rect x="420.87" y="626.73" width="11.12" height="10.18" fill="#eff5fa"/>
<rect x="431.94" y="626.73" width="11.12" height="10.18" fill="#d4e6f3"/>
<rect x="443.01" y="626.73" width="11.12" height="10.18" fill="#b6d6ea"/>
<rect x="454.08" y="626.73" width="11.12" height="10.18" fill="#eff5fa"/>
<rect x="465.15" y="626.73" width="11.12" height="10.18" fill="#f7d8a6"/>
<rect x="476.22" y="626.73" width="22.19" height="10.18" fill="#d4e6f3"/>
<rect x="498.36" y="626.73" width="11.12" height="10.18" fill="#fbf3e0"/>
<rect x="509.43" y="626.73" width="11.12" height="10.18" fill="#b6d6ea"/>
<rect x="520.5" y="626.73" width="11.12" height="10.18" fill="#fbf3e0"/>
<rect x="531.57" y="626.73" width="11.12" height="10.18" fill="#eff5fa"/>
<rect x="542.64" y="626.73" width="11.12" height="10.18" fill="#95c5e0"/>
<rect x="553.71" y="626.73" width="22.19" height="10.18" fill="#eff5fa"/>
<rect x="575.85" y="626.73" width="22.19" height="10.18" fill="#d4e6f3"/>
<rect x="597.99" y="626.73" width="11.12" height="10.18" fill="#eff5fa"/>
<rect x="609.06" y="626.73" width="11.12" height="10.18" fill="#fbf3e0"/>
<rect x="620.13" y="626.73" width="11.12" height="10.18" fill="#f7d8a6"/>
<rect x="631.2" y="626.73" width="11.12" height="10.18" fill="#95c5e0"/>
<rect x="409.8" y="636.86" width="11.12" height="10.18" fill="#d4e6f3"/>
<rect x="420.87" y="636.86" width="11.12" height="10.18" fill="#72aed6"/>
<rect x="431.94" y="636.86" width="11.12" height="10.18" fill="#5499cc"/>
<rect x="443.01" y="636.86" width="11.12" height="10.18" fill="#d4e6f3"/>
<rect x="454.08" y="636.86" width="22.19" height="10.18" fill="#fbf3e0"/>
<rect x="476.22" y="636.86" width="11.12" height="10.18" fill="#d4e6f3"/>
<rect x="487.29" y="636.86" width="11.12" height="10.18" fill="#eff5fa"/>
<rect x="498.36" y="636.86" width="11.12" height="10.18" fill="#d4e6f3"/>
<rect x="509.43" y="636.86" width="11.12" height="10.18" fill="#eff5fa"/>
<rect x="520.5" y="636.86" width="11.12" height="10.18" fill="#fbf3e0"/>
<rect x="531.57" y="636.86" width="11.12" height="10.18" fill="#d4e6f3"/>
<rect x="542.64" y="636.86" width="11.12" height="10.18" fill="#f7d8a6"/>
<rect x="553.71" y="636.86" width="11.12" height="10.18" fill="#d4e6f3"/>
<rect x="564.78" y="636.86" width="22.19" height="10.18" fill="#eff5fa"/>
<rect x="586.92" y="636.86" width="33.26" height="10.18" fill="#d4e6f3"/>
<rect x="620.13" y="636.86" width="11.12" height="10.18" fill="#eff5fa"/>
<rect x="631.2" y="636.86" width="11.12" height="10.18" fill="#d4e6f3"/>
<rect x="409.8" y="646.99" width="22.19" height="10.18" fill="#95c5e0"/>
<rect x="431.94" y="646.99" width="11.12" height="10.18" fill="#d4e6f3"/>
<rect x="443.01" y="646.99" width="11.12" height="10.18" fill="#eff5fa"/>
<rect x="454.08" y="646.99" width="22.19" height="10.18" fill="#fbf3e0"/>
<rect x="476.22" y="646.99" width="11.12" height="10.18" fill="#d4e6f3"/>
<rect x="487.29" y="646.99" width="11.12" height="10.18" fill="#eff5fa"/>
<rect x="498.36" y="646.99" width="77.54" height="10.18" fill="#d4e6f3"/>
<rect x="575.85" y="646.99" width="11.12" height="10.18" fill="#95c5e0"/>
<rect x="586.92" y="646.99" width="11.12" height="10.18" fill="#5499cc"/>
<rect x="597.99" y="646.99" width="22.19" height="10.18" fill="#d4e6f3"/>
<rect x="620.13" y="646.99" width="22.19" height="10.18" fill="#eff5fa"/>
<rect x="409.8" y="657.12" width="22.19" height="10.18" fill="#5499cc"/>
<rect x="431.94" y="657.12" width="11.12" height="10.18" fill="#f9e7c6"/>
<rect x="443.01" y="657.12" width="11.12" height="10.18" fill="#f4c189"/>
<rect x="454.08" y="657.12" width="33.26" height="10.18" fill="#eff5fa"/>
<rect x="487.29" y="657.12" width="11.12" height="10.18" fill="#fbf3e0"/>
<rect x="498.36" y="657.12" width="11.12" height="10.18" fill="#eff5fa"/>
<rect x="509.43" y="657.12" width="11.12" height="10.18" fill="#fbf3e0"/>
<rect x="520.5" y="657.12" width="11.12" height="10.18" fill="#f9e7c6"/>
<rect x="531.57" y="657.12" width="22.19" height="10.18" fill="#fbf3e0"/>
<rect x="553.71" y="657.12" width="11.12" height="10.18" fill="#f7d8a6"/>
<rect x="564.78" y="657.12" width="11.12" height="10.18" fill="#eff5fa"/>
<rect x="575.85" y="657.12" width="11.12" height="10.18" fill="#f7d8a6"/>
<rect x="586.92" y="657.12" width="11.12" height="10.18" fill="#d4e6f3"/>
<rect x="597.99" y="657.12" width="11.12" height="10.18" fill="#eff5fa"/>
<rect x="609.06" y="657.12" width="11.12" height="10.18" fill="#d4e6f3"/>
<rect x="620.13" y="657.12" width="22.19" height="10.18" fill="#eff5fa"/>
<rect x="409.8" y="667.25" width="22.19" height="10.18" fill="#d4e6f3"/>
<rect x="431.94" y="667.25" width="11.12" height="10.18" fill="#fbf3e0"/>
<rect x="443.01" y="667.25" width="11.12" height="10.18" fill="#d4e6f3"/>
<rect x="454.08" y="667.25" width="11.12" height="10.18" fill="#fbf3e0"/>
<rect x="465.15" y="667.25" width="11.12" height="10.18" fill="#eff5fa"/>
<rect x="476.22" y="667.25" width="11.12" height="10.18" fill="#d4e6f3"/>
<rect x="487.29" y="667.25" width="11.12" height="10.18" fill="#f9e7c6"/>
<rect x="498.36" y="667.25" width="11.12" height="10.18" fill="#95c5e0"/>
<rect x="509.43" y="667.25" width="11.12" height="10.18" fill="#d4e6f3"/>
<rect x="520.5" y="667.25" width="11.12" height="10.18" fill="#eff5fa"/>
<rect x="531.57" y="667.25" width="11.12" height="10.18" fill="#fbf3e0"/>
<rect x="542.64" y="667.25" width="11.12" height="10.18" fill="#eff5fa"/>
<rect x="553.71" y="667.25" width="33.26" height="10.18" fill="#fbf3e0"/>
<rect x="586.92" y="667.25" width="11.12" height="10.18" fill="#72aed6"/>
<rect x="597.99" y="667.25" width="11.12" height="10.18" fill="#fbf3e0"/>
<rect x="609.06" y="667.25" width="11.12" height="10.18" fill="#f4c189"/>
<rect x="620.13" y="667.25" width="11.12" height="10.18" fill="#eff5fa"/>
<rect x="631.2" y="667.25" width="11.12" height="10.18" fill="#fbf3e0"/>
<rect x="409.8" y="677.38" width="11.12" height="10.18" fill="#eff5fa"/>
<rect x="420.87" y="677.38" width="11.12" height="10.18" fill="#b6d6ea"/>
<rect x="431.94" y="677.38" width="11.12" height="10.18" fill="#f0a773"/>
<rect x="443.01" y="677.38" width="22.19" height="10.18" fill="#eff5fa"/>
<rect x="465.15" y="677.38" width="11.12" height="10.18" fill="#fbf3e0"/>
<rect x="476.22" y="677.38" width="11.12" height="10.18" fill="#b6d6ea"/>
<rect x="487.29" y="677.38" width="11.12" height="10.18" fill="#eff5fa"/>
<rect x="498.36" y="677.38" width="11.12" height="10.18" fill="#d4e6f3"/>
<rect x="509.43" y="677.38" width="22.19" height="10.18" fill="#eff5fa"/>
<rect x="531.57" y="677.38" width="22.19" height="10.18" fill="#fbf3e0"/>
<rect x="553.71" y="677.38" width="11.12" height="10.18" fill="#eff5fa"/>
<rect x="564.78" y="677.38" width="11.12" height="10.18" fill="#d4e6f3"/>
<rect x="575.85" y="677.38" width="11.12" height="10.18" fill="#fbf3e0"/>
<rect x="586.92" y="677.38" width="11.12" height="10.18" fill="#eff5fa"/>
<rect x="597.99" y="677.38" width="11.12" height="10.18" fill="#fbf3e0"/>
<rect x="609.06" y="677.38" width="22.19" height="10.18" fill="#eff5fa"/>
<rect x="631.2" y="677.38" width="11.12" height="10.18" fill="#fbf3e0"/>
<rect x="409.8" y="687.51" width="22.19" height="10.18" fill="#eff5fa"/>
<rect x="431.94" y="687.51" width="11.12" height="10.18" fill="#f0a773"/>
<rect x="443.01" y="687.51" width="33.26" height="10.18" fill="#eff5fa"/>
<rect x="476.22" y="687.51" width="11.12" height="10.18" fill="#fbf3e0"/>
<rect x="487.29" y="687.51" width="11.12" height="10.18" fill="#f7d8a6"/>
<rect x="498.36" y="687.51" width="11.12" height="10.18" fill="#d4e6f3"/>
<rect x="509.43" y="687.51" width="33.26" height="10.18" fill="#eff5fa"/>
<rect x="542.64" y="687.51" width="11.12" height="10.18" fill="#b6d6ea"/>
<rect x="553.71" y="687.51" width="33.26" height="10.18" fill="#fbf3e0"/>
<rect x="586.92" y="687.51" width="11.12" height="10.18" fill="#eff5fa"/>
<rect x="597.99" y="687.51" width="11.12" height="10.18" fill="#d4e6f3"/>
<rect x="609.06" y="687.51" width="22.19" height="10.18" fill="#eff5fa"/>
<rect x="631.2" y="687.51" width="11.12" height="10.18" fill="#fbf3e0"/>
<rect x="409.8" y="697.64" width="11.12" height="10.18" fill="#eff5fa"/>
<rect x="420.87" y="697.64" width="11.12" height="10.18" fill="#d4e6f3"/>
<rect x="431.94" y="697.64" width="11.12" height="10.18" fill="#eff5fa"/>
<rect x="443.01" y="697.64" width="11.12" height="10.18" fill="#fbf3e0"/>
<rect x="454.08" y="697.64" width="11.12" height="10.18" fill="#eff5fa"/>
<rect x="465.15" y="697.64" width="11.12" height="10.18" fill="#fbf3e0"/>
<rect x="476.22" y="697.64" width="22.19" height="10.18" fill="#eff5fa"/>
<rect x="498.36" y="697.64" width="11.12" height="10.18" fill="#d4e6f3"/>
<rect x="509.43" y="697.64" width="22.19" height="10.18" fill="#fbf3e0"/>
<rect x="531.57" y="697.64" width="44.33" height="10.18" fill="#eff5fa"/>
<rect x="575.85" y="697.64" width="11.12" height="10.18" fill="#fbf3e0"/>
<rect x="586.92" y="697.64" width="22.19" height="10.18" fill="#eff5fa"/>
<rect x="609.06" y="697.64" width="11.12" height="10.18" fill="#fbf3e0"/>
<rect x="620.13" y="697.64" width="22.19" height="10.18" fill="#eff5fa"/>
<rect x="409.8" y="707.77" width="22.19" height="10.18" fill="#eff5fa"/>
<rect x="431.94" y="707.77" width="22.19" height="10.18" fill="#fbf3e0"/>
<rect x="454.08" y="707.77" width="11.12" height="10.18" fill="#eff5fa"/>
<rect x="465.15" y="707.77" width="11.12" height="10.18" fill="#fbf3e0"/>
<rect x="476.22" y="707.77" width="22.19" height="10.18" fill="#eff5fa"/>
<rect x="498.36" y="707.77" width="11.12" height="10.18" fill="#fbf3e0"/>
<rect x="509.43" y="707.77" width="132.89" height="10.18" fill="#eff5fa"/>
<rect x="409.8" y="717.9" width="33.26" height="10.18" fill="#eff5fa"/>
<rect x="443.01" y="717.9" width="11.12" height="10.18" fill="#fbf3e0"/>
<rect x="454.08" y="717.9" width="11.12" height="10.18" fill="#eff5fa"/>
<rect x="465.15" y="717.9" width="44.33" height="10.18" fill="#fbf3e0"/>
<rect x="509.43" y="717.9" width="11.12" height="10.18" fill="#eff5fa"/>
<rect x="520.5" y="717.9" width="11.12" height="10.18" fill="#fbf3e0"/>
<rect x="531.57" y="717.9" width="110.75" height="10.18" fill="#eff5fa"/>
<rect x="409.8" y="728.03" width="22.19" height="10.18" fill="#5499cc"/>
<rect x="431.94" y="728.03" width="11.12" height="10.18" fill="#d4e6f3"/>
<rect x="443.01" y="728.03" width="11.12" height="10.18" fill="#f7d8a6"/>
<rect x="454.08" y="728.03" width="44.33" height="10.18" fill="#eff5fa"/>
<rect x="498.36" y="728.03" width="11.12" height="10.18" fill="#b6d6ea"/>
<rect x="509.43" y="728.03" width="22.19" height="10.18" fill="#eff5fa"/>
<rect x="531.57" y="728.03" width="11.12" height="10.18" fill="#d4e6f3"/>
<rect x="542.64" y="728.03" width="11.12" height="10.18" fill="#fbf3e0"/>
<rect x="553.71" y="728.03" width="11.12" height="10.18" fill="#eff5fa"/>
<rect x="564.78" y="728.03" width="11.12" height="10.18" fill="#95c5e0"/>
<rect x="575.85" y="728.03" width="11.12" height="10.18" fill="#f9e7c6"/>
<rect x="586.92" y="728.03" width="11.12" height="10.18" fill="#eff5fa"/>
<rect x="597.99" y="728.03" width="11.12" height="10.18" fill="#b6d6ea"/>
<rect x="609.06" y="728.03" width="11.12" height="10.18" fill="#95c5e0"/>
<rect x="620.13" y="728.03" width="11.12" height="10.18" fill="#eff5fa"/>
<rect x="631.2" y="728.03" width="11.12" height="10.18" fill="#d4e6f3"/>
<rect x="409.8" y="738.16" width="22.19" height="10.18" fill="#5499cc"/>
<rect x="431.94" y="738.16" width="11.12" height="10.18" fill="#eff5fa"/>
<rect x="443.01" y="738.16" width="11.12" height="10.18" fill="#fbf3e0"/>
<rect x="454.08" y="738.16" width="22.19" height="10.18" fill="#eff5fa"/>
<rect x="476.22" y="738.16" width="11.12" height="10.18" fill="#fbf3e0"/>
<rect x="487.29" y="738.16" width="11.12" height="10.18" fill="#f9e7c6"/>
<rect x="498.36" y="738.16" width="11.12" height="10.18" fill="#72aed6"/>
<rect x="509.43" y="738.16" width="11.12" height="10.18" fill="#d4e6f3"/>
<rect x="520.5" y="738.16" width="11.12" height="10.18" fill="#b6d6ea"/>
<rect x="531.57" y="738.16" width="11.12" height="10.18" fill="#72aed6"/>
<rect x="542.64" y="738.16" width="11.12" height="10.18" fill="#d4e6f3"/>
<rect x="553.71" y="738.16" width="11.12" height="10.18" fill="#eff5fa"/>
<rect x="564.78" y="738.16" width="11.12" height="10.18" fill="#95c5e0"/>
<rect x="575.85" y="738.16" width="22.19" height="10.18" fill="#d4e6f3"/>
<rect x="597.99" y="738.16" width="11.12" height="10.18" fill="#5499cc"/>
<rect x="609.06" y="738.16" width="33.26" height="10.18" fill="#eff5fa"/>
<rect x="409.8" y="748.29" width="11.12" height="10.18" fill="#95c5e0"/>
<rect x="420.87" y="748.29" width="11.12" height="10.18" fill="#5499cc"/>
<rect x="431.94" y="748.29" width="11.12" height="10.18" fill="#f9e7c6"/>
<rect x="443.01" y="748.29" width="11.12" height="10.18" fill="#eff5fa"/>
<rect x="454.08" y="748.29" width="11.12" height="10.18" fill="#fbf3e0"/>
<rect x="465.15" y="748.29" width="11.12" height="10.18" fill="#eff5fa"/>
<rect x="476.22" y="748.29" width="11.12" height="10.18" fill="#d4e6f3"/>
<rect x="487.29" y="748.29" width="11.12" height="10.18" fill="#f7d8a6"/>
<rect x="498.36" y="748.29" width="11.12" height="10.18" fill="#d4e6f3"/>
<rect x="509.43" y="748.29" width="11.12" height="10.18" fill="#b6d6ea"/>
<rect x="520.5" y="748.29" width="11.12" height="10.18" fill="#eff5fa"/>
<rect x="531.57" y="748.29" width="11.12" height="10.18" fill="#d4e6f3"/>
<rect x="542.64" y="748.29" width="11.12" height="10.18" fill="#fbf3e0"/>
<rect x="553.71" y="748.29" width="11.12" height="10.18" fill="#95c5e0"/>
<rect x="564.78" y="748.29" width="11.12" height="10.18" fill="#72aed6"/>
<rect x="575.85" y="748.29" width="11.12" height="10.18" fill="#f9e7c6"/>
<rect x="586.92" y="748.29" width="11.12" height="10.18" fill="#5499cc"/>
<rect x="597.99" y="748.29" width="11.12" height="10.18" fill="#eff5fa"/>
<rect x="609.06" y="748.29" width="11.12" height="10.18" fill="#d4e6f3"/>
<rect x="620.13" y="748.29" width="11.12" height="10.18" fill="#eff5fa"/>
<rect x="631.2" y="748.29" width="11.12" height="10.18" fill="#b6d6ea"/>
<rect x="409.8" y="758.42" width="11.12" height="10.18" fill="#72aed6"/>
<rect x="420.87" y="758.42" width="11.12" height="10.18" fill="#5499cc"/>
<rect x="431.94" y="758.42" width="11.12" height="10.18" fill="#f4c189"/>
<rect x="443.01" y="758.42" width="11.12" height="10.18" fill="#fbf3e0"/>
<rect x="454.08" y="758.42" width="11.12" height="10.18" fill="#eff5fa"/>
<rect x="465.15" y="758.42" width="11.12" height="10.18" fill="#b6d6ea"/>
<rect x="476.22" y="758.42" width="11.12" height="10.18" fill="#fbf3e0"/>
<rect x="487.29" y="758.42" width="11.12" height="10.18" fill="#eff5fa"/>
<rect x="498.36" y="758.42" width="11.12" height="10.18" fill="#d4e6f3"/>
<rect x="509.43" y="758.42" width="11.12" height="10.18" fill="#5499cc"/>
<rect x="520.5" y="758.42" width="22.19" height="10.18" fill="#d4e6f3"/>
<rect x="542.64" y="758.42" width="22.19" height="10.18" fill="#eff5fa"/>
<rect x="564.78" y="758.42" width="11.12" height="10.18" fill="#95c5e0"/>
<rect x="575.85" y="758.42" width="11.12" height="10.18" fill="#f9e7c6"/>
<rect x="586.92" y="758.42" width="11.12" height="10.18" fill="#b6d6ea"/>
<rect x="597.99" y="758.42" width="22.19" height="10.18" fill="#d4e6f3"/>
<rect x="620.13" y="758.42" width="11.12" height="10.18" fill="#eff5fa"/>
<rect x="631.2" y="758.42" width="11.12" height="10.18" fill="#d4e6f3"/>
<rect x="409.8" y="768.55" width="11.12" height="10.18" fill="#e9603f"/>
<rect x="420.87" y="768.55" width="11.12" height="10.18" fill="#d4e6f3"/>
<rect x="431.94" y="768.55" width="11.12" height="10.18" fill="#eff5fa"/>
<rect x="443.01" y="768.55" width="11.12" height="10.18" fill="#f7d8a6"/>
<rect x="454.08" y="768.55" width="22.19" height="10.18" fill="#eff5fa"/>
<rect x="476.22" y="768.55" width="22.19" height="10.18" fill="#f7d8a6"/>
<rect x="498.36" y="768.55" width="11.12" height="10.18" fill="#eff5fa"/>
<rect x="509.43" y="768.55" width="11.12" height="10.18" fill="#72aed6"/>
<rect x="520.5" y="768.55" width="11.12" height="10.18" fill="#eff5fa"/>
<rect x="531.57" y="768.55" width="11.12" height="10.18" fill="#f7d8a6"/>
<rect x="542.64" y="768.55" width="11.12" height="10.18" fill="#eff5fa"/>
<rect x="553.71" y="768.55" width="11.12" height="10.18" fill="#fbf3e0"/>
<rect x="564.78" y="768.55" width="11.12" height="10.18" fill="#f7d8a6"/>
<rect x="575.85" y="768.55" width="44.33" height="10.18" fill="#e9603f"/>
<rect x="620.13" y="768.55" width="11.12" height="10.18" fill="#f4c189"/>
<rect x="631.2" y="768.55" width="11.12" height="10.18" fill="#f7d8a6"/>
<rect x="409.8" y="778.68" width="11.12" height="10.18" fill="#e9603f"/>
<rect x="420.87" y="778.68" width="11.12" height="10.18" fill="#ec8558"/>
<rect x="431.94" y="778.68" width="11.12" height="10.18" fill="#f4c189"/>
<rect x="443.01" y="778.68" width="33.26" height="10.18" fill="#eff5fa"/>
<rect x="476.22" y="778.68" width="44.33" height="10.18" fill="#fbf3e0"/>
<rect x="520.5" y="778.68" width="11.12" height="10.18" fill="#b6d6ea"/>
<rect x="531.57" y="778.68" width="11.12" height="10.18" fill="#f7d8a6"/>
<rect x="542.64" y="778.68" width="11.12" height="10.18" fill="#eff5fa"/>
<rect x="553.71" y="778.68" width="33.26" height="10.18" fill="#f4c189"/>
<rect x="586.92" y="778.68" width="11.12" height="10.18" fill="#eff5fa"/>
<rect x="597.99" y="778.68" width="11.12" height="10.18" fill="#f0a773"/>
<rect x="609.06" y="778.68" width="11.12" height="10.18" fill="#e9603f"/>
<rect x="620.13" y="778.68" width="11.12" height="10.18" fill="#f7d8a6"/>
<rect x="631.2" y="778.68" width="11.12" height="10.18" fill="#e9603f"/>
<rect x="409.8" y="788.81" width="11.12" height="10.18" fill="#eff5fa"/>
<rect x="420.87" y="788.81" width="11.12" height="10.18" fill="#d4e6f3"/>
<rect x="431.94" y="788.81" width="11.12" height="10.18" fill="#fbf3e0"/>
<rect x="443.01" y="788.81" width="11.12" height="10.18" fill="#e9603f"/>
<rect x="454.08" y="788.81" width="22.19" height="10.18" fill="#eff5fa"/>
<rect x="476.22" y="788.81" width="11.12" height="10.18" fill="#fbf3e0"/>
<rect x="487.29" y="788.81" width="11.12" height="10.18" fill="#eff5fa"/>
<rect x="498.36" y="788.81" width="11.12" height="10.18" fill="#f4c189"/>
<rect x="509.43" y="788.81" width="11.12" height="10.18" fill="#eff5fa"/>
<rect x="520.5" y="788.81" width="11.12" height="10.18" fill="#f7d8a6"/>
<rect x="531.57" y="788.81" width="11.12" height="10.18" fill="#fbf3e0"/>
<rect x="542.64" y="788.81" width="11.12" height="10.18" fill="#eff5fa"/>
<rect x="553.71" y="788.81" width="22.19" height="10.18" fill="#f0a773"/>
<rect x="575.85" y="788.81" width="11.12" height="10.18" fill="#e9603f"/>
<rect x="586.92" y="788.81" width="11.12" height="10.18" fill="#d4e6f3"/>
<rect x="597.99" y="788.81" width="11.12" height="10.18" fill="#fbf3e0"/>
<rect x="609.06" y="788.81" width="11.12" height="10.18" fill="#f0a773"/>
<rect x="620.13" y="788.81" width="11.12" height="10.18" fill="#f7d8a6"/>
<rect x="631.2" y="788.81" width="11.12" height="10.18" fill="#fbf3e0"/>
<rect x="409.8" y="798.94" width="22.19" height="10.18" fill="#eff5fa"/>
<rect x="431.94" y="798.94" width="11.12" height="10.18" fill="#fbf3e0"/>
<rect x="443.01" y="798.94" width="11.12" height="10.18" fill="#ec8558"/>
<rect x="454.08" y="798.94" width="22.19" height="10.18" fill="#eff5fa"/>
<rect x="476.22" y="798.94" width="11.12" height="10.18" fill="#fbf3e0"/>
<rect x="487.29" y="798.94" width="11.12" height="10.18" fill="#eff5fa"/>
<rect x="498.36" y="798.94" width="11.12" height="10.18" fill="#fbf3e0"/>
<rect x="509.43" y="798.94" width="22.19" height="10.18" fill="#f4c189"/>
<rect x="531.57" y="798.94" width="11.12" height="10.18" fill="#f9e7c6"/>
<rect x="542.64" y="798.94" width="11.12" height="10.18" fill="#f4c189"/>
<rect x="553.71" y="798.94" width="22.19" height="10.18" fill="#e9603f"/>
<rect x="575.85" y="798.94" width="11.12" height="10.18" fill="#f4c189"/>
<rect x="586.92" y="798.94" width="22.19" height="10.18" fill="#eff5fa"/>
<rect x="609.06" y="798.94" width="11.12" height="10.18" fill="#e9603f"/>
<rect x="620.13" y="798.94" width="11.12" height="10.18" fill="#f0a773"/>
<rect x="631.2" y="798.94" width="11.12" height="10.18" fill="#f7d8a6"/>
<rect x="409.8" y="809.07" width="33.26" height="10.18" fill="#5499cc"/>
<rect x="443.01" y="809.07" width="11.12" height="10.18" fill="#d4e6f3"/>
<rect x="454.08" y="809.07" width="11.12" height="10.18" fill="#5499cc"/>
<rect x="465.15" y="809.07" width="11.12" height="10.18" fill="#b6d6ea"/>
<rect x="476.22" y="809.07" width="11.12" height="10.18" fill="#5499cc"/>
<rect x="487.29" y="809.07" width="11.12" height="10.18" fill="#95c5e0"/>
<rect x="498.36" y="809.07" width="143.96" height="10.18" fill="#5499cc"/>
<rect x="409.8" y="819.2" width="33.26" height="10.18" fill="#5499cc"/>
<rect x="443.01" y="819.2" width="11.12" height="10.18" fill="#d4e6f3"/>
<rect x="454.08" y="819.2" width="22.19" height="10.18" fill="#eff5fa"/>
<rect x="476.22" y="819.2" width="11.12" height="10.18" fill="#d4e6f3"/>
<rect x="487.29" y="819.2" width="11.12" height="10.18" fill="#fbf3e0"/>
<rect x="498.36" y="819.2" width="11.12" height="10.18" fill="#5499cc"/>
<rect x="509.43" y="819.2" width="11.12" height="10.18" fill="#72aed6"/>
<rect x="520.5" y="819.2" width="22.19" height="10.18" fill="#5499cc"/>
<rect x="542.64" y="819.2" width="11.12" height="10.18" fill="#f4c189"/>
<rect x="553.71" y="819.2" width="11.12" height="10.18" fill="#eff5fa"/>
<rect x="564.78" y="819.2" width="11.12" height="10.18" fill="#d4e6f3"/>
<rect x="575.85" y="819.2" width="11.12" height="10.18" fill="#5499cc"/>
<rect x="586.92" y="819.2" width="11.12" height="10.18" fill="#72aed6"/>
<rect x="597.99" y="819.2" width="11.12" height="10.18" fill="#5499cc"/>
<rect x="609.06" y="819.2" width="11.12" height="10.18" fill="#72aed6"/>
<rect x="620.13" y="819.2" width="11.12" height="10.18" fill="#5499cc"/>
<rect x="631.2" y="819.2" width="11.12" height="10.18" fill="#95c5e0"/>
<rect x="409.8" y="829.33" width="22.19" height="10.18" fill="#5499cc"/>
<rect x="431.94" y="829.33" width="11.12" height="10.18" fill="#b6d6ea"/>
<rect x="443.01" y="829.33" width="11.12" height="10.18" fill="#eff5fa"/>
<rect x="454.08" y="829.33" width="11.12" height="10.18" fill="#fbf3e0"/>
<rect x="465.15" y="829.33" width="22.19" height="10.18" fill="#d4e6f3"/>
<rect x="487.29" y="829.33" width="11.12" height="10.18" fill="#eff5fa"/>
<rect x="498.36" y="829.33" width="44.33" height="10.18" fill="#5499cc"/>
<rect x="542.64" y="829.33" width="11.12" height="10.18" fill="#72aed6"/>
<rect x="553.71" y="829.33" width="55.4" height="10.18" fill="#5499cc"/>
<rect x="609.06" y="829.33" width="11.12" height="10.18" fill="#72aed6"/>
<rect x="620.13" y="829.33" width="11.12" height="10.18" fill="#d4e6f3"/>
<rect x="631.2" y="829.33" width="11.12" height="10.18" fill="#eff5fa"/>
<rect x="409.8" y="839.46" width="22.19" height="10.18" fill="#5499cc"/>
<rect x="431.94" y="839.46" width="11.12" height="10.18" fill="#f0a773"/>
<rect x="443.01" y="839.46" width="11.12" height="10.18" fill="#eff5fa"/>
<rect x="454.08" y="839.46" width="11.12" height="10.18" fill="#fbf3e0"/>
<rect x="465.15" y="839.46" width="33.26" height="10.18" fill="#eff5fa"/>
<rect x="498.36" y="839.46" width="11.12" height="10.18" fill="#5499cc"/>
<rect x="509.43" y="839.46" width="11.12" height="10.18" fill="#72aed6"/>
<rect x="520.5" y="839.46" width="11.12" height="10.18" fill="#95c5e0"/>
<rect x="531.57" y="839.46" width="11.12" height="10.18" fill="#5499cc"/>
<rect x="542.64" y="839.46" width="22.19" height="10.18" fill="#72aed6"/>
<rect x="564.78" y="839.46" width="11.12" height="10.18" fill="#5499cc"/>
<rect x="575.85" y="839.46" width="11.12" height="10.18" fill="#fbf3e0"/>
<rect x="586.92" y="839.46" width="11.12" height="10.18" fill="#5499cc"/>
<rect x="597.99" y="839.46" width="11.12" height="10.18" fill="#d4e6f3"/>
<rect x="609.06" y="839.46" width="11.12" height="10.18" fill="#eff5fa"/>
<rect x="620.13" y="839.46" width="11.12" height="10.18" fill="#d4e6f3"/>
<rect x="631.2" y="839.46" width="11.12" height="10.18" fill="#95c5e0"/>
<rect x="409.8" y="849.59" width="11.12" height="10.18" fill="#5499cc"/>
<rect x="420.87" y="849.59" width="11.12" height="10.18" fill="#d4e6f3"/>
<rect x="431.94" y="849.59" width="44.33" height="10.18" fill="#eff5fa"/>
<rect x="476.22" y="849.59" width="11.12" height="10.18" fill="#b6d6ea"/>
<rect x="487.29" y="849.59" width="11.12" height="10.18" fill="#d4e6f3"/>
<rect x="498.36" y="849.59" width="11.12" height="10.18" fill="#5499cc"/>
<rect x="509.43" y="849.59" width="55.4" height="10.18" fill="#95c5e0"/>
<rect x="564.78" y="849.59" width="11.12" height="10.18" fill="#72aed6"/>
<rect x="575.85" y="849.59" width="44.33" height="10.18" fill="#5499cc"/>
<rect x="620.13" y="849.59" width="11.12" height="10.18" fill="#eff5fa"/>
<rect x="631.2" y="849.59" width="11.12" height="10.18" fill="#d4e6f3"/>
<rect x="409.8" y="859.72" width="22.19" height="10.18" fill="#5499cc"/>
<rect x="431.94" y="859.72" width="11.12" height="10.18" fill="#eff5fa"/>
<rect x="443.01" y="859.72" width="11.12" height="10.18" fill="#fbf3e0"/>
<rect x="454.08" y="859.72" width="11.12" height="10.18" fill="#eff5fa"/>
<rect x="465.15" y="859.72" width="11.12" height="10.18" fill="#fbf3e0"/>
<rect x="476.22" y="859.72" width="11.12" height="10.18" fill="#d4e6f3"/>
<rect x="487.29" y="859.72" width="11.12" height="10.18" fill="#f7d8a6"/>
<rect x="498.36" y="859.72" width="11.12" height="10.18" fill="#5499cc"/>
<rect x="509.43" y="859.72" width="11.12" height="10.18" fill="#95c5e0"/>
<rect x="520.5" y="859.72" width="11.12" height="10.18" fill="#b6d6ea"/>
<rect x="531.57" y="859.72" width="11.12" height="10.18" fill="#5499cc"/>
<rect x="542.64" y="859.72" width="11.12" height="10.18" fill="#72aed6"/>
<rect x="553.71" y="859.72" width="22.19" height="10.18" fill="#5499cc"/>
<rect x="575.85" y="859.72" width="11.12" height="10.18" fill="#95c5e0"/>
<rect x="586.92" y="859.72" width="33.26" height="10.18" fill="#5499cc"/>
<rect x="620.13" y="859.72" width="11.12" height="10.18" fill="#95c5e0"/>
<rect x="631.2" y="859.72" width="11.12" height="10.18" fill="#d4e6f3"/>
<g font-size="9.7" fill="#111" class="st">
<text y="624.7" x="411.7 415.5 422.8 426.6 444.9 448.7 478.1 481.9 489.2 493 500.3 504.1 533.5 537.3 611 614.8 633.1 636.9">******************</text>
<text y="634.8" x="411.7 415.5 448.7 478.1 481.9 489.2 493 622 625.8 633.1 636.9">***********</text>
<text y="645" x="411.7 415.5 422.8 426.6 444.9 448.7 459.8 478.1 481.9 500.3 504.1 533.5 537.3 555.6 559.4 599.9 603.7 611 614.8 633.1 636.9">*********************</text>
<text y="655.1" x="411.7 415.5 422.8 426.6 459.8 478.1 481.9 493 500.3 504.1 533.5 537.3 555.6 559.4 599.9 603.7 611 614.8 622 625.8 633.1 636.9">**********************</text>
<text y="665.2" x="411.7 415.5 422.8 426.6 444.9 448.7 478.1 481.9 555.6 559.4 611 614.8">************</text>
<text y="675.4" x="415.5 422.8 426.6 456 459.8 478.1 481.9 489.2 493 500.3 504.1 537.3 559.4 599.9 603.7 611 614.8 636.9">******************</text>
<text y="685.5" x="415.5 422.8 426.6 478.1 481.9 500.3 504.1 533.5 537.3 614.8 625.8 633.1 636.9">*************</text>
<text y="695.6" x="415.5 459.8 478.1 481.9 489.2 493 500.3 504.1 533.5 537.3 555.6 559.4 599.9 603.7 611 614.8 622 625.8">******************</text>
<text y="705.7" x="422.8 426.6 478.1 481.9 500.3 504.1 526.2 611 614.8">*********</text>
<text y="715.9" x="411.7 415.5 422.8 426.6 448.7 478.1 481.9 489.2 493 504.1 599.9 603.7 633.1 636.9">**************</text>
<text y="726" x="411.7 415.5 448.7 459.8 478.1 481.9 504.1 599.9 603.7">*********</text>
<text y="736.1" x="411.7 415.5 422.8 426.6 448.7 500.3 504.1 537.3 599.9 603.7 611 614.8 633.1 636.9">**************</text>
<text y="746.3" x="411.7 415.5 422.8 426.6 478.1 481.9 489.2 493 500.3 504.1 533.5 537.3 599.9 603.7">**************</text>
<text y="756.4" x="411.7 415.5 422.8 426.6 456 459.8 478.1 481.9 489.2 493 500.3 504.1 533.5 537.3 555.6 559.4 566.7 570.5 592.6 611 614.8 633.1 636.9">***********************</text>
<text y="766.5" x="411.7 415.5 422.8 426.6 459.8 478.1 481.9 500.3 504.1 533.5 537.3 599.9 603.7 611 614.8 633.1 636.9">*****************</text>
<text y="776.7" x="411.7 415.5 422.8 426.6 448.7 478.1 481.9 489.2 493 533.5 537.3 577.8 581.5 599.9 603.7 611 614.8 622 625.8 633.1 636.9">*********************</text>
<text y="786.8" x="411.7 415.5 422.8 426.6 478.1 481.9 533.5 537.3 555.6 559.4 599.9 603.7 611 614.8 625.8 633.1 636.9">*****************</text>
<text y="796.9" x="422.8 426.6 444.9 448.7 459.8 478.1 481.9 500.3 504.1 537.3 555.6 559.4 566.7 570.5 611 614.8 622 625.8 633.1 636.9">********************</text>
<text y="807" x="426.6 444.9 448.7 478.1 481.9 533.5 537.3 555.6 559.4 566.7 570.5 611 614.8 622 625.8 633.1 636.9">*****************</text>
<text y="817.2" x="411.7 415.5 422.8 426.6 456 459.8 478.1 481.9 489.2 493 500.3 504.1 522.4 526.2 533.5 537.3 555.6 559.4 566.7 570.5 581.5 588.8 592.6 599.9 603.7 611 614.8 622 625.8 633.1 636.9">*******************************</text>
<text y="827.3" x="411.7 415.5 422.8 426.6 478.1 481.9 500.3 504.1 522.4 526.2 533.5 537.3 581.5 599.9 603.7 611 614.8 622 625.8 633.1 636.9">*********************</text>
<text y="837.4" x="411.7 415.5 422.8 426.6 456 459.8 478.1 481.9 500.3 504.1 526.2 533.5 537.3 555.6 559.4 566.7 570.5 599.9 603.7 611 614.8 622 625.8 636.9">************************</text>
<text y="847.6" x="411.7 415.5 422.8 426.6 478.1 481.9 500.3 504.1 533.5 537.3 555.6 559.4 570.5 599.9 603.7 614.8 622 625.8 633.1 636.9">********************</text>
<text y="857.7" x="411.7 415.5 422.8 426.6 478.1 481.9 489.2 493 500.3 504.1 526.2 533.5 537.3 555.6 559.4 566.7 570.5 599.9 603.7 611 614.8 633.1 636.9">***********************</text>
<text y="867.8" x="411.7 415.5 422.8 426.6 459.8 478.1 481.9 489.2 493 500.3 504.1 533.5 537.3 555.6 559.4 566.7 570.5 599.9 603.7 611 614.8 622 625.8 633.1 636.9">*************************</text>
</g>
<path d="M415.34,616.6V600.5H426.41V616.6M459.62,616.6V608.8H470.69V616.6M481.75,616.6V606.4H492.83V616.6M465.15,608.8V605.1H487.29V606.4M448.55,616.6V600.9H476.22V605.1M437.48,616.6V598.7H462.38V600.9M526.03,616.6V606.7H537.11V616.6M514.97,616.6V605.5H531.57V606.7M503.89,616.6V603.3H523.27V605.5M559.25,616.6V607.8H570.32V616.6M548.17,616.6V598.3H564.78V607.8M513.58,603.3V597.2H556.48V598.3M592.46,616.6V601.7H603.52V616.6M625.66,616.6V602.6H636.74V616.6M614.6,616.6V600.6H631.2V602.6M597.99,601.7V597.2H622.9V600.6M581.38,616.6V594.7H610.44V597.2M535.03,597.2V590.4H595.91V594.7M449.93,598.7V587H565.47V590.4M420.87,600.5V581.9H507.7V587" stroke="#333" stroke-width="0.7" fill="none"/>
<path d="M409.8,621.67H404.8V631.8H409.8M409.8,641.93H404.8V652.06H409.8M404.8,626.73H403.4V646.99H404.8M403.4,636.86H402.7V662.19H409.8M409.8,672.32H405.4V682.45H409.8M405.4,677.38H404.9V692.58H409.8M409.8,702.71H406.3V712.84H409.8M406.3,707.77H405.8V722.97H409.8M404.9,684.98H404.2V715.37H405.8M402.7,649.52H401.8V700.17H404.2M409.8,733.1H406V743.23H409.8M409.8,753.36H407V763.49H409.8M406,738.16H404.8V758.42H407M401.8,674.85H401V748.29H404.8M409.8,793.88H403.3V804H409.8M409.8,783.75H400.8V798.94H403.3M409.8,773.62H398.5V791.34H400.8M401,711.57H394.5V782.48H398.5M409.8,854.65H403.8V864.79H409.8M409.8,844.53H401.8V859.72H403.8M409.8,834.39H400.8V852.12H401.8M409.8,824.27H398.2V843.26H400.8M409.8,814.13H390.3V833.76H398.2M394.5,747.02H375.6V823.95H390.3" stroke="#333" stroke-width="0.7" fill="none"/>
<text x="643.8" y="624.67" font-size="8.3">NF1*</text>
<text x="643.8" y="634.8" font-size="8.3">PTEN*</text>
<text x="643.8" y="644.93" font-size="8.3">ANK3</text>
<text x="643.8" y="655.06" font-size="8.3">NEB</text>
<text x="643.8" y="665.19" font-size="8.3">RYR2</text>
<text x="643.8" y="675.32" font-size="8.3">TP53*</text>
<text x="643.8" y="685.45" font-size="8.3">DST</text>
<text x="643.8" y="695.58" font-size="8.3">ZFHX3*</text>
<text x="643.8" y="705.71" font-size="8.3">BRAF*</text>
<text x="643.8" y="715.84" font-size="8.3">AKAP9*</text>
<text x="643.8" y="725.97" font-size="8.3">KRAS*</text>
<text x="643.8" y="736.1" font-size="8.3">CACNA1E</text>
<text x="643.8" y="746.23" font-size="8.3">RYR1</text>
<text x="643.8" y="756.36" font-size="8.3">ANK2</text>
<text x="643.8" y="766.49" font-size="8.3">DMD</text>
<text x="643.8" y="776.62" font-size="8.3">PIK3CA*</text>
<text x="643.8" y="786.75" font-size="8.3">APC*</text>
<text x="643.8" y="796.88" font-size="8.3">LAMA1</text>
<text x="643.8" y="807" font-size="8.3">RELN</text>
<text x="643.8" y="817.13" font-size="8.3">SPTA1</text>
<text x="643.8" y="827.27" font-size="8.3">PTPRD*</text>
<text x="643.8" y="837.39" font-size="8.3">TTN</text>
<text x="643.8" y="847.53" font-size="8.3">COL6A3</text>
<text x="643.8" y="857.65" font-size="8.3">APOB</text>
<text x="643.8" y="867.79" font-size="8.3">RYR3</text>
<text x="418.29" y="872.6" font-size="8.2" text-anchor="end" transform="rotate(-90 418.29 872.6)">BLCA</text>
<text x="429.36" y="872.6" font-size="8.2" text-anchor="end" transform="rotate(-90 429.36 872.6)">LIHC</text>
<text x="440.43" y="872.6" font-size="8.2" text-anchor="end" transform="rotate(-90 440.43 872.6)">SKCM</text>
<text x="451.5" y="872.6" font-size="8.2" text-anchor="end" transform="rotate(-90 451.5 872.6)">PAAD</text>
<text x="462.56" y="872.6" font-size="8.2" text-anchor="end" transform="rotate(-90 462.56 872.6)">THCA</text>
<text x="473.63" y="872.6" font-size="8.2" text-anchor="end" transform="rotate(-90 473.63 872.6)">THYM</text>
<text x="484.7" y="872.6" font-size="8.2" text-anchor="end" transform="rotate(-90 484.7 872.6)">KIRC</text>
<text x="495.78" y="872.6" font-size="8.2" text-anchor="end" transform="rotate(-90 495.78 872.6)">KIRP</text>
<text x="506.84" y="872.6" font-size="8.2" text-anchor="end" transform="rotate(-90 506.84 872.6)">LUSC</text>
<text x="517.92" y="872.6" font-size="8.2" text-anchor="end" transform="rotate(-90 517.92 872.6)">STAD</text>
<text x="528.99" y="872.6" font-size="8.2" text-anchor="end" transform="rotate(-90 528.99 872.6)">ESCA</text>
<text x="540.06" y="872.6" font-size="8.2" text-anchor="end" transform="rotate(-90 540.06 872.6)">HNSC</text>
<text x="551.12" y="872.6" font-size="8.2" text-anchor="end" transform="rotate(-90 551.12 872.6)">GBM</text>
<text x="562.2" y="872.6" font-size="8.2" text-anchor="end" transform="rotate(-90 562.2 872.6)">COAD</text>
<text x="573.27" y="872.6" font-size="8.2" text-anchor="end" transform="rotate(-90 573.27 872.6)">READ</text>
<text x="584.34" y="872.6" font-size="8.2" text-anchor="end" transform="rotate(-90 584.34 872.6)">CESC</text>
<text x="595.41" y="872.6" font-size="8.2" text-anchor="end" transform="rotate(-90 595.41 872.6)">PCPG</text>
<text x="606.48" y="872.6" font-size="8.2" text-anchor="end" transform="rotate(-90 606.48 872.6)">UCEC</text>
<text x="617.55" y="872.6" font-size="8.2" text-anchor="end" transform="rotate(-90 617.55 872.6)">BRCA</text>
<text x="628.62" y="872.6" font-size="8.2" text-anchor="end" transform="rotate(-90 628.62 872.6)">LUAD</text>
<text x="639.69" y="872.6" font-size="8.2" text-anchor="end" transform="rotate(-90 639.69 872.6)">PRAD</text>
<text x="647.8" y="570" font-size="7.6" font-weight="bold" fill="#111" style="stroke:#111">log2FC</text>
<rect x="654.3" y="573.1" width="8.8" height="43.5" fill="url(#gRB)"/>
<line x1="661.1" y1="575.5" x2="663.1" y2="575.5" stroke="#fff" stroke-width="0.4"/>
<line x1="654.3" y1="575.5" x2="656.3" y2="575.5" stroke="#fff" stroke-width="0.4"/>
<text x="664.9" y="578" font-size="7">1</text>
<line x1="661.1" y1="585.5" x2="663.1" y2="585.5" stroke="#fff" stroke-width="0.4"/>
<line x1="654.3" y1="585.5" x2="656.3" y2="585.5" stroke="#fff" stroke-width="0.4"/>
<text x="664.9" y="588" font-size="7">0.5</text>
<line x1="661.1" y1="595.6" x2="663.1" y2="595.6" stroke="#fff" stroke-width="0.4"/>
<line x1="654.3" y1="595.6" x2="656.3" y2="595.6" stroke="#fff" stroke-width="0.4"/>
<text x="664.9" y="598.1" font-size="7">0</text>
<line x1="661.1" y1="605.3" x2="663.1" y2="605.3" stroke="#fff" stroke-width="0.4"/>
<line x1="654.3" y1="605.3" x2="656.3" y2="605.3" stroke="#fff" stroke-width="0.4"/>
<text x="664.9" y="607.8" font-size="7">−0.5</text>
<line x1="661.1" y1="615.1" x2="663.1" y2="615.1" stroke="#fff" stroke-width="0.4"/>
<line x1="654.3" y1="615.1" x2="656.3" y2="615.1" stroke="#fff" stroke-width="0.4"/>
<text x="664.9" y="617.6" font-size="7">−1</text>
</g>
</svg></body></html>
